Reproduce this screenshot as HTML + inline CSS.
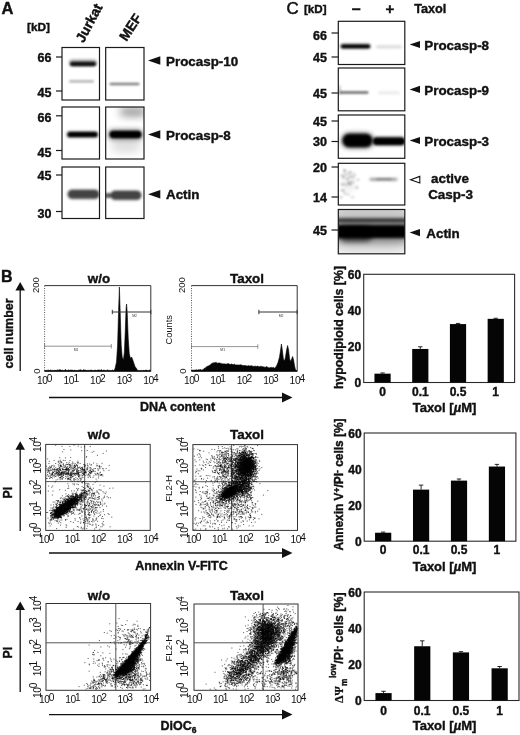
<!DOCTYPE html>
<html lang="en"><head><meta charset="utf-8"><title>Figure</title>
<style>html,body{margin:0;padding:0;background:#fff}svg{display:block}text{font-family:'Liberation Sans', Arial, Helvetica, sans-serif}</style></head><body>
<svg width="520" height="735" viewBox="0 0 520 735" font-family='"Liberation Sans", Arial, Helvetica, sans-serif'>
<rect width="520" height="735" fill="#fff"/>
<defs>
<filter id="b1" x="-50%" y="-200%" width="200%" height="500%"><feGaussianBlur stdDeviation="0.6"/></filter>
<filter id="b2" x="-50%" y="-200%" width="200%" height="500%"><feGaussianBlur stdDeviation="1.0"/></filter>
<filter id="b3" x="-50%" y="-200%" width="200%" height="500%"><feGaussianBlur stdDeviation="1.6"/></filter>
<filter id="b4" x="-50%" y="-200%" width="200%" height="500%"><feGaussianBlur stdDeviation="2.4"/></filter>
<filter id="b5" x="-50%" y="-200%" width="200%" height="500%"><feGaussianBlur stdDeviation="4"/></filter>
<filter id="b6" x="-50%" y="-200%" width="200%" height="500%"><feGaussianBlur stdDeviation="7"/></filter>
<filter id="bd" x="-2%" y="-2%" width="104%" height="104%"><feGaussianBlur stdDeviation="3.2"/></filter>
</defs>
<text x="1.5" y="13.6" font-size="16.5" font-weight="bold" stroke="#111" stroke-width="0.4" text-anchor="start" fill="#111">A</text>
<text x="27" y="31" font-size="11.8" font-weight="bold" stroke="#111" stroke-width="0.4" text-anchor="start" fill="#111">[kD]</text>
<text x="83.5" y="43.5" font-size="13.8" font-weight="bold" stroke="#111" stroke-width="0.4" text-anchor="start" fill="#111" transform="rotate(-62 83.5 43.5)">Jurkat</text>
<text x="126.5" y="42" font-size="13.8" font-weight="bold" stroke="#111" stroke-width="0.4" text-anchor="start" fill="#111" transform="rotate(-57 126.5 42)">MEF</text>
<clipPath id="c1"><rect x="62" y="47.5" width="37.5" height="52.5"/></clipPath>
<g clip-path="url(#c1)">
<rect x="70.0" y="61.75" width="26" height="4.5" rx="2.25" fill="#000" opacity="0.9" filter="url(#b2)"/>
<rect x="69.0" y="59.55" width="28" height="6.5" rx="3.25" fill="#000" opacity="0.35" filter="url(#b3)"/>
<rect x="69.0" y="80.2" width="25" height="2.2" rx="1.1" fill="#000" opacity="0.33" filter="url(#b2)"/>
</g>
<rect x="62" y="47.5" width="37.5" height="52.5" fill="none" stroke="#1a1a1a" stroke-width="1.2"/>
<clipPath id="c2"><rect x="105.7" y="47.5" width="38.3" height="52.5"/></clipPath>
<g clip-path="url(#c2)">
<rect x="109.5" y="82.7" width="30" height="2.6" rx="1.3" fill="#000" opacity="0.5" filter="url(#b2)"/>
</g>
<rect x="105.7" y="47.5" width="38.3" height="52.5" fill="none" stroke="#1a1a1a" stroke-width="1.2"/>
<clipPath id="c3"><rect x="62" y="107" width="37.5" height="52"/></clipPath>
<g clip-path="url(#c3)">
<rect x="67.5" y="132.0" width="30" height="5" rx="2.5" fill="#000" opacity="1" filter="url(#b2)"/>
<rect x="66.5" y="131.0" width="32" height="7" rx="3.5" fill="#000" opacity="0.4" filter="url(#b3)"/>
</g>
<rect x="62" y="107" width="37.5" height="52" fill="none" stroke="#1a1a1a" stroke-width="1.2"/>
<clipPath id="c4"><rect x="105.7" y="107" width="38.3" height="52"/></clipPath>
<g clip-path="url(#c4)">
<rect x="109.5" y="130.75" width="32" height="7.5" rx="3.75" fill="#000" opacity="1" filter="url(#b2)"/>
<rect x="107.5" y="129.0" width="36" height="11" rx="5.5" fill="#000" opacity="0.4" filter="url(#b4)"/>
<rect x="120.0" y="108.0" width="26" height="8" rx="4.0" fill="#000" opacity="0.45" filter="url(#b5)"/>
<rect x="111.0" y="137.0" width="30" height="16" rx="8.0" fill="#000" opacity="0.12" filter="url(#b5)"/>
</g>
<rect x="105.7" y="107" width="38.3" height="52" fill="none" stroke="#1a1a1a" stroke-width="1.2"/>
<clipPath id="c5"><rect x="62" y="167" width="37.5" height="51.5"/></clipPath>
<g clip-path="url(#c5)">
<rect x="68.0" y="190.05" width="31" height="8.5" rx="4.25" fill="#000" opacity="0.62" filter="url(#b2)"/>
<rect x="67.0" y="189.05" width="33" height="10.5" rx="5.25" fill="#000" opacity="0.3" filter="url(#b3)"/>
</g>
<rect x="62" y="167" width="37.5" height="51.5" fill="none" stroke="#1a1a1a" stroke-width="1.2"/>
<clipPath id="c6"><rect x="105.7" y="167" width="38.3" height="51.5"/></clipPath>
<g clip-path="url(#c6)">
<rect x="111.0" y="191.05" width="30" height="8.5" rx="4.25" fill="#000" opacity="0.62" filter="url(#b2)"/>
<rect x="110.0" y="190.05" width="32" height="10.5" rx="5.25" fill="#000" opacity="0.3" filter="url(#b3)"/>
<rect x="104.0" y="193.0" width="8" height="5" rx="2.5" fill="#000" opacity="0.6" filter="url(#b2)"/>
</g>
<rect x="105.7" y="167" width="38.3" height="51.5" fill="none" stroke="#1a1a1a" stroke-width="1.2"/>
<line x1="56" y1="57" x2="62" y2="57" stroke="#1a1a1a" stroke-width="1.2"/>
<text x="51.5" y="62.4" font-size="12.5" font-weight="bold" stroke="#111" stroke-width="0.4" text-anchor="end" fill="#111">66</text>
<line x1="56" y1="91" x2="62" y2="91" stroke="#1a1a1a" stroke-width="1.2"/>
<text x="51.5" y="97.4" font-size="12.5" font-weight="bold" stroke="#111" stroke-width="0.4" text-anchor="end" fill="#111">45</text>
<line x1="56" y1="115.8" x2="62" y2="115.8" stroke="#1a1a1a" stroke-width="1.2"/>
<text x="51.5" y="121.6" font-size="12.5" font-weight="bold" stroke="#111" stroke-width="0.4" text-anchor="end" fill="#111">66</text>
<line x1="56" y1="150.5" x2="62" y2="150.5" stroke="#1a1a1a" stroke-width="1.2"/>
<text x="51.5" y="156.8" font-size="12.5" font-weight="bold" stroke="#111" stroke-width="0.4" text-anchor="end" fill="#111">45</text>
<line x1="56" y1="175" x2="62" y2="175" stroke="#1a1a1a" stroke-width="1.2"/>
<text x="51.5" y="179.6" font-size="12.5" font-weight="bold" stroke="#111" stroke-width="0.4" text-anchor="end" fill="#111">45</text>
<line x1="56" y1="211.5" x2="62" y2="211.5" stroke="#1a1a1a" stroke-width="1.2"/>
<text x="51.5" y="217.7" font-size="12.5" font-weight="bold" stroke="#111" stroke-width="0.4" text-anchor="end" fill="#111">30</text>
<polygon points="148,60.5 160.3,56.3 160.3,64.7" fill="#111"/>
<text x="166" y="66" font-size="13.4" font-weight="bold" stroke="#111" stroke-width="0.4" text-anchor="start" fill="#111">Procasp-10</text>
<polygon points="148,134.5 160.3,130.3 160.3,138.7" fill="#111"/>
<text x="166" y="140" font-size="13.4" font-weight="bold" stroke="#111" stroke-width="0.4" text-anchor="start" fill="#111">Procasp-8</text>
<polygon points="148,194.2 160.3,190.0 160.3,198.39999999999998" fill="#111"/>
<text x="166" y="198.6" font-size="13.4" font-weight="bold" stroke="#111" stroke-width="0.4" text-anchor="start" fill="#111">Actin</text>
<text x="286.6" y="14.2" font-size="16.8" text-anchor="start" fill="#111" stroke="#111" stroke-width="0.55">C</text>
<text x="304" y="12.8" font-size="11.6" font-weight="bold" stroke="#111" stroke-width="0.4" text-anchor="start" fill="#111">[kD]</text>
<text x="356.2" y="14" font-size="16" font-weight="bold" stroke="#111" stroke-width="0.4" text-anchor="middle" fill="#111">–</text>
<text x="390" y="14" font-size="15" font-weight="bold" stroke="#111" stroke-width="0.4" text-anchor="middle" fill="#111">+</text>
<text x="414.2" y="13.2" font-size="12.7" font-weight="bold" stroke="#111" stroke-width="0.4" text-anchor="start" fill="#111">Taxol</text>
<clipPath id="c7"><rect x="338.3" y="21.3" width="66.5" height="43.2"/></clipPath>
<g clip-path="url(#c7)">
<rect x="341.0" y="44.4" width="29" height="3.8" rx="1.9" fill="#000" opacity="1" filter="url(#b2)"/>
<rect x="340.0" y="43.55" width="31" height="5.5" rx="2.75" fill="#000" opacity="0.35" filter="url(#b3)"/>
<rect x="376.0" y="45.7" width="26" height="2.2" rx="1.1" fill="#000" opacity="0.2" filter="url(#b3)"/>
</g>
<rect x="338.3" y="21.3" width="66.5" height="43.2" fill="none" stroke="#1a1a1a" stroke-width="1.2"/>
<clipPath id="c8"><rect x="338.3" y="68" width="66.5" height="42.8"/></clipPath>
<g clip-path="url(#c8)">
<rect x="339.5" y="91.3" width="29" height="2.4" rx="1.2" fill="#000" opacity="0.6" filter="url(#b2)"/>
<rect x="378.0" y="91.8" width="22" height="2" rx="1.0" fill="#000" opacity="0.12" filter="url(#b3)"/>
<rect x="337.0" y="85.0" width="4" height="10" rx="5.0" fill="#000" opacity="0.2" filter="url(#b3)"/>
</g>
<rect x="338.3" y="68" width="66.5" height="42.8" fill="none" stroke="#1a1a1a" stroke-width="1.2"/>
<clipPath id="c9"><rect x="338.3" y="115" width="66.5" height="43.3"/></clipPath>
<g clip-path="url(#c9)">
<rect x="342.5" y="133.75" width="30" height="13.5" rx="6.75" fill="#000" opacity="1" filter="url(#b3)"/>
<rect x="341.0" y="132.5" width="33" height="16" rx="8.0" fill="#000" opacity="0.45" filter="url(#b4)"/>
<rect x="373.0" y="137.45" width="32" height="7.5" rx="3.75" fill="#000" opacity="1" filter="url(#b2)"/>
<rect x="372.0" y="136.2" width="34" height="10" rx="5.0" fill="#000" opacity="0.35" filter="url(#b3)"/>
</g>
<rect x="338.3" y="115" width="66.5" height="43.3" fill="none" stroke="#1a1a1a" stroke-width="1.2"/>
<clipPath id="c10"><rect x="338.3" y="163.3" width="66.5" height="41.7"/></clipPath>
<g clip-path="url(#c10)">
<rect x="369.5" y="178.2" width="28" height="2.2" rx="1.1" fill="#000" opacity="0.5" filter="url(#b3)"/>
<rect x="376.0" y="178.5" width="16" height="1.6" rx="0.8" fill="#000" opacity="0.3" filter="url(#b2)"/>
<rect x="342.0" y="171.0" width="14" height="22" rx="11.0" fill="#000" opacity="0.05" filter="url(#b4)"/>
<rect x="339.8" y="173.65" width="4.0" height="2.9" rx="1.45" fill="#000" opacity="0.11" filter="url(#b2)"/>
<rect x="347.9" y="180.8" width="2.6" height="3.2" rx="1.6" fill="#000" opacity="0.12" filter="url(#b2)"/>
<rect x="346.8" y="182.05" width="3.2" height="2.9" rx="1.45" fill="#000" opacity="0.2" filter="url(#b2)"/>
<rect x="348.25" y="174.95" width="3.7" height="3.1" rx="1.55" fill="#000" opacity="0.14" filter="url(#b2)"/>
<rect x="339.55" y="195.95" width="2.9" height="2.5" rx="1.25" fill="#000" opacity="0.22" filter="url(#b2)"/>
<rect x="350.1" y="181.1" width="4.0" height="2.0" rx="1.0" fill="#000" opacity="0.2" filter="url(#b2)"/>
<rect x="342.75" y="168.95" width="3.7" height="3.5" rx="1.75" fill="#000" opacity="0.13" filter="url(#b2)"/>
<rect x="351.05" y="175.3" width="3.9" height="3.2" rx="1.6" fill="#000" opacity="0.13" filter="url(#b2)"/>
<rect x="354.9" y="186.05" width="3.8" height="3.3" rx="1.65" fill="#000" opacity="0.16" filter="url(#b2)"/>
<rect x="347.0" y="192.7" width="2.4" height="3.4" rx="1.7" fill="#000" opacity="0.16" filter="url(#b2)"/>
<rect x="348.2" y="171.15" width="3.8" height="2.5" rx="1.25" fill="#000" opacity="0.22" filter="url(#b2)"/>
<rect x="344.65" y="183.4" width="3.1" height="3.0" rx="1.5" fill="#000" opacity="0.13" filter="url(#b2)"/>
<rect x="340.75" y="188.95" width="3.9" height="2.9" rx="1.45" fill="#000" opacity="0.23" filter="url(#b2)"/>
<rect x="343.6" y="191.75" width="2.6" height="3.5" rx="1.75" fill="#000" opacity="0.19" filter="url(#b2)"/>
<rect x="350.5" y="195.45" width="4.0" height="3.3" rx="1.65" fill="#000" opacity="0.11" filter="url(#b2)"/>
<rect x="343.2" y="169.35" width="2.6" height="2.3" rx="1.15" fill="#000" opacity="0.22" filter="url(#b2)"/>
<rect x="341.75" y="175.2" width="3.3" height="3.4" rx="1.7" fill="#000" opacity="0.24" filter="url(#b2)"/>
<rect x="352.75" y="172.85" width="3.5" height="3.1" rx="1.55" fill="#000" opacity="0.11" filter="url(#b2)"/>
<rect x="345.7" y="177.45" width="3.6" height="3.1" rx="1.55" fill="#000" opacity="0.19" filter="url(#b2)"/>
<rect x="349.55" y="183.2" width="2.7" height="2.8" rx="1.4" fill="#000" opacity="0.12" filter="url(#b2)"/>
<rect x="348.1" y="182.8" width="4.0" height="2.6" rx="1.3" fill="#000" opacity="0.1" filter="url(#b2)"/>
<rect x="344.05" y="172.9" width="3.9" height="2.6" rx="1.3" fill="#000" opacity="0.15" filter="url(#b2)"/>
<rect x="356.8" y="178.5" width="3.0" height="2.6" rx="1.3" fill="#000" opacity="0.17" filter="url(#b2)"/>
<rect x="340.65" y="182.95" width="4.3" height="2.9" rx="1.45" fill="#000" opacity="0.2" filter="url(#b2)"/>
</g>
<rect x="338.3" y="163.3" width="66.5" height="41.7" fill="none" stroke="#1a1a1a" stroke-width="1.2"/>
<clipPath id="c11"><rect x="338.3" y="209.5" width="66.5" height="44.3"/></clipPath>
<g clip-path="url(#c11)">
<rect x="338.3" y="209.5" width="66.5" height="44.3" fill="#f6f6f6"/>
<rect x="331.5" y="225.0" width="80" height="13" rx="6.5" fill="#000" opacity="1" filter="url(#b3)"/>
<rect x="339.0" y="226.5" width="34" height="15" rx="7.5" fill="#000" opacity="0.6" filter="url(#b4)"/>
<rect x="331.5" y="222.5" width="80" height="19" rx="9.5" fill="#000" opacity="0.4" filter="url(#b5)"/>
<rect x="331.5" y="218.2" width="80" height="4.2" rx="2.1" fill="#000" opacity="0.7" filter="url(#b3)"/>
<rect x="326.5" y="203.0" width="90" height="46" rx="23.0" fill="#000" opacity="0.2" filter="url(#b6)"/>
</g>
<rect x="338.3" y="209.5" width="66.5" height="44.3" fill="none" stroke="#1a1a1a" stroke-width="1.2"/>
<line x1="331.5" y1="33" x2="338.3" y2="33" stroke="#1a1a1a" stroke-width="1.2"/>
<text x="327" y="40.2" font-size="12.5" font-weight="bold" stroke="#111" stroke-width="0.4" text-anchor="end" fill="#111">66</text>
<line x1="331.5" y1="57" x2="338.3" y2="57" stroke="#1a1a1a" stroke-width="1.2"/>
<text x="327" y="61.6" font-size="12.5" font-weight="bold" stroke="#111" stroke-width="0.4" text-anchor="end" fill="#111">45</text>
<line x1="331.5" y1="93" x2="338.3" y2="93" stroke="#1a1a1a" stroke-width="1.2"/>
<text x="327" y="97.6" font-size="12.5" font-weight="bold" stroke="#111" stroke-width="0.4" text-anchor="end" fill="#111">45</text>
<line x1="331.5" y1="121" x2="338.3" y2="121" stroke="#1a1a1a" stroke-width="1.2"/>
<text x="327" y="125.6" font-size="12.5" font-weight="bold" stroke="#111" stroke-width="0.4" text-anchor="end" fill="#111">45</text>
<line x1="331.5" y1="141.5" x2="338.3" y2="141.5" stroke="#1a1a1a" stroke-width="1.2"/>
<text x="327" y="146.1" font-size="12.5" font-weight="bold" stroke="#111" stroke-width="0.4" text-anchor="end" fill="#111">30</text>
<line x1="331.5" y1="167" x2="338.3" y2="167" stroke="#1a1a1a" stroke-width="1.2"/>
<text x="327" y="171.6" font-size="12.5" font-weight="bold" stroke="#111" stroke-width="0.4" text-anchor="end" fill="#111">20</text>
<line x1="331.5" y1="197" x2="338.3" y2="197" stroke="#1a1a1a" stroke-width="1.2"/>
<text x="327" y="201.6" font-size="12.5" font-weight="bold" stroke="#111" stroke-width="0.4" text-anchor="end" fill="#111">14</text>
<line x1="331.5" y1="230" x2="338.3" y2="230" stroke="#1a1a1a" stroke-width="1.2"/>
<text x="327" y="234.6" font-size="12.5" font-weight="bold" stroke="#111" stroke-width="0.4" text-anchor="end" fill="#111">45</text>
<polygon points="409.6,44.5 420,40.9 420,48.1" fill="#111"/>
<text x="424.3" y="50.1" font-size="13.4" font-weight="bold" stroke="#111" stroke-width="0.4" text-anchor="start" fill="#111">Procasp-8</text>
<polygon points="409.6,89.4 420,85.80000000000001 420,93.0" fill="#111"/>
<text x="424.3" y="95.0" font-size="13.4" font-weight="bold" stroke="#111" stroke-width="0.4" text-anchor="start" fill="#111">Procasp-9</text>
<polygon points="409.6,140.5 420,136.9 420,144.1" fill="#111"/>
<text x="424.3" y="146.1" font-size="13.4" font-weight="bold" stroke="#111" stroke-width="0.4" text-anchor="start" fill="#111">Procasp-3</text>
<polygon points="409.6,232.6 420,229.0 420,236.2" fill="#111"/>
<text x="426.3" y="238.2" font-size="13.4" font-weight="bold" stroke="#111" stroke-width="0.4" text-anchor="start" fill="#111">Actin</text>
<polygon points="410.6,179.7 419.8,176.4 419.8,183" fill="#fff" stroke="#111" stroke-width="1.1"/>
<text x="431" y="182.8" font-size="13.4" font-weight="bold" stroke="#111" stroke-width="0.4" text-anchor="start" fill="#111">active</text>
<text x="428.2" y="199" font-size="13.4" font-weight="bold" stroke="#111" stroke-width="0.4" text-anchor="start" fill="#111">Casp-3</text>
<text x="1" y="281.6" font-size="16" font-weight="bold" stroke="#111" stroke-width="0.4" text-anchor="start" fill="#111">B</text>
<line x1="20.2" y1="289" x2="20.2" y2="371" stroke="#111" stroke-width="1.3"/>
<polygon points="20.2,282 15.399999999999999,290.5 25.0,290.5" fill="#111"/>
<text x="13" y="368.5" font-size="12.5" font-weight="bold" stroke="#111" stroke-width="0.4" text-anchor="start" fill="#111" transform="rotate(-90 13 368.5)">cell number</text>
<line x1="49" y1="397.5" x2="285.5" y2="397.5" stroke="#111" stroke-width="1.3"/>
<polygon points="292.5,397.5 282.0,392.5 282.0,402.5" fill="#111"/>
<text x="177.5" y="411" font-size="12.5" font-weight="bold" stroke="#111" stroke-width="0.4" text-anchor="middle" fill="#111">DNA content</text>
<text x="99" y="282.5" font-size="13.4" font-weight="bold" stroke="#111" stroke-width="0.4" text-anchor="middle" fill="#111">w/o</text>
<text x="247" y="282.5" font-size="13.4" font-weight="bold" stroke="#111" stroke-width="0.4" text-anchor="middle" fill="#111">Taxol</text>
<line x1="44.6" y1="285.6" x2="44.6" y2="371.2" stroke="#555" stroke-width="1" stroke-dasharray="1 1.4"/>
<line x1="44.6" y1="285.6" x2="150.8" y2="285.6" stroke="#333" stroke-width="1"/>
<line x1="150.8" y1="285.6" x2="150.8" y2="371.2" stroke="#333" stroke-width="1"/>
<line x1="44.6" y1="371.2" x2="150.8" y2="371.2" stroke="#333" stroke-width="1"/>
<path d="M44.6,371.2 L44.6,370.6 L45.4,370.5 L46.2,370.5 L47.0,370.2 L47.8,370.4 L48.6,370.1 L49.4,370.6 L50.2,369.9 L51.0,370.4 L51.8,370.3 L52.6,370.4 L53.4,370.4 L54.2,370.5 L55.0,370.1 L55.8,370.6 L56.6,370.3 L57.4,369.9 L58.2,370.4 L59.0,369.6 L59.8,370.0 L60.6,369.7 L61.4,370.5 L62.2,370.0 L63.0,370.5 L63.8,370.5 L64.6,370.5 L65.4,369.3 L66.2,370.3 L67.0,370.6 L67.8,370.5 L68.6,369.8 L69.4,370.4 L70.2,370.1 L71.0,370.2 L71.8,370.1 L72.6,370.2 L73.4,370.6 L74.2,370.2 L75.0,370.3 L75.8,370.5 L76.6,370.5 L77.4,370.6 L78.2,370.0 L79.0,370.6 L79.8,369.9 L80.6,369.8 L81.4,370.2 L82.2,370.5 L83.0,370.3 L83.8,369.6 L84.6,370.2 L85.4,370.0 L86.2,370.6 L87.0,370.3 L87.8,370.5 L88.6,370.3 L89.4,370.6 L90.2,370.3 L91.0,369.9 L91.8,370.3 L92.6,370.5 L93.4,370.4 L94.2,370.5 L95.0,370.0 L95.8,370.3 L96.6,370.5 L97.4,370.2 L98.2,370.0 L99.0,369.9 L99.8,370.2 L100.6,370.3 L101.4,369.6 L102.2,370.4 L103.0,370.6 L103.8,370.0 L104.6,370.3 L105.4,370.4 L106.2,370.4 L107.0,370.5 L107.8,369.8 L108.6,370.4 L109.4,370.4 L110.2,370.4 L111.0,370.5 L111.8,370.5 L112.6,370.0 L113.4,370.6 L114.2,370.4 L115.2,368 L116.5,362 L117.6,345 L118.6,310 L119.4,287 L120.2,312 L121.2,345 L122.2,357 L123.4,360 L124.4,352 L125.3,330 L126.1,308 L126.6,304 L127.2,312 L128.2,338 L129.3,354 L130.5,358.5 L131.6,357 L132.6,359.5 L133.8,363 L135,366.5 L136.8,369 L137.5,370.4 L138.3,370.5 L139.1,370.7 L139.9,370.5 L140.7,370.6 L141.5,370.4 L142.3,370.7 L143.1,370.5 L143.9,370.3 L144.7,370.6 L145.5,370.2 L146.3,370.1 L147.1,370.6 L147.9,370.4 L148.7,370.7 L149.5,370.0 L150.3,370.5 L150.8,371.2 Z" fill="#050505" stroke="#050505" stroke-width="0.6" stroke-linejoin="round"/>
<line x1="44.6" y1="346.2" x2="111.3" y2="346.2" stroke="#777" stroke-width="0.8"/>
<line x1="44.6" y1="344.0" x2="44.6" y2="348.4" stroke="#777" stroke-width="0.8"/>
<line x1="111.3" y1="344.0" x2="111.3" y2="348.4" stroke="#777" stroke-width="0.8"/>
<text x="76.0" y="350.8" font-size="3.4" fill="#333" text-anchor="middle">M1</text>
<line x1="112.3" y1="312" x2="150.8" y2="312" stroke="#333" stroke-width="1"/>
<line x1="112.3" y1="309.8" x2="112.3" y2="314.2" stroke="#333" stroke-width="1"/>
<line x1="150.8" y1="309.8" x2="150.8" y2="314.2" stroke="#333" stroke-width="1"/>
<text x="134.6" y="316.6" font-size="3.4" fill="#333" text-anchor="middle">M2</text>
<text x="38.9" y="293.1" font-size="9.5" text-anchor="start" fill="#111" transform="rotate(-90 38.9 293.1)">200</text>
<text x="39.6" y="373.8" font-size="9.5" text-anchor="start" fill="#111" transform="rotate(-90 39.6 373.8)">0</text>
<text x="37.0" y="383.9" font-size="10.2" letter-spacing="-0.35" fill="#111">10<tspan dy="-2.4" dx="-0.8">0</tspan></text>
<text x="63.55" y="383.9" font-size="10.2" letter-spacing="-0.35" fill="#111">10<tspan dy="-2.4" dx="-0.8">1</tspan></text>
<text x="90.1" y="383.9" font-size="10.2" letter-spacing="-0.35" fill="#111">10<tspan dy="-2.4" dx="-0.8">2</tspan></text>
<text x="116.65" y="383.9" font-size="10.2" letter-spacing="-0.35" fill="#111">10<tspan dy="-2.4" dx="-0.8">3</tspan></text>
<text x="143.2" y="383.9" font-size="10.2" letter-spacing="-0.35" fill="#111">10<tspan dy="-2.4" dx="-0.8">4</tspan></text>
<text x="172.3" y="344.5" font-size="9.3" text-anchor="start" fill="#111" transform="rotate(-90 172.3 344.5)">Counts</text>
<line x1="191.5" y1="285.6" x2="191.5" y2="371.2" stroke="#555" stroke-width="1" stroke-dasharray="1 1.4"/>
<line x1="191.5" y1="285.6" x2="297.2" y2="285.6" stroke="#333" stroke-width="1"/>
<line x1="297.2" y1="285.6" x2="297.2" y2="371.2" stroke="#333" stroke-width="1"/>
<line x1="191.5" y1="371.2" x2="297.2" y2="371.2" stroke="#333" stroke-width="1"/>
<path d="M191.5,371.2 L191.5,370.1 L192.2,370.3 L192.9,370.1 L193.6,370.2 L194.3,370.2 L195.0,369.9 L195.7,370.0 L196.4,369.7 L197.1,370.1 L197.8,370.1 L198.5,369.6 L199.2,370.0 L199.9,369.6 L200.6,369.5 L201.3,369.9 L202.0,369.9 L202.7,369.7 L203.4,369.7 L204.1,368.3 L204.8,368.2 L205.5,368.2 L206.2,366.8 L206.9,367.0 L207.6,366.1 L208.3,366.1 L209.0,365.6 L209.7,365.2 L210.4,365.0 L211.1,363.9 L211.8,363.5 L212.5,363.0 L213.2,363.2 L213.9,362.6 L214.6,362.7 L215.3,362.4 L216.0,362.5 L216.7,362.8 L217.4,363.2 L218.1,362.9 L218.8,363.1 L219.5,362.9 L220.2,363.0 L220.9,363.7 L221.6,363.4 L222.3,363.9 L223.0,363.6 L223.7,363.9 L224.4,363.8 L225.1,364.2 L225.8,364.0 L226.5,364.1 L227.2,363.6 L227.9,364.0 L228.6,363.6 L229.3,364.2 L230.0,364.0 L230.7,364.5 L231.4,364.0 L232.1,364.0 L232.8,364.7 L233.5,364.5 L234.2,364.0 L234.9,364.6 L235.6,365.0 L236.3,365.0 L237.0,364.8 L237.7,365.0 L238.4,365.0 L239.1,365.2 L239.8,364.8 L240.5,364.8 L241.2,364.8 L241.9,365.3 L242.6,365.5 L243.3,365.6 L244.0,365.5 L244.7,365.5 L245.4,365.5 L246.1,365.7 L246.8,365.9 L247.5,366.0 L248.2,365.5 L248.9,365.8 L249.6,366.0 L250.3,366.0 L251.0,365.6 L251.7,365.9 L252.4,365.9 L253.1,366.4 L253.8,366.3 L254.5,366.2 L255.2,366.2 L255.9,366.2 L256.6,366.5 L257.3,366.1 L258.0,366.3 L258.7,366.5 L259.4,366.7 L260.1,366.6 L260.8,366.2 L261.5,366.4 L262.2,366.7 L262.9,366.4 L263.6,366.9 L264.3,366.9 L265.0,367.4 L265.7,367.1 L266.4,366.7 L267.1,366.6 L267.8,367.6 L268.5,367.7 L269.2,367.7 L269.9,367.8 L270.6,367.5 L271.3,367.2 L272.0,368.0 L272.7,367.6 L273.4,367.3 L274.1,367.9 L274.8,368.2 L276.5,366 L278,362.5 L279.5,357 L280.6,350 L281.4,344 L282.3,350 L283.4,359 L284.5,361 L285.5,357 L286.6,350 L287.6,345.5 L288.6,350 L289.6,359 L290.8,361.5 L291.8,358.5 L292.6,356.5 L293.6,360 L294.6,366 L295.4,369.5 L297.2,371.2 Z" fill="#050505" stroke="#050505" stroke-width="0.6" stroke-linejoin="round"/>
<line x1="191.5" y1="346.6" x2="257.8" y2="346.6" stroke="#777" stroke-width="0.8"/>
<line x1="191.5" y1="344.40000000000003" x2="191.5" y2="348.8" stroke="#777" stroke-width="0.8"/>
<line x1="257.8" y1="344.40000000000003" x2="257.8" y2="348.8" stroke="#777" stroke-width="0.8"/>
<text x="222.7" y="351.20000000000005" font-size="3.4" fill="#333" text-anchor="middle">M1</text>
<line x1="258.9" y1="312" x2="297.2" y2="312" stroke="#333" stroke-width="1"/>
<line x1="258.9" y1="309.8" x2="258.9" y2="314.2" stroke="#333" stroke-width="1"/>
<line x1="297.2" y1="309.8" x2="297.2" y2="314.2" stroke="#333" stroke-width="1"/>
<text x="281.0" y="316.6" font-size="3.4" fill="#333" text-anchor="middle">M2</text>
<text x="185.5" y="293.1" font-size="9.5" text-anchor="start" fill="#111" transform="rotate(-90 185.5 293.1)">200</text>
<text x="186.2" y="373.8" font-size="9.5" text-anchor="start" fill="#111" transform="rotate(-90 186.2 373.8)">0</text>
<text x="183.9" y="383.9" font-size="10.2" letter-spacing="-0.35" fill="#111">10<tspan dy="-2.4" dx="-0.8">0</tspan></text>
<text x="210.33" y="383.9" font-size="10.2" letter-spacing="-0.35" fill="#111">10<tspan dy="-2.4" dx="-0.8">1</tspan></text>
<text x="236.75" y="383.9" font-size="10.2" letter-spacing="-0.35" fill="#111">10<tspan dy="-2.4" dx="-0.8">2</tspan></text>
<text x="263.17" y="383.9" font-size="10.2" letter-spacing="-0.35" fill="#111">10<tspan dy="-2.4" dx="-0.8">3</tspan></text>
<text x="289.6" y="383.9" font-size="10.2" letter-spacing="-0.35" fill="#111">10<tspan dy="-2.4" dx="-0.8">4</tspan></text>
<line x1="20.2" y1="448.3" x2="20.2" y2="531" stroke="#111" stroke-width="1.3"/>
<polygon points="20.2,441.3 15.399999999999999,449.8 25.0,449.8" fill="#111"/>
<text x="11.6" y="498.4" font-size="12.3" font-weight="bold" stroke="#111" stroke-width="0.4" text-anchor="start" fill="#111" transform="rotate(-90 11.6 498.4)">PI</text>
<line x1="49" y1="553" x2="285.5" y2="553" stroke="#111" stroke-width="1.3"/>
<polygon points="292.5,553 282.0,548 282.0,558" fill="#111"/>
<text x="181.5" y="569.6" font-size="12.5" font-weight="bold" stroke="#111" stroke-width="0.4" text-anchor="middle" fill="#111">Annexin V-FITC</text>
<text x="99" y="439" font-size="13.4" font-weight="bold" stroke="#111" stroke-width="0.4" text-anchor="middle" fill="#111">w/o</text>
<text x="247" y="439" font-size="13.4" font-weight="bold" stroke="#111" stroke-width="0.4" text-anchor="middle" fill="#111">Taxol</text>
<text x="171.8" y="501.8" font-size="9.6" text-anchor="start" fill="#111" transform="rotate(-90 171.8 501.8)">FL2-H</text>
<rect x="45.7" y="444.4" width="104.5" height="86.0" fill="none" stroke="#333" stroke-width="1"/>
<line x1="84.7" y1="444.4" x2="84.7" y2="530.4" stroke="#444" stroke-width="0.9"/>
<line x1="45.7" y1="481.6" x2="150.2" y2="481.6" stroke="#444" stroke-width="0.9"/>
<path transform="scale(.1)" d="M612 5069h1M549 5093h1M585 5115h1M587 5145h1M574 5118h1M626 5105h1M576 5113h1M624 5090h1M624 5091h1M682 5039h1M571 5153h1M653 5087h1M633 5136h1M620 5113h1M580 5169h1M600 5120h1M654 5100h1M611 5106h1M612 5095h1M622 5137h1M668 5087h1M626 5121h1M525 5153h1M568 5096h1M532 5145h1M500 5201h1M577 5095h1M683 5093h1M598 5079h1M580 5148h1M616 5178h1M623 5029h1M601 5074h1M630 5121h1M611 5104h1M619 5108h1M643 5081h1M654 5115h1M632 5110h1M571 5126h1M631 5087h1M575 5104h1M654 5073h1M539 5101h1M619 5121h1M611 5101h1M591 5174h1M694 5078h1M652 5042h1M610 5134h1M637 5075h1M630 5096h1M532 5195h1M629 5104h1M619 5115h1M624 5111h1M566 5122h1M597 5102h1M616 5120h1M670 5087h1M624 5091h1M616 5107h1M658 5045h1M561 5076h1M590 5102h1M549 5156h1M675 5064h1M661 5093h1M660 5095h1M652 5103h1M624 5109h1M628 5106h1M596 5100h1M613 5117h1M619 5107h1M686 5084h1M615 5062h1M606 5098h1M571 5091h1M582 5109h1M655 5036h1M637 5095h1M608 5091h1M568 5069h1M590 5156h1M598 5087h1M626 5052h1M595 5109h1M597 5098h1M591 5090h1M627 5113h1M551 5142h1M618 5126h1M592 5140h1M655 5091h1M589 5129h1M634 5087h1M665 5055h1M622 5138h1M567 5088h1M607 5080h1M606 5093h1M583 5139h1M633 5094h1M682 5040h1M600 5105h1M629 5139h1M567 5121h1M589 5046h1M593 5171h1M561 5119h1M657 5063h1M583 5132h1M637 5051h1M686 5083h1M622 5095h1M616 5064h1M689 5054h1M613 5118h1M592 5119h1M571 5150h1M596 5077h1M681 5080h1M639 5063h1M597 5153h1M575 5117h1M598 5121h1M659 5141h1M608 5111h1M637 5117h1M632 5104h1M584 5087h1M628 5125h1M636 5118h1M593 5082h1M632 5089h1M664 5027h1M633 5083h1M629 5119h1M554 5153h1M613 5073h1M531 5143h1M563 5144h1M646 5080h1M642 5087h1M617 5119h1M527 5119h1M601 5115h1M605 5143h1M645 5096h1M689 5030h1M615 5088h1M588 5129h1M581 5149h1M613 5106h1M630 5139h1M590 5159h1M609 5088h1M579 5145h1M651 5068h1M638 5055h1M646 5064h1M597 5118h1M606 5054h1M601 5097h1M605 5122h1M593 5102h1M562 5134h1M573 5160h1M643 5082h1M610 5113h1M648 5133h1M654 5080h1M555 5158h1M592 5134h1M643 5129h1M634 5100h1M602 5116h1M651 5075h1M637 5119h1M562 5128h1M597 5152h1M647 5087h1M615 5070h1M554 5170h1M671 5076h1M623 5070h1M669 5074h1M605 5121h1M601 5109h1M560 5118h1M737 5073h1M619 5124h1M686 5078h1M605 5142h1M632 5115h1M564 5166h1M597 5110h1M663 5093h1M567 5138h1M649 5068h1M637 5108h1M575 5132h1M575 5091h1M594 5112h1M621 5117h1M596 5121h1M596 5144h1M600 5109h1M566 5119h1M578 5155h1M616 5110h1M633 5061h1M565 5156h1M613 5102h1M604 5141h1M590 5146h1M653 5090h1M568 5083h1M675 5070h1M593 5135h1M636 5104h1M609 5114h1M579 5115h1M634 5086h1M583 5075h1M634 5085h1M595 5082h1M572 5130h1M604 5098h1M635 5128h1M652 5081h1M583 5131h1M617 5110h1M579 5189h1M628 5072h1M580 5141h1M554 5162h1M616 5111h1M659 5078h1M554 5140h1M591 5156h1M599 5141h1M570 5131h1M627 5092h1M590 5134h1M596 5135h1M647 5103h1M588 5127h1M616 5073h1M593 5150h1M551 5113h1M537 5142h1M689 5061h1M593 5101h1M642 5123h1M636 5135h1M637 5122h1M622 5110h1M689 5058h1M583 5142h1M557 5146h1M605 5169h1M560 5134h1M660 5108h1M653 5093h1M585 5139h1M579 5163h1M619 5138h1M679 5083h1M512 5183h1M627 5081h1M568 5125h1M666 5093h1M585 5148h1M616 5128h1M554 5139h1M605 5166h1M650 5046h1M651 5090h1M610 5129h1M579 5123h1M532 5140h1M596 5110h1M601 5088h1M610 5105h1M596 5087h1M558 5115h1M614 5109h1M595 5082h1M660 5067h1M682 5052h1M622 5124h1M590 5131h1M603 5094h1M609 5144h1M580 5115h1M608 5101h1M573 5129h1M665 5125h1M612 5110h1M616 5087h1M618 5123h1M587 5124h1M610 5171h1M598 5100h1M603 5131h1M613 5084h1M638 5136h1M556 5131h1M620 5107h1M555 5129h1M604 5138h1M612 5124h1M510 5125h1M629 5116h1M629 5113h1M613 5114h1M612 5134h1M586 5095h1M557 5103h1M614 5124h1M617 5149h1M604 5083h1M557 5120h1M613 5085h1M606 5082h1M621 5123h1M601 5120h1M653 5113h1M572 5175h1M620 5076h1M632 5110h1M597 5059h1M628 5093h1M599 5134h1M595 5099h1M616 5057h1M625 5085h1M638 5120h1M555 5141h1M617 5067h1M664 5081h1M662 5090h1M611 5081h1M556 5146h1M664 5097h1M614 5115h1M532 5188h1M625 5090h1M559 5144h1M553 5122h1M583 5111h1M682 5096h1M596 5108h1M614 5082h1M673 5049h1M661 5044h1M618 5117h1M618 5128h1M557 5124h1M603 5142h1M658 5129h1M617 5077h1M628 5114h1M655 5083h1M604 5150h1M630 5129h1M656 5104h1M641 5095h1M650 5069h1M659 5133h1M594 5101h1M643 5115h1M592 5151h1M546 5139h1M637 5090h1M632 5132h1M603 5066h1M564 5166h1M598 5111h1M590 5118h1M565 5105h1M538 5175h1M590 5097h1M657 5093h1M615 5076h1M603 5134h1M619 5111h1M619 5052h1M510 5176h1M609 5107h1M607 5052h1M635 5080h1M688 5072h1M647 5061h1M641 5116h1M612 5078h1M629 5063h1M602 5130h1M621 5117h1M646 5077h1M687 5051h1M622 5126h1M606 5097h1M648 5134h1M670 5075h1M619 5113h1M672 5069h1M576 5127h1M624 5131h1M600 5101h1M646 5086h1M662 5087h1M577 5170h1M596 5150h1M623 5090h1M603 5139h1M558 5146h1M640 5058h1M620 5074h1M613 5065h1M601 5123h1M667 5095h1M593 5095h1M651 5069h1M567 5111h1M583 5128h1M607 5079h1M579 5110h1M631 5074h1M618 5089h1M576 5124h1M615 5099h1M599 5111h1M636 5063h1M598 5131h1M577 5088h1M661 5073h1M685 5027h1M690 5051h1M620 5107h1M597 5065h1M675 5068h1M627 5130h1M588 5144h1M623 5107h1M604 5056h1M582 5124h1M543 5135h1M575 5162h1M635 5081h1M579 5115h1M587 5079h1M632 5111h1M630 5078h1M599 5109h1M646 5108h1M583 5130h1M605 5119h1M607 5172h1M649 5064h1M607 5097h1M593 5133h1M619 5137h1M588 5086h1M637 5081h1M544 5132h1M559 5110h1M608 5124h1M698 5021h1M653 5083h1M612 5109h1M642 5087h1M691 5048h1M592 5093h1M600 5113h1M661 5074h1M637 5096h1M635 5081h1M608 5134h1M692 5060h1M678 5059h1M643 5099h1M642 5088h1M548 5171h1M613 5054h1M591 5088h1M625 5085h1M641 5087h1M575 5078h1M549 5146h1M630 5096h1M584 5120h1M599 5109h1M575 5098h1M603 5115h1M504 5134h1M671 5086h1M616 5086h1M668 5091h1M665 5020h1M620 5110h1M550 5156h1M570 5114h1M555 5117h1M611 5138h1M622 5109h1M559 5184h1M626 5093h1M561 5149h1M630 5103h1M620 5120h1M608 5120h1M622 5120h1M588 5111h1M573 5097h1M578 5184h1M615 5108h1M688 5061h1M682 5042h1M676 5084h1M643 5088h1M603 5141h1M659 5053h1M612 5105h1M615 5110h1M600 5107h1M621 5107h1M619 5143h1M604 5097h1M572 5130h1M603 5118h1M686 5025h1M597 5086h1M620 5130h1M644 5103h1M621 5059h1M556 5112h1M617 5123h1M664 5099h1M633 5108h1M626 5110h1M692 5089h1M590 5123h1M634 5124h1M611 5140h1M658 5048h1M552 5170h1M591 5125h1M588 5109h1M629 5073h1M642 5094h1M666 5066h1M568 5162h1M620 5055h1M596 5102h1M604 5142h1M635 5090h1M572 5119h1M533 5154h1M578 5085h1M543 5123h1M598 5132h1M630 5096h1M643 5118h1M670 5057h1M606 5108h1M525 5102h1M586 5124h1M608 5166h1M579 5150h1M630 5091h1M607 5144h1M553 5174h1M645 5092h1M607 5102h1M630 5098h1M630 5117h1M628 5074h1M623 5113h1M667 5079h1M648 5116h1M639 5107h1M622 5083h1M582 5172h1M610 5111h1M596 5100h1M627 5106h1M562 5139h1M689 5078h1M602 5080h1M557 5120h1M549 5148h1M627 5142h1M625 5125h1M576 5109h1M597 5074h1M588 5118h1M620 5069h1M596 5135h1M616 5109h1M651 5078h1M704 5027h1M597 5159h1M586 5102h1M567 5106h1M658 5103h1M590 5160h1M593 5113h1M622 5117h1M609 5172h1M570 5118h1M596 5116h1M544 5171h1M535 5110h1M598 5114h1M630 5114h1M607 5108h1M563 5172h1M608 5131h1M639 5076h1M642 5099h1M618 5115h1M561 5102h1M627 5073h1M584 5108h1M565 5128h1M579 5119h1M650 5040h1M623 5099h1M634 5042h1M609 5134h1M653 5083h1M610 5145h1M614 5115h1M700 5027h1M625 5059h1M605 5130h1M612 5107h1M632 5102h1M669 5084h1M612 5138h1M550 5152h1M627 5142h1M614 5103h1M619 5102h1M672 5080h1M639 5113h1M662 5106h1M551 5104h1M664 5103h1M672 5021h1M636 5074h1M629 5104h1M635 5120h1M667 5038h1M559 5102h1M623 5124h1M636 5097h1M629 5067h1M595 5111h1M601 5063h1M612 5122h1M613 5093h1M626 5130h1M547 5101h1M623 5118h1M675 5118h1M581 5134h1M608 5114h1M615 5054h1M580 5140h1M622 5100h1M569 5124h1M637 5047h1M701 5042h1M676 5032h1M600 5102h1M646 5089h1M618 5100h1M618 5102h1M683 5078h1M551 5121h1M671 5099h1M598 5087h1M655 5050h1M623 5101h1M600 5136h1M628 5101h1M636 5077h1M607 5092h1M629 5087h1M583 5103h1M544 5173h1M645 5076h1M661 5112h1M611 5088h1M616 5101h1M658 5083h1M584 5098h1M580 5113h1M644 5157h1M658 5071h1M582 5168h1M645 5054h1M560 5081h1M581 5144h1M660 5069h1M615 5112h1M563 5135h1M594 5104h1M633 5058h1M671 5089h1M579 5090h1M642 5109h1M638 5081h1M577 5103h1M619 5083h1M626 5122h1M604 5132h1M603 5126h1M618 5104h1M602 5085h1M611 5142h1M593 5109h1M648 5064h1M616 5090h1M642 5073h1M640 5046h1M630 5081h1M688 5028h1M578 5118h1M622 5053h1M627 5146h1M667 5032h1M681 5062h1M547 5164h1M592 5148h1M663 5118h1M649 5090h1M651 5096h1M606 5099h1M650 5117h1M621 5063h1M609 5103h1M656 5081h1M541 5179h1M648 5101h1M591 5153h1M657 5088h1M607 5111h1M585 5133h1M647 5118h1M585 5135h1M593 5145h1M555 5146h1M590 5074h1M625 5081h1M657 5082h1M630 5136h1M671 5100h1M637 5133h1M602 5095h1M646 5102h1M653 5075h1M610 5125h1M605 5110h1M591 5086h1M627 5114h1M586 5136h1M663 5090h1M589 5101h1M645 5109h1M599 5147h1M646 5118h1M647 5118h1M594 5109h1M657 5006h1M641 5111h1M668 5040h1M647 5074h1M605 5142h1M604 5120h1M634 5097h1M626 5115h1M592 5071h1M629 5145h1M544 5149h1M603 5106h1M541 5176h1M627 5092h1M577 5110h1M587 5122h1M602 5104h1M616 5086h1M588 5179h1M532 5129h1M547 5096h1M528 5145h1M567 5115h1M691 5085h1M578 5136h1M649 5101h1M572 5153h1M614 5081h1M613 5127h1M614 5109h1M660 5121h1M682 5059h1M621 5098h1M628 5113h1M588 5144h1M613 5057h1M621 5132h1M659 5100h1M624 5120h1M664 5037h1M516 5125h1M600 5108h1M656 5093h1M608 5122h1M572 5109h1M617 5128h1M546 5119h1M601 5078h1M704 5036h1M649 5062h1M565 5123h1M563 5103h1M613 5134h1M637 5057h1M590 5134h1M599 5137h1M646 5079h1M649 5085h1M614 5132h1M594 5163h1M570 5164h1M571 5100h1M508 5134h1M634 5073h1M577 5103h1M639 5100h1M685 5055h1M655 5068h1M586 5155h1M659 5098h1M656 5071h1M592 5131h1M593 5149h1M606 5102h1M559 5154h1M656 5047h1M527 5172h1M578 5141h1M603 5110h1M609 5114h1M630 5112h1M630 5104h1M598 5098h1M649 5063h1M520 5143h1M636 5133h1M594 5131h1M625 5108h1M621 5096h1M587 5138h1M598 5131h1M634 5070h1M626 5092h1M605 5143h1M673 5026h1M687 5024h1M569 5155h1M616 5083h1M716 5048h1M630 5064h1M626 5103h1M618 5124h1M600 5126h1M617 5124h1M592 5117h1M640 5081h1M600 5115h1M606 5127h1M617 5200h1M612 5105h1M606 5162h1M605 5106h1M639 5057h1M625 5090h1M638 5098h1M630 5098h1M619 5106h1M617 5118h1M611 5123h1M655 5099h1M560 5115h1M664 5068h1M604 5088h1M591 5130h1M596 5117h1M592 5127h1M615 5093h1M578 5111h1M654 5069h1M595 5138h1M541 5181h1M567 5097h1M545 5165h1M617 5111h1M635 5051h1M625 5069h1M559 5133h1M592 5133h1M651 5016h1M622 5090h1M608 5096h1M656 5079h1M723 5061h1M680 5091h1M615 5094h1M623 5089h1M641 5092h1M607 5142h1M594 5158h1M621 5109h1M599 5156h1M601 5092h1M604 5083h1M665 4993h1M573 5114h1M618 5118h1M620 5124h1M675 5151h1M661 5086h1M599 5122h1M573 5112h1M547 5140h1M574 5121h1M632 5087h1M608 5093h1M559 5109h1M615 5133h1M622 5112h1M651 5114h1M573 5094h1M589 5090h1M539 5143h1M588 5157h1M672 5057h1M538 5170h1M602 5113h1M625 5102h1M595 5107h1M590 5134h1M602 5092h1M612 5101h1M616 5112h1M547 5159h1M615 5116h1M573 5115h1M598 5125h1M620 5094h1M643 5094h1M667 5105h1M585 5104h1M662 5097h1M650 5061h1M651 5066h1M687 5094h1M622 5125h1M615 5118h1M656 5096h1M580 5163h1M613 5087h1M599 5124h1M597 5109h1M556 5160h1M578 5125h1M624 5118h1M648 5081h1M644 5068h1M611 5106h1M614 5118h1M598 5146h1M628 5091h1M602 5106h1M641 5093h1M689 5069h1M607 5097h1M529 5105h1M587 5134h1M557 5140h1M566 5132h1M695 5112h1M622 5097h1M568 5159h1M622 5064h1M665 5074h1M612 5128h1M593 5127h1M601 5112h1M633 5107h1M639 5088h1M676 5095h1M662 5075h1M649 5059h1M640 5034h1M630 5075h1M555 5143h1M595 5089h1M614 5079h1M580 5088h1M635 5062h1M603 5117h1M578 5126h1M666 5062h1M636 5081h1M621 5096h1M659 5092h1M681 5111h1M636 5107h1M550 5207h1M589 5123h1M598 5118h1M600 5160h1M614 5088h1M648 5057h1M596 5117h1M552 5108h1M666 5017h1M614 5138h1M557 5122h1M618 5091h1M625 5086h1M577 5109h1M653 5095h1M605 5128h1M592 5144h1M631 5113h1M645 5085h1M610 5147h1M640 5113h1M604 5098h1M720 5028h1M584 5118h1M690 5098h1M623 5120h1M617 5118h1M641 5084h1M655 5090h1M650 5054h1M628 5097h1M593 5121h1M595 5120h1M625 5079h1M642 5097h1M652 5047h1M625 5086h1M652 5073h1M670 5062h1M614 5092h1M548 5129h1M560 5122h1M557 5138h1M662 5046h1M582 5126h1M644 5050h1M637 5089h1M704 5092h1M635 5055h1M610 5106h1M622 5130h1M621 5106h1M633 5115h1M569 5084h1M608 5098h1M694 5087h1M546 5143h1M630 5105h1M557 5098h1M635 5117h1M674 5119h1M612 5105h1M648 5089h1M562 5156h1M683 5110h1M587 5115h1M617 5060h1M646 5132h1M505 5157h1M594 5135h1M593 5059h1M667 5055h1M628 5100h1M610 5079h1M556 5135h1M675 5075h1M672 5043h1M623 5113h1M630 5141h1M530 5116h1M652 5086h1M722 5040h1M637 5079h1M681 5096h1M652 5113h1M585 5141h1M671 5077h1M569 5138h1M593 5092h1M631 5105h1M641 5072h1M623 5083h1M643 5112h1M584 5122h1M580 5157h1M604 5085h1M583 5117h1M567 5141h1M585 5163h1M596 5117h1M557 5169h1M557 5130h1M556 5152h1M632 5114h1M618 5078h1M680 5037h1M567 5156h1M575 5104h1M652 5085h1M611 5116h1M601 5112h1M687 5070h1M608 5122h1M575 5140h1M547 5116h1M608 5071h1M629 5101h1M544 5116h1M579 5133h1M630 5084h1M625 5074h1M588 5118h1M607 5047h1M633 5085h1M565 5174h1M587 5092h1M635 5100h1M598 5126h1M574 5214h1M592 5096h1M632 5070h1M663 5048h1M522 5149h1M690 5004h1M574 5137h1M638 5063h1M670 5083h1M656 5084h1M607 5083h1M567 5131h1M655 5110h1M584 5119h1M525 5178h1M729 5040h1M636 5078h1M687 5061h1M601 5157h1M683 5083h1M651 5031h1M691 5087h1M611 5102h1M563 5128h1M600 5099h1M550 5187h1M557 5158h1M617 5100h1M568 5119h1M617 5120h1M626 5128h1M673 5035h1M649 5051h1M609 5100h1M667 5082h1M581 5120h1M601 5112h1M638 5066h1M585 5160h1M603 5111h1M568 5144h1M633 5120h1M672 5056h1M587 5125h1M628 5106h1M577 5123h1M591 5161h1M570 5140h1M755 5061h1M711 5020h1M751 4980h1M648 5108h1M624 5113h1M708 5020h1M704 4990h1M831 4965h1M755 5040h1M638 5058h1M725 4977h1M657 5080h1M646 5139h1M827 4903h1M721 5028h1M725 4988h1M732 5015h1M806 4968h1M722 5034h1M749 4961h1M624 5056h1M650 5134h1M792 4994h1M759 4945h1M733 5023h1M731 5052h1M709 5031h1M663 5069h1M787 4975h1M743 5019h1M732 5022h1M727 5030h1M754 4988h1M739 5031h1M746 5012h1M637 5090h1M711 4994h1M817 4939h1M672 5062h1M686 5034h1M744 4993h1M739 4979h1M728 5003h1M586 5075h1M710 4993h1M634 5089h1M659 5080h1M719 4999h1M677 5041h1M747 5006h1M896 4931h1M768 5037h1M736 5001h1M640 5062h1M653 5051h1M658 5105h1M656 5042h1M646 5093h1M658 5059h1M683 5039h1M655 5094h1M628 5108h1M651 5132h1M738 5035h1M727 5067h1M752 4987h1M758 4993h1M669 5036h1M733 5004h1M628 5110h1M823 4936h1M772 4995h1M680 5036h1M631 5081h1M734 5039h1M595 5117h1M656 5070h1M746 5012h1M692 5019h1M650 5029h1M758 5004h1M647 5088h1M746 5066h1M674 5061h1M658 5081h1M755 5056h1M641 5075h1M799 4947h1M677 5076h1M816 4961h1M652 5101h1M724 4999h1M653 5115h1M629 5100h1M683 4997h1M737 5009h1M623 5083h1M768 4991h1M671 5092h1M708 5033h1M716 5015h1M747 5031h1M595 5108h1M774 4948h1M717 4996h1M697 5084h1M656 5098h1M627 5138h1M610 5077h1M722 5004h1M672 5040h1M648 5101h1M686 5081h1M786 4971h1M680 5050h1M679 5078h1M774 4979h1M717 5007h1M699 5032h1M680 5082h1M641 5141h1M638 5092h1M671 5055h1M691 5052h1M726 5031h1M740 5027h1M703 5016h1M713 5030h1M642 5078h1M592 5146h1M679 5071h1M644 5075h1M677 5083h1M701 5072h1M635 5096h1M622 5064h1M692 5039h1M687 5007h1M665 5068h1M732 5022h1M706 5072h1M651 5091h1M683 5011h1M801 4953h1M653 5054h1M756 4976h1M777 4980h1M786 4978h1M652 5071h1M804 4941h1M700 5025h1M679 5040h1M685 5045h1M744 5026h1M706 5040h1M703 5062h1M758 4966h1M687 5105h1M645 5086h1M713 4963h1M744 5014h1M776 5012h1M640 5083h1M743 4970h1M729 5021h1M790 4953h1M629 5089h1M717 5035h1M643 4994h1M610 5104h1M667 5078h1M769 4999h1M669 5051h1M654 5061h1M738 4988h1M753 4994h1M774 5022h1M649 5062h1M701 5046h1M761 5000h1M683 5092h1M666 5080h1M756 5016h1M788 4973h1M655 5112h1M554 5147h1M617 5097h1M658 5100h1M701 5055h1M746 5027h1M680 5028h1M694 5112h1M713 5038h1M668 5108h1M703 5048h1M653 5050h1M858 4936h1M744 5001h1M665 5088h1M619 5046h1M663 5040h1M593 5087h1M677 5092h1M673 5088h1M735 4982h1M679 5059h1M659 5076h1M621 5089h1M651 5110h1M686 5027h1M688 5047h1M757 4982h1M674 5076h1M752 4984h1M724 5040h1M687 5021h1M573 5103h1M616 5076h1M735 4998h1M770 4968h1M747 5077h1M732 4991h1M681 5060h1M678 5052h1M667 5071h1M773 5021h1M726 5033h1M678 5036h1M663 5027h1M739 5026h1M730 5040h1M634 5048h1M808 4981h1M687 4991h1M700 5037h1M794 4991h1M744 4978h1M673 5012h1M749 5041h1M620 5056h1M668 5070h1M554 5107h1M773 4993h1M615 5146h1M731 5000h1M641 5057h1M618 5042h1M666 5016h1M706 5015h1M737 5016h1M806 4973h1M724 5028h1M760 5015h1M670 5068h1M774 5053h1M706 5028h1M674 5058h1M661 4997h1M686 5027h1M717 5038h1M715 5011h1M688 5081h1M667 5080h1M767 5039h1M586 5084h1M658 5054h1M802 4993h1M549 5153h1M649 5051h1M732 5000h1M603 5101h1M857 4944h1M564 5158h1M779 4976h1M775 4956h1M762 5014h1M702 5067h1M705 5003h1M662 5092h1M731 4985h1M634 5081h1M673 5034h1M733 4965h1M629 5073h1M669 5040h1M721 5047h1M634 5107h1M757 4978h1M699 4997h1M597 5077h1M667 4999h1M653 5065h1M661 5062h1M691 5017h1M660 5068h1M755 4998h1M674 5086h1M742 4979h1M712 5059h1M741 4993h1M689 5086h1M657 5040h1M649 5105h1M721 4999h1M773 5026h1M824 4956h1M757 4963h1M725 5042h1M687 5046h1M728 5030h1M729 5080h1M778 4971h1M747 4991h1M668 5093h1M654 5057h1M787 4994h1M731 5043h1M687 5048h1M775 5000h1M648 5014h1M705 5077h1M664 5044h1M577 5103h1M775 5036h1M655 5119h1M661 5052h1M665 5078h1M736 5001h1M681 5021h1M706 5044h1M620 5127h1M731 5090h1M615 5097h1M729 5041h1M716 5017h1M696 5035h1M833 4976h1M707 4985h1M719 4994h1M697 5017h1M705 5067h1M759 5004h1M769 5001h1M633 5100h1M774 5013h1M723 5009h1M751 4994h1M721 5012h1M637 5099h1M617 5065h1M800 4958h1M750 5075h1M629 5109h1M720 5024h1M667 5036h1M601 5121h1M575 5139h1M619 5117h1M706 5015h1M703 5048h1M694 5059h1M726 5039h1M726 5003h1M590 5136h1M705 5080h1M645 5062h1M640 5102h1M665 5055h1M688 5037h1M669 5028h1M605 5081h1M681 5068h1M815 4956h1M658 5105h1M583 5080h1M710 5019h1M715 4988h1M730 5024h1M665 5121h1M736 4969h1M655 5069h1M635 5083h1M665 5063h1M685 5031h1M733 4999h1M756 5040h1M684 5020h1M759 5008h1M711 5043h1M727 4970h1M609 5081h1M616 5110h1M768 5038h1M620 5094h1M676 5041h1M696 5044h1M689 5080h1M685 5071h1M794 5001h1M556 5141h1M739 4986h1M815 4923h1M711 5050h1M696 5035h1M733 4998h1M809 4970h1M636 5091h1M677 4997h1M687 5042h1M720 4999h1M715 5039h1M736 5009h1M699 5086h1M703 5036h1M647 5045h1M635 5029h1M676 5023h1M683 5032h1M634 5086h1M796 4982h1M695 5047h1M615 5086h1M772 5005h1M646 5053h1M741 5034h1M723 5070h1M727 5045h1M732 5060h1M686 5086h1M687 5016h1M816 4956h1M572 5128h1M688 5015h1M708 4998h1M648 5091h1M606 5072h1M816 4940h1M679 5054h1M810 4943h1M749 5040h1M715 5049h1M728 5020h1M727 5001h1M771 4995h1M726 5022h1M695 5015h1M691 5006h1M765 4968h1M729 4981h1M649 5087h1M669 5070h1M714 5018h1M669 5070h1M686 5063h1M625 5049h1M688 5053h1M736 5037h1M749 4988h1M676 5005h1M815 4949h1M679 5020h1M884 4911h1M763 5004h1M737 5029h1M674 5062h1M518 5125h1M707 5065h1M688 5002h1M821 4975h1M626 5100h1M795 4943h1M678 5038h1M737 5003h1M580 5174h1M703 5026h1M694 5070h1M704 4964h1M708 5038h1M634 5083h1M768 5018h1M745 5017h1M750 5036h1M743 4978h1M765 4996h1M691 5029h1M633 5107h1M629 5105h1M758 4959h1M753 5025h1M730 5065h1M670 5049h1M717 5057h1M707 5045h1M669 5036h1M672 5082h1M809 4931h1M722 5040h1M646 5037h1M610 5070h1M666 5077h1M743 5011h1M753 5021h1M685 5044h1M688 5016h1M702 5076h1M626 5069h1M790 5006h1M732 5037h1M862 4965h1M630 5033h1M692 5043h1M746 4997h1M695 5060h1M608 5078h1M675 5115h1M705 5033h1M690 4985h1M700 5049h1M756 4995h1M747 4984h1M729 5039h1M701 5036h1M673 5032h1M728 5011h1M746 4993h1M708 5042h1M721 5013h1M681 5051h1M602 5072h1M634 5067h1M746 5010h1M757 5062h1M779 4958h1M693 5022h1M760 5018h1M800 5017h1M771 5016h1M654 5047h1M704 5064h1M713 5041h1M642 5076h1M710 4997h1M757 4995h1M674 5060h1M818 4965h1M662 5022h1M675 5028h1M688 5050h1M679 5092h1M734 5034h1M693 5027h1M802 4981h1M722 4997h1M725 5009h1M684 5042h1M612 5086h1M688 5033h1M664 5089h1M758 5004h1M667 4998h1M809 4989h1M747 5015h1M733 4984h1M715 5031h1M722 5043h1M754 5034h1M744 4990h1M647 5050h1M709 4993h1M846 4927h1M681 5023h1M699 5067h1M659 5064h1M628 5111h1M764 4985h1M693 5022h1M703 5007h1M816 4978h1M823 4910h1M657 5084h1M773 5012h1M737 5015h1M742 5047h1M727 5018h1M695 5034h1M792 4974h1M727 5003h1M724 5029h1M770 4985h1M769 5025h1M725 5018h1M730 5039h1M804 4972h1M730 5018h1M693 5038h1M674 5103h1M702 5080h1M645 5087h1M700 5025h1M710 5021h1M574 5109h1M684 5014h1M730 5002h1M710 5031h1M660 5096h1M784 5001h1M667 5075h1M628 5085h1M637 5080h1M699 5038h1M757 4999h1M757 4978h1M709 5025h1M629 5083h1M659 5060h1M657 5085h1M704 5064h1M594 5104h1M701 5026h1M739 5015h1M697 5052h1M696 4979h1M658 5091h1M622 5103h1M661 5060h1M780 5009h1M756 4993h1M651 5026h1M755 4971h1M674 5041h1M777 4964h1M726 5016h1M662 5040h1M747 5007h1M662 5078h1M646 5076h1M607 5083h1M710 5021h1M688 5028h1M722 5077h1M661 5034h1M749 4936h1M659 5032h1M664 5074h1M781 5000h1M776 4973h1M732 5041h1M593 5099h1M673 5072h1M722 4995h1M683 5013h1M814 5008h1M620 5090h1M747 5022h1M684 5089h1M782 4993h1M699 5045h1M744 4976h1M684 5092h1M607 5079h1M611 5049h1M658 5053h1M635 5072h1M767 4988h1M790 5002h1M708 5017h1M637 5075h1M684 5030h1M628 5022h1M772 4964h1M712 5017h1M707 4990h1M695 5078h1M603 5143h1M662 5077h1M646 5097h1M712 5010h1M710 5040h1M632 5041h1M658 5028h1M777 4958h1M651 5085h1M641 5066h1M676 5033h1M675 5086h1M671 5050h1M720 5003h1M794 4961h1M580 5085h1M683 5017h1M713 5051h1M694 5039h1M701 5061h1M673 5042h1M768 5011h1M662 5041h1M688 5037h1M687 5021h1M708 5036h1M710 5071h1M732 4965h1M702 5041h1M692 5006h1M691 5033h1M635 5068h1M629 5041h1M637 5076h1M692 5005h1M680 5094h1M629 5067h1M717 5032h1M731 5018h1M601 5112h1M790 4961h1M680 5008h1M719 5075h1M759 4992h1M713 5048h1M651 5043h1M828 4953h1M634 5075h1M700 5049h1M739 4991h1M627 5065h1M700 5049h1M721 5021h1M853 4962h1M646 5070h1M686 5025h1M744 5020h1M690 5015h1M660 5125h1M747 5053h1M724 5058h1M731 5028h1M763 4990h1M758 4997h1M724 5022h1M708 5012h1M645 5093h1M709 5066h1M729 5051h1M650 5018h1M737 5075h1M656 5076h1M766 4948h1M814 4939h1M689 5069h1M722 5021h1M675 5033h1M755 4964h1M736 5035h1M694 5021h1M684 5043h1M692 5013h1M626 5056h1M742 5016h1M679 5094h1M725 5009h1M684 5001h1M752 4980h1M696 5035h1M725 4953h1M662 5095h1M722 4996h1M695 5057h1M710 5029h1M703 5033h1M732 4972h1M599 5140h1M725 5034h1M638 5129h1M761 4979h1M596 5129h1M638 5073h1M621 5127h1M796 4975h1M614 5074h1M709 5036h1M662 5050h1M592 5105h1M686 5058h1M758 5037h1M677 5028h1M750 4995h1M667 5036h1M727 5073h1M700 5083h1M748 5061h1M818 4973h1M706 5004h1M703 5020h1M666 5065h1M656 5068h1M772 4963h1M642 5090h1M644 5070h1M693 5040h1M705 5094h1M814 4962h1M767 4939h1M637 5059h1M701 5102h1M662 5127h1M658 5101h1M756 4964h1M692 5110h1M604 5119h1M670 5131h1M513 5155h1M511 5129h1M776 5045h1M759 5037h1M506 5138h1M760 5014h1M733 5043h1M605 5080h1M735 5000h1M521 5109h1M563 5095h1M582 5159h1M596 5123h1M753 5001h1M612 5181h1M616 5156h1M579 5074h1M740 5097h1M627 5036h1M742 4989h1M628 5099h1M564 5110h1M628 5065h1M651 5006h1M617 5122h1M709 5043h1M832 4951h1M583 5019h1M658 5015h1M814 5004h1M638 5103h1M632 5129h1M592 5118h1M706 5021h1M659 4939h1M718 5127h1M655 5013h1M770 4960h1M768 5026h1M572 5142h1M692 5071h1M686 5045h1M709 4973h1M703 5121h1M592 5044h1M653 5094h1M496 5106h1M666 5040h1M598 5044h1M701 5005h1M567 5076h1M642 5077h1M623 5142h1M575 5093h1M715 4986h1M584 5006h1M768 5099h1M594 5128h1M657 5009h1M577 5200h1M646 5090h1M580 5007h1M686 4967h1M716 5074h1M625 5013h1M712 4961h1M672 5014h1M710 5008h1M732 4999h1M696 5089h1M668 5090h1M684 5008h1M640 5074h1M658 4964h1M775 4999h1M811 5089h1M656 5089h1M567 5121h1M662 5043h1M665 5059h1M788 5017h1M606 5023h1M678 5090h1M716 4984h1M647 5093h1M697 5106h1M775 4900h1M864 5055h1M750 5047h1M687 5022h1M609 5125h1M701 4993h1M684 5054h1M707 5057h1M577 5007h1M682 5062h1M666 5070h1M731 5074h1M811 4995h1M688 5009h1M529 5133h1M599 5112h1M570 5174h1M595 5077h1M767 5081h1M718 5042h1M636 5099h1M721 5068h1M612 5094h1M582 5163h1M586 5167h1M559 5040h1M770 4942h1M537 5091h1M774 4977h1M756 4939h1M641 5036h1M640 5013h1M563 5005h1M681 5063h1M722 5005h1M678 5055h1M851 5120h1M809 5032h1M703 5032h1M685 5011h1M687 5078h1M673 4992h1M553 5074h1M720 5044h1M654 4990h1M560 5042h1M835 4907h1M625 5147h1M567 5053h1M703 5042h1M532 5183h1M610 5097h1M569 5164h1M570 5073h1M644 5033h1M668 4990h1M748 4966h1M762 5033h1M774 4988h1M699 4986h1M649 5096h1M686 4881h1M643 5091h1M643 5111h1M766 4920h1M718 4979h1M694 5041h1M742 5016h1M734 4985h1M544 5105h1M647 5032h1M590 5135h1M674 5030h1M599 5063h1M763 4944h1M801 5133h1M635 5134h1M695 5082h1M585 5134h1M674 5044h1M694 4987h1M680 5015h1M525 5174h1M648 5073h1M668 4960h1M717 5057h1M760 4973h1M531 5074h1M708 5009h1M679 5166h1M681 5028h1M718 5043h1M733 5016h1M601 5050h1M677 5025h1M589 5133h1M539 5106h1M708 5004h1M668 5053h1M538 5140h1M601 5095h1M686 5065h1M812 4976h1M758 4990h1M765 5040h1M567 5206h1M632 5013h1M720 5033h1M707 5031h1M712 5033h1M656 5067h1M815 4947h1M791 4962h1M690 5088h1M572 5079h1M858 4955h1M603 5050h1M823 5050h1M857 4977h1M573 5075h1M703 5041h1M666 5099h1M706 5009h1M729 5072h1M829 4934h1M782 5098h1M687 5070h1M783 5009h1M639 5050h1M622 5044h1M877 4950h1M566 5045h1M652 5104h1M735 5125h1M655 5203h1M465 5125h1M762 4993h1M630 5124h1M652 5113h1M675 5115h1M560 5064h1M592 5121h1M640 4980h1M872 4916h1M798 5094h1M712 4978h1M565 5157h1M680 5064h1M538 5068h1M744 5017h1M626 5026h1M678 5051h1M689 5086h1M615 5070h1M570 5167h1M688 4975h1M539 5102h1M579 5122h1M635 5050h1M604 5076h1M704 5048h1M732 4961h1M701 5047h1M674 5020h1M703 5086h1M741 4998h1M517 5150h1M726 5060h1M612 5125h1M591 5147h1M656 5027h1M664 5103h1M710 5003h1M722 4932h1M480 5181h1M713 5116h1M828 4931h1M716 4964h1M798 4977h1M653 5007h1M544 5117h1M574 5106h1M739 5020h1M766 5014h1M624 5106h1M652 5067h1M682 5019h1M524 5143h1M655 5085h1M802 4953h1M839 4908h1M710 5118h1M842 4971h1M655 5113h1M616 5109h1M504 5198h1M758 5005h1M669 5107h1M844 4888h1M694 5023h1M734 5101h1M530 5161h1M825 5003h1M600 5014h1M674 5079h1M509 5200h1M747 4994h1M759 5001h1M628 5091h1M640 4992h1M700 5021h1M729 4965h1M653 5006h1M839 4984h1M610 5007h1M608 5065h1M612 5046h1M496 5237h1M588 5072h1M744 4977h1M711 5056h1M548 5020h1M688 5011h1M520 5183h1M647 5063h1M692 4988h1M700 4970h1M598 5078h1M715 4954h1M785 4887h1M674 5123h1M747 5025h1M576 5180h1M516 5167h1M685 4964h1M661 5026h1M719 5078h1M637 5098h1M624 5033h1M754 5023h1M815 4953h1M650 5055h1M593 5217h1M756 4948h1M714 5004h1M714 4991h1M716 5077h1M882 4940h1M698 5069h1M710 5012h1M525 5161h1M626 5083h1M572 5029h1M638 5007h1M723 5057h1M633 5121h1M767 4886h1M599 5128h1M602 5030h1M651 4981h1M590 5147h1M728 5028h1M724 5011h1M675 5101h1M854 4973h1M693 5062h1M675 5005h1M611 5126h1M547 5161h1M638 5107h1M687 5121h1M599 5026h1M800 5090h1M502 5220h1M570 5101h1M567 5213h1M766 4950h1M596 5041h1M658 5114h1M582 5111h1M777 5038h1M629 5059h1M691 5036h1M507 5167h1M732 4933h1M694 5012h1M683 4971h1M757 4955h1M693 5107h1M655 5053h1M720 4991h1M749 5079h1M620 5019h1M677 5047h1M625 5069h1M757 5041h1M748 4993h1M668 5041h1M835 4951h1M550 5142h1M714 5142h1M776 4900h1M672 5118h1M607 5227h1M813 5003h1M742 5049h1M565 5105h1M762 5038h1M586 5104h1M594 5168h1M604 4982h1M622 5062h1M535 5048h1M674 5111h1M577 5089h1M706 5083h1M658 5033h1M717 4983h1M683 5137h1M600 5173h1M602 5174h1M697 5121h1M819 4986h1M770 5036h1M664 5143h1M749 4992h1M568 5103h1M793 5038h1M660 5095h1M737 5006h1M732 5023h1M673 5094h1M680 5003h1M568 5086h1M652 5032h1M768 4994h1M950 4734h1M685 4947h1M694 5062h1M598 5118h1M729 4946h1M565 5181h1M601 5087h1M703 5029h1M599 5150h1M806 4968h1M806 5043h1M645 5106h1M686 5158h1M509 5050h1M523 5083h1M678 4982h1M718 5004h1M677 4995h1M663 4991h1M604 5050h1M680 4998h1M583 5174h1M665 5037h1M809 4983h1M814 5015h1M670 5122h1M638 5057h1M758 4932h1M856 4994h1M509 5080h1M602 5026h1M705 5052h1M786 4996h1M611 5106h1M701 4979h1M663 5085h1M897 4949h1M701 5014h1M721 5135h1M646 5068h1M730 4947h1M723 5001h1M568 5090h1M680 5022h1M549 5107h1M612 5093h1M595 5161h1M576 5141h1M623 5097h1M564 5067h1M675 4962h1M729 4989h1M678 5094h1M606 5147h1M746 5011h1M476 5125h1M512 5157h1M736 5011h1M750 5041h1M731 4962h1M651 5055h1M577 5131h1M633 5080h1M676 4958h1M619 5105h1M574 5034h1M531 5092h1M582 5121h1M848 4660h1M656 4664h1M523 4727h1M629 4709h1M508 4694h1M777 4633h1M683 4687h1M788 4706h1M837 4732h1M739 4737h1M712 4720h1M513 4704h1M700 4672h1M939 4687h1M716 4676h1M665 4699h1M803 4685h1M687 4791h1M583 4648h1M543 4770h1M605 4707h1M503 4706h1M610 4753h1M607 4656h1M665 4699h1M481 4702h1M783 4704h1M588 4660h1M525 4697h1M607 4782h1M841 4727h1M772 4702h1M616 4621h1M684 4689h1M721 4712h1M563 4713h1M769 4709h1M818 4700h1M499 4779h1M716 4661h1M711 4687h1M591 4721h1M788 4762h1M875 4697h1M895 4640h1M644 4738h1M716 4758h1M470 4784h1M722 4814h1M849 4729h1M709 4740h1M805 4721h1M713 4734h1M823 4691h1M924 4718h1M638 4736h1M718 4729h1M670 4677h1M603 4661h1M676 4664h1M821 4866h1M1003 4755h1M1004 4722h1M922 4697h1M497 4785h1M969 4639h1M544 4693h1M670 4737h1M476 4724h1M840 4744h1M733 4683h1M651 4729h1M514 4775h1M760 4738h1M592 4713h1M879 4759h1M913 4647h1M584 4623h1M619 4664h1M468 4701h1M697 4650h1M640 4716h1M578 4702h1M779 4611h1M505 4680h1M982 4706h1M930 4713h1M752 4657h1M632 4755h1M594 4632h1M786 4769h1M873 4690h1M651 4656h1M774 4660h1M814 4690h1M633 4603h1M617 4740h1M763 4649h1M910 4684h1M709 4698h1M781 4734h1M671 4685h1M608 4777h1M506 4772h1M729 4672h1M623 4781h1M634 4638h1M857 4720h1M773 4694h1M845 4703h1M786 4720h1M568 4724h1M526 4712h1M518 4656h1M910 4652h1M837 4645h1M544 4689h1M683 4787h1M593 4676h1M995 4666h1M631 4644h1M682 4702h1M705 4656h1M823 4692h1M615 4729h1M577 4726h1M726 4748h1M842 4727h1M631 4753h1M904 4708h1M686 4703h1M968 4660h1M743 4668h1M479 4698h1M559 4695h1M731 4632h1M845 4826h1M670 4691h1M635 4652h1M469 4759h1M868 4690h1M754 4665h1M567 4728h1M811 4798h1M787 4724h1M821 4675h1M706 4747h1M606 4621h1M601 4700h1M1012 4745h1M972 4731h1M1027 4759h1M556 4635h1M852 4717h1M543 4752h1M882 4774h1M767 4647h1M722 4650h1M601 4797h1M604 4775h1M797 4753h1M545 4660h1M913 4727h1M586 4714h1M514 4672h1M927 4701h1M653 4695h1M785 4722h1M601 4652h1M784 4626h1M886 4745h1M738 4801h1M761 4696h1M700 4771h1M849 4669h1M592 4689h1M530 4725h1M608 4614h1M842 4711h1M560 4763h1M787 4760h1M812 4750h1M607 4660h1M567 4699h1M738 4701h1M817 4713h1M821 4693h1M648 4669h1M681 4733h1M578 4792h1M788 4746h1M664 4693h1M818 4826h1M598 4730h1M954 4685h1M487 4761h1M773 4623h1M820 4719h1M698 4645h1M506 4761h1M596 4578h1M713 4752h1M660 4720h1M608 4760h1M1089 4703h1M682 4770h1M496 4708h1M856 4655h1M836 4697h1M912 4720h1M1020 4633h1M502 4750h1M881 4661h1M897 4722h1M680 4697h1M727 4706h1M571 4710h1M1020 4745h1M578 4686h1M735 4713h1M789 4763h1M990 4742h1M688 4710h1M843 4699h1M672 4739h1M1038 4707h1M930 4774h1M783 4846h1M655 4787h1M753 4754h1M621 4766h1M668 4678h1M639 4695h1M496 4732h1M726 4768h1M620 4784h1M621 4686h1M663 4690h1M827 4672h1M725 4621h1M655 4695h1M770 4715h1M591 4704h1M898 4726h1M828 4752h1M492 4613h1M741 4798h1M976 4688h1M669 4702h1M851 4755h1M552 4719h1M785 4761h1M727 4712h1M778 4729h1M675 4736h1M742 4677h1M583 4761h1M770 4689h1M838 4739h1M669 4689h1M835 4707h1M531 4757h1M954 4747h1M1015 4751h1M728 4702h1M660 4674h1M749 4734h1M828 4706h1M786 4817h1M773 4752h1M764 4742h1M466 4785h1M783 4796h1M963 4749h1M706 4791h1M936 4702h1M899 4726h1M556 4678h1M489 4635h1M740 4785h1M905 4773h1M870 4748h1M668 4644h1M677 4788h1M475 4746h1M743 4700h1M469 4684h1M496 4663h1M595 4695h1M979 4734h1M537 4670h1M620 4727h1M681 4726h1M831 4734h1M835 4742h1M622 4766h1M607 4738h1M687 4786h1M836 4694h1M813 4788h1M582 4613h1M861 4722h1M730 4740h1M745 4653h1M581 4703h1M490 4685h1M617 4747h1M638 4661h1M561 4750h1M621 4795h1M790 4744h1M586 4688h1M684 4734h1M641 4675h1M657 4716h1M758 4685h1M526 4688h1M773 4786h1M600 4774h1M798 4670h1M616 4763h1M664 4684h1M618 4728h1M805 4690h1M594 4754h1M605 4698h1M843 4661h1M902 4697h1M824 4817h1M877 4681h1M766 4710h1M826 4756h1M847 4646h1M757 4796h1M692 4623h1M707 4743h1M683 4715h1M635 4776h1M611 4708h1M674 4697h1M726 4687h1M465 4662h1M736 4689h1M729 4726h1M707 4757h1M899 4758h1M997 4677h1M750 4674h1M575 4752h1M530 4653h1M688 4787h1M694 4751h1M678 4797h1M802 4707h1M616 4722h1M699 4644h1M540 4604h1M592 4722h1M703 4663h1M974 4738h1M711 4754h1M750 4636h1M493 4730h1M952 4714h1M534 4727h1M832 4719h1M700 4742h1M498 4677h1M875 4653h1M683 4731h1M714 4779h1M766 4710h1M676 4784h1M608 4743h1M769 4654h1M603 4602h1M692 4695h1M553 4764h1M552 4820h1M586 4746h1M683 4640h1M905 4677h1M704 4792h1M481 4715h1M584 4741h1M709 4804h1M695 4674h1M658 4744h1M527 4761h1M649 4701h1M516 4751h1M999 4683h1M797 4725h1M610 4661h1M907 4731h1M710 4744h1M802 4807h1M725 4765h1M485 4678h1M865 4567h1M710 4772h1M488 4762h1M535 4697h1M862 4690h1M610 4745h1M689 4709h1M804 4789h1M704 4727h1M801 4635h1M858 4721h1M845 4725h1M987 4691h1M749 4660h1M828 4689h1M982 4748h1M625 4696h1M1010 4666h1M1010 4747h1M829 4776h1M1030 4688h1M842 4695h1M513 4666h1M896 4708h1M742 4743h1M759 4733h1M709 4762h1M938 4758h1M785 4739h1M548 4736h1M772 4659h1M819 4771h1M542 4715h1M597 4741h1M607 4641h1M565 4700h1M746 4730h1M873 4674h1M907 4735h1M874 4639h1M897 4678h1M934 4630h1M608 4657h1M812 4675h1M741 4706h1M655 4764h1M594 4678h1M584 4709h1M629 4680h1M779 4745h1M676 4760h1M700 4679h1M744 4651h1M818 4726h1M568 4690h1M660 4646h1M972 4656h1M770 4734h1M961 4791h1M593 4721h1M990 4664h1M860 4732h1M798 4771h1M542 4709h1M780 4683h1M596 4749h1M578 4723h1M677 4702h1M555 4701h1M708 4756h1M636 4744h1M604 4690h1M541 4752h1M738 4660h1M883 4713h1M1029 4688h1M775 4672h1M666 4627h1M683 4683h1M626 4722h1M993 4657h1M746 4673h1M898 4760h1M611 4725h1M593 4779h1M609 4670h1M913 4715h1M543 4696h1M616 4626h1M657 4710h1M618 4729h1M702 4735h1M753 4736h1M758 4777h1M663 4699h1M858 4704h1M491 4718h1M633 4749h1M600 4749h1M574 4691h1M484 4706h1M1015 4748h1M734 4735h1M736 4760h1M666 4770h1M791 4675h1M690 4643h1M911 4718h1M781 4677h1M746 4812h1M637 4730h1M739 4790h1M907 4703h1M661 4748h1M607 4666h1M629 4694h1M825 4736h1M525 4781h1M643 4720h1M590 4611h1M601 4691h1M507 4673h1M626 4690h1M685 4722h1M697 4796h1M660 4736h1M1092 4654h1M769 4723h1M570 4734h1M561 4800h1M653 4691h1M572 4696h1M524 4739h1M1000 4729h1M695 4697h1M622 4739h1M638 4695h1M645 4721h1M951 4823h1M777 4718h1M900 4739h1M748 4692h1M888 4734h1M1061 4686h1M692 4659h1M799 4785h1M573 4746h1M569 4723h1M887 4749h1M915 4715h1M824 4687h1M488 4699h1M672 4724h1M937 4712h1M772 4810h1M856 4722h1M704 4775h1M674 4645h1M720 4637h1M677 4746h1M599 4745h1M667 4728h1M708 4721h1M840 4746h1M623 4732h1M785 4734h1M552 4743h1M568 4736h1M682 4739h1M651 4731h1M770 4723h1M684 4740h1M615 4728h1M623 4718h1M692 4752h1M513 4749h1M663 4738h1M566 4732h1M633 4721h1M532 4725h1M601 4731h1M689 4734h1M584 4733h1M635 4731h1M687 4747h1M525 4742h1M713 4732h1M771 4731h1M653 4742h1M783 4738h1M511 4736h1M725 4736h1M636 4730h1M587 4734h1M525 4746h1M522 4743h1M610 4733h1M746 4748h1M554 4733h1M616 4740h1M613 4730h1M758 4740h1M711 4742h1M664 4740h1M525 4735h1M585 4752h1M917 4900h1M899 4901h1M994 5058h1M889 5149h1M722 5113h1M1024 5058h1M832 5002h1M914 5115h1M810 5048h1M831 4942h1M879 5012h1M986 4761h1M985 4779h1M871 5200h1M958 5126h1M889 5221h1M927 5202h1M930 4984h1M967 5180h1M869 5187h1M908 5088h1M935 4952h1M925 5099h1M855 5099h1M1055 4937h1M881 4994h1M978 4996h1M934 4933h1M1015 5183h1M744 5026h1M1081 5135h1M901 4923h1M820 4950h1M928 5187h1M1097 4883h1M958 5203h1M820 4904h1M881 5028h1M1024 5165h1M806 5197h1M903 5093h1M894 5057h1M1090 5145h1M894 4982h1M1022 5233h1M864 5055h1M854 5054h1M997 5293h1M967 5014h1M780 5215h1M969 5132h1M869 5083h1M935 4938h1M939 5116h1M879 4865h1M871 4870h1M864 4914h1M896 4884h1M812 5009h1M914 5125h1M799 4971h1M923 4930h1M911 5023h1M835 5085h1M985 5255h1M1071 4967h1M1023 5009h1M809 5221h1M1019 5041h1M935 4961h1M913 5068h1M870 4953h1M917 4957h1M1028 5243h1M961 5093h1M884 4992h1M864 4936h1M884 4873h1M1065 5062h1M833 4962h1M917 4897h1M887 4837h1M858 5174h1M949 5102h1M961 5189h1M805 4949h1M835 5224h1M1012 4902h1M942 4934h1M959 4991h1M887 5141h1M954 4958h1M878 5236h1M829 5085h1M917 5067h1M989 4940h1M836 5018h1M1001 5019h1M973 5111h1M849 5053h1M918 5071h1M914 4961h1M967 5077h1M970 4921h1M814 5272h1M810 4900h1M999 5076h1M926 4909h1M950 5043h1M944 4944h1M1039 4862h1M822 5125h1M1004 5044h1M852 5076h1M975 5027h1M1023 5262h1M808 5076h1M949 5086h1M895 5155h1M894 5079h1M921 5252h1M834 4875h1M841 4997h1M969 4812h1M984 5166h1M872 5204h1M802 5018h1M1101 5268h1M1004 5025h1M946 5145h1M836 5097h1M871 5022h1M936 5048h1M841 4815h1M1044 4973h1M928 5220h1M948 4929h1M836 5226h1M846 5043h1M855 5215h1M939 5161h1M896 4886h1M894 5126h1M942 5137h1M935 5127h1M1034 5095h1M902 4870h1M837 5206h1M916 5214h1M1033 4980h1M874 5260h1M921 5102h1M889 4910h1M949 5055h1M938 5117h1M853 5146h1M899 5173h1M991 5131h1M1004 5038h1M990 4896h1M985 4931h1M891 5128h1M889 5149h1M990 4966h1M825 5289h1M913 5112h1M771 5098h1M887 5199h1M862 5184h1M823 5011h1M963 5269h1M860 5174h1M888 5140h1M897 5046h1M859 5233h1M1029 4917h1M879 5097h1M933 5090h1M815 5104h1M880 5144h1M892 5183h1M893 4910h1M871 5032h1M929 5072h1M1040 4930h1M907 5149h1M906 4977h1M887 5055h1M1117 5172h1M1044 4961h1M961 5250h1M973 4975h1M862 5172h1M905 5006h1M934 4882h1M927 4986h1M850 5136h1M856 5063h1M958 5106h1M942 5210h1M752 5201h1M925 5054h1M1017 4991h1M867 5286h1M936 5069h1M803 4995h1M983 5046h1M830 5189h1M819 4928h1M893 5216h1M1104 4978h1M870 4856h1M954 5028h1M936 5021h1M1048 5032h1M818 5159h1M792 5101h1M893 5240h1M947 5044h1M946 4993h1M1003 5147h1M800 5180h1M853 5122h1M907 5063h1M983 5054h1M955 5075h1M885 5053h1M837 5229h1M992 4983h1M1130 4881h1M904 5243h1M1045 5147h1M823 5024h1M875 4941h1M865 4980h1M881 4899h1M849 5069h1M875 5010h1M913 5010h1M882 5118h1M969 4909h1M911 4983h1M918 4938h1M1033 5112h1M942 4931h1M930 5197h1M916 5012h1M963 5191h1M855 4969h1M1007 5120h1M1041 5041h1M1008 5269h1M879 4866h1M793 4987h1M883 5066h1M930 5010h1M983 5021h1M903 4883h1M894 5036h1M1037 5250h1M865 5095h1M1001 4900h1M989 4991h1M813 5116h1M939 4985h1M874 5048h1M843 4985h1M773 5265h1M795 5177h1M950 4978h1M887 5091h1M939 5018h1M834 4814h1M893 5103h1M896 5032h1M797 5134h1M787 5142h1M952 5072h1M929 5248h1M910 4889h1M970 5076h1M1061 4920h1M848 5047h1M966 5044h1M1084 4978h1M923 4972h1M1033 5216h1M715 4909h1M1031 5186h1M917 5037h1M771 4738h1M979 5053h1M1000 4851h1M945 5290h1M856 5198h1M661 5274h1M640 5082h1M833 4896h1M640 4998h1M871 5193h1M851 4883h1M516 5139h1M892 4975h1M501 5260h1M625 4988h1M986 4975h1M808 4951h1M921 5079h1M960 5277h1M596 5079h1M888 5176h1M655 5070h1M486 4860h1M509 5102h1M519 5105h1M797 5106h1M803 4963h1M916 4948h1M612 4978h1M869 4835h1M597 4897h1M623 4958h1M811 5066h1M666 5258h1M999 5156h1M624 5068h1M581 5164h1M934 5033h1M930 4843h1M540 5150h1M636 5159h1M731 5135h1M486 5229h1M654 5195h1M874 5218h1M873 4842h1M617 5102h1M598 5105h1M827 5114h1M523 4950h1M992 4965h1M514 5241h1M741 5108h1M837 5281h1M972 4920h1M788 5101h1M921 5108h1M742 4838h1M572 5121h1M682 5004h1M784 5026h1M742 4909h1M880 5105h1M747 5143h1M661 5248h1M733 5224h1M736 5290h1M631 5156h1M765 4955h1M842 5079h1M685 4860h1M860 5092h1M727 4967h1M653 5078h1M583 5180h1M889 4849h1M957 5241h1M851 4838h1M571 5055h1M838 4925h1M728 4839h1M959 5050h1M875 4858h1M707 5216h1M921 4938h1M783 5270h1M830 4990h1M743 4849h1M582 5231h1M517 4872h1M669 5193h1M758 5074h1M713 5039h1M531 5022h1M824 4828h1M750 5186h1M859 5159h1M678 4885h1M591 5065h1M889 4905h1M570 5162h1M483 4911h1M653 4903h1M698 4956h1M565 5286h1M976 5213h1M577 5014h1M517 5201h1M814 4993h1M529 4910h1M604 5251h1M678 4838h1M601 5201h1M810 5281h1M527 4860h1M804 5232h1M514 5194h1M769 4840h1M739 4452h1M619 4463h1M700 4604h1M698 4465h1M706 4575h1M626 4518h1M639 4495h1M872 4505h1M902 4465h1M938 4514h1M864 4571h1M1031 4534h1M812 4471h1M654 4579h1M476 4589h1M922 4523h1M816 4507h1M556 4453h1M782 4461h1M1064 4510h1M844 4468h1M651 4605h1M974 4553h1M707 4500h1M861 4911h1M847 4924h1M859 4928h1M854 4927h1M843 4929h1M860 4913h1M841 4925h1M867 4943h1M855 4906h1M844 4918h1M837 4936h1M869 4929h1M868 4934h1M842 4926h1" stroke="#000" stroke-width="8.5" stroke-linecap="square" stroke-opacity="0.72" fill="none" filter="url(#bd)"/>
<text x="38.7" y="543.1" font-size="10.2" letter-spacing="-0.35" fill="#111">10<tspan dy="-2.4" dx="-0.8">0</tspan></text>
<text x="64.83" y="543.1" font-size="10.2" letter-spacing="-0.35" fill="#111">10<tspan dy="-2.4" dx="-0.8">1</tspan></text>
<text x="90.95" y="543.1" font-size="10.2" letter-spacing="-0.35" fill="#111">10<tspan dy="-2.4" dx="-0.8">2</tspan></text>
<text x="117.07" y="543.1" font-size="10.2" letter-spacing="-0.35" fill="#111">10<tspan dy="-2.4" dx="-0.8">3</tspan></text>
<text x="143.2" y="543.1" font-size="10.2" letter-spacing="-0.35" fill="#111">10<tspan dy="-2.4" dx="-0.8">4</tspan></text>
<text transform="translate(41.4 538.1) rotate(-90)" font-size="10.2" letter-spacing="-0.35" fill="#111">10<tspan dy="-4.1" dx="-0.8">0</tspan></text>
<text transform="translate(41.4 516.6) rotate(-90)" font-size="10.2" letter-spacing="-0.35" fill="#111">10<tspan dy="-4.1" dx="-0.8">1</tspan></text>
<text transform="translate(41.4 495.1) rotate(-90)" font-size="10.2" letter-spacing="-0.35" fill="#111">10<tspan dy="-4.1" dx="-0.8">2</tspan></text>
<text transform="translate(41.4 473.6) rotate(-90)" font-size="10.2" letter-spacing="-0.35" fill="#111">10<tspan dy="-4.1" dx="-0.8">3</tspan></text>
<text transform="translate(41.4 452.1) rotate(-90)" font-size="10.2" letter-spacing="-0.35" fill="#111">10<tspan dy="-4.1" dx="-0.8">4</tspan></text>
<rect x="192.9" y="444.6" width="104.6" height="85.8" fill="none" stroke="#333" stroke-width="1"/>
<line x1="231.6" y1="444.6" x2="231.6" y2="530.4" stroke="#444" stroke-width="0.9"/>
<line x1="192.9" y1="481.7" x2="297.5" y2="481.7" stroke="#444" stroke-width="0.9"/>
<path transform="scale(.1)" d="M2303 4915h1M2285 4897h1M2268 4937h1M2276 4968h1M2343 4945h1M2287 4929h1M2385 4900h1M2258 4937h1M2333 4933h1M2296 4931h1M2279 4969h1M2344 4904h1M2300 4931h1M2251 4933h1M2264 4907h1M2329 4908h1M2255 4968h1M2319 4859h1M2311 4904h1M2273 4920h1M2333 4885h1M2338 4861h1M2301 4894h1M2289 4909h1M2349 4872h1M2354 4910h1M2263 4957h1M2284 4932h1M2281 4928h1M2275 4934h1M2232 4951h1M2323 4906h1M2298 4932h1M2312 4954h1M2333 4880h1M2263 4926h1M2298 4943h1M2295 4910h1M2270 4927h1M2285 4926h1M2338 4944h1M2303 4949h1M2346 4909h1M2245 4911h1M2307 4938h1M2242 4962h1M2298 4949h1M2270 4950h1M2336 4890h1M2340 4949h1M2340 4969h1M2351 4874h1M2343 4894h1M2323 4922h1M2254 4922h1M2227 4938h1M2312 4966h1M2279 4936h1M2254 4918h1M2287 4944h1M2233 4966h1M2334 4876h1M2251 4955h1M2279 4963h1M2319 4926h1M2245 4985h1M2318 4895h1M2344 4938h1M2268 4913h1M2269 4980h1M2272 4935h1M2238 4993h1M2345 4902h1M2281 4905h1M2251 4920h1M2243 4920h1M2312 4915h1M2344 4892h1M2241 4948h1M2262 4926h1M2230 4970h1M2303 4890h1M2292 4916h1M2361 4856h1M2281 4919h1M2267 4922h1M2272 4954h1M2326 4915h1M2244 4985h1M2321 4915h1M2301 4924h1M2262 4920h1M2271 4969h1M2294 4841h1M2360 4888h1M2260 4911h1M2298 4894h1M2382 4936h1M2270 4944h1M2265 4903h1M2272 4998h1M2276 4914h1M2297 4945h1M2280 4943h1M2261 4937h1M2252 4995h1M2238 4951h1M2261 4959h1M2322 4926h1M2264 4923h1M2220 4877h1M2311 4905h1M2305 4903h1M2263 4943h1M2275 4953h1M2312 4906h1M2287 4889h1M2257 4940h1M2289 4903h1M2292 4930h1M2304 4854h1M2276 4976h1M2317 4895h1M2300 4906h1M2250 4942h1M2342 4924h1M2337 4928h1M2244 4958h1M2363 4881h1M2261 4973h1M2268 4966h1M2272 4922h1M2308 4889h1M2318 4924h1M2295 4941h1M2349 4910h1M2278 4870h1M2337 4886h1M2396 4866h1M2287 4902h1M2169 4937h1M2261 4913h1M2266 4976h1M2295 4925h1M2298 4931h1M2248 4959h1M2261 4974h1M2285 4939h1M2295 4951h1M2189 4976h1M2326 4904h1M2307 4952h1M2309 4959h1M2307 4928h1M2245 4935h1M2283 4917h1M2330 4904h1M2367 4965h1M2313 4925h1M2288 4946h1M2263 4950h1M2354 4920h1M2315 4923h1M2282 4948h1M2179 4921h1M2250 4931h1M2220 4972h1M2338 4899h1M2299 4924h1M2260 4938h1M2284 4940h1M2389 4869h1M2325 4880h1M2230 4939h1M2282 4923h1M2229 4927h1M2222 4959h1M2308 4941h1M2402 4906h1M2358 4905h1M2293 4926h1M2272 4926h1M2286 4901h1M2336 4914h1M2244 4973h1M2211 4952h1M2349 4862h1M2306 4929h1M2348 4884h1M2284 4894h1M2343 4887h1M2268 4940h1M2332 4954h1M2335 4866h1M2322 4891h1M2271 4934h1M2330 4915h1M2279 4964h1M2237 4959h1M2312 4916h1M2332 4874h1M2336 4930h1M2226 4926h1M2324 4906h1M2304 4888h1M2283 4955h1M2191 4974h1M2316 4880h1M2323 4904h1M2326 4943h1M2227 4971h1M2227 4949h1M2345 4930h1M2337 4935h1M2307 4910h1M2291 4949h1M2298 4904h1M2282 4960h1M2299 4968h1M2265 4960h1M2284 4891h1M2284 4952h1M2327 4905h1M2316 4905h1M2269 4962h1M2350 4864h1M2245 4947h1M2303 4907h1M2351 4934h1M2359 4930h1M2235 5028h1M2331 4907h1M2340 4903h1M2338 4880h1M2188 4947h1M2267 4946h1M2290 4933h1M2268 4927h1M2326 4866h1M2273 4957h1M2331 4886h1M2315 4918h1M2238 4965h1M2243 4932h1M2281 4951h1M2306 4944h1M2322 4891h1M2284 4930h1M2329 4910h1M2231 4964h1M2166 4985h1M2281 4940h1M2300 4901h1M2272 4926h1M2235 4920h1M2293 4892h1M2356 4866h1M2289 4932h1M2261 4940h1M2264 4956h1M2336 4827h1M2291 4931h1M2308 4901h1M2323 4872h1M2347 4927h1M2264 4962h1M2332 4912h1M2334 4926h1M2323 4939h1M2335 4913h1M2254 4914h1M2280 4914h1M2270 4937h1M2320 4908h1M2283 4972h1M2298 4903h1M2243 4942h1M2298 4949h1M2274 4930h1M2288 4932h1M2301 4932h1M2294 4949h1M2289 4943h1M2220 4990h1M2328 4892h1M2262 4933h1M2277 4925h1M2260 4948h1M2334 4911h1M2233 4907h1M2330 4950h1M2323 4876h1M2351 4882h1M2336 4898h1M2320 4921h1M2246 4957h1M2354 4919h1M2352 4925h1M2324 4909h1M2340 4939h1M2284 4908h1M2258 4916h1M2370 4967h1M2357 4926h1M2247 4944h1M2324 4901h1M2299 4918h1M2320 4897h1M2293 4905h1M2324 4884h1M2311 4868h1M2325 4905h1M2228 4940h1M2341 4938h1M2294 4927h1M2260 4974h1M2303 4883h1M2212 4911h1M2320 4895h1M2371 4912h1M2273 4939h1M2326 4904h1M2306 4911h1M2304 4890h1M2228 4937h1M2344 4962h1M2281 4896h1M2325 4918h1M2298 4935h1M2318 4874h1M2305 4924h1M2333 4936h1M2359 4920h1M2298 4920h1M2320 4885h1M2284 4891h1M2313 4916h1M2276 4946h1M2303 4877h1M2344 4906h1M2272 4899h1M2319 4903h1M2305 4911h1M2251 4954h1M2302 4911h1M2347 4904h1M2280 4948h1M2224 4967h1M2306 4933h1M2263 4933h1M2364 4881h1M2293 4931h1M2294 4929h1M2270 4943h1M2282 4886h1M2270 4937h1M2263 4956h1M2292 4932h1M2253 4930h1M2344 4899h1M2249 4953h1M2292 4931h1M2263 4937h1M2234 4948h1M2350 4879h1M2229 5002h1M2359 4913h1M2266 5006h1M2286 4907h1M2366 4854h1M2196 4947h1M2238 4952h1M2329 4874h1M2299 4922h1M2272 4939h1M2307 4955h1M2263 4961h1M2303 4933h1M2339 4874h1M2259 4902h1M2302 4931h1M2334 4891h1M2365 4876h1M2278 4952h1M2322 4951h1M2278 4951h1M2283 4966h1M2280 4940h1M2269 4941h1M2228 4966h1M2217 4972h1M2258 4932h1M2307 4940h1M2328 4881h1M2290 4968h1M2285 4927h1M2313 4903h1M2329 4923h1M2305 4958h1M2283 4914h1M2371 4896h1M2270 4917h1M2265 4921h1M2230 4961h1M2308 4915h1M2271 4912h1M2360 4875h1M2289 4950h1M2321 4904h1M2321 4894h1M2352 4885h1M2240 4950h1M2353 4893h1M2293 4927h1M2298 4945h1M2296 4959h1M2264 4912h1M2286 4944h1M2200 4972h1M2328 4942h1M2292 4920h1M2264 4961h1M2257 4870h1M2390 4893h1M2317 4935h1M2267 4915h1M2344 4866h1M2284 4982h1M2283 4923h1M2261 4920h1M2296 4953h1M2312 4896h1M2320 4922h1M2275 4960h1M2291 4934h1M2300 4932h1M2291 4960h1M2266 4883h1M2269 4949h1M2272 4955h1M2284 4908h1M2253 4949h1M2293 4890h1M2287 4934h1M2253 4938h1M2267 4936h1M2272 4932h1M2288 4932h1M2297 4924h1M2265 4898h1M2266 4957h1M2352 4904h1M2330 4912h1M2289 4912h1M2323 4896h1M2294 4900h1M2296 4956h1M2292 4918h1M2394 4870h1M2332 4909h1M2329 4899h1M2298 4971h1M2311 4907h1M2375 4873h1M2323 4943h1M2333 4903h1M2322 4868h1M2320 4918h1M2345 4879h1M2303 4924h1M2319 4929h1M2278 4956h1M2396 4875h1M2289 4894h1M2287 4907h1M2352 4908h1M2262 4917h1M2293 4927h1M2269 4955h1M2288 4916h1M2287 4951h1M2329 4943h1M2273 4903h1M2289 4972h1M2274 4921h1M2304 4956h1M2272 4937h1M2329 4908h1M2322 4919h1M2321 4963h1M2248 4953h1M2311 4914h1M2253 4970h1M2299 4922h1M2282 4905h1M2277 4951h1M2257 4938h1M2278 4962h1M2365 4873h1M2274 4919h1M2257 4883h1M2318 4887h1M2302 4908h1M2316 4875h1M2256 4970h1M2239 4928h1M2423 4863h1M2296 4937h1M2269 4911h1M2295 4917h1M2314 4878h1M2262 4978h1M2299 4914h1M2296 4935h1M2320 4915h1M2318 4957h1M2261 4919h1M2256 4940h1M2210 4996h1M2343 4929h1M2245 4973h1M2261 4907h1M2355 4891h1M2279 4940h1M2309 4902h1M2283 4929h1M2315 4905h1M2284 4910h1M2269 4930h1M2332 4879h1M2294 4953h1M2240 4953h1M2283 4938h1M2310 4911h1M2250 4950h1M2328 4920h1M2324 4915h1M2360 4861h1M2273 4949h1M2329 4934h1M2222 4950h1M2265 4915h1M2298 4927h1M2305 4913h1M2298 4941h1M2290 4930h1M2256 4917h1M2266 4919h1M2301 4915h1M2315 4918h1M2333 4941h1M2325 4897h1M2331 4890h1M2212 4944h1M2250 4898h1M2281 4921h1M2257 4921h1M2342 4923h1M2306 4886h1M2278 4911h1M2281 4896h1M2331 4885h1M2273 4923h1M2263 4904h1M2332 4917h1M2302 4902h1M2332 4874h1M2313 4931h1M2331 4930h1M2266 4928h1M2255 4942h1M2284 4913h1M2185 4970h1M2314 4930h1M2324 4897h1M2282 4902h1M2286 4936h1M2335 4906h1M2301 4946h1M2319 4888h1M2352 4841h1M2333 4934h1M2318 4890h1M2300 4897h1M2306 4929h1M2305 4925h1M2305 4942h1M2340 4915h1M2229 4956h1M2274 4918h1M2314 4908h1M2250 4926h1M2285 4923h1M2278 4961h1M2292 4888h1M2310 4884h1M2353 4906h1M2291 4880h1M2259 4931h1M2299 4916h1M2291 4876h1M2370 4940h1M2228 5000h1M2297 4903h1M2225 4968h1M2328 4926h1M2291 4886h1M2304 4904h1M2337 4929h1M2312 4928h1M2258 4922h1M2285 4883h1M2357 4935h1M2284 4922h1M2296 4930h1M2264 4982h1M2336 4902h1M2289 4965h1M2269 4950h1M2257 4903h1M2253 4933h1M2273 4915h1M2332 4885h1M2316 4900h1M2333 4875h1M2359 4914h1M2261 4950h1M2299 4898h1M2354 4905h1M2381 4883h1M2225 4932h1M2221 4926h1M2315 4925h1M2287 4946h1M2247 4934h1M2302 4911h1M2269 4953h1M2200 4961h1M2284 4914h1M2294 4920h1M2283 4855h1M2311 4878h1M2289 4905h1M2271 4910h1M2234 4883h1M2217 4939h1M2282 4947h1M2324 4896h1M2314 4908h1M2373 4890h1M2282 4922h1M2221 4957h1M2322 4907h1M2334 4910h1M2238 4933h1M2248 4988h1M2287 4905h1M2317 4908h1M2246 4943h1M2303 4975h1M2243 4909h1M2265 4981h1M2251 4968h1M2289 4909h1M2283 4943h1M2270 4946h1M2217 5021h1M2360 4894h1M2253 4940h1M2278 4914h1M2251 4954h1M2302 4912h1M2229 4948h1M2301 4934h1M2291 4942h1M2303 4868h1M2259 4963h1M2253 4915h1M2281 4928h1M2352 4851h1M2242 4967h1M2295 4908h1M2262 4932h1M2304 4921h1M2311 4904h1M2304 4935h1M2301 4920h1M2305 4925h1M2260 4922h1M2283 4930h1M2243 4985h1M2281 4938h1M2262 4942h1M2290 4946h1M2303 4883h1M2300 4908h1M2298 4898h1M2339 4914h1M2205 4983h1M2295 4896h1M2304 4951h1M2282 4919h1M2240 4950h1M2316 4922h1M2332 4898h1M2340 4922h1M2284 4922h1M2327 4933h1M2338 4928h1M2342 4859h1M2343 4911h1M2318 4960h1M2283 4904h1M2304 4935h1M2336 4985h1M2272 4936h1M2308 4890h1M2260 4932h1M2241 4909h1M2304 4919h1M2262 4925h1M2291 4948h1M2211 4966h1M2303 4878h1M2284 4915h1M2283 4924h1M2328 4951h1M2302 4927h1M2278 4963h1M2356 4866h1M2281 4948h1M2322 4896h1M2369 4904h1M2246 4902h1M2306 4944h1M2258 4939h1M2300 4852h1M2275 4927h1M2258 4964h1M2332 4884h1M2313 4886h1M2247 4927h1M2355 4936h1M2295 4916h1M2414 4906h1M2333 4852h1M2268 4935h1M2285 4938h1M2250 4930h1M2289 4912h1M2304 4945h1M2299 4878h1M2295 4927h1M2254 4989h1M2244 4915h1M2325 4865h1M2319 4876h1M2278 4917h1M2294 4944h1M2273 4910h1M2270 4889h1M2218 4945h1M2305 4875h1M2273 4953h1M2284 4902h1M2185 4961h1M2314 4947h1M2357 4926h1M2214 4986h1M2345 4890h1M2302 4905h1M2265 4944h1M2231 4959h1M2334 4901h1M2298 4917h1M2305 4900h1M2274 4920h1M2260 4942h1M2319 4900h1M2259 4953h1M2314 4890h1M2233 4969h1M2237 4913h1M2236 4956h1M2335 4891h1M2233 4976h1M2251 4955h1M2312 4907h1M2298 4919h1M2378 4889h1M2371 4906h1M2312 4910h1M2313 4906h1M2215 4953h1M2243 4919h1M2281 4937h1M2305 4966h1M2240 4956h1M2275 4979h1M2272 4967h1M2318 4882h1M2299 4904h1M2284 4943h1M2286 4942h1M2301 4919h1M2283 4972h1M2274 4921h1M2229 4968h1M2294 4875h1M2337 4923h1M2292 4897h1M2315 4927h1M2292 4897h1M2376 4899h1M2289 4906h1M2245 4961h1M2259 4962h1M2318 4911h1M2324 4892h1M2314 4900h1M2303 4876h1M2287 4904h1M2263 5006h1M2267 4947h1M2244 5001h1M2279 4940h1M2232 4942h1M2308 4947h1M2296 4950h1M2215 4963h1M2320 4914h1M2300 4878h1M2234 4948h1M2289 4911h1M2297 4875h1M2284 4940h1M2321 4906h1M2307 4939h1M2326 4896h1M2285 4900h1M2268 4902h1M2309 4914h1M2326 4921h1M2307 4933h1M2288 4960h1M2258 4939h1M2260 4906h1M2294 4982h1M2321 4961h1M2280 4894h1M2303 4957h1M2285 4918h1M2309 4944h1M2339 4875h1M2325 4883h1M2265 4933h1M2296 4899h1M2276 4930h1M2279 4916h1M2260 4895h1M2253 4917h1M2245 4966h1M2205 4993h1M2299 4924h1M2336 4903h1M2254 4942h1M2314 4925h1M2267 4920h1M2299 4917h1M2254 4935h1M2280 4929h1M2278 4915h1M2212 4998h1M2279 4889h1M2280 4920h1M2190 4969h1M2306 4898h1M2275 4904h1M2288 4906h1M2299 4912h1M2275 4937h1M2266 4979h1M2269 4930h1M2276 4939h1M2375 4882h1M2331 4838h1M2290 4970h1M2272 4932h1M2287 4894h1M2299 4894h1M2249 4916h1M2264 4970h1M2372 4900h1M2321 4889h1M2233 4964h1M2203 4930h1M2254 4938h1M2294 4916h1M2304 4904h1M2278 4937h1M2226 4957h1M2304 4932h1M2311 4912h1M2293 4933h1M2266 4930h1M2325 4939h1M2302 4954h1M2241 4940h1M2289 4918h1M2250 4971h1M2327 4907h1M2317 4934h1M2228 4907h1M2313 4949h1M2316 4864h1M2216 4987h1M2278 4919h1M2353 4893h1M2233 4965h1M2271 4910h1M2225 4940h1M2288 4931h1M2207 4994h1M2203 4920h1M2252 4909h1M2292 4918h1M2306 4921h1M2301 4909h1M2331 4897h1M2301 4886h1M2327 4926h1M2250 4945h1M2291 4942h1M2395 4829h1M2354 4840h1M2320 4907h1M2310 4897h1M2310 4875h1M2276 4939h1M2373 4899h1M2262 4912h1M2279 4916h1M2373 4880h1M2192 4942h1M2299 4911h1M2242 4996h1M2259 4932h1M2285 4927h1M2254 4896h1M2295 4920h1M2261 4945h1M2279 4918h1M2240 4946h1M2288 4959h1M2233 4952h1M2317 4916h1M2223 4926h1M2288 4863h1M2284 4954h1M2287 4949h1M2342 4914h1M2299 4934h1M2223 4979h1M2306 4912h1M2164 4968h1M2312 4943h1M2289 4962h1M2254 4990h1M2279 4901h1M2261 4905h1M2382 4909h1M2289 4965h1M2361 4878h1M2329 4872h1M2253 4918h1M2254 4938h1M2331 4882h1M2279 4921h1M2300 4931h1M2257 4893h1M2241 4951h1M2286 4953h1M2256 4954h1M2246 4987h1M2276 4930h1M2345 4863h1M2364 4912h1M2273 4904h1M2270 4881h1M2303 4905h1M2353 4916h1M2310 4933h1M2273 4941h1M2287 4957h1M2345 4922h1M2391 4871h1M2266 4941h1M2202 4958h1M2332 4929h1M2264 4890h1M2433 4886h1M2415 4884h1M2292 4924h1M2463 4834h1M2306 4901h1M2495 4870h1M2345 4759h1M2244 4889h1M2288 4889h1M2493 4858h1M2459 4931h1M2349 4935h1M2356 4895h1M2290 4802h1M2251 4882h1M2337 4925h1M2261 4880h1M2276 4869h1M2366 4874h1M2241 4894h1M2375 4850h1M2361 4915h1M2417 4905h1M2398 4859h1M2392 4801h1M2413 4918h1M2425 4924h1M2310 4883h1M2445 4972h1M2229 4868h1M2332 4924h1M2366 4834h1M2284 4828h1M2404 4930h1M2295 4984h1M2367 4748h1M2306 4933h1M2366 4882h1M2329 4888h1M2370 4813h1M2276 4863h1M2268 4937h1M2220 4996h1M2317 4911h1M2250 4939h1M2337 4822h1M2427 4824h1M2142 4929h1M2274 4987h1M2342 4861h1M2371 4773h1M2322 4833h1M2349 4868h1M2393 4906h1M2393 4896h1M2448 4826h1M2368 4856h1M2261 4962h1M2344 4972h1M2369 4914h1M2269 4914h1M2297 4876h1M2339 4973h1M2300 4942h1M2426 4927h1M2325 4935h1M2171 4812h1M2287 4926h1M2348 4907h1M2491 4821h1M2385 4929h1M2483 4897h1M2370 4874h1M2202 5005h1M2322 4823h1M2323 4997h1M2235 4942h1M2230 4895h1M2506 4887h1M2215 4944h1M2338 4985h1M2399 4823h1M2341 4809h1M2223 4975h1M2321 4890h1M2320 4946h1M2316 4894h1M2356 4818h1M2303 4929h1M2319 4916h1M2422 4814h1M2193 4950h1M2355 4975h1M2365 4872h1M2272 4979h1M2281 4906h1M2222 4917h1M2338 4877h1M2261 4876h1M2414 4897h1M2414 4864h1M2365 4931h1M2309 4911h1M2351 4880h1M2345 4901h1M2288 4998h1M2409 4849h1M2362 4902h1M2372 4837h1M2253 4969h1M2363 4811h1M2469 4790h1M2426 4937h1M2245 4969h1M2376 4948h1M2306 4862h1M2312 4832h1M2321 4908h1M2357 4856h1M2343 4972h1M2410 4970h1M2305 4949h1M2349 4901h1M2442 4907h1M2301 4915h1M2372 4853h1M2260 4913h1M2270 4855h1M2299 4876h1M2428 4852h1M2282 4927h1M2400 4817h1M2266 5003h1M2290 4853h1M2372 4820h1M2388 4872h1M2286 4967h1M2154 4809h1M2371 4824h1M2227 4919h1M2326 4801h1M2275 4883h1M2329 4889h1M2470 4762h1M2462 4859h1M2372 4830h1M2285 5018h1M2345 4865h1M2324 4872h1M2370 4959h1M2373 4762h1M2252 5019h1M2329 4842h1M2358 4910h1M2277 4919h1M2467 4841h1M2185 4861h1M2310 4856h1M2293 4824h1M2169 4968h1M2222 4936h1M2267 4935h1M2394 4868h1M2382 4829h1M2370 4862h1M2355 4890h1M2226 5050h1M2357 4897h1M2285 4897h1M2425 4859h1M2415 4820h1M2487 4797h1M2409 4902h1M2413 4892h1M2286 4971h1M2348 4903h1M2260 4963h1M2365 4812h1M2284 4992h1M2374 4983h1M2262 4908h1M2315 4935h1M2368 4879h1M2230 4825h1M2310 4830h1M2252 4920h1M2402 4795h1M2288 4921h1M2376 4812h1M2492 4819h1M2191 5036h1M2281 4959h1M2279 4845h1M2371 4782h1M2318 4941h1M2329 4834h1M2290 4935h1M2343 4829h1M2262 4964h1M2364 4820h1M2138 5039h1M2216 4994h1M2456 4811h1M2341 4881h1M2290 4959h1M2517 4844h1M2359 4782h1M2420 4858h1M2354 4984h1M2435 4952h1M2442 4978h1M2240 4996h1M2337 4816h1M2365 4966h1M2428 4847h1M2470 4904h1M2262 4884h1M2284 4910h1M2338 4874h1M2342 4814h1M2263 4852h1M2299 4862h1M2390 4889h1M2397 4926h1M2439 4880h1M2396 4951h1M2226 4868h1M2221 4985h1M2384 4852h1M2306 4904h1M2257 4835h1M2329 4930h1M2197 4924h1M2299 4902h1M2163 5023h1M2357 4987h1M2249 4903h1M2476 4837h1M2376 4892h1M2313 4897h1M2342 4884h1M2352 4819h1M2300 4956h1M2314 4900h1M2302 4901h1M2499 4778h1M2320 4866h1M2208 4997h1M2355 4812h1M2526 4801h1M2307 4995h1M2568 4733h1M2298 4854h1M2414 4868h1M2312 4946h1M2324 4921h1M2246 4947h1M2267 4952h1M2181 4985h1M2456 4907h1M2216 4893h1M2343 4856h1M2378 4913h1M2253 4874h1M2324 4876h1M2288 4844h1M2331 4964h1M2292 4830h1M2335 4891h1M2319 5022h1M2226 4928h1M2284 4947h1M2368 4928h1M2432 4838h1M2484 4900h1M2339 4859h1M2403 4859h1M2348 4900h1M2370 4790h1M2341 4888h1M2377 4902h1M2339 4945h1M2334 4898h1M2433 4765h1M2267 4975h1M2361 4935h1M2268 4889h1M2396 4848h1M2456 4811h1M2256 4831h1M2177 5073h1M2369 4859h1M2422 4934h1M2227 4987h1M2301 4885h1M2298 4856h1M2210 5054h1M2356 4832h1M2342 4845h1M2352 4889h1M2195 4853h1M2284 4930h1M2313 4959h1M2354 4857h1M2315 5013h1M2390 4767h1M2332 4840h1M2195 5015h1M2430 4793h1M2329 4868h1M2244 4849h1M2356 4915h1M2243 5032h1M2399 4964h1M2173 5024h1M2304 5004h1M2429 4838h1M2407 4820h1M2321 4929h1M2292 4978h1M2364 4807h1M2334 4906h1M2340 4877h1M2349 4830h1M2294 4997h1M2411 4893h1M2122 4902h1M2436 4833h1M2253 5011h1M2296 4936h1M2302 4950h1M2414 4908h1M2394 4876h1M2357 4880h1M2369 4871h1M2349 4854h1M2373 4966h1M2241 5045h1M2153 4977h1M2186 5023h1M2296 4853h1M2308 4896h1M2360 4957h1M2333 4866h1M2342 4946h1M2256 4935h1M2196 4922h1M2146 4907h1M2416 4841h1M2375 4827h1M2231 4950h1M2292 4880h1M2429 4972h1M2451 4835h1M2282 4915h1M2331 4871h1M2430 4870h1M2191 4949h1M2252 4890h1M2327 4896h1M2288 4940h1M2485 4809h1M2387 4850h1M2313 4843h1M2226 4886h1M2403 4873h1M2399 4902h1M2317 4952h1M2275 4880h1M2225 4959h1M2318 4889h1M2377 4837h1M2390 4835h1M2374 4874h1M2415 4897h1M2307 4949h1M2296 4915h1M2403 4825h1M2372 4889h1M2287 4951h1M2329 4821h1M2400 4875h1M2373 4855h1M2347 4904h1M2318 4954h1M2398 4935h1M2461 4836h1M2363 4921h1M2263 4897h1M2384 4924h1M2257 4972h1M2329 4862h1M2313 4916h1M2383 4833h1M2316 4861h1M2446 4910h1M2499 4803h1M2341 4944h1M2238 4886h1M2365 4880h1M2311 4883h1M2295 4826h1M2299 4940h1M2367 4868h1M2325 4879h1M2190 5011h1M2281 4861h1M2332 4851h1M2384 4803h1M2290 4923h1M2285 4949h1M2418 4856h1M2298 4940h1M2381 4954h1M2353 4861h1M2359 4832h1M2331 4897h1M2268 4969h1M2398 4848h1M2295 4910h1M2286 4910h1M2420 4734h1M2413 4888h1M2249 4934h1M2279 4895h1M2312 4906h1M2286 4942h1M2227 5027h1M2401 4882h1M2365 4834h1M2309 4832h1M2320 4941h1M2332 4870h1M2360 4848h1M2233 4910h1M2301 4904h1M2281 4908h1M2354 4831h1M2379 4929h1M2241 4958h1M2335 4993h1M2502 4887h1M2286 4975h1M2381 4948h1M2274 4909h1M2389 4801h1M2334 4912h1M2304 4924h1M2256 4962h1M2320 4919h1M2383 4853h1M2367 4853h1M2252 4978h1M2457 4853h1M2327 4929h1M2238 4918h1M2350 4908h1M2250 4873h1M2297 4934h1M2252 4877h1M2355 4947h1M2314 4948h1M2201 4962h1M2353 4855h1M2299 4929h1M2358 4765h1M2364 4870h1M2364 4858h1M2357 4911h1M2375 4775h1M2285 4882h1M2252 4930h1M2396 4943h1M2136 5014h1M2317 4933h1M2334 4873h1M2278 4884h1M2434 4866h1M2372 4857h1M2315 4860h1M2298 4911h1M2413 4859h1M2311 4970h1M2319 4943h1M2413 4910h1M2344 4833h1M2465 4798h1M2347 4954h1M2203 4988h1M2408 4915h1M2500 4960h1M2287 4861h1M2405 4781h1M2488 4869h1M2303 4957h1M2292 4914h1M2255 4972h1M2389 4904h1M2392 4883h1M2377 4879h1M2260 4977h1M2273 4927h1M2239 4975h1M2240 5003h1M2238 4962h1M2266 5035h1M2280 4854h1M2403 4943h1M2374 4872h1M2319 4887h1M2273 4915h1M2322 4890h1M2335 4825h1M2339 4954h1M2335 4899h1M2305 4908h1M2307 4942h1M2347 4919h1M2221 4904h1M2419 4875h1M2236 4990h1M2368 4887h1M2243 4971h1M2427 4822h1M2393 4865h1M2265 4924h1M2296 4915h1M2241 4935h1M2290 4851h1M2379 4911h1M2459 4717h1M2249 4980h1M2396 4816h1M2286 4921h1M2356 4897h1M2439 4930h1M2324 4814h1M2377 4907h1M2336 4937h1M2301 4860h1M2338 4889h1M2361 4773h1M2187 4907h1M2278 4896h1M2239 4949h1M2245 4917h1M2309 4985h1M2399 4841h1M2470 4792h1M2433 4853h1M2243 4946h1M2372 4949h1M2230 4920h1M2326 4831h1M2448 4887h1M2365 4866h1M2348 4801h1M2309 4891h1M2223 5030h1M2221 5029h1M2301 4873h1M2321 4805h1M2443 4879h1M2305 4914h1M2354 4924h1M2354 4898h1M2393 4838h1M2326 4904h1M2273 4976h1M2348 4771h1M2361 4886h1M2360 4888h1M2215 4919h1M2329 4899h1M2219 4988h1M2170 4959h1M2340 4948h1M2281 4892h1M2341 4835h1M2410 4807h1M2332 4907h1M2450 4815h1M2334 4990h1M2384 4868h1M2237 4948h1M2316 4862h1M2305 4909h1M2325 4923h1M2391 4902h1M2204 4990h1M2334 4889h1M2244 4893h1M2337 4893h1M2369 4899h1M2307 4921h1M2317 4934h1M2258 4962h1M2423 4954h1M2325 4989h1M2390 4922h1M2222 4949h1M2423 4838h1M2257 4942h1M2378 4802h1M2326 4958h1M2337 4832h1M2310 4892h1M2393 4893h1M2292 4845h1M2451 4892h1M2403 4909h1M2381 4875h1M2431 4806h1M2288 4939h1M2472 4916h1M2342 4907h1M2232 4972h1M2297 4784h1M2281 4859h1M2440 4815h1M2324 4962h1M2324 4885h1M2375 4931h1M2196 4982h1M2354 4862h1M2273 4961h1M2418 4824h1M2450 4833h1M2344 4921h1M2184 4918h1M2327 4870h1M2349 4902h1M2398 4893h1M2305 4907h1M2235 4935h1M2298 4875h1M2230 4889h1M2437 4799h1M2311 4973h1M2234 4856h1M2297 4859h1M2225 4928h1M2266 4872h1M2358 4960h1M2306 4936h1M2326 4930h1M2383 4798h1M2389 4922h1M2248 4974h1M2262 4864h1M2363 4841h1M2296 4944h1M2287 4827h1M2362 4949h1M2354 4858h1M2323 4916h1M2307 4888h1M2279 4950h1M2375 4913h1M2262 4935h1M2480 4866h1M2315 4881h1M2323 4922h1M2359 4829h1M2335 4920h1M2353 4920h1M2316 4887h1M2250 4889h1M2320 5018h1M2280 4928h1M2390 4824h1M2324 4981h1M2325 4951h1M2283 4897h1M2398 4897h1M2479 4830h1M2224 4881h1M2391 4908h1M2360 4925h1M2368 4998h1M2391 4916h1M2276 5004h1M2342 4798h1M2314 4845h1M2295 4992h1M2387 4753h1M2367 4832h1M2412 4852h1M2212 4939h1M2302 4899h1M2314 4952h1M2417 4934h1M2444 4869h1M2202 4989h1M2340 4912h1M2340 4932h1M2372 4817h1M2354 4940h1M2222 4927h1M2329 4926h1M2471 4579h1M2412 4710h1M2465 4677h1M2428 4579h1M2383 4650h1M2464 4617h1M2463 4602h1M2505 4615h1M2479 4695h1M2417 4724h1M2436 4609h1M2348 4604h1M2412 4632h1M2527 4670h1M2537 4597h1M2501 4659h1M2480 4752h1M2493 4637h1M2488 4621h1M2383 4603h1M2424 4719h1M2521 4709h1M2521 4633h1M2477 4688h1M2451 4661h1M2447 4591h1M2440 4629h1M2421 4529h1M2374 4636h1M2472 4537h1M2444 4582h1M2455 4478h1M2547 4655h1M2493 4662h1M2432 4564h1M2493 4691h1M2394 4688h1M2515 4638h1M2478 4629h1M2456 4753h1M2492 4637h1M2534 4676h1M2443 4657h1M2418 4642h1M2466 4580h1M2536 4620h1M2433 4667h1M2483 4649h1M2435 4582h1M2495 4599h1M2452 4566h1M2433 4663h1M2539 4644h1M2481 4514h1M2369 4656h1M2454 4536h1M2422 4595h1M2407 4683h1M2437 4751h1M2442 4609h1M2467 4702h1M2427 4702h1M2377 4773h1M2440 4570h1M2507 4646h1M2400 4651h1M2495 4625h1M2487 4636h1M2444 4646h1M2480 4617h1M2429 4672h1M2446 4832h1M2417 4601h1M2487 4623h1M2530 4651h1M2433 4542h1M2522 4750h1M2363 4854h1M2423 4549h1M2417 4624h1M2547 4767h1M2437 4681h1M2502 4610h1M2367 4737h1M2471 4614h1M2492 4505h1M2463 4556h1M2335 4655h1M2473 4630h1M2504 4719h1M2528 4643h1M2484 4676h1M2384 4722h1M2455 4746h1M2508 4519h1M2426 4647h1M2492 4724h1M2442 4682h1M2469 4549h1M2501 4540h1M2431 4695h1M2472 4591h1M2481 4677h1M2430 4734h1M2468 4720h1M2452 4652h1M2395 4706h1M2392 4743h1M2479 4669h1M2461 4588h1M2339 4605h1M2362 4669h1M2450 4520h1M2462 4707h1M2494 4658h1M2406 4748h1M2493 4599h1M2450 4662h1M2441 4770h1M2458 4710h1M2512 4528h1M2492 4603h1M2508 4645h1M2432 4593h1M2451 4764h1M2409 4710h1M2438 4745h1M2446 4711h1M2443 4680h1M2499 4616h1M2485 4583h1M2501 4585h1M2471 4467h1M2516 4687h1M2470 4655h1M2511 4618h1M2489 4711h1M2500 4673h1M2462 4625h1M2406 4715h1M2396 4621h1M2559 4568h1M2484 4731h1M2486 4812h1M2457 4648h1M2443 4726h1M2411 4685h1M2462 4632h1M2463 4575h1M2411 4597h1M2404 4679h1M2431 4735h1M2448 4826h1M2442 4805h1M2504 4709h1M2408 4647h1M2484 4701h1M2535 4696h1M2508 4766h1M2410 4769h1M2323 4775h1M2506 4612h1M2489 4793h1M2437 4609h1M2526 4719h1M2446 4619h1M2470 4640h1M2415 4604h1M2480 4574h1M2444 4711h1M2441 4725h1M2517 4688h1M2475 4711h1M2393 4612h1M2498 4666h1M2505 4658h1M2425 4630h1M2446 4692h1M2468 4582h1M2453 4787h1M2471 4643h1M2496 4624h1M2441 4713h1M2565 4707h1M2431 4596h1M2439 4682h1M2560 4793h1M2467 4589h1M2456 4721h1M2414 4568h1M2520 4564h1M2473 4674h1M2424 4622h1M2484 4717h1M2531 4688h1M2498 4709h1M2521 4749h1M2486 4669h1M2463 4657h1M2491 4624h1M2523 4808h1M2506 4785h1M2516 4722h1M2476 4676h1M2502 4651h1M2523 4647h1M2457 4520h1M2403 4615h1M2548 4620h1M2493 4695h1M2444 4606h1M2476 4613h1M2453 4614h1M2383 4669h1M2456 4617h1M2397 4555h1M2475 4716h1M2460 4811h1M2519 4604h1M2459 4610h1M2483 4677h1M2451 4692h1M2447 4469h1M2398 4693h1M2513 4746h1M2473 4694h1M2437 4626h1M2475 4703h1M2445 4688h1M2430 4640h1M2477 4691h1M2523 4652h1M2452 4664h1M2397 4735h1M2435 4656h1M2551 4742h1M2426 4596h1M2522 4726h1M2454 4678h1M2501 4788h1M2460 4692h1M2389 4748h1M2445 4557h1M2459 4625h1M2492 4783h1M2449 4747h1M2459 4673h1M2480 4756h1M2488 4582h1M2464 4651h1M2456 4640h1M2433 4672h1M2402 4608h1M2388 4708h1M2497 4636h1M2376 4579h1M2533 4647h1M2506 4653h1M2451 4685h1M2410 4658h1M2466 4615h1M2466 4679h1M2519 4778h1M2430 4650h1M2447 4672h1M2463 4629h1M2452 4659h1M2435 4553h1M2383 4745h1M2386 4729h1M2433 4617h1M2454 4733h1M2513 4639h1M2547 4797h1M2484 4616h1M2555 4567h1M2460 4648h1M2440 4758h1M2414 4734h1M2445 4670h1M2453 4633h1M2535 4716h1M2437 4779h1M2503 4672h1M2446 4665h1M2406 4721h1M2477 4716h1M2473 4611h1M2410 4668h1M2424 4694h1M2427 4703h1M2511 4651h1M2487 4656h1M2477 4674h1M2489 4758h1M2442 4688h1M2488 4705h1M2436 4658h1M2401 4583h1M2432 4597h1M2475 4618h1M2470 4655h1M2516 4684h1M2384 4639h1M2455 4695h1M2484 4686h1M2419 4720h1M2477 4666h1M2446 4668h1M2411 4537h1M2519 4625h1M2399 4688h1M2513 4610h1M2445 4695h1M2420 4594h1M2423 4609h1M2430 4465h1M2425 4736h1M2478 4667h1M2376 4670h1M2525 4642h1M2505 4614h1M2532 4729h1M2418 4712h1M2354 4642h1M2435 4597h1M2457 4739h1M2480 4768h1M2441 4585h1M2461 4605h1M2473 4589h1M2391 4728h1M2552 4676h1M2412 4647h1M2478 4633h1M2517 4670h1M2428 4666h1M2466 4594h1M2544 4692h1M2452 4699h1M2516 4692h1M2479 4697h1M2476 4654h1M2500 4677h1M2454 4692h1M2455 4566h1M2512 4642h1M2478 4685h1M2489 4577h1M2408 4700h1M2466 4662h1M2524 4669h1M2509 4701h1M2482 4688h1M2441 4657h1M2436 4759h1M2487 4689h1M2534 4646h1M2468 4644h1M2528 4642h1M2451 4505h1M2523 4618h1M2418 4672h1M2475 4671h1M2415 4663h1M2497 4633h1M2493 4682h1M2420 4561h1M2430 4736h1M2444 4620h1M2394 4629h1M2421 4739h1M2424 4620h1M2503 4625h1M2532 4705h1M2444 4508h1M2452 4615h1M2476 4684h1M2441 4694h1M2452 4712h1M2506 4645h1M2477 4658h1M2462 4757h1M2438 4732h1M2536 4710h1M2436 4689h1M2472 4687h1M2416 4707h1M2437 4620h1M2470 4599h1M2447 4658h1M2491 4809h1M2469 4673h1M2399 4625h1M2355 4668h1M2513 4644h1M2438 4656h1M2537 4762h1M2466 4831h1M2429 4621h1M2492 4697h1M2453 4635h1M2466 4683h1M2421 4674h1M2496 4572h1M2518 4742h1M2440 4663h1M2551 4735h1M2438 4658h1M2478 4631h1M2387 4619h1M2373 4653h1M2534 4646h1M2521 4603h1M2384 4597h1M2476 4520h1M2486 4625h1M2469 4730h1M2480 4697h1M2422 4657h1M2458 4593h1M2411 4739h1M2449 4602h1M2483 4619h1M2428 4720h1M2452 4622h1M2445 4713h1M2466 4663h1M2510 4683h1M2477 4647h1M2485 4741h1M2397 4628h1M2448 4807h1M2505 4690h1M2424 4700h1M2445 4558h1M2419 4627h1M2529 4695h1M2444 4722h1M2431 4660h1M2495 4705h1M2518 4514h1M2489 4847h1M2513 4658h1M2476 4826h1M2459 4594h1M2444 4716h1M2441 4556h1M2437 4699h1M2483 4591h1M2460 4649h1M2470 4584h1M2494 4661h1M2463 4860h1M2400 4711h1M2427 4766h1M2412 4600h1M2374 4627h1M2470 4662h1M2408 4632h1M2404 4650h1M2414 4701h1M2507 4533h1M2450 4647h1M2513 4675h1M2461 4760h1M2444 4704h1M2492 4662h1M2494 4674h1M2471 4694h1M2416 4666h1M2443 4737h1M2409 4662h1M2453 4765h1M2470 4720h1M2536 4712h1M2533 4605h1M2498 4630h1M2511 4658h1M2476 4739h1M2598 4689h1M2538 4609h1M2483 4761h1M2485 4691h1M2516 4655h1M2474 4639h1M2480 4662h1M2418 4618h1M2510 4759h1M2472 4559h1M2504 4739h1M2455 4659h1M2380 4628h1M2489 4585h1M2521 4602h1M2404 4604h1M2419 4577h1M2451 4672h1M2453 4612h1M2383 4560h1M2549 4713h1M2514 4755h1M2435 4729h1M2378 4568h1M2482 4579h1M2560 4686h1M2505 4646h1M2520 4630h1M2420 4592h1M2476 4787h1M2393 4699h1M2560 4679h1M2492 4641h1M2364 4657h1M2376 4683h1M2488 4642h1M2472 4833h1M2450 4456h1M2495 4607h1M2561 4602h1M2483 4705h1M2378 4634h1M2457 4524h1M2402 4540h1M2426 4656h1M2481 4744h1M2457 4651h1M2414 4681h1M2464 4604h1M2426 4747h1M2490 4674h1M2453 4643h1M2483 4693h1M2452 4591h1M2501 4737h1M2458 4744h1M2464 4685h1M2438 4606h1M2471 4682h1M2379 4701h1M2593 4607h1M2432 4646h1M2469 4696h1M2442 4653h1M2441 4677h1M2484 4620h1M2440 4652h1M2444 4715h1M2398 4693h1M2420 4689h1M2408 4636h1M2551 4636h1M2400 4717h1M2413 4674h1M2474 4641h1M2533 4588h1M2383 4644h1M2390 4531h1M2470 4660h1M2481 4612h1M2396 4683h1M2378 4728h1M2418 4654h1M2500 4629h1M2462 4640h1M2500 4652h1M2459 4684h1M2463 4716h1M2494 4681h1M2458 4630h1M2475 4597h1M2420 4882h1M2435 4620h1M2487 4589h1M2453 4577h1M2428 4636h1M2496 4616h1M2490 4691h1M2464 4667h1M2428 4626h1M2507 4735h1M2425 4648h1M2390 4751h1M2427 4658h1M2419 4761h1M2403 4648h1M2407 4659h1M2505 4699h1M2505 4724h1M2535 4695h1M2500 4812h1M2441 4688h1M2516 4653h1M2435 4580h1M2447 4695h1M2408 4673h1M2523 4568h1M2512 4545h1M2442 4694h1M2449 4591h1M2465 4582h1M2473 4627h1M2504 4728h1M2467 4725h1M2483 4623h1M2392 4505h1M2449 4673h1M2378 4556h1M2549 4534h1M2531 4745h1M2498 4702h1M2517 4560h1M2560 4596h1M2509 4624h1M2387 4662h1M2454 4619h1M2351 4704h1M2425 4493h1M2404 4739h1M2463 4782h1M2482 4651h1M2419 4564h1M2450 4694h1M2477 4665h1M2456 4730h1M2455 4666h1M2348 4730h1M2442 4729h1M2501 4760h1M2476 4698h1M2392 4536h1M2450 4665h1M2476 4648h1M2417 4511h1M2496 4704h1M2425 4728h1M2447 4626h1M2458 4744h1M2448 4584h1M2436 4734h1M2498 4696h1M2441 4547h1M2473 4733h1M2355 4707h1M2478 4645h1M2462 4683h1M2401 4719h1M2528 4554h1M2452 4700h1M2454 4639h1M2400 4689h1M2385 4677h1M2436 4754h1M2390 4599h1M2487 4690h1M2505 4576h1M2433 4740h1M2386 4694h1M2444 4629h1M2412 4654h1M2471 4706h1M2472 4671h1M2443 4749h1M2467 4658h1M2513 4840h1M2545 4650h1M2438 4570h1M2498 4601h1M2452 4604h1M2412 4690h1M2525 4628h1M2482 4688h1M2470 4667h1M2480 4668h1M2455 4888h1M2413 4599h1M2548 4631h1M2506 4605h1M2476 4725h1M2509 4615h1M2525 4629h1M2453 4812h1M2491 4780h1M2447 4658h1M2494 4706h1M2451 4663h1M2446 4561h1M2488 4789h1M2485 4753h1M2447 4727h1M2508 4753h1M2459 4700h1M2443 4663h1M2463 4752h1M2427 4637h1M2520 4573h1M2493 4588h1M2510 4526h1M2398 4585h1M2476 4663h1M2426 4541h1M2467 4614h1M2524 4535h1M2475 4674h1M2455 4803h1M2517 4740h1M2512 4649h1M2552 4624h1M2374 4675h1M2479 4593h1M2443 4738h1M2421 4708h1M2469 4594h1M2407 4657h1M2356 4654h1M2420 4566h1M2450 4587h1M2553 4714h1M2428 4647h1M2407 4775h1M2368 4661h1M2446 4634h1M2451 4777h1M2470 4555h1M2394 4526h1M2426 4627h1M2354 4598h1M2471 4559h1M2388 4672h1M2331 4590h1M2519 4634h1M2487 4763h1M2480 4721h1M2480 4698h1M2413 4588h1M2515 4653h1M2413 4594h1M2555 4692h1M2474 4746h1M2375 4521h1M2505 4476h1M2558 4634h1M2451 4673h1M2514 4580h1M2453 4735h1M2433 4674h1M2339 4757h1M2522 4627h1M2442 4643h1M2481 4687h1M2409 4704h1M2419 4762h1M2517 4716h1M2445 4577h1M2444 4684h1M2403 4575h1M2473 4718h1M2501 4665h1M2441 4691h1M2454 4677h1M2405 4608h1M2531 4798h1M2433 4610h1M2456 4613h1M2544 4660h1M2452 4655h1M2389 4675h1M2419 4613h1M2446 4656h1M2549 4717h1M2474 4650h1M2452 4596h1M2503 4635h1M2526 4658h1M2427 4646h1M2532 4693h1M2505 4691h1M2485 4787h1M2349 4672h1M2473 4594h1M2531 4686h1M2450 4721h1M2467 4649h1M2414 4650h1M2492 4628h1M2478 4613h1M2504 4663h1M2453 4716h1M2527 4543h1M2437 4656h1M2470 4712h1M2403 4647h1M2425 4580h1M2474 4755h1M2432 4572h1M2442 4669h1M2454 4526h1M2476 4615h1M2501 4667h1M2501 4576h1M2513 4574h1M2474 4683h1M2437 4644h1M2387 4694h1M2447 4598h1M2425 4754h1M2376 4672h1M2544 4802h1M2375 4620h1M2481 4809h1M2491 4730h1M2453 4642h1M2465 4689h1M2427 4724h1M2549 4691h1M2425 4777h1M2394 4638h1M2415 4606h1M2433 4609h1M2466 4662h1M2480 4578h1M2390 4629h1M2481 4596h1M2429 4657h1M2458 4710h1M2498 4835h1M2523 4617h1M2431 4667h1M2417 4527h1M2415 4792h1M2517 4604h1M2508 4723h1M2359 4660h1M2360 4719h1M2404 4636h1M2391 4662h1M2484 4601h1M2475 4650h1M2559 4628h1M2503 4575h1M2470 4625h1M2521 4669h1M2420 4577h1M2396 4667h1M2466 4632h1M2510 4681h1M2385 4704h1M2508 4860h1M2506 4613h1M2440 4736h1M2472 4611h1M2451 4539h1M2468 4747h1M2503 4601h1M2425 4666h1M2515 4629h1M2506 4739h1M2508 4658h1M2368 4649h1M2373 4564h1M2498 4517h1M2435 4638h1M2430 4684h1M2427 4512h1M2398 4666h1M2450 4663h1M2429 4653h1M2432 4628h1M2487 4612h1M2406 4698h1M2519 4667h1M2356 4534h1M2398 4630h1M2492 4641h1M2508 4674h1M2464 4591h1M2500 4693h1M2459 4651h1M2378 4689h1M2481 4701h1M2520 4656h1M2437 4659h1M2381 4698h1M2434 4663h1M2480 4654h1M2479 4690h1M2518 4703h1M2491 4668h1M2489 4612h1M2366 4585h1M2466 4677h1M2506 4661h1M2447 4532h1M2457 4598h1M2467 4722h1M2541 4662h1M2538 4694h1M2494 4683h1M2561 4771h1M2445 4657h1M2489 4749h1M2442 4698h1M2527 4558h1M2466 4592h1M2512 4717h1M2548 4728h1M2363 4719h1M2480 4724h1M2449 4677h1M2370 4729h1M2449 4608h1M2352 4662h1M2469 4694h1M2456 4542h1M2554 4612h1M2448 4654h1M2517 4536h1M2522 4571h1M2452 4637h1M2502 4688h1M2390 4754h1M2410 4532h1M2451 4559h1M2463 4743h1M2405 4626h1M2444 4768h1M2499 4587h1M2442 4662h1M2457 4678h1M2421 4575h1M2532 4658h1M2552 4676h1M2475 4598h1M2459 4679h1M2546 4600h1M2488 4659h1M2432 4603h1M2398 4617h1M2436 4606h1M2435 4533h1M2465 4541h1M2454 4699h1M2530 4677h1M2453 4676h1M2483 4581h1M2414 4687h1M2403 4631h1M2428 4764h1M2476 4691h1M2432 4644h1M2368 4666h1M2488 4784h1M2457 4625h1M2451 4724h1M2435 4528h1M2354 4671h1M2543 4507h1M2441 4614h1M2491 4628h1M2533 4691h1M2520 4667h1M2475 4628h1M2465 4790h1M2480 4592h1M2510 4737h1M2493 4676h1M2443 4843h1M2487 4628h1M2484 4608h1M2499 4640h1M2475 4637h1M2532 4684h1M2475 4648h1M2509 4577h1M2467 4687h1M2437 4625h1M2418 4610h1M2457 4675h1M2491 4643h1M2527 4644h1M2461 4692h1M2439 4494h1M2440 4688h1M2529 4543h1M2470 4586h1M2440 4796h1M2501 4642h1M2400 4589h1M2471 4604h1M2463 4720h1M2458 4641h1M2408 4740h1M2513 4729h1M2548 4675h1M2400 4646h1M2471 4550h1M2497 4635h1M2444 4740h1M2418 4737h1M2465 4692h1M2564 4540h1M2468 4750h1M2478 4766h1M2552 4664h1M2360 4578h1M2358 4769h1M2510 4676h1M2503 4751h1M2397 4561h1M2490 4612h1M2467 4640h1M2476 4662h1M2425 4675h1M2443 4650h1M2422 4703h1M2468 4719h1M2454 4735h1M2548 4658h1M2496 4713h1M2388 4600h1M2485 4802h1M2535 4620h1M2479 4623h1M2518 4576h1M2463 4676h1M2500 4761h1M2419 4722h1M2504 4582h1M2397 4680h1M2529 4687h1M2391 4699h1M2361 4664h1M2491 4675h1M2457 4765h1M2471 4700h1M2486 4591h1M2464 4561h1M2421 4668h1M2475 4694h1M2482 4567h1M2489 4671h1M2563 4739h1M2429 4668h1M2468 4612h1M2493 4553h1M2443 4692h1M2406 4623h1M2437 4682h1M2517 4582h1M2452 4642h1M2495 4641h1M2429 4726h1M2487 4681h1M2432 4681h1M2424 4905h1M2471 4601h1M2468 4660h1M2538 4674h1M2385 4684h1M2490 4658h1M2544 4643h1M2532 4748h1M2446 4651h1M2431 4652h1M2441 4657h1M2480 4761h1M2474 4669h1M2482 4747h1M2494 4636h1M2412 4570h1M2409 4600h1M2405 4683h1M2399 4696h1M2460 4698h1M2480 4636h1M2590 4705h1M2491 4696h1M2466 4830h1M2535 4717h1M2429 4713h1M2482 4696h1M2513 4577h1M2504 4752h1M2485 4750h1M2448 4619h1M2404 4726h1M2457 4671h1M2436 4648h1M2499 4658h1M2458 4712h1M2493 4597h1M2386 4558h1M2513 4728h1M2423 4678h1M2388 4596h1M2397 4674h1M2434 4728h1M2520 4689h1M2500 4603h1M2407 4727h1M2469 4642h1M2460 4634h1M2388 4704h1M2416 4621h1M2365 4614h1M2422 4592h1M2335 4596h1M2426 4761h1M2419 4599h1M2426 4620h1M2424 4593h1M2522 4717h1M2448 4598h1M2477 4634h1M2502 4738h1M2509 4573h1M2498 4713h1M2438 4729h1M2411 4633h1M2427 4701h1M2442 4635h1M2465 4676h1M2461 4640h1M2519 4604h1M2460 4662h1M2553 4600h1M2516 4602h1M2441 4716h1M2507 4601h1M2324 4617h1M2533 4650h1M2485 4583h1M2485 4547h1M2382 4608h1M2452 4629h1M2458 4668h1M2520 4678h1M2455 4636h1M2423 4681h1M2497 4548h1M2415 4640h1M2501 4658h1M2472 4606h1M2520 4605h1M2406 4579h1M2526 4616h1M2479 4661h1M2562 4650h1M2433 4806h1M2556 4759h1M2500 4588h1M2504 4681h1M2429 4536h1M2492 4537h1M2498 4744h1M2424 4638h1M2408 4463h1M2427 4712h1M2537 4632h1M2473 4675h1M2511 4675h1M2479 4678h1M2471 4660h1M2476 4607h1M2445 4713h1M2525 4625h1M2473 4707h1M2476 4623h1M2397 4637h1M2480 4712h1M2432 4649h1M2440 4709h1M2516 4716h1M2411 4580h1M2455 4782h1M2496 4621h1M2522 4611h1M2440 4699h1M2481 4585h1M2479 4597h1M2410 4747h1M2360 4623h1M2370 4627h1M2494 4709h1M2470 4620h1M2399 4608h1M2434 4708h1M2445 4794h1M2447 4632h1M2463 4709h1M2427 4685h1M2472 4821h1M2427 4682h1M2434 4557h1M2422 4852h1M2454 4628h1M2438 4722h1M2482 4687h1M2475 4721h1M2421 4616h1M2559 4660h1M2408 4712h1M2482 4748h1M2571 4688h1M2430 4580h1M2530 4741h1M2535 4630h1M2482 4636h1M2374 4795h1M2535 4584h1M2469 4662h1M2438 4507h1M2528 4540h1M2429 4676h1M2517 4669h1M2438 4727h1M2491 4752h1M2412 4605h1M2446 4676h1M2420 4686h1M2430 4670h1M2474 4612h1M2457 4594h1M2474 4659h1M2528 4672h1M2459 4652h1M2374 4517h1M2451 4801h1M2469 4738h1M2515 4626h1M2516 4649h1M2512 4575h1M2454 4569h1M2497 4523h1M2394 4713h1M2528 4617h1M2486 4675h1M2490 4592h1M2446 4646h1M2468 4598h1M2432 4709h1M2493 4647h1M2400 4694h1M2513 4676h1M2492 4690h1M2564 4729h1M2463 4582h1M2460 4638h1M2474 4584h1M2467 4727h1M2460 4792h1M2411 4703h1M2411 4669h1M2437 4604h1M2451 4586h1M2407 4575h1M2408 4553h1M2451 4608h1M2501 4651h1M2456 4711h1M2498 4611h1M2513 4693h1M2503 4713h1M2444 4618h1M2445 4643h1M2374 4600h1M2431 4707h1M2488 4578h1M2412 4634h1M2531 4670h1M2535 4710h1M2447 4732h1M2510 4752h1M2396 4562h1M2414 4756h1M2447 4615h1M2465 4675h1M2456 4698h1M2423 4691h1M2561 4665h1M2479 4596h1M2479 4620h1M2498 4658h1M2474 4752h1M2454 4781h1M2438 4530h1M2385 4727h1M2538 4766h1M2420 4581h1M2383 4761h1M2425 4607h1M2386 4594h1M2563 4641h1M2483 4592h1M2534 4754h1M2536 4742h1M2493 4672h1M2493 4659h1M2430 4664h1M2461 4626h1M2435 4709h1M2467 4805h1M2431 4630h1M2527 4674h1M2502 4602h1M2460 4515h1M2383 4653h1M2499 4618h1M2508 4720h1M2462 4596h1M2403 4635h1M2486 4641h1M2516 4596h1M2371 4736h1M2493 4620h1M2376 4627h1M2469 4549h1M2551 4783h1M2469 4665h1M2489 4508h1M2449 4687h1M2465 4689h1M2530 4486h1M2450 4651h1M2446 4708h1M2466 4699h1M2475 4717h1M2519 4714h1M2447 4647h1M2403 4656h1M2530 4626h1M2461 4657h1M2427 4742h1M2431 4608h1M2432 4642h1M2435 4699h1M2390 4677h1M2524 4637h1M2484 4653h1M2513 4667h1M2448 4606h1M2482 4585h1M2473 4680h1M2522 4660h1M2505 4735h1M2483 4670h1M2433 4626h1M2406 4599h1M2426 4647h1M2434 4665h1M2439 4708h1M2405 4644h1M2546 4734h1M2478 4650h1M2367 4657h1M2412 4721h1M2400 4636h1M2477 4673h1M2517 4617h1M2417 4692h1M2495 4626h1M2452 4551h1M2521 4646h1M2532 4605h1M2480 4703h1M2500 4683h1M2465 4788h1M2447 4669h1M2408 4736h1M2481 4651h1M2462 4800h1M2446 4718h1M2461 4653h1M2456 4632h1M2414 4772h1M2439 4687h1M2521 4483h1M2454 4605h1M2533 4648h1M2409 4848h1M2399 4722h1M2471 4623h1M2503 4643h1M2433 4628h1M2495 4593h1M2510 4652h1M2517 4601h1M2460 4782h1M2462 4487h1M2385 4679h1M2466 4703h1M2479 4556h1M2534 4618h1M2403 4592h1M2424 4701h1M2416 4640h1M2509 4610h1M2342 4737h1M2412 4674h1M2497 4679h1M2400 4707h1M2462 4745h1M2506 4630h1M2492 4642h1M2454 4580h1M2427 4664h1M2505 4705h1M2465 4759h1M2504 4653h1M2484 4681h1M2442 4521h1M2535 4502h1M2441 4551h1M2486 4721h1M2434 4755h1M2454 4675h1M2453 4721h1M2433 4562h1M2477 4651h1M2529 4687h1M2555 4660h1M2535 4573h1M2457 4724h1M2536 4626h1M2485 4750h1M2552 4674h1M2404 4705h1M2537 4638h1M2436 4649h1M2521 4577h1M2442 4612h1M2509 4701h1M2451 4750h1M2374 4715h1M2418 4689h1M2453 4675h1M2466 4711h1M2357 4585h1M2407 4596h1M2430 4678h1M2455 4693h1M2476 4676h1M2425 4663h1M2392 4661h1M2480 4770h1M2449 4689h1M2508 4788h1M2440 4657h1M2496 4613h1M2422 4732h1M2478 4648h1M2469 4702h1M2487 4707h1M2420 4525h1M2459 4599h1M2424 4626h1M2457 4689h1M2495 4631h1M2467 4628h1M2500 4721h1M2470 4665h1M2520 4687h1M2487 4756h1M2516 4544h1M2482 4604h1M2532 4760h1M2383 4709h1M2480 4717h1M2469 4701h1M2359 4763h1M2424 4717h1M2443 4655h1M2430 4631h1M2471 4795h1M2379 4660h1M2501 4727h1M2503 4731h1M2482 4682h1M2449 4707h1M2465 4612h1M2443 4612h1M2520 4681h1M2490 4704h1M2561 4537h1M2447 4532h1M2535 4633h1M2437 4670h1M2457 4591h1M2415 4560h1M2490 4696h1M2462 4536h1M2495 4671h1M2537 4585h1M2463 4695h1M2484 4655h1M2509 4691h1M2462 4658h1M2439 4590h1M2483 4722h1M2490 4680h1M2503 4622h1M2505 4692h1M2433 4520h1M2487 4761h1M2525 4485h1M2443 4705h1M2483 4593h1M2436 4548h1M2473 4623h1M2549 4757h1M2474 4683h1M2419 4655h1M2482 4621h1M2476 4592h1M2519 4582h1M2399 4558h1M2421 4726h1M2462 4591h1M2391 4780h1M2520 4650h1M2368 4734h1M2425 4783h1M2394 4596h1M2434 4662h1M2504 4591h1M2494 4770h1M2510 4744h1M2494 4667h1M2368 4706h1M2480 4655h1M2377 4703h1M2441 4683h1M2446 4739h1M2439 4571h1M2489 4682h1M2426 4742h1M2549 4613h1M2494 4626h1M2522 4645h1M2502 4644h1M2508 4687h1M2463 4669h1M2560 4814h1M2415 4768h1M2488 4745h1M2466 4640h1M2455 4575h1M2481 4671h1M2429 4678h1M2507 4582h1M2503 4685h1M2470 4614h1M2501 4630h1M2415 4752h1M2378 4638h1M2437 4646h1M2454 4740h1M2454 4748h1M2515 4565h1M2506 4513h1M2567 4611h1M2471 4551h1M2497 4754h1M2456 4562h1M2424 4523h1M2417 4547h1M2428 4725h1M2534 4584h1M2479 4668h1M2458 4585h1M2466 4705h1M2438 4659h1M2464 4700h1M2463 4627h1M2497 4667h1M2509 4582h1M2387 4602h1M2477 4631h1M2532 4662h1M2416 4681h1M2453 4659h1M2474 4608h1M2518 4651h1M2494 4640h1M2455 4662h1M2490 4665h1M2515 4706h1M2484 4791h1M2555 4620h1M2486 4621h1M2415 4727h1M2428 4526h1M2459 4741h1M2456 4590h1M2495 4642h1M2483 4638h1M2548 4580h1M2505 4595h1M2537 4658h1M2429 4734h1M2445 4745h1M2498 4646h1M2470 4550h1M2496 4598h1M2478 4662h1M2436 4637h1M2547 4612h1M2521 4540h1M2391 4713h1M2436 4609h1M2467 4640h1M2498 4713h1M2462 4731h1M2400 4571h1M2506 4637h1M2456 4674h1M2524 4653h1M2480 4591h1M2514 4653h1M2506 4548h1M2508 4678h1M2441 4714h1M2515 4668h1M2476 4725h1M2406 4684h1M2447 4574h1M2450 4540h1M2488 4616h1M2499 4646h1M2412 4723h1M2501 4730h1M2463 4634h1M2415 4648h1M2506 4700h1M2430 4691h1M2409 4551h1M2502 4590h1M2509 4656h1M2434 4644h1M2517 4570h1M2514 4634h1M2441 4643h1M2562 4770h1M2463 4778h1M2477 4793h1M2352 4817h1M2497 4661h1M2437 4637h1M2487 4721h1M2384 4629h1M2522 4629h1M2536 4665h1M2557 4763h1M2325 4559h1M2494 4563h1M2483 4700h1M2322 4524h1M2431 4656h1M2462 4715h1M2535 4688h1M2427 4789h1M2476 4684h1M2464 4772h1M2484 4580h1M2448 4637h1M2509 4757h1M2513 4619h1M2401 4780h1M2394 4743h1M2501 4618h1M2190 4660h1M2411 4776h1M2531 4673h1M2546 4677h1M2380 4696h1M2354 4607h1M2451 4721h1M2391 4579h1M2286 4760h1M2427 4900h1M2420 4568h1M2550 4657h1M2449 4672h1M2367 4766h1M2413 4807h1M2317 4845h1M2403 4537h1M2454 4728h1M2495 4512h1M2260 4844h1M2446 4617h1M2479 4616h1M2324 4756h1M2572 4720h1M2362 4772h1M2617 4676h1M2483 4562h1M2498 4591h1M2442 4642h1M2501 4580h1M2337 4838h1M2355 4499h1M2263 4684h1M2463 4797h1M2363 4714h1M2480 4737h1M2468 4671h1M2313 4652h1M2476 4888h1M2441 4567h1M2436 4525h1M2457 4772h1M2418 4548h1M2421 4567h1M2505 4589h1M2340 4534h1M2324 4804h1M2359 4615h1M2503 4770h1M2394 4468h1M2574 4766h1M2173 4789h1M2363 4579h1M2384 4624h1M2442 4677h1M2527 4667h1M2405 4625h1M2338 4525h1M2487 4744h1M2544 4730h1M2215 4731h1M2466 4686h1M2444 4679h1M2353 4795h1M2382 4653h1M2443 4793h1M2422 4708h1M2400 4702h1M2326 4702h1M2443 4547h1M2367 4533h1M2427 4583h1M2373 4538h1M2436 4705h1M2480 4553h1M2439 4685h1M2473 4659h1M2309 4655h1M2457 4800h1M2443 4735h1M2370 4694h1M2407 4647h1M2196 4691h1M2426 4756h1M2387 4784h1M2238 4679h1M2460 4786h1M2369 4786h1M2442 4689h1M2401 4664h1M2458 4755h1M2427 4840h1M2397 4654h1M2459 4606h1M2486 4717h1M2238 4714h1M2422 4889h1M2372 4599h1M2331 4778h1M2524 4615h1M2497 4733h1M2337 4693h1M2330 4697h1M2485 4842h1M2393 4821h1M2262 4670h1M2409 4753h1M2511 4701h1M2383 4556h1M2410 4848h1M2559 4693h1M2490 4636h1M2534 4669h1M2470 4644h1M2516 4747h1M2286 4828h1M2354 4798h1M2287 4717h1M2597 4613h1M2434 4673h1M2409 4536h1M2359 4671h1M2338 4663h1M2195 4662h1M2599 4836h1M2413 4628h1M2424 4780h1M2307 4714h1M2415 4469h1M2450 4791h1M2413 4669h1M2469 4654h1M2352 4668h1M2445 4680h1M2491 4730h1M2464 4501h1M2450 4861h1M2411 4772h1M2340 4546h1M2464 4631h1M2388 4749h1M2344 4761h1M2481 4702h1M2375 4636h1M2481 4773h1M2495 4659h1M2389 4736h1M2424 4545h1M2463 4654h1M2414 4567h1M2358 4665h1M2454 4497h1M2432 4643h1M2428 4655h1M2509 4772h1M2444 4718h1M2383 4645h1M2432 4725h1M2575 4456h1M2362 4681h1M2398 4749h1M2355 4591h1M2448 4728h1M2318 4643h1M2455 4688h1M2480 4745h1M2357 4555h1M2351 4672h1M2300 4582h1M2423 4711h1M2330 4808h1M2369 4792h1M2386 4727h1M2364 4697h1M2486 4675h1M2547 4634h1M2249 4792h1M2354 4659h1M2439 4790h1M2335 4742h1M2436 4565h1M2531 4713h1M2513 4519h1M2396 4552h1M2430 4600h1M2390 4548h1M2405 4702h1M2325 4691h1M2278 4757h1M2390 4627h1M2498 4793h1M2481 4725h1M2270 4639h1M2404 4725h1M2369 4649h1M2443 4516h1M2332 4769h1M2493 4554h1M2403 4741h1M2466 4764h1M2490 4660h1M2264 4587h1M2402 4744h1M2541 4746h1M2421 4720h1M2503 4745h1M2453 4663h1M2380 4744h1M2442 4703h1M2504 4648h1M2523 4718h1M2535 4576h1M2331 4741h1M2486 4749h1M2310 4497h1M2409 4544h1M2403 4674h1M2470 4605h1M2445 4649h1M2519 4726h1M2371 4619h1M2487 4653h1M2451 4565h1M2420 4846h1M2324 4607h1M2465 4665h1M2445 4742h1M2483 4719h1M2417 4716h1M2399 4799h1M2451 4732h1M2457 4610h1M2475 4817h1M2571 4714h1M2370 4893h1M2580 4732h1M2183 4645h1M2496 4685h1M2354 4676h1M2580 4781h1M2349 4629h1M2504 4761h1M2341 4598h1M2329 4661h1M2484 4715h1M2489 4546h1M2364 4716h1M2394 4671h1M2545 4680h1M2339 4590h1M2343 4641h1M2427 4681h1M2339 4691h1M2456 4661h1M2248 4672h1M2434 4709h1M2375 4773h1M2343 4913h1M2437 4690h1M2402 4702h1M2384 4571h1M2484 4640h1M2443 4577h1M2450 4524h1M2526 4690h1M2414 4756h1M2487 4606h1M2386 4734h1M2468 4703h1M2462 4550h1M2376 4630h1M2299 4581h1M2318 4801h1M2345 4677h1M2464 4579h1M2409 4795h1M2396 4662h1M2458 4643h1M2478 4887h1M2531 4536h1M2372 4744h1M2464 4692h1M2476 4529h1M2344 4841h1M2430 4638h1M2347 4720h1M2402 4676h1M2453 4753h1M2284 4557h1M2350 4781h1M2356 4647h1M2427 4631h1M2361 4688h1M2450 4704h1M2352 4704h1M2379 4588h1M2468 4639h1M2445 4687h1M2432 4778h1M2417 4665h1M2500 4632h1M2529 4683h1M2390 4550h1M2362 4852h1M2337 4455h1M2558 4696h1M2349 4782h1M2315 4837h1M2441 4602h1M2503 4628h1M2322 4699h1M2410 4684h1M2306 4664h1M2364 4718h1M2549 4576h1M2433 4623h1M2399 4690h1M2425 4827h1M2442 4556h1M2412 4723h1M2325 4773h1M2326 4563h1M2580 4635h1M2359 4861h1M2515 4829h1M2363 4715h1M2523 4793h1M2475 4693h1M2346 4683h1M2401 4607h1M2352 4599h1M2358 4690h1M2391 4812h1M2344 4583h1M2394 4695h1M2545 4638h1M2282 4616h1M2320 4752h1M2344 4527h1M2383 4672h1M2500 4659h1M2477 4718h1M2458 4615h1M2436 4588h1M2330 4627h1M2328 4718h1M2418 4790h1M2436 4709h1M2401 4624h1M2353 4629h1M2316 4582h1M2398 4740h1M2364 4706h1M2382 4673h1M2334 4623h1M2526 4690h1M2456 4765h1M2567 4819h1M2379 4573h1M2425 4583h1M2400 4739h1M2422 4546h1M2400 4685h1M2407 4638h1M2263 4565h1M2398 4722h1M2475 4749h1M2265 4836h1M2392 4651h1M2465 4638h1M2521 4601h1M2413 4624h1M2456 4669h1M2559 4575h1M2523 4771h1M2384 4643h1M2372 4632h1M2501 4690h1M2438 4523h1M2377 4639h1M2402 4557h1M2445 4598h1M2404 4695h1M2400 4504h1M2401 4578h1M2301 4677h1M2558 4689h1M2517 4772h1M2540 4692h1M2409 4700h1M2430 4660h1M2466 4717h1M2485 4627h1M2275 4686h1M2448 4821h1M2341 4724h1M2414 4760h1M2367 4794h1M2555 4701h1M2463 4596h1M2418 4780h1M2531 4860h1M2414 4693h1M2405 4732h1M2391 4654h1M2424 4716h1M2487 4601h1M2411 4548h1M2415 4693h1M2500 4571h1M2443 4776h1M2495 4659h1M2431 4793h1M2317 4661h1M2331 4734h1M2288 4657h1M2510 4779h1M2453 4657h1M2382 4668h1M2341 4730h1M2449 4751h1M2409 4785h1M2445 4714h1M2353 4642h1M2332 4690h1M2545 4664h1M2344 4563h1M2418 4707h1M2526 4651h1M2275 4603h1M2476 4631h1M2425 4643h1M2409 4671h1M2441 4504h1M2326 4685h1M2244 4713h1M2570 4624h1M2397 4530h1M2491 4550h1M2508 4675h1M2443 4603h1M2456 4633h1M2476 4671h1M2545 4619h1M2459 4622h1M2520 4665h1M2397 4522h1M2387 4712h1M2427 4552h1M2452 4488h1M2463 4487h1M2574 4653h1M2487 4694h1M2425 4822h1M2578 4683h1M2446 4457h1M2448 4819h1M2459 4817h1M2394 4602h1M2334 4622h1M2431 4842h1M2396 4683h1M2352 4647h1M2430 4815h1M2404 4591h1M2373 4797h1M2280 4575h1M2407 4659h1M2559 4741h1M2490 4823h1M2506 4709h1M2418 4686h1M2504 4689h1M2367 4731h1M2384 4697h1M2461 4599h1M2307 4760h1M2425 4697h1M2444 4636h1M2554 4680h1M2365 4600h1M2454 4537h1M2369 4710h1M2377 4658h1M2207 4943h1M2346 4709h1M2511 4617h1M2461 4779h1M2433 4558h1M2463 4556h1M2322 4725h1M2404 4770h1M2416 4722h1M2547 4702h1M2349 4770h1M2454 4803h1M2498 4725h1M2356 4593h1M2427 4642h1M2261 4557h1M2428 4733h1M2246 4710h1M2390 4708h1M2556 4665h1M2453 4637h1M2424 4520h1M2432 4615h1M2591 4664h1M2464 4556h1M2503 4749h1M2386 4797h1M2386 4618h1M2338 4663h1M2407 4668h1M2365 4594h1M2498 4709h1M2471 4689h1M2411 4644h1M2377 4620h1M2192 4590h1M2374 4668h1M2445 4655h1M2473 4897h1M2176 4568h1M2231 4820h1M2433 4683h1M2403 4708h1M2383 4822h1M2467 4533h1M2273 4729h1M2375 4694h1M2495 4694h1M2437 4613h1M2355 4609h1M2456 4690h1M2443 4579h1M2350 4760h1M2475 4618h1M2474 4735h1M2410 4616h1M2495 4739h1M2328 4719h1M2481 4546h1M2405 4780h1M2346 4785h1M2373 4627h1M2513 4703h1M2377 4718h1M2393 4692h1M2369 4488h1M2358 4773h1M2496 4704h1M2526 4764h1M2461 4683h1M2480 4636h1M2393 4761h1M2381 4579h1M2328 4782h1M2534 4692h1M2394 4649h1M2370 4837h1M2436 4654h1M2422 4733h1M2434 4581h1M2526 4660h1M2322 4808h1M2444 4644h1M2366 4760h1M2387 4672h1M2549 4815h1M2470 4614h1M2390 4897h1M2459 4695h1M2419 4564h1M2508 4633h1M2382 4711h1M2459 4701h1M2404 4718h1M2409 4685h1M2372 4681h1M2429 4746h1M2498 4723h1M2373 4625h1M2390 4735h1M2450 4752h1M2361 4729h1M2489 4712h1M2477 4664h1M2239 4724h1M2369 4697h1M2335 4747h1M2486 4569h1M2495 4672h1M2326 4708h1M2367 4654h1M2414 4684h1M2392 4821h1M2478 4696h1M2498 4531h1M2467 4635h1M2507 4574h1M2495 4740h1M2415 4814h1M2387 4743h1M2363 4558h1M2485 4770h1M2491 4751h1M2501 4581h1M2395 4703h1M2390 4698h1M2442 4646h1M2520 4672h1M2449 4707h1M2439 4657h1M2356 4744h1M2456 4684h1M2463 4621h1M2346 4775h1M2559 4699h1M2349 4783h1M2494 4613h1M2405 4625h1M2434 4595h1M2359 4587h1M2377 4588h1M2476 4615h1M2406 4750h1M2394 4596h1M2491 4762h1M2477 4470h1M2434 4654h1M2439 4627h1M2557 4791h1M2408 4583h1M2452 4574h1M2455 4821h1M2311 4730h1M2269 4722h1M2431 4738h1M2489 4556h1M2437 4485h1M2379 4776h1M2370 4586h1M2485 4704h1M2398 4557h1M2294 4901h1M2475 4719h1M2440 4571h1M2451 4749h1M2503 4573h1M2525 4726h1M2465 4578h1M2407 4628h1M2254 4718h1M2444 4749h1M2409 4695h1M2525 4576h1M2522 4681h1M2459 4740h1M2415 4822h1M2418 4701h1M2354 4632h1M2397 4774h1M2438 4681h1M2504 4718h1M2363 4814h1M2484 4639h1M2315 4748h1M2401 4569h1M2423 4781h1M2500 4626h1M2578 4574h1M2518 4591h1M2418 4638h1M2354 4702h1M2417 4807h1M2418 4667h1M2440 4640h1M2351 4726h1M2541 4769h1M2260 4639h1M2289 4658h1M2217 4555h1M2385 4855h1M2127 4585h1M2318 4709h1M2136 4668h1M2159 4689h1M2179 4669h1M2309 4593h1M2218 4641h1M2221 4791h1M2205 4667h1M2164 4670h1M2205 4628h1M2199 4657h1M2245 4668h1M2241 4569h1M2099 4759h1M2222 4465h1M2352 4712h1M2234 4754h1M2261 4590h1M2216 4564h1M2218 4548h1M2261 4529h1M2171 4618h1M2254 4655h1M2148 4627h1M2288 4661h1M2155 4709h1M2310 4516h1M2336 4497h1M2151 4660h1M2312 4681h1M2236 4704h1M2346 4812h1M2227 4721h1M2244 4707h1M2243 4662h1M2352 4750h1M2128 4831h1M2317 4601h1M2270 4505h1M2229 4852h1M2247 4672h1M2329 4583h1M2321 4765h1M2382 4789h1M2218 4657h1M2131 4681h1M2224 4717h1M2249 4512h1M2232 4525h1M2348 4601h1M2422 4666h1M2289 4689h1M2138 4580h1M2336 4680h1M2218 4525h1M2266 4547h1M2322 4713h1M2288 4590h1M2258 4517h1M2283 4599h1M2316 4743h1M2307 4682h1M2408 4689h1M2053 4647h1M2208 4655h1M2222 4689h1M2320 4580h1M2278 4535h1M2322 4708h1M2163 4790h1M2247 4623h1M2308 4656h1M2259 4618h1M2235 4718h1M2282 4630h1M2378 4738h1M2115 4558h1M2374 4504h1M2282 4739h1M2203 4889h1M2309 4699h1M2265 4702h1M2347 4637h1M2206 4653h1M2330 4610h1M2285 4705h1M2311 4688h1M2257 4615h1M2307 4821h1M2221 4583h1M2337 4710h1M2227 4783h1M2213 4730h1M2254 4608h1M2259 4578h1M2204 4541h1M2318 4614h1M2254 4718h1M2305 4603h1M2158 4660h1M2244 4838h1M2193 4508h1M2253 4583h1M2302 4616h1M2341 4661h1M2365 4703h1M2318 4739h1M2213 4792h1M2301 4469h1M2226 4568h1M2300 4591h1M2189 4619h1M2357 4824h1M2292 4677h1M2243 4641h1M2167 4547h1M2282 4742h1M2226 4627h1M2280 4673h1M2213 4648h1M2225 4721h1M2306 4618h1M2366 4644h1M2174 4819h1M2249 4542h1M2252 4730h1M2232 4547h1M2414 4739h1M2204 4698h1M2288 4492h1M2229 4632h1M2256 4514h1M2103 4624h1M2325 4559h1M2248 4665h1M2195 4521h1M2379 4489h1M2243 4588h1M2220 4700h1M2204 4682h1M2338 4734h1M2265 4595h1M2241 4602h1M2170 4712h1M2200 4566h1M2287 4701h1M2261 4485h1M2122 4574h1M2202 4505h1M2279 4713h1M2451 4738h1M2210 4813h1M2107 4590h1M2317 4749h1M2229 4527h1M2170 4635h1M2302 4579h1M2247 4763h1M2195 4701h1M2171 4631h1M2254 4581h1M2269 4763h1M2138 4617h1M2332 4722h1M2174 4575h1M2361 4668h1M2286 4674h1M2250 4608h1M2286 4543h1M2221 4669h1M2258 4537h1M2378 4737h1M2223 4622h1M2320 4748h1M2200 4628h1M2262 4729h1M2330 4644h1M2179 4592h1M2286 4734h1M2112 4805h1M2183 4663h1M2234 4601h1M2325 4627h1M2313 4729h1M2199 4573h1M2254 4674h1M2276 4579h1M2153 4727h1M2293 4608h1M2358 4542h1M2350 4707h1M2222 4674h1M2234 4592h1M2197 4601h1M2228 4616h1M2245 4659h1M2311 4788h1M2269 4649h1M2198 4764h1M2320 4641h1M2325 4858h1M2220 4520h1M2246 4478h1M2256 4609h1M2148 4724h1M2272 4676h1M2310 4569h1M2399 4590h1M2276 4711h1M2243 4541h1M2253 4584h1M2306 4601h1M2319 4680h1M2203 4649h1M2277 4712h1M2309 4632h1M2123 4708h1M2359 4544h1M2248 4646h1M2324 4630h1M2260 4620h1M2246 4620h1M2258 4776h1M2283 4535h1M2324 4640h1M2245 4698h1M2185 4736h1M2214 4710h1M2195 4704h1M2317 4648h1M2196 4726h1M2370 4640h1M2273 4636h1M2257 4711h1M2238 4660h1M2243 4620h1M2318 4640h1M2315 4664h1M2194 4590h1M2436 4527h1M2304 4656h1M2176 4727h1M2252 4601h1M2329 4842h1M2279 4636h1M2324 4667h1M2430 4622h1M2329 4785h1M2405 4690h1M2312 4742h1M2218 4699h1M2370 4599h1M2215 4669h1M2331 4705h1M2310 4546h1M2205 4651h1M2215 4832h1M2252 4745h1M2293 4616h1M2358 4614h1M2270 4633h1M2398 4630h1M2327 4733h1M2221 4662h1M2223 4759h1M2272 4728h1M2230 4735h1M2260 4729h1M2321 4685h1M2285 4675h1M2335 4726h1M2218 4559h1M2206 4696h1M2169 4519h1M2142 4567h1M2236 4764h1M2272 4577h1M2253 4780h1M2268 4528h1M2410 4628h1M2191 4745h1M2249 4852h1M2233 4693h1M2204 4778h1M2362 4561h1M2265 4769h1M2355 4679h1M2189 4615h1M2399 4658h1M2426 4636h1M2207 4681h1M2267 4595h1M2259 4742h1M2307 4609h1M2177 4766h1M2301 4644h1M2319 4761h1M2226 4678h1M2110 4608h1M2221 4550h1M2241 4820h1M2322 4728h1M2225 4747h1M2188 4553h1M2312 4737h1M2294 4598h1M2320 4706h1M2272 4788h1M2342 4651h1M2304 4762h1M2144 4596h1M2282 4587h1M2323 4542h1M2271 4751h1M2371 4521h1M2237 4575h1M2317 4820h1M2183 4464h1M2269 4511h1M2230 4753h1M2199 4632h1M2177 4780h1M2284 4673h1M2299 4644h1M2224 4606h1M2182 4734h1M2207 4663h1M2322 4744h1M2185 4627h1M2348 4602h1M2152 4655h1M2288 4559h1M2315 4594h1M2354 4628h1M2239 4558h1M2215 4771h1M2169 4664h1M2333 4819h1M2260 4663h1M2237 4703h1M2240 4588h1M2408 4785h1M2398 4896h1M2425 4933h1M2423 4838h1M2455 4802h1M2386 4765h1M2355 4918h1M2351 4875h1M2486 4885h1M2367 4773h1M2406 4820h1M2375 4859h1M2473 4819h1M2402 4881h1M2490 4872h1M2395 4862h1M2444 4889h1M2467 4875h1M2477 4840h1M2370 4846h1M2411 4775h1M2426 4811h1M2339 4865h1M2465 4987h1M2449 4946h1M2455 4889h1M2361 4883h1M2439 4936h1M2451 4882h1M2481 4854h1M2404 4897h1M2463 4869h1M2527 4866h1M2408 4901h1M2409 4911h1M2414 4869h1M2356 4846h1M2412 4921h1M2510 4978h1M2384 4916h1M2420 4832h1M2489 4954h1M2458 4808h1M2441 4895h1M2413 4854h1M2424 4906h1M2430 4828h1M2464 4859h1M2434 4841h1M2476 4973h1M2338 4820h1M2470 4958h1M2404 4881h1M2430 4832h1M2409 4873h1M2462 4833h1M2424 4852h1M2461 4857h1M2390 4908h1M2439 4805h1M2491 4798h1M2485 4893h1M2412 4913h1M2437 4850h1M2412 4905h1M2424 4854h1M2431 4815h1M2490 4824h1M2459 4778h1M2502 4836h1M2506 4921h1M2368 4911h1M2445 4832h1M2408 4753h1M2350 4882h1M2377 4914h1M2405 4783h1M2513 4869h1M2434 4823h1M2421 4801h1M2429 4918h1M2393 4882h1M2439 4894h1M2426 4832h1M2350 4825h1M2404 4890h1M2461 4963h1M2425 4842h1M2463 4843h1M2382 4862h1M2435 4944h1M2473 4868h1M2351 4923h1M2394 4780h1M2411 4879h1M2416 4874h1M2405 4869h1M2444 4832h1M2480 4858h1M2447 4832h1M2481 4915h1M2482 4800h1M2401 4890h1M2444 4819h1M2412 4849h1M2463 4802h1M2413 4866h1M2421 4945h1M2514 4927h1M2422 4875h1M2354 4784h1M2436 4886h1M2445 4859h1M2406 4792h1M2434 4894h1M2480 4845h1M2405 4846h1M2421 4896h1M2396 4849h1M2447 4803h1M2424 4803h1M2385 4881h1M2423 4698h1M2520 4843h1M2347 4878h1M2363 4903h1M2447 4918h1M2363 4816h1M2526 5025h1M2358 4871h1M2367 4940h1M2405 4872h1M2483 4864h1M2470 4936h1M2458 4918h1M2445 4791h1M2494 4893h1M2342 4863h1M2444 4880h1M2501 4816h1M2379 4794h1M2446 4811h1M2490 4831h1M2492 4831h1M2424 4929h1M2522 4789h1M2455 4894h1M2483 4912h1M2378 4883h1M2394 4907h1M2394 4839h1M2517 4822h1M2317 4790h1M2341 4868h1M2470 4896h1M2438 4878h1M2286 4928h1M2411 4904h1M2416 4750h1M2490 4906h1M2337 4888h1M2405 4827h1M2483 4848h1M2468 4819h1M2386 4911h1M2417 4922h1M2359 4788h1M2497 4900h1M2410 4868h1M2493 4850h1M2470 4966h1M2388 4873h1M2424 4899h1M2462 4833h1M2452 4880h1M2505 4989h1M2485 4818h1M2447 5006h1M2465 4885h1M2397 4901h1M2402 4897h1M2460 4863h1M2447 4809h1M2377 4911h1M2427 4897h1M2392 4821h1M2404 4834h1M2494 4822h1M2385 4844h1M2399 4876h1M2459 4890h1M2435 4889h1M2439 4811h1M2361 4778h1M2430 4751h1M2413 4921h1M2392 4876h1M2404 4862h1M2417 4872h1M2472 4926h1M2523 4739h1M2437 4777h1M2503 4872h1M2437 4888h1M2360 4863h1M2434 4930h1M2494 4881h1M2499 4819h1M2389 4769h1M2540 4812h1M2396 4789h1M2396 4922h1M2406 5045h1M2502 4784h1M2451 4852h1M2476 4867h1M2324 4768h1M2429 4917h1M2426 4916h1M2466 4904h1M2409 4771h1M2490 4809h1M2399 4963h1M2364 4768h1M2353 4861h1M2493 4838h1M2469 4906h1M2394 4756h1M2485 4837h1M2424 4787h1M2426 4919h1M2361 4822h1M2406 4857h1M2437 4875h1M2442 4908h1M2405 4902h1M2480 4929h1M2502 4900h1M2393 4864h1M2452 4829h1M2359 4951h1M2452 4921h1M2386 4897h1M2425 4955h1M2441 4879h1M2421 4877h1M2483 4873h1M2395 4839h1M2410 4809h1M2448 4817h1M2431 4846h1M2445 4829h1M2422 4908h1M2393 4916h1M2465 4825h1M2436 4830h1M2476 4737h1M2497 4875h1M2415 4919h1M2397 4846h1M2411 4888h1M2401 4913h1M2337 4784h1M2512 4752h1M2452 4841h1M2545 4900h1M2406 4848h1M2461 4865h1M2446 4942h1M2429 4815h1M2480 4842h1M2433 4790h1M2429 4894h1M2441 4863h1M2325 4869h1M2398 4961h1M2397 4719h1M2512 4982h1M2461 4927h1M2471 4882h1M2463 4951h1M2424 4838h1M2512 4888h1M2423 4858h1M2365 4848h1M2463 4858h1M2490 4856h1M2438 4870h1M2450 4837h1M2479 4815h1M2507 4876h1M2461 4887h1M2514 4884h1M2447 4844h1M2534 4883h1M2367 4883h1M2479 4948h1M2447 4751h1M2439 4932h1M2371 4765h1M2485 4815h1M2424 4802h1M2385 4846h1M2403 4833h1M2422 4844h1M2438 4827h1M2389 4813h1M2389 4773h1M2453 4918h1M2430 4833h1M2528 4768h1M2413 4780h1M2469 4919h1M2517 4842h1M2423 4844h1M2481 4846h1M2448 4990h1M2436 4810h1M2510 4953h1M2385 4734h1M2404 4822h1M2348 4866h1M2427 4823h1M2480 4852h1M2421 4891h1M2473 4865h1M2397 4840h1M2488 4906h1M2428 4818h1M2410 4795h1M2512 4797h1M2433 4791h1M2461 4784h1M2439 4819h1M2467 4784h1M2439 4856h1M2375 4836h1M2447 4777h1M2456 4747h1M2452 4879h1M2422 4943h1M2520 4735h1M2398 4792h1M2439 4753h1M2443 4807h1M2381 4845h1M2376 4896h1M2465 4915h1M2465 4775h1M2440 4802h1M2356 4840h1M2419 4924h1M2445 4889h1M2463 4895h1M2490 4876h1M2455 5027h1M2479 4846h1M2513 4768h1M2321 4891h1M2481 4857h1M2412 4843h1M2456 4917h1M2443 4834h1M2384 4906h1M2390 4884h1M2454 4844h1M2424 4862h1M2468 4853h1M2414 4912h1M2536 4816h1M2421 4922h1M2532 4809h1M2396 4887h1M2460 4928h1M2487 4864h1M2370 4920h1M2386 4890h1M2452 4868h1M2488 4813h1M2498 4812h1M2459 4831h1M2483 4875h1M2377 4948h1M2412 4872h1M2502 4878h1M2406 4866h1M2421 4890h1M2349 4889h1M2424 4812h1M2356 4937h1M2450 4858h1M2503 4785h1M2448 4904h1M2441 4916h1M2413 4872h1M2459 4879h1M2379 4843h1M2410 4779h1M2536 4866h1M2370 4826h1M2405 4893h1M2366 4887h1M2491 4842h1M2421 4898h1M2371 4788h1M2372 4883h1M2485 4868h1M2465 4920h1M2470 4884h1M2429 4918h1M2475 4887h1M2495 4963h1M2464 4859h1M2355 4756h1M2338 4969h1M2362 4757h1M2445 4866h1M2360 4807h1M2380 4918h1M2433 4740h1M2390 4922h1M2370 4863h1M2478 4767h1M2455 4934h1M2469 4996h1M2476 4863h1M2500 4904h1M2429 4916h1M2422 4913h1M2347 4945h1M2419 4776h1M2402 4787h1M2481 4940h1M2463 4865h1M2501 4886h1M2483 4794h1M2488 4909h1M2456 4763h1M2437 4859h1M2412 4906h1M2430 4864h1M2385 4894h1M2449 4726h1M2426 4850h1M2333 4888h1M2301 4854h1M2395 4772h1M2408 4916h1M2416 4959h1M2456 5099h1M2361 5087h1M2394 5196h1M2500 5066h1M2158 5105h1M2514 4953h1M2385 4977h1M2461 5131h1M2396 5002h1M2677 4906h1M2346 5074h1M2499 5180h1M2168 4780h1M2404 4990h1M2471 4973h1M2263 4775h1M2219 5139h1M2409 5017h1M2491 5259h1M2507 4996h1M2339 5007h1M2432 5137h1M2274 5145h1M2557 5070h1M2349 5076h1M2515 4876h1M2376 5078h1M2371 5068h1M2546 5070h1M2322 5227h1M2516 5104h1M2368 5200h1M2322 5037h1M2325 5292h1M2502 5175h1M2393 5023h1M2369 5282h1M2265 5223h1M2506 4941h1M2494 5198h1M2429 5052h1M2470 5017h1M2108 5168h1M2352 5237h1M2415 4883h1M2410 5112h1M2349 4994h1M2421 5135h1M2334 5011h1M2341 5196h1M2288 5202h1M2412 5166h1M2335 5120h1M2355 5120h1M2525 5087h1M2396 5003h1M2397 5110h1M2262 4948h1M2353 5124h1M2488 4978h1M2450 4907h1M2405 4859h1M2384 5270h1M2406 4861h1M2436 5245h1M2371 4895h1M2176 5052h1M2577 5012h1M2502 5155h1M2386 4948h1M2527 4975h1M2282 5112h1M2516 5119h1M2417 4956h1M2480 4937h1M2369 4966h1M2414 5093h1M2453 5050h1M2494 4947h1M2446 4959h1M2440 4926h1M2347 5035h1M2554 5128h1M2419 5019h1M2380 5001h1M2371 5109h1M2292 5001h1M2333 5143h1M2263 5022h1M2418 5117h1M2393 4818h1M2420 4920h1M2287 5022h1M2362 5195h1M2342 5186h1M2489 4974h1M2266 5067h1M2263 5017h1M2515 5224h1M2432 5216h1M2259 5038h1M2521 5074h1M2534 5197h1M2503 5139h1M2214 4964h1M2411 5099h1M2322 4987h1M2376 4869h1M2258 5014h1M2556 5037h1M2338 5116h1M2425 4917h1M2472 5210h1M2455 5172h1M2437 5053h1M2365 5213h1M2420 4943h1M2380 5119h1M2195 4992h1M2490 5085h1M2343 5078h1M2353 5049h1M2363 5267h1M2275 5171h1M2291 5103h1M2237 4806h1M2442 4961h1M2506 4971h1M2406 5165h1M2297 4953h1M2517 4914h1M2371 4968h1M2256 4762h1M2230 5199h1M2416 5169h1M2530 5080h1M2365 5158h1M2342 5045h1M2375 4994h1M2323 5052h1M2350 5040h1M2422 5006h1M2334 4966h1M2483 5124h1M2312 5125h1M2463 4920h1M2431 5088h1M2365 5143h1M2373 5020h1M2370 5090h1M2551 5038h1M2327 5058h1M2506 4982h1M2490 4950h1M2369 5142h1M2545 5185h1M2185 4876h1M2422 5127h1M2411 5222h1M2401 5260h1M2475 5055h1M2363 5122h1M2383 5253h1M2503 5156h1M2389 5168h1M2306 4942h1M2451 5026h1M2392 5053h1M2349 5191h1M2449 5071h1M2330 4979h1M2311 5034h1M2376 4935h1M2382 5043h1M2404 4975h1M2291 5001h1M2554 5114h1M2460 4905h1M2412 5012h1M2420 4961h1M2174 5169h1M2483 5171h1M2307 5071h1M2445 5140h1M2292 4984h1M2488 5007h1M2351 4917h1M2380 4987h1M2537 5176h1M2488 4947h1M2276 5123h1M2337 5132h1M2417 5045h1M2378 5053h1M2472 4938h1M2338 4741h1M2230 5005h1M2317 4892h1M2383 5075h1M2449 5015h1M2466 5109h1M2512 5098h1M2421 4904h1M2381 5002h1M2465 5003h1M2390 5140h1M2357 4864h1M2357 5071h1M2483 5123h1M2533 5054h1M2518 4978h1M2255 4969h1M2498 4890h1M2299 5168h1M2369 5099h1M2452 4880h1M2279 4802h1M2289 5121h1M2332 5062h1M2551 5221h1M2496 5142h1M2319 5149h1M2412 5063h1M2412 5182h1M2428 4949h1M2335 5058h1M2529 5079h1M2365 4950h1M2473 5081h1M2248 5188h1M2435 5048h1M2412 4813h1M2522 5040h1M2166 4994h1M2449 5073h1M2473 5075h1M2376 4996h1M2589 5188h1M2479 5117h1M2472 5081h1M2521 4892h1M2439 4782h1M2510 4982h1M2454 5008h1M2338 4977h1M2305 4886h1M2505 5159h1M2453 5105h1M2339 5034h1M2402 5019h1M2531 5260h1M2245 5004h1M2318 5226h1M2462 4967h1M2474 4959h1M2310 4996h1M2415 5030h1M2526 5119h1M2401 4947h1M2191 4832h1M2492 4997h1M2398 5171h1M2358 5210h1M2295 5180h1M2507 5163h1M2424 4928h1M2436 5020h1M2431 5055h1M2439 4956h1M2475 5050h1M2554 5048h1M2304 5144h1M2393 5120h1M2359 5048h1M2551 5180h1M2374 4870h1M2255 5038h1M2397 5112h1M2334 4945h1M2333 5168h1M2359 4936h1M2282 5042h1M2225 4845h1M2575 5112h1M2388 5095h1M2315 5144h1M2456 5189h1M2520 5024h1M2242 5168h1M2359 5017h1M2425 5122h1M2324 4936h1M2288 5006h1M2340 5047h1M2389 5052h1M2438 5121h1M2403 4860h1M2338 5097h1M2366 5005h1M2209 5081h1M2592 5091h1M2363 5042h1M2373 4978h1M2423 5174h1M2451 5104h1M2430 5206h1M2338 5008h1M2250 5146h1M2384 5134h1M2327 4981h1M2350 5053h1M2399 5008h1M2421 5068h1M2516 5007h1M2386 5043h1M2244 5175h1M2452 5029h1M2483 5090h1M2251 5079h1M2454 5022h1M2416 5113h1M2350 5168h1M2415 4923h1M2434 4850h1M2453 5090h1M2503 4926h1M2398 5010h1M2399 5123h1M2617 5144h1M2303 5083h1M2374 5099h1M2367 5089h1M2468 5066h1M2499 5176h1M2280 4957h1M2510 5176h1M2292 5170h1M2634 4951h1M2339 4969h1M2499 4893h1M2375 5037h1M2463 5123h1M2332 4927h1M2411 5063h1M2401 5066h1M2408 5145h1M2471 5008h1M1965 5232h1M2235 4628h1M2064 4620h1M1957 4971h1M2009 4760h1M1949 4599h1M2271 4695h1M1997 4503h1M2296 5161h1M2309 4571h1M1978 4493h1M2238 4930h1M2014 4689h1M2208 4595h1M2307 4901h1M2111 4815h1M2014 4791h1M2187 5018h1M2167 4607h1M2025 4876h1M2140 5233h1M2128 4770h1M2090 5080h1M2075 4781h1M2290 4670h1M2188 4795h1M2090 4529h1M2150 4708h1M2174 4727h1M2269 5158h1M2106 5177h1M2248 5105h1M1992 4882h1M2215 4530h1M2204 5042h1M2181 5140h1M1959 4870h1M2285 4508h1M2146 4901h1M1989 4573h1M2216 5209h1M2036 4512h1M1957 4831h1M2149 4584h1M2242 4935h1M2209 4512h1M2243 5282h1M2207 5011h1M2080 5164h1M2015 4785h1M2062 4756h1M2255 4810h1M1939 4490h1M1960 5046h1M2288 4918h1M2146 4726h1M2279 4515h1M2133 5022h1M2220 5163h1M1942 4803h1M2218 4808h1M2171 4686h1M2177 4658h1M2037 5088h1M2168 4918h1M2227 5288h1M2259 4977h1M1960 4617h1M2275 4687h1M2208 5030h1M2143 4766h1M2217 5055h1M2222 5015h1M2145 5120h1M2265 4969h1M2271 4883h1M2245 4889h1M2016 4689h1M2081 4634h1M2289 5163h1M2151 5034h1M1996 4947h1M2244 5126h1M1998 4546h1M2306 4967h1M2187 5168h1M2300 4945h1M2052 5197h1M2274 4574h1M2049 5259h1M1960 4712h1M2224 5052h1M2293 5269h1M2290 4933h1M1982 4707h1M2147 5284h1M2190 4685h1M2052 5065h1M2215 4960h1M2077 4898h1M2268 5116h1M2149 5238h1M2097 5261h1M2125 5118h1M2092 5153h1M2119 4494h1M2202 4779h1M2058 4937h1M1939 4864h1M2195 5246h1M2105 5231h1M2267 4869h1M1939 5234h1M2229 4764h1M2047 5129h1M2248 4581h1M2056 5291h1M1978 4846h1M2182 5278h1M2013 4683h1M2241 4701h1M2146 4703h1M2262 4713h1M2193 4543h1M2107 5124h1M2165 4894h1M1952 4897h1M1969 4690h1M2028 4870h1M2131 4852h1M2280 4483h1M2032 4612h1M1965 4717h1M2250 4826h1M2275 5288h1M2146 4781h1M2016 5210h1M2252 5084h1M2059 5289h1M2171 5148h1M2240 5252h1M2062 4592h1M2013 5121h1M1957 4761h1M2288 4796h1M1944 4562h1M2250 4589h1M2295 5033h1M2093 4652h1M1983 5006h1M2198 4765h1M2007 4997h1M2101 4990h1M2059 4649h1M2214 5224h1M2222 5062h1M2171 4939h1M2128 4984h1M2219 5008h1M2000 4764h1M2009 4976h1M1997 4599h1M2005 5290h1M2107 5051h1M1986 5107h1M2291 5089h1M1958 5176h1M2294 4854h1M2239 4681h1M2146 4496h1M2135 4898h1M2241 4598h1M2058 4855h1M2247 4521h1M2099 5114h1M2243 4767h1M2131 4724h1M2311 5135h1M2170 4800h1M2181 4860h1M2021 5020h1M2319 4498h1M1955 4728h1M1940 5296h1M2069 5039h1M2313 4578h1M2032 5258h1M1957 5242h1M2055 5014h1M2228 4484h1M2238 4816h1M1960 4790h1M2092 4618h1M2097 4971h1M1998 4709h1M1988 5027h1M2055 4675h1M2080 5226h1M2166 4698h1M2185 4482h1M2169 5174h1M2095 4655h1M1998 4506h1M1974 5257h1M1984 4738h1M2216 5053h1M2005 4561h1M2115 5142h1M2026 5169h1M2033 4700h1M2220 4671h1M2238 4583h1M2139 4957h1M2174 4812h1M2178 5210h1M2241 4777h1M2035 4792h1M2240 4692h1M2320 4519h1M2203 4964h1M2251 4712h1M2002 5225h1M1945 5013h1M2296 4995h1M2025 5189h1M2038 4627h1M2178 5209h1M2131 5147h1M2259 4624h1M2024 4652h1M1999 4508h1M1961 4840h1M2239 4567h1M2185 5145h1M2194 4700h1M2034 4658h1M2007 5229h1M2214 4728h1M2242 4748h1M2042 4933h1M2053 4917h1M2239 4719h1M2243 4983h1M1997 4649h1M2032 5027h1M2226 4729h1M2206 4658h1M2079 4755h1M2242 4688h1M2199 5132h1M2100 5100h1M2124 4562h1M2012 5215h1M2088 5151h1M1974 4549h1M2131 4881h1M1958 4906h1M2305 4487h1M1983 5232h1M2055 4827h1M2274 5076h1M1962 4926h1M2155 5239h1M2125 4717h1M2159 5054h1M2185 4734h1M2124 5240h1M2282 4723h1M2180 4505h1M1991 4873h1M2156 5055h1M1950 4809h1M2032 5091h1M2282 5087h1M1952 4657h1M2064 4806h1M1957 5291h1M2279 4899h1M1952 5199h1M2150 4801h1M2110 4656h1M2274 5201h1M1949 4847h1M2252 5052h1M2002 4915h1M2101 5155h1M2285 5268h1M2054 5043h1M2013 4578h1M2252 4550h1M2243 5180h1M2318 5083h1M2239 5149h1M2164 4923h1M2011 4960h1M2224 4530h1M2146 4823h1M2095 4938h1M2158 4707h1M1990 4536h1M2294 5203h1M2075 4596h1M2293 4896h1M2234 5027h1M2183 4878h1M2040 5209h1M2203 4665h1M2073 5213h1M2288 5186h1M2071 4922h1M2265 4816h1M1948 5184h1M2245 4876h1M2125 5268h1M2164 4594h1M2172 4552h1M2313 4613h1M2172 5167h1M2300 4830h1M2206 4859h1M2105 5025h1M2289 4639h1M2225 4836h1M2203 4973h1M2176 4962h1M2262 4983h1M2074 5129h1M2190 5087h1M2240 4926h1M2208 5109h1M2007 5035h1M2175 5012h1M2116 5068h1M2259 5067h1M2139 5079h1M2325 5043h1M2040 5175h1M2195 5049h1M2072 5038h1M2308 5156h1M2290 5017h1M2068 5125h1M2217 5258h1M2146 5204h1M2005 5045h1M2057 5009h1M2159 5086h1M2196 5167h1M2117 5065h1M2176 4981h1M2178 5056h1M2176 5168h1M2044 5016h1M2162 5069h1M2198 5067h1M2017 5048h1M2288 5009h1M2280 5062h1M2165 5128h1M2337 5062h1M2078 5043h1M2066 4961h1M2095 5149h1M2086 5064h1M2315 5122h1M2155 5032h1M2145 5096h1M2183 5294h1M2292 4979h1M2165 5105h1M2117 5139h1M2175 5171h1M2263 5137h1M2132 5155h1M2276 5065h1M2178 5042h1M2135 5060h1M2194 5025h1M2327 5119h1M2129 5006h1M2273 5062h1M2201 5019h1M2164 5005h1M2155 5082h1M2224 4956h1M2205 4991h1M2184 5085h1M2209 4916h1M2074 4923h1M2092 5173h1M2061 5229h1M2120 5102h1M2132 5017h1M2118 4980h1M2198 5001h1M2066 5054h1M2129 4977h1M2228 4997h1M2300 5087h1M2155 5038h1M2257 4970h1M2272 5103h1M2060 5102h1M2172 5118h1M2057 4938h1M2116 5000h1M2187 4987h1M2038 5082h1M2198 5055h1M2138 4958h1M2129 5074h1M2198 4960h1M2077 5054h1M2000 5054h1M2153 5009h1M2086 4985h1M2133 4915h1M2053 5079h1M2067 4920h1M2059 5111h1M2037 5119h1M2078 5226h1M2080 4986h1M2152 4936h1M2430 5145h1M2095 5077h1M2009 5072h1M2201 5173h1M2040 5046h1M2071 5028h1M2119 5091h1M2153 5131h1M2156 5041h1M2171 5005h1M2139 5162h1M2247 5059h1M2223 5008h1M2101 5270h1M2130 5026h1M2029 4918h1M2207 5152h1M2131 4950h1M2317 5075h1M2089 5004h1M2283 5064h1M2068 5141h1M2000 5185h1M2073 4865h1M2179 5156h1M2239 5073h1M2072 4940h1M2234 5028h1M2103 5038h1M2103 5209h1M2122 5100h1M2294 5155h1M2165 5191h1M2176 5023h1M2015 4986h1M2163 5111h1M2173 5102h1M2292 5018h1M2072 4982h1M2086 5134h1M2068 4960h1M2091 4978h1M2208 5051h1M2078 5138h1M2261 5007h1M2151 4997h1M2068 4914h1M2091 5098h1M2027 4927h1M2020 5079h1" stroke="#000" stroke-width="8.5" stroke-linecap="square" stroke-opacity="0.72" fill="none" filter="url(#bd)"/>
<text x="185.9" y="543.1" font-size="10.2" letter-spacing="-0.35" fill="#111">10<tspan dy="-2.4" dx="-0.8">0</tspan></text>
<text x="212.05" y="543.1" font-size="10.2" letter-spacing="-0.35" fill="#111">10<tspan dy="-2.4" dx="-0.8">1</tspan></text>
<text x="238.2" y="543.1" font-size="10.2" letter-spacing="-0.35" fill="#111">10<tspan dy="-2.4" dx="-0.8">2</tspan></text>
<text x="264.35" y="543.1" font-size="10.2" letter-spacing="-0.35" fill="#111">10<tspan dy="-2.4" dx="-0.8">3</tspan></text>
<text x="290.5" y="543.1" font-size="10.2" letter-spacing="-0.35" fill="#111">10<tspan dy="-2.4" dx="-0.8">4</tspan></text>
<text transform="translate(187.9 538.1) rotate(-90)" font-size="10.2" letter-spacing="-0.35" fill="#111">10<tspan dy="-4.1" dx="-0.8">0</tspan></text>
<text transform="translate(187.9 516.65) rotate(-90)" font-size="10.2" letter-spacing="-0.35" fill="#111">10<tspan dy="-4.1" dx="-0.8">1</tspan></text>
<text transform="translate(187.9 495.2) rotate(-90)" font-size="10.2" letter-spacing="-0.35" fill="#111">10<tspan dy="-4.1" dx="-0.8">2</tspan></text>
<text transform="translate(187.9 473.75) rotate(-90)" font-size="10.2" letter-spacing="-0.35" fill="#111">10<tspan dy="-4.1" dx="-0.8">3</tspan></text>
<text transform="translate(187.9 452.3) rotate(-90)" font-size="10.2" letter-spacing="-0.35" fill="#111">10<tspan dy="-4.1" dx="-0.8">4</tspan></text>
<line x1="20.2" y1="608.5" x2="20.2" y2="692" stroke="#111" stroke-width="1.3"/>
<polygon points="20.2,601.5 15.399999999999999,610.0 25.0,610.0" fill="#111"/>
<text x="11.8" y="658.4" font-size="12.3" font-weight="bold" stroke="#111" stroke-width="0.4" text-anchor="start" fill="#111" transform="rotate(-90 11.8 658.4)">PI</text>
<line x1="49" y1="714.6" x2="285.5" y2="714.6" stroke="#111" stroke-width="1.3"/>
<polygon points="292.5,714.6 282.0,709.6 282.0,719.6" fill="#111"/>
<text x="178.5" y="730.3" font-size="12.5" font-weight="bold" text-anchor="middle" fill="#111" stroke="#111" stroke-width="0.4">DiOC<tspan dy="3" font-size="8.5">6</tspan></text>
<text x="99" y="599.8" font-size="13.4" font-weight="bold" stroke="#111" stroke-width="0.4" text-anchor="middle" fill="#111">w/o</text>
<text x="247" y="599.8" font-size="13.4" font-weight="bold" stroke="#111" stroke-width="0.4" text-anchor="middle" fill="#111">Taxol</text>
<text x="171.8" y="661.5" font-size="9.6" text-anchor="start" fill="#111" transform="rotate(-90 171.8 661.5)">FL2-H</text>
<rect x="46" y="603.5" width="104.6" height="86.8" fill="none" stroke="#333" stroke-width="1"/>
<line x1="115.8" y1="603.5" x2="115.8" y2="690.3" stroke="#444" stroke-width="0.9"/>
<line x1="46" y1="642.8" x2="150.6" y2="642.8" stroke="#444" stroke-width="0.9"/>
<path transform="scale(.1)" d="M1345 6622h1M1290 6693h1M1362 6519h1M1432 6415h1M1304 6614h1M1255 6624h1M1226 6677h1M1321 6561h1M1373 6507h1M1419 6457h1M1307 6580h1M1246 6672h1M1311 6695h1M1211 6706h1M1235 6697h1M1262 6623h1M1306 6692h1M1264 6692h1M1313 6700h1M1363 6538h1M1206 6690h1M1372 6508h1M1413 6474h1M1193 6703h1M1373 6525h1M1289 6634h1M1326 6693h1M1327 6536h1M1303 6679h1M1328 6582h1M1319 6632h1M1217 6717h1M1152 6741h1M1282 6591h1M1337 6621h1M1300 6620h1M1334 6567h1M1279 6642h1M1318 6647h1M1378 6541h1M1289 6615h1M1416 6442h1M1250 6640h1M1374 6502h1M1277 6666h1M1321 6577h1M1130 6799h1M1409 6449h1M1387 6468h1M1236 6664h1M1344 6547h1M1339 6586h1M1385 6495h1M1174 6680h1M1338 6693h1M1264 6739h1M1355 6561h1M1443 6388h1M1349 6510h1M1313 6562h1M1293 6623h1M1427 6442h1M1314 6548h1M1310 6618h1M1216 6686h1M1345 6542h1M1411 6453h1M1256 6671h1M1400 6473h1M1439 6439h1M1333 6567h1M1423 6441h1M1378 6580h1M1341 6674h1M1298 6583h1M1211 6672h1M1401 6448h1M1287 6571h1M1432 6463h1M1236 6704h1M1341 6616h1M1255 6662h1M1358 6559h1M1240 6666h1M1160 6746h1M1338 6647h1M1368 6509h1M1397 6534h1M1385 6483h1M1231 6625h1M1227 6665h1M1332 6589h1M1399 6468h1M1361 6505h1M1354 6534h1M1299 6649h1M1373 6523h1M1191 6699h1M1365 6503h1M1397 6513h1M1313 6558h1M1385 6529h1M1452 6402h1M1363 6566h1M1292 6599h1M1261 6661h1M1339 6591h1M1298 6640h1M1342 6559h1M1281 6606h1M1421 6452h1M1225 6685h1M1330 6639h1M1319 6657h1M1415 6439h1M1248 6658h1M1321 6575h1M1336 6514h1M1227 6655h1M1267 6644h1M1180 6706h1M1272 6676h1M1311 6628h1M1431 6426h1M1185 6697h1M1440 6416h1M1208 6697h1M1339 6590h1M1232 6727h1M1291 6603h1M1287 6611h1M1267 6614h1M1382 6494h1M1251 6711h1M1268 6713h1M1302 6604h1M1294 6632h1M1288 6642h1M1298 6696h1M1353 6497h1M1239 6673h1M1332 6574h1M1347 6529h1M1296 6668h1M1290 6600h1M1431 6426h1M1305 6593h1M1232 6680h1M1226 6770h1M1201 6675h1M1353 6562h1M1396 6572h1M1313 6633h1M1421 6460h1M1299 6642h1M1190 6770h1M1276 6684h1M1254 6673h1M1232 6695h1M1198 6694h1M1231 6642h1M1412 6473h1M1353 6549h1M1312 6580h1M1442 6430h1M1408 6496h1M1214 6702h1M1226 6711h1M1247 6753h1M1226 6723h1M1345 6551h1M1377 6558h1M1309 6550h1M1248 6674h1M1176 6704h1M1340 6550h1M1354 6539h1M1303 6613h1M1395 6463h1M1253 6678h1M1292 6648h1M1487 6370h1M1333 6530h1M1322 6535h1M1270 6634h1M1289 6651h1M1282 6628h1M1392 6508h1M1222 6656h1M1267 6669h1M1282 6628h1M1167 6759h1M1407 6523h1M1447 6428h1M1293 6672h1M1343 6548h1M1290 6589h1M1254 6675h1M1333 6553h1M1417 6405h1M1433 6437h1M1351 6545h1M1253 6636h1M1251 6648h1M1301 6695h1M1413 6450h1M1340 6582h1M1435 6425h1M1306 6602h1M1426 6434h1M1323 6590h1M1307 6598h1M1304 6573h1M1290 6682h1M1234 6645h1M1265 6719h1M1312 6578h1M1266 6601h1M1291 6622h1M1165 6723h1M1303 6612h1M1254 6691h1M1383 6518h1M1324 6590h1M1438 6486h1M1250 6670h1M1290 6617h1M1332 6586h1M1347 6555h1M1304 6668h1M1309 6590h1M1375 6528h1M1371 6534h1M1396 6479h1M1245 6681h1M1392 6510h1M1283 6655h1M1244 6697h1M1310 6596h1M1392 6490h1M1286 6712h1M1337 6577h1M1325 6588h1M1243 6650h1M1363 6588h1M1326 6548h1M1370 6511h1M1305 6631h1M1255 6686h1M1242 6667h1M1218 6694h1M1238 6687h1M1309 6631h1M1362 6615h1M1298 6571h1M1242 6720h1M1390 6479h1M1168 6713h1M1298 6687h1M1312 6610h1M1355 6508h1M1438 6411h1M1262 6692h1M1299 6569h1M1245 6672h1M1316 6711h1M1213 6708h1M1377 6504h1M1194 6734h1M1206 6700h1M1398 6456h1M1340 6591h1M1250 6731h1M1438 6429h1M1370 6520h1M1414 6457h1M1165 6728h1M1314 6595h1M1393 6490h1M1383 6519h1M1233 6655h1M1448 6433h1M1294 6665h1M1286 6621h1M1379 6636h1M1335 6599h1M1285 6672h1M1296 6605h1M1272 6611h1M1256 6675h1M1232 6669h1M1234 6699h1M1254 6658h1M1371 6534h1M1361 6506h1M1306 6563h1M1301 6612h1M1469 6388h1M1368 6522h1M1315 6599h1M1353 6630h1M1274 6721h1M1402 6460h1M1309 6609h1M1350 6579h1M1249 6664h1M1231 6680h1M1257 6638h1M1429 6463h1M1192 6733h1M1288 6606h1M1390 6549h1M1397 6492h1M1288 6595h1M1207 6718h1M1235 6676h1M1372 6514h1M1216 6696h1M1178 6737h1M1333 6547h1M1315 6710h1M1321 6598h1M1336 6633h1M1229 6694h1M1313 6601h1M1193 6787h1M1249 6631h1M1447 6435h1M1327 6753h1M1200 6732h1M1271 6673h1M1137 6773h1M1301 6583h1M1164 6723h1M1209 6723h1M1270 6687h1M1350 6532h1M1377 6526h1M1413 6527h1M1297 6611h1M1267 6683h1M1342 6539h1M1289 6589h1M1387 6482h1M1177 6718h1M1186 6773h1M1375 6600h1M1370 6526h1M1225 6697h1M1259 6638h1M1284 6613h1M1322 6572h1M1421 6461h1M1237 6686h1M1329 6588h1M1275 6608h1M1278 6653h1M1241 6699h1M1296 6676h1M1371 6499h1M1381 6524h1M1245 6679h1M1264 6746h1M1279 6597h1M1362 6533h1M1245 6646h1M1370 6528h1M1279 6618h1M1254 6714h1M1177 6731h1M1286 6603h1M1314 6615h1M1254 6662h1M1328 6550h1M1313 6621h1M1346 6562h1M1295 6592h1M1233 6740h1M1260 6644h1M1300 6597h1M1342 6528h1M1419 6402h1M1227 6650h1M1278 6663h1M1359 6539h1M1339 6633h1M1301 6630h1M1217 6732h1M1361 6535h1M1254 6679h1M1220 6679h1M1372 6533h1M1296 6593h1M1298 6586h1M1463 6408h1M1290 6586h1M1332 6566h1M1259 6665h1M1302 6596h1M1213 6673h1M1355 6503h1M1328 6647h1M1422 6422h1M1299 6645h1M1404 6446h1M1298 6631h1M1295 6604h1M1221 6670h1M1270 6664h1M1237 6639h1M1398 6552h1M1366 6603h1M1373 6522h1M1280 6711h1M1349 6532h1M1339 6616h1M1415 6447h1M1370 6543h1M1318 6598h1M1252 6653h1M1239 6716h1M1213 6695h1M1263 6738h1M1267 6680h1M1302 6588h1M1263 6611h1M1287 6631h1M1347 6521h1M1215 6699h1M1337 6599h1M1368 6522h1M1300 6578h1M1193 6704h1M1347 6563h1M1402 6505h1M1440 6400h1M1143 6758h1M1402 6596h1M1282 6606h1M1198 6687h1M1256 6639h1M1356 6541h1M1280 6624h1M1229 6690h1M1317 6622h1M1324 6566h1M1174 6760h1M1304 6627h1M1364 6492h1M1364 6525h1M1321 6598h1M1408 6493h1M1331 6591h1M1156 6760h1M1402 6501h1M1310 6595h1M1356 6545h1M1270 6632h1M1310 6681h1M1288 6654h1M1347 6621h1M1360 6532h1M1293 6596h1M1256 6682h1M1409 6527h1M1324 6664h1M1350 6623h1M1256 6645h1M1405 6492h1M1234 6642h1M1270 6641h1M1379 6511h1M1261 6625h1M1462 6387h1M1318 6654h1M1374 6500h1M1319 6547h1M1408 6495h1M1276 6699h1M1431 6444h1M1341 6520h1M1315 6589h1M1420 6459h1M1318 6586h1M1391 6482h1M1271 6692h1M1351 6511h1M1318 6589h1M1295 6641h1M1272 6651h1M1424 6554h1M1322 6615h1M1362 6525h1M1283 6713h1M1260 6685h1M1276 6623h1M1362 6536h1M1351 6563h1M1351 6631h1M1332 6566h1M1424 6426h1M1342 6533h1M1326 6624h1M1294 6658h1M1367 6513h1M1210 6655h1M1387 6530h1M1350 6511h1M1198 6709h1M1386 6524h1M1278 6728h1M1222 6716h1M1311 6608h1M1334 6698h1M1200 6706h1M1274 6636h1M1211 6685h1M1275 6638h1M1202 6724h1M1206 6712h1M1365 6552h1M1331 6577h1M1267 6673h1M1297 6654h1M1359 6519h1M1459 6408h1M1181 6705h1M1348 6553h1M1198 6710h1M1424 6471h1M1378 6543h1M1222 6731h1M1275 6678h1M1371 6488h1M1382 6546h1M1346 6523h1M1241 6648h1M1300 6601h1M1277 6613h1M1198 6706h1M1220 6704h1M1267 6640h1M1330 6669h1M1180 6741h1M1344 6717h1M1398 6497h1M1273 6646h1M1375 6504h1M1356 6544h1M1263 6684h1M1287 6706h1M1235 6679h1M1291 6647h1M1351 6552h1M1184 6714h1M1327 6630h1M1297 6703h1M1199 6746h1M1305 6620h1M1299 6648h1M1423 6440h1M1255 6659h1M1388 6462h1M1247 6667h1M1209 6724h1M1213 6738h1M1327 6592h1M1255 6741h1M1423 6450h1M1367 6504h1M1368 6475h1M1411 6487h1M1395 6544h1M1212 6730h1M1338 6557h1M1338 6593h1M1248 6686h1M1341 6582h1M1359 6532h1M1294 6600h1M1451 6399h1M1392 6477h1M1237 6655h1M1315 6640h1M1298 6643h1M1282 6636h1M1293 6608h1M1410 6449h1M1279 6674h1M1232 6731h1M1162 6769h1M1320 6622h1M1406 6463h1M1218 6711h1M1221 6663h1M1429 6454h1M1323 6543h1M1310 6596h1M1262 6661h1M1282 6614h1M1202 6678h1M1318 6674h1M1419 6454h1M1299 6606h1M1226 6715h1M1320 6573h1M1267 6657h1M1200 6694h1M1306 6694h1M1260 6740h1M1340 6572h1M1139 6753h1M1272 6638h1M1364 6484h1M1265 6697h1M1274 6643h1M1337 6583h1M1297 6668h1M1320 6585h1M1265 6615h1M1282 6663h1M1299 6646h1M1286 6611h1M1351 6650h1M1253 6663h1M1390 6498h1M1400 6478h1M1216 6700h1M1325 6618h1M1394 6484h1M1290 6641h1M1389 6515h1M1229 6698h1M1341 6586h1M1331 6596h1M1387 6520h1M1421 6427h1M1257 6707h1M1198 6711h1M1214 6651h1M1377 6471h1M1413 6481h1M1416 6490h1M1311 6600h1M1178 6708h1M1381 6522h1M1339 6549h1M1386 6505h1M1305 6578h1M1423 6495h1M1340 6622h1M1409 6469h1M1286 6625h1M1382 6475h1M1171 6720h1M1285 6660h1M1318 6702h1M1320 6613h1M1225 6678h1M1313 6604h1M1261 6706h1M1381 6501h1M1232 6671h1M1165 6759h1M1372 6501h1M1307 6601h1M1465 6404h1M1320 6657h1M1347 6542h1M1292 6616h1M1218 6691h1M1352 6582h1M1433 6420h1M1340 6597h1M1284 6683h1M1421 6454h1M1358 6552h1M1222 6681h1M1308 6624h1M1240 6664h1M1339 6631h1M1314 6558h1M1352 6545h1M1307 6608h1M1264 6647h1M1394 6526h1M1278 6608h1M1388 6520h1M1236 6662h1M1332 6614h1M1376 6579h1M1321 6653h1M1245 6665h1M1348 6522h1M1339 6580h1M1330 6560h1M1270 6655h1M1338 6567h1M1196 6745h1M1367 6518h1M1262 6660h1M1377 6504h1M1253 6659h1M1264 6600h1M1280 6632h1M1462 6406h1M1416 6432h1M1211 6701h1M1360 6638h1M1275 6673h1M1275 6630h1M1170 6727h1M1315 6612h1M1264 6655h1M1316 6564h1M1445 6427h1M1309 6649h1M1299 6595h1M1230 6684h1M1405 6494h1M1384 6505h1M1337 6567h1M1278 6633h1M1311 6616h1M1282 6595h1M1230 6724h1M1402 6477h1M1270 6695h1M1402 6522h1M1306 6564h1M1179 6748h1M1353 6553h1M1288 6634h1M1260 6608h1M1335 6578h1M1249 6686h1M1294 6594h1M1267 6630h1M1395 6463h1M1159 6770h1M1362 6531h1M1398 6465h1M1256 6641h1M1329 6622h1M1206 6679h1M1327 6567h1M1199 6693h1M1395 6556h1M1336 6590h1M1322 6646h1M1311 6615h1M1326 6652h1M1306 6576h1M1363 6478h1M1325 6579h1M1304 6596h1M1414 6544h1M1257 6702h1M1383 6508h1M1340 6646h1M1283 6621h1M1345 6585h1M1294 6660h1M1230 6673h1M1272 6719h1M1311 6559h1M1190 6691h1M1297 6620h1M1383 6555h1M1395 6454h1M1373 6530h1M1254 6672h1M1431 6433h1M1305 6576h1M1296 6714h1M1361 6570h1M1326 6581h1M1239 6708h1M1213 6701h1M1289 6603h1M1360 6513h1M1293 6616h1M1381 6496h1M1311 6568h1M1334 6554h1M1250 6699h1M1355 6570h1M1260 6705h1M1372 6517h1M1273 6661h1M1371 6523h1M1354 6559h1M1423 6434h1M1334 6635h1M1237 6713h1M1295 6578h1M1382 6536h1M1191 6709h1M1249 6695h1M1348 6579h1M1429 6473h1M1352 6530h1M1378 6539h1M1377 6513h1M1176 6706h1M1396 6527h1M1321 6592h1M1345 6553h1M1323 6547h1M1287 6685h1M1457 6387h1M1383 6470h1M1176 6723h1M1350 6503h1M1284 6602h1M1323 6539h1M1201 6716h1M1336 6547h1M1245 6693h1M1205 6719h1M1384 6480h1M1386 6514h1M1395 6465h1M1247 6712h1M1265 6678h1M1373 6526h1M1320 6646h1M1315 6591h1M1345 6541h1M1337 6608h1M1251 6699h1M1260 6692h1M1392 6545h1M1234 6706h1M1200 6701h1M1200 6712h1M1312 6622h1M1331 6582h1M1372 6514h1M1340 6603h1M1325 6574h1M1374 6535h1M1331 6545h1M1204 6700h1M1319 6567h1M1306 6675h1M1353 6597h1M1349 6565h1M1247 6732h1M1286 6702h1M1359 6510h1M1277 6637h1M1322 6543h1M1331 6571h1M1337 6580h1M1368 6511h1M1293 6634h1M1236 6651h1M1367 6502h1M1459 6402h1M1363 6538h1M1300 6668h1M1461 6383h1M1435 6434h1M1261 6626h1M1400 6476h1M1334 6636h1M1408 6470h1M1254 6714h1M1384 6508h1M1404 6468h1M1315 6625h1M1209 6686h1M1198 6736h1M1204 6692h1M1350 6574h1M1176 6763h1M1279 6653h1M1284 6709h1M1283 6685h1M1444 6409h1M1333 6589h1M1245 6716h1M1182 6724h1M1207 6681h1M1314 6630h1M1326 6568h1M1150 6729h1M1355 6554h1M1316 6650h1M1214 6684h1M1396 6650h1M1312 6599h1M1349 6625h1M1351 6546h1M1205 6746h1M1306 6644h1M1245 6654h1M1213 6681h1M1317 6613h1M1300 6601h1M1330 6763h1M1282 6651h1M1389 6448h1M1386 6474h1M1374 6528h1M1325 6588h1M1279 6657h1M1345 6572h1M1218 6689h1M1313 6679h1M1299 6630h1M1357 6585h1M1316 6668h1M1356 6552h1M1437 6485h1M1437 6409h1M1177 6783h1M1224 6711h1M1369 6520h1M1302 6604h1M1338 6640h1M1372 6588h1M1215 6703h1M1303 6729h1M1224 6693h1M1374 6525h1M1432 6464h1M1413 6471h1M1317 6578h1M1296 6610h1M1365 6483h1M1375 6515h1M1376 6542h1M1333 6632h1M1251 6683h1M1323 6551h1M1259 6661h1M1263 6630h1M1304 6594h1M1186 6727h1M1298 6647h1M1207 6681h1M1348 6570h1M1221 6717h1M1326 6567h1M1185 6756h1M1383 6590h1M1269 6716h1M1282 6656h1M1262 6608h1M1407 6454h1M1328 6603h1M1285 6640h1M1276 6662h1M1287 6596h1M1367 6517h1M1161 6740h1M1153 6729h1M1236 6679h1M1319 6560h1M1204 6731h1M1310 6637h1M1334 6569h1M1329 6593h1M1258 6695h1M1157 6734h1M1221 6688h1M1260 6690h1M1265 6648h1M1401 6455h1M1273 6709h1M1367 6520h1M1326 6637h1M1204 6697h1M1479 6386h1M1287 6586h1M1380 6493h1M1371 6608h1M1417 6459h1M1265 6625h1M1365 6597h1M1247 6656h1M1334 6575h1M1479 6379h1M1348 6516h1M1396 6463h1M1273 6647h1M1207 6701h1M1202 6695h1M1372 6494h1M1294 6610h1M1404 6471h1M1285 6639h1M1324 6543h1M1428 6459h1M1250 6645h1M1370 6556h1M1245 6670h1M1299 6593h1M1159 6745h1M1338 6553h1M1238 6711h1M1263 6669h1M1418 6475h1M1315 6652h1M1352 6585h1M1332 6609h1M1184 6710h1M1206 6704h1M1332 6537h1M1256 6682h1M1297 6635h1M1280 6666h1M1257 6654h1M1227 6664h1M1198 6785h1M1186 6726h1M1368 6567h1M1226 6723h1M1306 6646h1M1279 6672h1M1196 6769h1M1306 6583h1M1310 6633h1M1188 6704h1M1311 6558h1M1244 6646h1M1207 6727h1M1155 6776h1M1174 6757h1M1298 6629h1M1349 6564h1M1213 6684h1M1355 6517h1M1287 6684h1M1444 6410h1M1344 6489h1M1397 6475h1M1215 6662h1M1165 6716h1M1356 6606h1M1432 6443h1M1407 6587h1M1366 6555h1M1337 6605h1M1406 6470h1M1326 6587h1M1304 6627h1M1428 6447h1M1292 6619h1M1324 6565h1M1407 6467h1M1225 6695h1M1355 6570h1M1433 6391h1M1281 6624h1M1298 6618h1M1366 6554h1M1407 6469h1M1451 6438h1M1402 6495h1M1363 6527h1M1427 6387h1M1207 6713h1M1189 6726h1M1384 6546h1M1286 6565h1M1320 6670h1M1327 6521h1M1255 6742h1M1224 6692h1M1409 6459h1M1312 6678h1M1337 6624h1M1369 6516h1M1206 6723h1M1213 6683h1M1293 6655h1M1179 6711h1M1236 6686h1M1470 6376h1M1332 6579h1M1170 6727h1M1370 6569h1M1406 6478h1M1260 6639h1M1310 6602h1M1268 6684h1M1342 6565h1M1413 6460h1M1382 6517h1M1250 6651h1M1214 6703h1M1383 6540h1M1333 6606h1M1310 6564h1M1319 6578h1M1407 6449h1M1328 6645h1M1305 6586h1M1228 6732h1M1308 6619h1M1221 6648h1M1401 6439h1M1158 6762h1M1247 6610h1M1374 6534h1M1353 6551h1M1379 6507h1M1265 6644h1M1390 6524h1M1416 6464h1M1194 6726h1M1237 6713h1M1325 6710h1M1319 6679h1M1346 6553h1M1307 6710h1M1336 6541h1M1191 6695h1M1287 6628h1M1346 6634h1M1229 6722h1M1321 6611h1M1367 6598h1M1257 6699h1M1378 6529h1M1264 6655h1M1184 6714h1M1382 6539h1M1393 6480h1M1327 6553h1M1211 6719h1M1199 6706h1M1183 6745h1M1289 6582h1M1232 6734h1M1152 6742h1M1205 6679h1M1331 6594h1M1372 6542h1M1365 6527h1M1286 6672h1M1302 6618h1M1319 6622h1M1294 6636h1M1359 6539h1M1334 6560h1M1360 6555h1M1236 6691h1M1300 6673h1M1301 6572h1M1386 6451h1M1307 6662h1M1310 6592h1M1299 6678h1M1357 6501h1M1212 6686h1M1357 6651h1M1331 6587h1M1312 6558h1M1288 6675h1M1247 6674h1M1248 6659h1M1239 6681h1M1287 6702h1M1432 6422h1M1257 6690h1M1170 6750h1M1193 6713h1M1348 6620h1M1403 6529h1M1261 6640h1M1281 6728h1M1442 6443h1M1378 6517h1M1240 6698h1M1303 6589h1M1345 6550h1M1418 6463h1M1316 6627h1M1258 6603h1M1192 6731h1M1300 6623h1M1407 6471h1M1205 6724h1M1325 6570h1M1279 6666h1M1212 6684h1M1249 6655h1M1187 6741h1M1264 6657h1M1211 6724h1M1385 6570h1M1207 6667h1M1263 6617h1M1365 6518h1M1218 6730h1M1273 6732h1M1283 6652h1M1336 6530h1M1412 6461h1M1194 6737h1M1409 6469h1M1344 6524h1M1339 6545h1M1283 6650h1M1408 6467h1M1269 6658h1M1289 6658h1M1353 6540h1M1258 6680h1M1249 6633h1M1370 6517h1M1328 6574h1M1293 6599h1M1384 6476h1M1279 6592h1M1192 6722h1M1189 6724h1M1272 6646h1M1355 6541h1M1311 6615h1M1289 6701h1M1340 6514h1M1172 6710h1M1360 6521h1M1408 6513h1M1278 6654h1M1325 6572h1M1231 6716h1M1296 6617h1M1297 6619h1M1209 6681h1M1286 6666h1M1271 6633h1M1419 6447h1M1366 6492h1M1358 6550h1M1301 6638h1M1335 6534h1M1305 6603h1M1327 6609h1M1363 6539h1M1169 6693h1M1328 6552h1M1479 6374h1M1332 6595h1M1278 6623h1M1306 6607h1M1249 6627h1M1158 6756h1M1365 6587h1M1262 6638h1M1273 6635h1M1332 6547h1M1168 6755h1M1392 6518h1M1274 6638h1M1347 6564h1M1171 6735h1M1368 6514h1M1265 6663h1M1372 6522h1M1232 6713h1M1234 6717h1M1313 6553h1M1312 6612h1M1411 6447h1M1382 6589h1M1337 6583h1M1350 6532h1M1218 6692h1M1271 6725h1M1158 6745h1M1365 6542h1M1379 6594h1M1299 6584h1M1423 6427h1M1359 6538h1M1198 6735h1M1410 6503h1M1326 6609h1M1303 6596h1M1294 6674h1M1231 6652h1M1282 6703h1M1221 6687h1M1241 6754h1M1426 6414h1M1330 6540h1M1354 6558h1M1251 6704h1M1361 6533h1M1246 6672h1M1337 6684h1M1292 6612h1M1360 6511h1M1407 6497h1M1246 6717h1M1441 6423h1M1155 6729h1M1406 6483h1M1308 6629h1M1325 6564h1M1200 6695h1M1366 6564h1M1264 6625h1M1210 6726h1M1162 6750h1M1332 6541h1M1330 6520h1M1274 6621h1M1345 6537h1M1235 6671h1M1238 6675h1M1211 6679h1M1339 6534h1M1276 6656h1M1333 6615h1M1242 6749h1M1384 6473h1M1299 6686h1M1379 6480h1M1242 6703h1M1237 6673h1M1374 6617h1M1219 6716h1M1299 6683h1M1258 6631h1M1151 6745h1M1192 6705h1M1354 6514h1M1422 6437h1M1181 6739h1M1281 6669h1M1339 6570h1M1255 6617h1M1186 6732h1M1321 6594h1M1388 6456h1M1376 6567h1M1202 6738h1M1285 6648h1M1198 6726h1M1352 6593h1M1255 6725h1M1209 6734h1M1158 6709h1M1290 6609h1M1301 6697h1M1168 6762h1M1405 6448h1M1176 6719h1M1188 6743h1M1351 6561h1M1232 6666h1M1223 6729h1M1407 6502h1M1348 6575h1M1337 6614h1M1282 6584h1M1378 6541h1M1273 6645h1M1252 6609h1M1357 6584h1M1270 6622h1M1296 6629h1M1323 6583h1M1343 6555h1M1375 6509h1M1255 6676h1M1307 6560h1M1378 6572h1M1346 6523h1M1373 6512h1M1339 6550h1M1280 6612h1M1364 6513h1M1326 6522h1M1235 6693h1M1286 6646h1M1376 6489h1M1224 6656h1M1323 6636h1M1286 6647h1M1212 6728h1M1371 6545h1M1189 6684h1M1336 6577h1M1237 6649h1M1257 6739h1M1366 6687h1M1322 6516h1M1317 6628h1M1361 6535h1M1427 6609h1M1400 6495h1M1369 6578h1M1363 6507h1M1364 6520h1M1385 6543h1M1334 6572h1M1237 6691h1M1328 6557h1M1237 6707h1M1205 6701h1M1299 6625h1M1209 6680h1M1336 6551h1M1168 6740h1M1320 6627h1M1281 6718h1M1389 6513h1M1384 6486h1M1366 6580h1M1184 6731h1M1217 6708h1M1293 6631h1M1261 6679h1M1358 6513h1M1391 6486h1M1264 6645h1M1246 6611h1M1362 6529h1M1438 6411h1M1347 6694h1M1372 6534h1M1312 6618h1M1273 6610h1M1273 6710h1M1304 6658h1M1341 6592h1M1321 6579h1M1238 6701h1M1211 6730h1M1449 6394h1M1208 6690h1M1271 6621h1M1210 6694h1M1350 6560h1M1310 6579h1M1275 6626h1M1389 6464h1M1423 6425h1M1286 6635h1M1174 6757h1M1200 6708h1M1320 6607h1M1249 6701h1M1353 6485h1M1364 6509h1M1265 6631h1M1285 6590h1M1303 6656h1M1451 6407h1M1202 6689h1M1370 6501h1M1403 6438h1M1284 6694h1M1181 6764h1M1249 6677h1M1257 6674h1M1263 6669h1M1387 6504h1M1273 6723h1M1263 6669h1M1433 6453h1M1393 6471h1M1162 6717h1M1138 6783h1M1218 6704h1M1372 6522h1M1174 6760h1M1331 6597h1M1261 6703h1M1302 6662h1M1368 6567h1M1302 6556h1M1327 6533h1M1302 6667h1M1409 6531h1M1325 6546h1M1290 6666h1M1289 6714h1M1297 6671h1M1221 6658h1M1349 6529h1M1327 6599h1M1213 6701h1M1421 6480h1M1432 6505h1M1245 6684h1M1395 6479h1M1289 6659h1M1273 6689h1M1388 6534h1M1297 6619h1M1274 6607h1M1351 6536h1M1318 6580h1M1401 6479h1M1160 6742h1M1291 6633h1M1367 6538h1M1421 6449h1M1336 6552h1M1320 6538h1M1334 6542h1M1307 6617h1M1247 6669h1M1169 6763h1M1304 6579h1M1302 6586h1M1212 6687h1M1246 6640h1M1340 6660h1M1223 6716h1M1321 6592h1M1317 6573h1M1360 6555h1M1227 6722h1M1280 6632h1M1258 6741h1M1393 6502h1M1271 6607h1M1247 6675h1M1194 6732h1M1190 6714h1M1307 6618h1M1322 6732h1M1425 6455h1M1262 6654h1M1360 6522h1M1263 6740h1M1291 6676h1M1259 6738h1M1370 6514h1M1317 6589h1M1317 6574h1M1307 6608h1M1452 6390h1M1318 6576h1M1310 6636h1M1250 6646h1M1358 6566h1M1189 6717h1M1276 6751h1M1287 6580h1M1329 6625h1M1450 6407h1M1190 6735h1M1424 6414h1M1273 6659h1M1316 6566h1M1260 6665h1M1295 6611h1M1304 6628h1M1275 6629h1M1227 6712h1M1272 6664h1M1252 6706h1M1268 6696h1M1285 6561h1M1264 6669h1M1435 6429h1M1305 6573h1M1345 6566h1M1329 6567h1M1298 6580h1M1381 6507h1M1409 6464h1M1349 6699h1M1343 6557h1M1221 6661h1M1462 6380h1M1352 6503h1M1373 6583h1M1242 6669h1M1273 6636h1M1172 6712h1M1247 6722h1M1433 6437h1M1303 6615h1M1292 6653h1M1238 6675h1M1254 6686h1M1399 6563h1M1328 6562h1M1293 6594h1M1221 6719h1M1299 6585h1M1194 6761h1M1400 6455h1M1276 6591h1M1229 6738h1M1253 6631h1M1441 6433h1M1339 6566h1M1333 6619h1M1330 6541h1M1240 6709h1M1211 6709h1M1323 6655h1M1129 6780h1M1159 6749h1M1209 6738h1M1168 6756h1M1330 6635h1M1246 6706h1M1291 6611h1M1296 6599h1M1293 6681h1M1189 6734h1M1314 6561h1M1315 6608h1M1277 6659h1M1338 6555h1M1192 6716h1M1321 6696h1M1307 6684h1M1297 6567h1M1299 6598h1M1228 6698h1M1364 6498h1M1419 6461h1M1302 6631h1M1181 6717h1M1287 6701h1M1275 6629h1M1469 6401h1M1232 6705h1M1372 6524h1M1362 6517h1M1269 6659h1M1268 6678h1M1316 6591h1M1359 6542h1M1275 6648h1M1277 6651h1M1293 6589h1M1228 6692h1M1412 6491h1M1366 6566h1M1330 6556h1M1225 6719h1M1401 6518h1M1444 6427h1M1382 6503h1M1300 6590h1M1388 6533h1M1208 6687h1M1217 6706h1M1226 6739h1M1288 6636h1M1247 6673h1M1303 6706h1M1314 6621h1M1392 6525h1M1414 6460h1M1413 6431h1M1239 6675h1M1199 6774h1M1367 6548h1M1294 6700h1M1284 6589h1M1207 6726h1M1408 6488h1M1257 6707h1M1240 6652h1M1285 6613h1M1281 6655h1M1418 6523h1M1321 6586h1M1348 6537h1M1311 6553h1M1247 6639h1M1247 6695h1M1318 6533h1M1344 6584h1M1365 6562h1M1215 6714h1M1275 6687h1M1201 6726h1M1371 6553h1M1278 6666h1M1375 6540h1M1397 6496h1M1173 6727h1M1364 6551h1M1379 6509h1M1263 6641h1M1176 6729h1M1356 6565h1M1166 6751h1M1253 6642h1M1286 6621h1M1403 6470h1M1290 6680h1M1235 6655h1M1260 6652h1M1379 6593h1M1416 6463h1M1257 6684h1M1320 6614h1M1280 6660h1M1259 6692h1M1350 6594h1M1464 6378h1M1273 6652h1M1325 6623h1M1190 6714h1M1250 6720h1M1213 6725h1M1272 6650h1M1463 6379h1M1397 6495h1M1417 6453h1M1319 6543h1M1350 6599h1M1274 6637h1M1284 6610h1M1428 6479h1M1318 6603h1M1303 6615h1M1362 6514h1M1254 6662h1M1395 6507h1M1183 6706h1M1324 6551h1M1298 6651h1M1214 6722h1M1456 6374h1M1223 6682h1M1231 6687h1M1424 6441h1M1283 6712h1M1346 6530h1M1382 6517h1M1256 6654h1M1254 6615h1M1326 6649h1M1180 6739h1M1305 6610h1M1272 6702h1M1330 6563h1M1264 6683h1M1314 6704h1M1368 6519h1M1262 6646h1M1332 6555h1M1280 6632h1M1292 6593h1M1320 6546h1M1311 6642h1M1359 6556h1M1206 6718h1M1200 6734h1M1232 6697h1M1377 6520h1M1256 6641h1M1301 6601h1M1164 6732h1M1312 6590h1M1345 6532h1M1171 6766h1M1305 6596h1M1197 6708h1M1249 6679h1M1455 6428h1M1332 6538h1M1257 6673h1M1286 6645h1M1374 6517h1M1344 6675h1M1327 6567h1M1273 6681h1M1365 6606h1M1320 6587h1M1419 6474h1M1274 6627h1M1253 6697h1M1348 6531h1M1246 6647h1M1335 6624h1M1371 6545h1M1213 6693h1M1270 6649h1M1300 6614h1M1424 6461h1M1286 6631h1M1321 6607h1M1325 6621h1M1161 6753h1M1272 6616h1M1357 6591h1M1419 6449h1M1247 6682h1M1378 6482h1M1260 6691h1M1214 6720h1M1193 6723h1M1342 6562h1M1226 6745h1M1318 6616h1M1444 6428h1M1335 6594h1M1260 6658h1M1221 6710h1M1222 6684h1M1254 6677h1M1226 6702h1M1432 6426h1M1406 6461h1M1278 6616h1M1236 6671h1M1273 6654h1M1196 6726h1M1170 6717h1M1255 6673h1M1204 6720h1M1254 6636h1M1368 6513h1M1249 6677h1M1208 6680h1M1446 6412h1M1330 6574h1M1353 6526h1M1230 6705h1M1325 6651h1M1277 6672h1M1197 6737h1M1289 6732h1M1202 6738h1M1276 6667h1M1330 6533h1M1280 6674h1M1301 6699h1M1336 6575h1M1227 6718h1M1352 6565h1M1324 6575h1M1314 6572h1M1204 6694h1M1210 6729h1M1233 6684h1M1277 6668h1M1294 6618h1M1321 6559h1M1272 6681h1M1297 6693h1M1399 6438h1M1441 6427h1M1421 6421h1M1212 6679h1M1376 6570h1M1212 6745h1M1370 6596h1M1403 6498h1M1394 6549h1M1326 6616h1M1387 6485h1M1189 6732h1M1472 6402h1M1367 6566h1M1429 6493h1M1338 6541h1M1290 6618h1M1173 6713h1M1295 6619h1M1320 6572h1M1247 6685h1M1260 6665h1M1229 6657h1M1269 6604h1M1273 6619h1M1263 6720h1M1491 6375h1M1231 6714h1M1320 6583h1M1330 6634h1M1318 6696h1M1141 6745h1M1284 6663h1M1339 6601h1M1265 6654h1M1323 6591h1M1334 6590h1M1302 6630h1M1190 6724h1M1346 6564h1M1333 6602h1M1316 6570h1M1284 6661h1M1389 6492h1M1313 6599h1M1406 6524h1M1289 6616h1M1246 6687h1M1256 6645h1M1359 6548h1M1409 6463h1M1370 6592h1M1402 6435h1M1296 6666h1M1177 6748h1M1350 6595h1M1365 6610h1M1413 6461h1M1223 6725h1M1201 6734h1M1277 6616h1M1206 6748h1M1275 6669h1M1453 6425h1M1280 6634h1M1276 6602h1M1391 6473h1M1360 6531h1M1350 6539h1M1179 6744h1M1319 6610h1M1361 6628h1M1267 6721h1M1370 6532h1M1277 6631h1M1202 6726h1M1324 6578h1M1424 6426h1M1357 6590h1M1157 6734h1M1228 6706h1M1185 6716h1M1327 6607h1M1389 6469h1M1218 6716h1M1464 6413h1M1452 6415h1M1437 6450h1M1316 6561h1M1246 6706h1M1290 6655h1M1272 6696h1M1377 6573h1M1279 6636h1M1290 6692h1M1272 6621h1M1345 6524h1M1124 6784h1M1389 6521h1M1271 6726h1M1435 6435h1M1160 6722h1M1255 6698h1M1284 6638h1M1400 6430h1M1327 6586h1M1296 6621h1M1309 6700h1M1314 6607h1M1329 6542h1M1253 6621h1M1397 6499h1M1354 6546h1M1351 6513h1M1406 6490h1M1167 6776h1M1286 6590h1M1265 6618h1M1317 6595h1M1255 6706h1M1289 6605h1M1339 6583h1M1422 6485h1M1434 6438h1M1235 6731h1M1367 6564h1M1411 6480h1M1342 6654h1M1398 6501h1M1469 6359h1M1276 6626h1M1282 6630h1M1280 6724h1M1350 6568h1M1325 6534h1M1211 6722h1M1281 6619h1M1281 6688h1M1380 6506h1M1341 6548h1M1216 6716h1M1202 6705h1M1284 6712h1M1330 6607h1M1272 6657h1M1381 6533h1M1327 6537h1M1186 6720h1M1341 6523h1M1397 6495h1M1276 6668h1M1344 6530h1M1342 6572h1M1309 6643h1M1267 6695h1M1210 6719h1M1358 6518h1M1354 6541h1M1286 6599h1M1373 6500h1M1404 6454h1M1193 6741h1M1244 6713h1M1293 6566h1M1351 6524h1M1198 6692h1M1198 6727h1M1295 6661h1M1253 6721h1M1192 6702h1M1284 6727h1M1323 6550h1M1226 6651h1M1299 6574h1M1278 6612h1M1345 6638h1M1337 6563h1M1318 6579h1M1310 6574h1M1367 6518h1M1222 6674h1M1331 6578h1M1387 6527h1M1206 6714h1M1277 6618h1M1380 6535h1M1254 6622h1M1374 6483h1M1339 6682h1M1299 6610h1M1334 6560h1M1377 6493h1M1304 6591h1M1288 6672h1M1282 6616h1M1342 6577h1M1291 6714h1M1378 6471h1M1352 6504h1M1330 6527h1M1199 6735h1M1187 6695h1M1397 6471h1M1196 6693h1M1274 6621h1M1247 6726h1M1355 6514h1M1379 6507h1M1278 6661h1M1252 6697h1M1202 6715h1M1168 6714h1M1371 6549h1M1278 6721h1M1346 6539h1M1226 6698h1M1366 6537h1M1336 6599h1M1247 6748h1M1185 6683h1M1418 6473h1M1223 6696h1M1280 6626h1M1323 6667h1M1317 6595h1M1187 6765h1M1284 6707h1M1290 6717h1M1241 6656h1M1238 6704h1M1362 6578h1M1253 6659h1M1154 6757h1M1316 6577h1M1304 6616h1M1244 6682h1M1186 6709h1M1231 6649h1M1359 6516h1M1345 6663h1M1338 6524h1M1341 6682h1M1210 6719h1M1388 6472h1M1249 6680h1M1281 6649h1M1181 6734h1M1360 6494h1M1328 6597h1M1392 6547h1M1389 6579h1M1319 6574h1M1181 6680h1M1290 6616h1M1281 6674h1M1378 6476h1M1338 6525h1M1388 6479h1M1232 6699h1M1202 6756h1M1236 6631h1M1225 6675h1M1193 6718h1M1432 6436h1M1306 6658h1M1306 6675h1M1191 6727h1M1381 6536h1M1360 6492h1M1359 6521h1M1306 6585h1M1275 6609h1M1301 6610h1M1293 6625h1M1359 6539h1M1398 6503h1M1321 6620h1M1364 6553h1M1219 6743h1M1319 6616h1M1198 6753h1M1371 6498h1M1290 6577h1M1227 6733h1M1307 6696h1M1226 6676h1M1190 6732h1M1170 6746h1M1384 6480h1M1389 6562h1M1247 6697h1M1317 6603h1M1188 6745h1M1206 6720h1M1338 6505h1M1352 6560h1M1418 6426h1M1291 6597h1M1420 6438h1M1368 6550h1M1347 6541h1M1343 6582h1M1336 6552h1M1317 6578h1M1282 6641h1M1178 6753h1M1392 6514h1M1327 6674h1M1208 6701h1M1217 6646h1M1321 6557h1M1366 6615h1M1268 6617h1M1368 6515h1M1419 6502h1M1200 6726h1M1223 6728h1M1195 6696h1M1306 6643h1M1311 6597h1M1269 6647h1M1188 6722h1M1295 6652h1M1185 6749h1M1203 6708h1M1172 6739h1M1309 6625h1M1246 6638h1M1322 6549h1M1270 6645h1M1240 6714h1M1375 6509h1M1248 6628h1M1341 6558h1M1296 6638h1M1227 6697h1M1424 6463h1M1269 6675h1M1209 6704h1M1288 6594h1M1428 6423h1M1363 6548h1M1288 6704h1M1430 6432h1M1287 6619h1M1140 6756h1M1396 6486h1M1180 6730h1M1335 6647h1M1283 6659h1M1192 6703h1M1303 6651h1M1402 6471h1M1283 6564h1M1172 6785h1M1218 6722h1M1278 6717h1M1312 6542h1M1312 6544h1M1233 6672h1M1298 6570h1M1266 6649h1M1176 6711h1M1314 6579h1M1243 6635h1M1162 6747h1M1288 6595h1M1302 6611h1M1420 6446h1M1312 6558h1M1225 6670h1M1387 6523h1M1254 6621h1M1163 6736h1M1324 6630h1M1345 6568h1M1394 6493h1M1304 6717h1M1333 6593h1M1299 6621h1M1274 6651h1M1295 6641h1M1298 6579h1M1400 6520h1M1234 6728h1M1352 6570h1M1266 6616h1M1296 6591h1M1266 6674h1M1415 6452h1M1271 6620h1M1311 6596h1M1262 6652h1M1313 6625h1M1306 6585h1M1291 6655h1M1217 6669h1M1292 6640h1M1334 6614h1M1281 6703h1M1349 6528h1M1173 6746h1M1430 6434h1M1362 6531h1M1217 6705h1M1307 6581h1M1448 6425h1M1321 6577h1M1281 6629h1M1319 6559h1M1202 6674h1M1391 6508h1M1336 6525h1M1213 6740h1M1352 6536h1M1178 6724h1M1247 6654h1M1215 6744h1M1233 6694h1M1290 6677h1M1236 6744h1M1436 6406h1M1263 6637h1M1414 6474h1M1270 6623h1M1296 6609h1M1324 6637h1M1314 6583h1M1274 6652h1M1350 6547h1M1289 6608h1M1162 6729h1M1295 6575h1M1366 6518h1M1162 6710h1M1184 6717h1M1387 6483h1M1238 6716h1M1431 6433h1M1407 6508h1M1327 6526h1M1244 6699h1M1443 6419h1M1270 6616h1M1281 6706h1M1345 6539h1M1445 6402h1M1286 6657h1M1413 6437h1M1202 6677h1M1189 6740h1M1315 6638h1M1351 6584h1M1441 6425h1M1345 6574h1M1396 6484h1M1293 6593h1M1211 6739h1M1324 6587h1M1376 6536h1M1281 6642h1M1330 6565h1M1199 6717h1M1296 6587h1M1265 6627h1M1234 6681h1M1368 6545h1M1238 6638h1M1332 6534h1M1154 6741h1M1346 6546h1M1395 6483h1M1301 6607h1M1263 6642h1M1385 6466h1M1237 6665h1M1379 6508h1M1290 6579h1M1308 6630h1M1354 6535h1M1279 6668h1M1331 6634h1M1212 6695h1M1307 6633h1M1289 6635h1M1173 6737h1M1270 6639h1M1172 6735h1M1264 6616h1M1269 6635h1M1200 6704h1M1362 6538h1M1262 6690h1M1355 6602h1M1378 6524h1M1309 6634h1M1340 6652h1M1206 6731h1M1255 6712h1M1165 6770h1M1405 6522h1M1160 6729h1M1257 6710h1M1237 6686h1M1381 6500h1M1309 6616h1M1259 6730h1M1402 6499h1M1223 6748h1M1399 6508h1M1295 6589h1M1432 6430h1M1372 6518h1M1279 6658h1M1251 6664h1M1249 6659h1M1246 6680h1M1195 6731h1M1328 6661h1M1217 6692h1M1226 6654h1M1339 6648h1M1204 6683h1M1321 6573h1M1275 6673h1M1285 6703h1M1201 6717h1M1411 6487h1M1461 6433h1M1192 6707h1M1206 6706h1M1365 6539h1M1331 6612h1M1271 6627h1M1277 6702h1M1310 6655h1M1333 6584h1M1302 6603h1M1205 6721h1M1301 6577h1M1319 6560h1M1258 6678h1M1309 6603h1M1338 6557h1M1425 6463h1M1214 6674h1M1279 6661h1M1406 6448h1M1339 6659h1M1236 6667h1M1295 6722h1M1364 6504h1M1203 6737h1M1281 6615h1M1400 6498h1M1208 6731h1M1401 6533h1M1283 6633h1M1375 6567h1M1390 6489h1M1357 6606h1M1225 6706h1M1336 6571h1M1353 6523h1M1337 6535h1M1293 6681h1M1259 6616h1M1376 6509h1M1239 6704h1M1336 6603h1M1345 6684h1M1397 6460h1M1331 6681h1M1273 6613h1M1402 6486h1M1350 6535h1M1232 6700h1M1330 6557h1M1170 6719h1M1350 6592h1M1291 6633h1M1241 6741h1M1324 6598h1M1424 6486h1M1192 6729h1M1218 6733h1M1339 6573h1M1286 6663h1M1247 6675h1M1234 6648h1M1282 6643h1M1320 6559h1M1167 6724h1M1237 6725h1M1309 6646h1M1285 6600h1M1346 6550h1M1291 6631h1M1263 6654h1M1187 6673h1M1268 6609h1M1367 6543h1M1249 6641h1M1300 6670h1M1262 6690h1M1325 6570h1M1275 6644h1M1345 6566h1M1449 6426h1M1446 6435h1M1211 6717h1M1253 6723h1M1325 6562h1M1315 6681h1M1176 6740h1M1184 6723h1M1160 6756h1M1202 6714h1M1387 6527h1M1362 6542h1M1386 6534h1M1268 6729h1M1397 6524h1M1180 6737h1M1386 6508h1M1286 6619h1M1337 6620h1M1227 6706h1M1304 6572h1M1263 6632h1M1252 6642h1M1384 6482h1M1406 6468h1M1251 6637h1M1210 6722h1M1214 6702h1M1237 6654h1M1271 6687h1M1269 6609h1M1391 6480h1M1356 6500h1M1327 6615h1M1358 6511h1M1192 6740h1M1232 6707h1M1306 6610h1M1307 6628h1M1261 6656h1M1209 6718h1M1227 6540h1M1208 6722h1M1312 6658h1M1232 6767h1M1259 6687h1M1287 6686h1M1301 6747h1M1337 6702h1M1322 6653h1M1305 6679h1M1247 6614h1M1322 6576h1M1321 6633h1M1273 6622h1M1268 6708h1M1265 6763h1M1311 6759h1M1329 6625h1M1276 6651h1M1289 6605h1M1301 6823h1M1223 6794h1M1293 6667h1M1168 6806h1M1338 6757h1M1208 6757h1M1303 6683h1M1277 6623h1M1258 6774h1M1290 6570h1M1336 6693h1M1223 6629h1M1237 6725h1M1210 6691h1M1279 6699h1M1367 6669h1M1239 6639h1M1214 6771h1M1166 6726h1M1326 6691h1M1300 6718h1M1332 6637h1M1269 6607h1M1344 6647h1M1270 6542h1M1327 6628h1M1251 6606h1M1234 6816h1M1331 6648h1M1300 6599h1M1273 6605h1M1238 6743h1M1236 6576h1M1369 6651h1M1299 6639h1M1220 6640h1M1153 6741h1M1232 6701h1M1340 6544h1M1311 6688h1M1306 6591h1M1321 6724h1M1260 6757h1M1318 6570h1M1282 6615h1M1353 6616h1M1325 6699h1M1236 6734h1M1380 6617h1M1222 6635h1M1227 6576h1M1330 6681h1M1318 6613h1M1297 6631h1M1337 6582h1M1269 6663h1M1311 6588h1M1436 6661h1M1290 6698h1M1253 6744h1M1295 6687h1M1392 6647h1M1320 6671h1M1352 6633h1M1272 6654h1M1184 6752h1M1278 6748h1M1257 6778h1M1245 6817h1M1292 6703h1M1361 6636h1M1334 6660h1M1285 6626h1M1307 6641h1M1244 6660h1M1359 6581h1M1313 6618h1M1287 6608h1M1148 6745h1M1257 6539h1M1345 6614h1M1300 6690h1M1260 6810h1M1301 6591h1M1210 6637h1M1271 6683h1M1280 6698h1M1304 6713h1M1235 6722h1M1385 6732h1M1326 6583h1M1310 6699h1M1214 6712h1M1212 6633h1M1333 6736h1M1287 6695h1M1334 6686h1M1314 6709h1M1256 6642h1M1259 6641h1M1208 6713h1M1291 6636h1M1347 6636h1M1295 6649h1M1268 6638h1M1399 6504h1M1318 6664h1M1377 6551h1M1270 6729h1M1291 6760h1M1153 6683h1M1233 6722h1M1240 6718h1M1306 6699h1M1293 6657h1M1285 6705h1M1264 6647h1M1204 6660h1M1257 6734h1M1261 6749h1M1267 6694h1M1345 6604h1M1180 6804h1M1365 6684h1M1310 6627h1M1262 6689h1M1317 6645h1M1376 6620h1M1250 6707h1M1306 6665h1M1289 6723h1M1270 6682h1M1290 6681h1M1272 6663h1M1262 6711h1M1247 6682h1M1394 6663h1M1364 6596h1M1356 6705h1M1280 6577h1M1273 6690h1M1249 6678h1M1307 6670h1M1336 6606h1M1292 6652h1M1232 6747h1M1383 6673h1M1422 6591h1M1298 6643h1M1185 6733h1M1312 6673h1M1409 6597h1M1278 6687h1M1328 6671h1M1260 6670h1M1376 6713h1M1222 6816h1M1222 6681h1M1265 6685h1M1238 6573h1M1327 6698h1M1206 6673h1M1264 6680h1M1173 6677h1M1194 6667h1M1290 6729h1M1325 6679h1M1387 6603h1M1193 6609h1M1240 6677h1M1327 6705h1M1228 6841h1M1305 6622h1M1326 6614h1M1255 6731h1M1250 6690h1M1428 6638h1M1285 6663h1M1251 6683h1M1240 6692h1M1390 6610h1M1275 6670h1M1261 6723h1M1379 6726h1M1453 6658h1M1210 6695h1M1231 6795h1M1344 6570h1M1317 6697h1M1329 6597h1M1285 6584h1M1151 6659h1M1217 6756h1M1295 6554h1M1244 6686h1M1408 6755h1M1313 6804h1M1308 6613h1M1207 6670h1M1245 6730h1M1344 6619h1M1345 6660h1M1305 6703h1M1304 6580h1M1229 6742h1M1359 6639h1M1341 6580h1M1342 6658h1M1265 6674h1M1258 6729h1M1283 6653h1M1241 6733h1M1353 6717h1M1241 6654h1M1253 6654h1M1298 6656h1M1256 6734h1M1248 6630h1M1323 6695h1M1199 6737h1M1346 6579h1M1256 6663h1M1285 6686h1M1348 6635h1M1265 6572h1M1218 6794h1M1440 6635h1M1417 6639h1M1264 6695h1M1342 6670h1M1291 6620h1M1204 6685h1M1357 6720h1M1362 6713h1M1376 6604h1M1173 6776h1M1313 6730h1M1254 6740h1M1417 6664h1M1220 6701h1M1195 6679h1M1239 6708h1M1282 6653h1M1283 6639h1M1268 6613h1M1236 6656h1M1260 6654h1M1218 6683h1M1293 6749h1M1237 6687h1M1255 6748h1M1372 6553h1M1284 6668h1M1284 6666h1M1249 6669h1M1265 6675h1M1376 6598h1M1314 6519h1M1259 6688h1M1265 6658h1M1388 6583h1M1248 6743h1M1314 6689h1M1319 6630h1M1254 6699h1M1314 6600h1M1229 6753h1M1282 6593h1M1331 6563h1M1305 6802h1M1360 6690h1M1382 6605h1M1262 6688h1M1274 6651h1M1271 6663h1M1229 6748h1M1234 6619h1M1415 6625h1M1298 6690h1M1377 6626h1M1136 6815h1M1269 6668h1M1169 6789h1M1215 6715h1M1301 6659h1M1319 6561h1M1284 6711h1M1379 6613h1M1267 6658h1M1265 6672h1M1201 6732h1M1227 6732h1M1295 6750h1M1272 6668h1M1399 6607h1M1353 6561h1M1332 6606h1M1291 6663h1M1326 6661h1M1322 6576h1M1219 6743h1M1327 6723h1M1298 6599h1M1177 6663h1M1339 6560h1M1301 6636h1M1331 6678h1M1311 6667h1M1243 6668h1M1284 6620h1M1264 6687h1M1229 6665h1M1224 6616h1M1351 6602h1M1215 6700h1M1309 6613h1M1318 6597h1M1239 6636h1M1286 6708h1M1348 6676h1M1270 6715h1M1223 6771h1M1381 6619h1M1195 6716h1M1229 6673h1M1278 6736h1M1349 6749h1M1393 6690h1M1267 6698h1M1276 6691h1M1339 6693h1M1255 6701h1M1284 6618h1M1350 6609h1M1295 6630h1M1445 6642h1M1305 6623h1M1338 6659h1M1153 6801h1M1310 6748h1M1361 6647h1M1255 6761h1M1310 6716h1M1326 6627h1M1352 6624h1M1302 6667h1M1253 6636h1M1293 6637h1M1176 6761h1M1279 6641h1M1239 6709h1M1239 6652h1M1201 6726h1M1203 6780h1M1284 6692h1M1290 6629h1M1330 6677h1M1216 6743h1M1248 6713h1M1242 6732h1M1310 6658h1M1319 6612h1M1280 6614h1M1257 6589h1M1355 6576h1M1261 6655h1M1252 6648h1M1385 6673h1M1258 6779h1M1203 6708h1M1277 6656h1M1396 6594h1M1218 6695h1M1313 6689h1M1287 6744h1M1312 6626h1M1297 6639h1M1270 6646h1M1171 6615h1M1283 6704h1M1176 6730h1M1251 6743h1M1317 6649h1M1157 6802h1M1313 6549h1M1246 6727h1M1362 6702h1M1453 6683h1M1110 6769h1M1210 6742h1M1209 6679h1M1297 6682h1M1379 6653h1M1407 6603h1M1231 6657h1M1383 6629h1M1261 6665h1M1236 6654h1M1390 6678h1M1200 6671h1M1214 6727h1M1338 6605h1M1301 6655h1M1260 6639h1M1313 6672h1M1158 6743h1M1311 6635h1M1365 6561h1M1303 6686h1M1278 6600h1M1278 6637h1M1370 6628h1M1318 6636h1M1187 6788h1M1316 6616h1M1313 6594h1M1247 6823h1M1262 6666h1M1301 6591h1M1345 6583h1M1261 6703h1M1393 6517h1M1343 6672h1M1312 6680h1M1335 6665h1M1352 6674h1M1324 6615h1M1232 6709h1M1458 6318h1M1487 6309h1M1465 6354h1M1474 6339h1M1459 6385h1M1454 6375h1M1450 6391h1M1471 6300h1M1465 6324h1M1461 6379h1M1477 6360h1M1453 6380h1M1436 6411h1M1478 6302h1M1474 6326h1M1491 6283h1M1469 6343h1M1471 6344h1M1460 6362h1M1456 6365h1M1466 6359h1M1470 6373h1M1462 6352h1M1479 6333h1M1461 6360h1M1497 6275h1M1480 6357h1M1487 6299h1M1494 6276h1M1458 6354h1M1483 6291h1M1475 6318h1M1454 6376h1M1455 6349h1M1439 6449h1M1447 6361h1M1461 6323h1M1459 6364h1M1475 6344h1M1454 6347h1M1467 6356h1M1466 6344h1M1464 6355h1M1463 6352h1M1481 6318h1M1359 6762h1M1329 6880h1M1272 6705h1M1383 6817h1M1358 6876h1M1261 6771h1M1272 6721h1M1375 6754h1M1152 6862h1M1333 6699h1M1323 6762h1M1164 6789h1M1257 6797h1M1463 6724h1M1381 6761h1M1206 6787h1M1280 6777h1M1266 6776h1M1236 6784h1M1228 6792h1M1294 6778h1M1264 6704h1M1474 6853h1M1329 6838h1M1286 6766h1M1155 6815h1M1236 6789h1M1236 6749h1M1328 6769h1M1495 6762h1M1262 6742h1M1464 6759h1M1330 6817h1M1343 6816h1M1302 6798h1M1037 6854h1M1222 6815h1M1278 6854h1M1362 6831h1M1265 6875h1M1183 6715h1M1276 6881h1M1223 6769h1M1388 6759h1M1212 6732h1M1199 6815h1M1292 6776h1M1426 6802h1M1305 6778h1M1296 6772h1M1371 6739h1M1308 6794h1M1386 6824h1M1387 6836h1M1308 6856h1M1126 6791h1M1337 6755h1M1373 6814h1M1425 6762h1M1227 6719h1M1212 6834h1M1330 6725h1M1301 6777h1M1317 6847h1M1244 6842h1M1297 6775h1M1297 6797h1M1051 6752h1M1251 6724h1M1112 6723h1M1124 6859h1M1293 6832h1M1122 6675h1M1256 6743h1M1179 6802h1M1254 6811h1M1243 6790h1M1490 6745h1M1337 6809h1M1440 6763h1M1157 6826h1M1182 6784h1M1357 6824h1M1460 6719h1M1307 6773h1M1115 6750h1M1278 6868h1M1408 6744h1M1256 6734h1M1291 6778h1M1180 6733h1M1113 6697h1M1249 6721h1M1433 6847h1M1214 6855h1M1348 6773h1M1322 6775h1M1246 6770h1M1220 6849h1M1118 6859h1M1261 6788h1M1348 6698h1M1374 6849h1M1312 6768h1M1306 6764h1M1127 6810h1M1223 6757h1M1142 6800h1M1223 6883h1M1263 6839h1M1308 6734h1M1151 6873h1M1197 6836h1M1396 6847h1M1190 6791h1M1321 6803h1M1451 6783h1M1459 6791h1M1144 6790h1M1288 6692h1M1245 6853h1M1211 6777h1M1386 6799h1M1311 6747h1M1158 6843h1M1037 6769h1M1273 6797h1M1291 6718h1M1433 6891h1M1254 6652h1M1347 6765h1M1426 6814h1M1015 6840h1M1277 6852h1M1234 6833h1M1173 6790h1M1232 6846h1M1269 6769h1M1187 6756h1M1248 6844h1M1405 6784h1M1148 6725h1M1358 6795h1M1218 6775h1M1463 6688h1M1375 6779h1M1334 6836h1M1418 6802h1M1317 6820h1M1290 6751h1M1345 6680h1M1124 6684h1M1292 6798h1M1411 6788h1M1002 6723h1M1103 6747h1M1361 6842h1M1300 6819h1M1363 6832h1M1274 6787h1M1441 6760h1M1176 6862h1M1466 6739h1M1283 6790h1M1211 6749h1M1373 6679h1M1252 6820h1M1249 6819h1M1160 6794h1M1074 6818h1M1319 6804h1M1382 6759h1M1293 6704h1M1037 6744h1M1146 6847h1M1345 6787h1M1238 6764h1M1293 6850h1M1294 6796h1M1361 6840h1M1228 6691h1M1366 6737h1M1419 6778h1M1360 6750h1M1277 6859h1M1236 6734h1M1319 6716h1M1264 6717h1M1212 6787h1M1276 6845h1M1267 6771h1M1396 6767h1M1110 6834h1M1091 6749h1M1211 6812h1M1416 6711h1M1160 6784h1M1166 6759h1M1080 6760h1M1202 6760h1M1262 6709h1M1403 6807h1M1300 6875h1M1343 6781h1M1358 6864h1M1312 6854h1M1345 6775h1M1112 6811h1M1361 6801h1M1384 6685h1M1123 6767h1M1188 6822h1M1324 6791h1M1341 6855h1M1361 6782h1M1464 6758h1M1377 6704h1M1257 6782h1M1195 6770h1M1144 6775h1M1383 6813h1M1212 6820h1M1297 6764h1M1152 6753h1M1473 6779h1M1322 6801h1M1404 6823h1M1199 6810h1M1327 6868h1M1433 6668h1M1328 6809h1M1125 6782h1M1209 6763h1M1262 6847h1M1359 6855h1M1336 6831h1M1405 6791h1M1288 6747h1M1159 6831h1M1414 6824h1M1344 6843h1M1124 6777h1M1286 6780h1M1165 6743h1M1275 6761h1M1304 6805h1M1409 6822h1M1159 6774h1M1376 6801h1M1286 6767h1M1347 6740h1M1142 6828h1M1355 6755h1M1135 6784h1M1309 6879h1M1344 6738h1M1363 6795h1M1400 6830h1M1118 6753h1M1494 6732h1M1282 6851h1M1313 6802h1M1412 6870h1M1212 6778h1M1304 6781h1M1324 6793h1M1453 6702h1M1344 6742h1M1388 6773h1M1239 6790h1M1235 6825h1M1287 6842h1M1301 6800h1M1230 6755h1M1331 6826h1M1268 6752h1M1418 6805h1M1380 6747h1M1348 6776h1M1466 6855h1M1463 6853h1M1176 6819h1M1366 6669h1M1182 6821h1M1135 6814h1M1290 6870h1M1197 6784h1M1280 6744h1M1166 6695h1M1378 6819h1M1176 6698h1M1147 6768h1M1268 6873h1M1309 6718h1M1185 6823h1M1342 6754h1M1172 6761h1M1495 6804h1M1348 6811h1M1355 6745h1M1313 6830h1M1313 6845h1M1130 6716h1M1337 6797h1M1377 6693h1M1206 6874h1M1323 6793h1M1178 6786h1M1400 6844h1M1309 6706h1M1476 6792h1M1245 6755h1M1328 6877h1M1451 6761h1M1250 6648h1M1193 6818h1M1237 6784h1M1207 6821h1M1247 6827h1M1354 6721h1M1468 6741h1M1354 6740h1M1402 6798h1M1110 6859h1M1224 6840h1M1145 6758h1M1207 6799h1M1383 6781h1M1408 6837h1M1245 6846h1M1189 6754h1M1470 6743h1M1299 6794h1M1274 6798h1M1276 6678h1M1159 6771h1M1416 6793h1M1244 6806h1M1134 6758h1M1410 6802h1M1201 6774h1M1235 6754h1M1370 6826h1M1432 6715h1M1076 6662h1M1341 6829h1M1407 6736h1M1449 6889h1M1294 6740h1M1161 6695h1M1114 6717h1M944 6822h1M1230 6665h1M1200 6702h1M1041 6780h1M1055 6805h1M1073 6832h1M1115 6677h1M1215 6599h1M1129 6712h1M1159 6751h1M1030 6808h1M969 6771h1M1109 6712h1M1003 6771h1M932 6769h1M867 6835h1M878 6863h1M944 6847h1M986 6798h1M881 6859h1M1026 6787h1M1029 6797h1M1033 6770h1M842 6852h1M1078 6739h1M960 6847h1M1049 6773h1M907 6840h1M1280 6661h1M1071 6795h1M1063 6822h1M1121 6668h1M1127 6695h1M901 6854h1M935 6874h1M1090 6679h1M1049 6863h1M996 6803h1M1150 6722h1M922 6865h1M1040 6785h1M908 6877h1M989 6811h1M1261 6708h1M1055 6853h1M930 6826h1M1174 6749h1M993 6761h1M1099 6737h1M1084 6757h1M1259 6637h1M1189 6691h1M907 6868h1M1096 6780h1M957 6839h1M946 6806h1M1205 6689h1M1030 6778h1M990 6766h1M1012 6790h1M1017 6868h1M1039 6776h1M1019 6816h1M1187 6684h1M1024 6657h1M959 6824h1M1011 6835h1M1195 6614h1M1166 6637h1M1098 6747h1M891 6878h1M932 6856h1M985 6838h1M1085 6800h1M1028 6747h1M1067 6730h1M1026 6786h1M1143 6746h1M1099 6797h1M1011 6789h1M983 6836h1M987 6833h1M907 6880h1M1001 6797h1M1134 6696h1M1034 6830h1M1175 6690h1M972 6812h1M994 6881h1M1138 6711h1M977 6840h1M860 6891h1M1013 6800h1M921 6880h1M937 6865h1M961 6893h1M933 6821h1M1117 6784h1M1189 6765h1M1397 6552h1M1071 6808h1M1134 6706h1M934 6886h1M1068 6819h1M1019 6857h1M1062 6829h1M1091 6827h1M990 6834h1M941 6797h1M966 6888h1M988 6871h1M1074 6783h1M1200 6683h1M1102 6694h1M936 6876h1M1135 6728h1M1076 6770h1M1109 6843h1M955 6887h1M1058 6816h1M978 6845h1M1156 6668h1M1159 6678h1M917 6811h1M1046 6795h1M1233 6652h1M875 6844h1M876 6883h1M894 6883h1M964 6875h1M1263 6600h1M930 6833h1M986 6828h1M1079 6708h1M1051 6718h1M1078 6779h1M1212 6691h1M1177 6679h1M790 6866h1M1068 6810h1M1167 6735h1M1096 6721h1M974 6883h1M1064 6792h1M1041 6745h1M943 6802h1M1004 6748h1M1014 6763h1M956 6866h1M988 6834h1M928 6820h1M1193 6701h1M1037 6764h1M1136 6748h1M1040 6750h1M1113 6708h1M998 6880h1M1058 6799h1M1037 6760h1M1055 6795h1M903 6885h1M1100 6804h1M910 6832h1M948 6810h1M1358 6559h1M1142 6729h1M1001 6816h1M1042 6785h1M1062 6802h1M1013 6838h1M1075 6749h1M1269 6652h1M935 6806h1M1026 6810h1M1094 6763h1M1048 6761h1M1171 6714h1M1035 6755h1M960 6815h1M1099 6739h1M1032 6805h1M1061 6790h1M1215 6655h1M948 6851h1M1006 6829h1M1020 6813h1M1020 6846h1M990 6841h1M986 6863h1M1045 6791h1M1235 6709h1M936 6790h1M1073 6724h1M1036 6783h1M996 6849h1M1083 6741h1M1170 6715h1M1079 6721h1M1312 6356h1M1297 6442h1M1099 6307h1M1221 6311h1M1327 6307h1M1181 6264h1M1280 6371h1M1388 6352h1M1447 6400h1M1249 6384h1M994 6405h1M1303 6410h1M1360 6393h1M1142 6353h1M1426 6408h1M1290 6397h1M1460 6408h1M1294 6447h1M1318 6409h1M1195 6373h1M1373 6338h1M1328 6300h1M1232 6312h1M1362 6371h1M1255 6386h1M1463 6378h1M1356 6366h1M1301 6433h1M1282 6328h1M1484 6362h1M1311 6375h1M1349 6418h1M1198 6284h1M1378 6265h1M1312 6426h1M1226 6255h1M1204 6379h1M1406 6317h1M1302 6463h1M1364 6355h1M1375 6299h1M1455 6365h1M1437 6297h1M1257 6348h1M1277 6296h1M1097 6238h1M1302 6415h1M1329 6352h1M1140 6418h1M1300 6479h1M1302 6421h1M1290 6336h1M1314 6309h1M1183 6323h1M1300 6346h1M1290 6409h1M1246 6361h1M1271 6379h1M1448 6494h1M1160 6299h1M1488 6392h1M1242 6448h1M1351 6328h1M1375 6340h1M1213 6252h1M1266 6395h1M1377 6416h1M1286 6298h1M1140 6385h1M1345 6294h1M1181 6331h1M1348 6460h1M1294 6432h1M1145 6438h1M1385 6284h1M1314 6318h1M1412 6328h1M1308 6441h1M1229 6344h1M1103 6582h1M1292 6358h1M1182 6367h1M1245 6295h1M1072 6332h1M1105 6425h1M1299 6368h1M1323 6435h1M1426 6404h1M1190 6186h1M1385 6409h1M1272 6396h1M1113 6358h1M1351 6246h1M1215 6427h1M1184 6286h1M1193 6306h1M1288 6417h1M1258 6388h1M1256 6245h1M1293 6488h1M1359 6453h1M1229 6494h1M1241 6419h1M1307 6363h1M1330 6431h1M1359 6342h1M1441 6351h1M1043 6325h1M1407 6376h1M1333 6374h1M1405 6405h1M1203 6293h1M1314 6356h1M1443 6297h1M1452 6417h1M1421 6358h1M1326 6368h1M1206 6431h1M1287 6394h1M1094 6470h1M1259 6419h1M1168 6231h1M1264 6359h1M1264 6450h1M1347 6320h1M1363 6293h1M1339 6242h1M1340 6326h1M1326 6305h1M1460 6352h1M1277 6415h1M1249 6348h1M1201 6379h1M1308 6441h1M1378 6253h1M1477 6376h1M1272 6422h1M1384 6387h1M1276 6302h1M1384 6376h1M1178 6407h1M1344 6281h1M1363 6411h1M1113 6314h1M1275 6359h1M1198 6398h1M1310 6297h1M1338 6316h1M1308 6313h1M1364 6360h1M1327 6372h1M1361 6565h1M1275 6382h1M1370 6380h1M1175 6303h1M1371 6212h1M1235 6358h1M1271 6207h1M1320 6367h1M1328 6292h1M1403 6287h1M1255 6472h1M1330 6252h1M1186 6430h1M1159 6370h1M1461 6417h1M1284 6404h1M1371 6436h1M1007 6558h1M1201 6576h1M925 6544h1M1157 6694h1M1095 6711h1M1127 6747h1M1098 6533h1M1138 6591h1M1126 6697h1M940 6545h1M893 6648h1M1154 6658h1M1101 6696h1M1219 6593h1M1055 6578h1M1028 6588h1M952 6631h1M848 6627h1M1080 6619h1M1205 6642h1M1032 6853h1M1132 6654h1M1134 6654h1M881 6585h1M1078 6647h1M932 6633h1M1068 6650h1M1109 6691h1M1020 6762h1M1042 6669h1M1162 6603h1M1262 6591h1M945 6504h1M1008 6470h1M970 6607h1M937 6591h1M1100 6650h1M984 6604h1M1166 6698h1M1169 6652h1M1036 6602h1M938 6550h1M1055 6668h1M1044 6655h1M979 6524h1M1178 6630h1M1031 6582h1M935 6524h1M1110 6598h1M893 6641h1M1161 6490h1M1024 6640h1M1196 6578h1M1056 6690h1M891 6451h1M978 6652h1M1077 6459h1M992 6639h1M1023 6631h1M1100 6731h1M891 6712h1M993 6601h1M930 6527h1M1046 6669h1M1113 6613h1M1029 6528h1M938 6614h1M989 6665h1M989 6596h1M1082 6618h1" stroke="#000" stroke-width="8.5" stroke-linecap="square" stroke-opacity="0.72" fill="none" filter="url(#bd)"/>
<text x="39.0" y="703.0" font-size="10.2" letter-spacing="-0.35" fill="#111">10<tspan dy="-2.4" dx="-0.8">0</tspan></text>
<text x="65.15" y="703.0" font-size="10.2" letter-spacing="-0.35" fill="#111">10<tspan dy="-2.4" dx="-0.8">1</tspan></text>
<text x="91.3" y="703.0" font-size="10.2" letter-spacing="-0.35" fill="#111">10<tspan dy="-2.4" dx="-0.8">2</tspan></text>
<text x="117.45" y="703.0" font-size="10.2" letter-spacing="-0.35" fill="#111">10<tspan dy="-2.4" dx="-0.8">3</tspan></text>
<text x="143.6" y="703.0" font-size="10.2" letter-spacing="-0.35" fill="#111">10<tspan dy="-2.4" dx="-0.8">4</tspan></text>
<text transform="translate(41.4 698.0) rotate(-90)" font-size="10.2" letter-spacing="-0.35" fill="#111">10<tspan dy="-4.1" dx="-0.8">0</tspan></text>
<text transform="translate(41.4 676.3) rotate(-90)" font-size="10.2" letter-spacing="-0.35" fill="#111">10<tspan dy="-4.1" dx="-0.8">1</tspan></text>
<text transform="translate(41.4 654.6) rotate(-90)" font-size="10.2" letter-spacing="-0.35" fill="#111">10<tspan dy="-4.1" dx="-0.8">2</tspan></text>
<text transform="translate(41.4 632.9) rotate(-90)" font-size="10.2" letter-spacing="-0.35" fill="#111">10<tspan dy="-4.1" dx="-0.8">3</tspan></text>
<text transform="translate(41.4 611.2) rotate(-90)" font-size="10.2" letter-spacing="-0.35" fill="#111">10<tspan dy="-4.1" dx="-0.8">4</tspan></text>
<rect x="194" y="604" width="104" height="86.3" fill="none" stroke="#333" stroke-width="1"/>
<line x1="263.1" y1="604" x2="263.1" y2="690.3" stroke="#444" stroke-width="0.9"/>
<line x1="194" y1="642.8" x2="298" y2="642.8" stroke="#444" stroke-width="0.9"/>
<path transform="scale(.1)" d="M2636 6358h1M2722 6365h1M2519 6259h1M2784 6346h1M2682 6180h1M2578 6346h1M2699 6345h1M2671 6385h1M2748 6214h1M2730 6314h1M2656 6241h1M2710 6388h1M2777 6329h1M2778 6272h1M2703 6463h1M2671 6298h1M2611 6284h1M2699 6423h1M2718 6286h1M2682 6395h1M2517 6370h1M2638 6369h1M2623 6257h1M2675 6387h1M2652 6360h1M2660 6307h1M2651 6378h1M2725 6264h1M2602 6384h1M2681 6352h1M2607 6327h1M2716 6313h1M2692 6313h1M2681 6199h1M2734 6397h1M2711 6255h1M2756 6134h1M2566 6289h1M2671 6313h1M2615 6340h1M2770 6314h1M2705 6272h1M2647 6275h1M2736 6383h1M2658 6255h1M2679 6326h1M2648 6439h1M2751 6473h1M2673 6274h1M2766 6337h1M2610 6283h1M2677 6437h1M2601 6236h1M2734 6363h1M2659 6453h1M2593 6401h1M2727 6244h1M2735 6197h1M2668 6315h1M2619 6372h1M2691 6213h1M2789 6229h1M2601 6524h1M2544 6322h1M2666 6285h1M2569 6340h1M2547 6174h1M2688 6375h1M2701 6258h1M2730 6348h1M2697 6315h1M2717 6293h1M2676 6260h1M2781 6393h1M2645 6231h1M2621 6286h1M2783 6193h1M2719 6437h1M2664 6382h1M2681 6290h1M2630 6340h1M2609 6490h1M2538 6445h1M2540 6492h1M2705 6343h1M2637 6302h1M2615 6597h1M2629 6326h1M2714 6261h1M2774 6381h1M2666 6380h1M2600 6241h1M2627 6518h1M2650 6304h1M2719 6261h1M2678 6328h1M2725 6272h1M2572 6215h1M2694 6352h1M2798 6277h1M2700 6313h1M2647 6318h1M2694 6255h1M2742 6172h1M2694 6379h1M2748 6234h1M2555 6428h1M2692 6267h1M2689 6232h1M2700 6380h1M2668 6483h1M2661 6316h1M2697 6394h1M2580 6233h1M2629 6193h1M2652 6258h1M2696 6275h1M2667 6402h1M2618 6367h1M2736 6293h1M2690 6406h1M2678 6244h1M2704 6415h1M2682 6307h1M2761 6347h1M2659 6300h1M2597 6500h1M2700 6311h1M2709 6387h1M2730 6434h1M2714 6366h1M2663 6421h1M2784 6279h1M2627 6509h1M2622 6279h1M2721 6208h1M2620 6354h1M2758 6342h1M2606 6352h1M2685 6299h1M2684 6319h1M2636 6402h1M2540 6291h1M2691 6329h1M2690 6402h1M2670 6309h1M2635 6297h1M2576 6369h1M2622 6228h1M2539 6410h1M2796 6438h1M2645 6164h1M2760 6500h1M2661 6517h1M2781 6297h1M2627 6357h1M2619 6338h1M2613 6465h1M2677 6441h1M2606 6455h1M2567 6383h1M2780 6390h1M2768 6272h1M2622 6341h1M2737 6272h1M2501 6336h1M2687 6481h1M2816 6302h1M2816 6487h1M2728 6284h1M2755 6257h1M2690 6398h1M2783 6219h1M2645 6277h1M2500 6339h1M2753 6327h1M2682 6352h1M2675 6229h1M2719 6329h1M2722 6238h1M2575 6256h1M2682 6379h1M2622 6301h1M2652 6337h1M2756 6190h1M2667 6370h1M2629 6342h1M2681 6331h1M2663 6445h1M2677 6366h1M2735 6322h1M2674 6478h1M2643 6255h1M2658 6419h1M2598 6193h1M2777 6267h1M2720 6331h1M2537 6313h1M2664 6464h1M2764 6468h1M2554 6217h1M2645 6296h1M2804 6373h1M2702 6357h1M2730 6231h1M2602 6265h1M2788 6368h1M2714 6399h1M2774 6279h1M2603 6329h1M2633 6308h1M2605 6336h1M2701 6357h1M2603 6194h1M2679 6270h1M2784 6367h1M2735 6269h1M2628 6288h1M2711 6486h1M2603 6348h1M2732 6296h1M2588 6263h1M2727 6341h1M2747 6276h1M2578 6433h1M2744 6242h1M2773 6193h1M2789 6380h1M2780 6338h1M2726 6145h1M2728 6374h1M2631 6357h1M2816 6244h1M2686 6500h1M2752 6525h1M2726 6435h1M2681 6132h1M2598 6467h1M2727 6382h1M2691 6302h1M2610 6466h1M2794 6404h1M2707 6350h1M2647 6216h1M2642 6383h1M2777 6233h1M2651 6372h1M2653 6304h1M2538 6270h1M2663 6420h1M2635 6294h1M2749 6266h1M2779 6200h1M2760 6316h1M2568 6223h1M2704 6252h1M2787 6357h1M2663 6271h1M2667 6334h1M2677 6204h1M2575 6432h1M2652 6226h1M2668 6350h1M2697 6277h1M2688 6284h1M2683 6469h1M2652 6395h1M2824 6381h1M2775 6195h1M2738 6392h1M2699 6274h1M2790 6229h1M2623 6291h1M2741 6461h1M2738 6409h1M2674 6313h1M2555 6338h1M2570 6391h1M2776 6288h1M2600 6332h1M2734 6300h1M2669 6211h1M2651 6372h1M2706 6317h1M2779 6448h1M2739 6368h1M2777 6303h1M2606 6134h1M2639 6328h1M2770 6293h1M2682 6383h1M2659 6364h1M2573 6340h1M2649 6326h1M2643 6356h1M2720 6243h1M2673 6334h1M2552 6388h1M2537 6180h1M2760 6446h1M2578 6255h1M2569 6293h1M2583 6336h1M2636 6362h1M2703 6385h1M2675 6441h1M2629 6265h1M2643 6185h1M2617 6437h1M2657 6404h1M2626 6340h1M2684 6326h1M2600 6265h1M2646 6386h1M2694 6470h1M2608 6327h1M2640 6375h1M2714 6334h1M2658 6424h1M2652 6329h1M2659 6236h1M2682 6332h1M2481 6251h1M2695 6441h1M2658 6251h1M2807 6376h1M2562 6315h1M2764 6455h1M2662 6265h1M2647 6353h1M2681 6264h1M2670 6315h1M2577 6411h1M2698 6244h1M2711 6229h1M2592 6321h1M2723 6361h1M2681 6282h1M2715 6308h1M2709 6397h1M2678 6432h1M2801 6270h1M2670 6392h1M2563 6405h1M2729 6323h1M2550 6328h1M2674 6408h1M2648 6383h1M2506 6329h1M2546 6571h1M2826 6386h1M2612 6438h1M2499 6276h1M2592 6355h1M2633 6292h1M2729 6290h1M2545 6411h1M2662 6248h1M2659 6342h1M2644 6322h1M2740 6469h1M2647 6357h1M2508 6293h1M2654 6372h1M2608 6247h1M2643 6408h1M2695 6399h1M2489 6425h1M2660 6429h1M2676 6538h1M2578 6424h1M2517 6204h1M2757 6295h1M2727 6369h1M2548 6222h1M2610 6380h1M2602 6394h1M2642 6399h1M2573 6257h1M2709 6295h1M2674 6358h1M2731 6357h1M2660 6373h1M2783 6294h1M2587 6280h1M2719 6279h1M2714 6282h1M2661 6297h1M2697 6384h1M2643 6418h1M2565 6403h1M2651 6388h1M2732 6170h1M2501 6304h1M2787 6248h1M2562 6374h1M2718 6260h1M2578 6327h1M2716 6244h1M2609 6446h1M2683 6214h1M2675 6301h1M2671 6390h1M2699 6298h1M2660 6407h1M2643 6263h1M2761 6246h1M2637 6366h1M2663 6366h1M2710 6322h1M2609 6340h1M2639 6238h1M2674 6388h1M2671 6369h1M2657 6355h1M2634 6238h1M2686 6224h1M2713 6218h1M2564 6447h1M2608 6163h1M2660 6554h1M2681 6319h1M2725 6327h1M2700 6324h1M2631 6143h1M2594 6234h1M2693 6236h1M2615 6386h1M2593 6147h1M2727 6409h1M2618 6274h1M2636 6206h1M2681 6269h1M2496 6297h1M2857 6268h1M2771 6405h1M2809 6267h1M2659 6326h1M2675 6246h1M2738 6344h1M2675 6250h1M2690 6407h1M2635 6249h1M2602 6232h1M2760 6413h1M2709 6389h1M2677 6430h1M2624 6343h1M2833 6493h1M2640 6343h1M2520 6388h1M2703 6307h1M2497 6338h1M2762 6158h1M2623 6278h1M2666 6310h1M2669 6290h1M2646 6249h1M2566 6303h1M2704 6371h1M2687 6244h1M2606 6273h1M2721 6500h1M2714 6391h1M2596 6305h1M2668 6205h1M2546 6243h1M2470 6315h1M2731 6307h1M2667 6267h1M2757 6330h1M2682 6247h1M2691 6403h1M2697 6275h1M2711 6413h1M2715 6373h1M2586 6327h1M2700 6235h1M2512 6522h1M2689 6241h1M2828 6401h1M2821 6325h1M2782 6190h1M2620 6379h1M2717 6519h1M2603 6200h1M2743 6341h1M2655 6345h1M2624 6280h1M2697 6414h1M2748 6412h1M2560 6446h1M2650 6333h1M2686 6390h1M2689 6340h1M2610 6292h1M2664 6395h1M2618 6366h1M2737 6308h1M2696 6467h1M2787 6198h1M2619 6188h1M2613 6337h1M2688 6273h1M2757 6283h1M2689 6447h1M2649 6381h1M2544 6319h1M2643 6374h1M2689 6204h1M2753 6305h1M2565 6307h1M2710 6437h1M2697 6443h1M2832 6378h1M2757 6231h1M2556 6438h1M2629 6349h1M2654 6298h1M2620 6386h1M2632 6400h1M2566 6373h1M2636 6425h1M2605 6536h1M2649 6459h1M2632 6246h1M2683 6457h1M2673 6259h1M2670 6501h1M2654 6361h1M2570 6440h1M2654 6417h1M2762 6288h1M2667 6391h1M2672 6330h1M2705 6551h1M2673 6462h1M2624 6239h1M2647 6284h1M2598 6376h1M2592 6343h1M2668 6321h1M2632 6333h1M2588 6338h1M2682 6328h1M2713 6312h1M2657 6215h1M2627 6368h1M2806 6518h1M2679 6291h1M2630 6192h1M2739 6179h1M2781 6317h1M2574 6293h1M2586 6121h1M2647 6458h1M2716 6297h1M2582 6303h1M2764 6405h1M2687 6294h1M2797 6326h1M2678 6408h1M2706 6345h1M2733 6152h1M2638 6329h1M2583 6359h1M2647 6224h1M2552 6309h1M2572 6278h1M2662 6281h1M2698 6344h1M2735 6271h1M2770 6400h1M2617 6292h1M2564 6378h1M2776 6179h1M2679 6243h1M2677 6202h1M2562 6271h1M2587 6228h1M2722 6379h1M2617 6470h1M2761 6203h1M2594 6309h1M2768 6319h1M2572 6529h1M2554 6125h1M2647 6319h1M2618 6308h1M2612 6368h1M2709 6260h1M2726 6314h1M2578 6587h1M2731 6404h1M2772 6285h1M2763 6295h1M2659 6452h1M2636 6298h1M2667 6353h1M2693 6558h1M2605 6274h1M2557 6408h1M2684 6410h1M2691 6314h1M2675 6504h1M2574 6284h1M2543 6249h1M2640 6375h1M2697 6235h1M2740 6229h1M2630 6465h1M2557 6400h1M2584 6333h1M2627 6312h1M2716 6431h1M2537 6404h1M2623 6340h1M2612 6286h1M2662 6320h1M2644 6241h1M2595 6272h1M2731 6289h1M2758 6349h1M2736 6423h1M2707 6162h1M2728 6409h1M2705 6373h1M2679 6303h1M2545 6406h1M2683 6296h1M2707 6377h1M2630 6322h1M2737 6179h1M2672 6321h1M2586 6322h1M2748 6236h1M2606 6294h1M2699 6276h1M2588 6434h1M2577 6383h1M2706 6244h1M2622 6362h1M2637 6358h1M2643 6171h1M2689 6355h1M2787 6235h1M2646 6308h1M2686 6329h1M2646 6304h1M2795 6343h1M2685 6415h1M2610 6249h1M2630 6333h1M2793 6210h1M2679 6308h1M2816 6359h1M2604 6514h1M2728 6340h1M2655 6267h1M2674 6354h1M2687 6316h1M2737 6491h1M2660 6290h1M2704 6347h1M2626 6441h1M2636 6217h1M2715 6287h1M2734 6330h1M2679 6345h1M2802 6359h1M2615 6346h1M2577 6289h1M2754 6345h1M2706 6302h1M2626 6209h1M2788 6305h1M2664 6276h1M2859 6241h1M2552 6330h1M2624 6285h1M2729 6304h1M2773 6368h1M2794 6379h1M2640 6093h1M2678 6339h1M2713 6270h1M2743 6363h1M2645 6392h1M2669 6489h1M2556 6333h1M2758 6180h1M2609 6311h1M2719 6405h1M2697 6270h1M2703 6291h1M2655 6316h1M2728 6437h1M2725 6340h1M2605 6232h1M2672 6334h1M2693 6189h1M2606 6297h1M2701 6349h1M2761 6323h1M2770 6212h1M2656 6463h1M2449 6381h1M2734 6424h1M2734 6314h1M2672 6275h1M2686 6321h1M2637 6396h1M2613 6299h1M2733 6471h1M2774 6248h1M2692 6370h1M2604 6200h1M2560 6374h1M2727 6202h1M2727 6235h1M2774 6302h1M2656 6510h1M2636 6344h1M2632 6280h1M2755 6391h1M2816 6239h1M2615 6391h1M2645 6376h1M2655 6134h1M2731 6331h1M2622 6392h1M2746 6346h1M2718 6245h1M2696 6424h1M2750 6340h1M2611 6301h1M2622 6338h1M2789 6289h1M2672 6422h1M2627 6220h1M2657 6267h1M2603 6208h1M2742 6239h1M2621 6237h1M2744 6354h1M2738 6277h1M2672 6393h1M2824 6286h1M2685 6411h1M2711 6242h1M2746 6231h1M2627 6391h1M2590 6357h1M2707 6371h1M2621 6469h1M2589 6339h1M2606 6465h1M2744 6414h1M2821 6413h1M2682 6311h1M2675 6269h1M2706 6283h1M2738 6386h1M2683 6276h1M2641 6206h1M2738 6446h1M2645 6178h1M2624 6267h1M2622 6340h1M2632 6334h1M2662 6376h1M2672 6309h1M2721 6103h1M2642 6474h1M2675 6327h1M2647 6345h1M2682 6450h1M2766 6329h1M2647 6350h1M2556 6192h1M2746 6341h1M2712 6252h1M2714 6353h1M2507 6377h1M2596 6274h1M2704 6394h1M2665 6331h1M2656 6321h1M2756 6366h1M2596 6323h1M2639 6152h1M2695 6388h1M2613 6414h1M2622 6216h1M2660 6416h1M2626 6448h1M2658 6399h1M2756 6297h1M2582 6266h1M2629 6368h1M2628 6300h1M2652 6435h1M2709 6258h1M2798 6297h1M2777 6347h1M2871 6342h1M2560 6227h1M2624 6327h1M2863 6375h1M2692 6245h1M2700 6431h1M2667 6407h1M2648 6260h1M2788 6393h1M2690 6449h1M2637 6451h1M2688 6331h1M2681 6344h1M2727 6415h1M2723 6309h1M2707 6441h1M2671 6486h1M2705 6330h1M2675 6512h1M2600 6367h1M2689 6289h1M2572 6458h1M2685 6513h1M2625 6310h1M2802 6294h1M2725 6175h1M2658 6360h1M2655 6346h1M2752 6423h1M2614 6255h1M2794 6227h1M2788 6363h1M2734 6310h1M2654 6224h1M2735 6331h1M2664 6203h1M2550 6224h1M2615 6342h1M2769 6372h1M2671 6383h1M2646 6414h1M2784 6181h1M2725 6361h1M2739 6394h1M2711 6428h1M2588 6382h1M2678 6272h1M2569 6302h1M2763 6528h1M2620 6311h1M2845 6288h1M2584 6276h1M2596 6228h1M2755 6293h1M2539 6135h1M2665 6388h1M2692 6237h1M2876 6394h1M2702 6373h1M2708 6189h1M2671 6254h1M2663 6385h1M2621 6289h1M2710 6470h1M2648 6392h1M2656 6393h1M2544 6465h1M2722 6285h1M2679 6438h1M2656 6343h1M2684 6222h1M2778 6284h1M2479 6391h1M2743 6368h1M2643 6300h1M2645 6442h1M2714 6290h1M2734 6292h1M2575 6218h1M2769 6321h1M2624 6320h1M2785 6472h1M2665 6310h1M2901 6252h1M2584 6320h1M2693 6342h1M2791 6370h1M2623 6385h1M2705 6323h1M2504 6445h1M2543 6276h1M2567 6355h1M2647 6292h1M2556 6353h1M2697 6335h1M2644 6430h1M2453 6169h1M2714 6245h1M2757 6316h1M2726 6414h1M2728 6174h1M2635 6291h1M2640 6346h1M2675 6385h1M2684 6339h1M2731 6224h1M2815 6399h1M2761 6340h1M2649 6335h1M2480 6283h1M2541 6241h1M2688 6324h1M2578 6300h1M2812 6302h1M2635 6391h1M2646 6335h1M2697 6429h1M2619 6314h1M2652 6331h1M2767 6317h1M2758 6383h1M2808 6140h1M2785 6242h1M2772 6352h1M2538 6401h1M2662 6333h1M2612 6351h1M2661 6331h1M2696 6302h1M2714 6422h1M2716 6393h1M2757 6326h1M2729 6487h1M2775 6143h1M2573 6260h1M2595 6307h1M2686 6254h1M2721 6315h1M2551 6334h1M2520 6295h1M2737 6321h1M2647 6243h1M2718 6330h1M2735 6237h1M2703 6189h1M2609 6276h1M2737 6319h1M2641 6428h1M2732 6376h1M2559 6418h1M2705 6339h1M2666 6252h1M2643 6464h1M2719 6300h1M2696 6471h1M2678 6367h1M2696 6274h1M2605 6375h1M2694 6225h1M2590 6316h1M2584 6349h1M2675 6331h1M2690 6340h1M2608 6304h1M2590 6435h1M2582 6341h1M2630 6391h1M2618 6322h1M2793 6393h1M2572 6324h1M2651 6179h1M2747 6168h1M2686 6358h1M2669 6322h1M2778 6271h1M2758 6369h1M2760 6325h1M2636 6379h1M2725 6270h1M2720 6405h1M2622 6160h1M2737 6409h1M2690 6330h1M2631 6209h1M2683 6294h1M2693 6517h1M2677 6268h1M2660 6324h1M2533 6285h1M2651 6469h1M2664 6138h1M2521 6460h1M2715 6223h1M2660 6425h1M2719 6427h1M2693 6259h1M2647 6383h1M2528 6159h1M2641 6209h1M2573 6290h1M2609 6368h1M2624 6363h1M2629 6292h1M2702 6299h1M2710 6365h1M2676 6324h1M2588 6310h1M2624 6245h1M2701 6385h1M2799 6332h1M2617 6257h1M2615 6283h1M2617 6548h1M2657 6272h1M2717 6370h1M2614 6241h1M2626 6361h1M2628 6414h1M2784 6084h1M2667 6409h1M2752 6444h1M2751 6323h1M2664 6260h1M2692 6286h1M2650 6314h1M2646 6416h1M2567 6158h1M2609 6467h1M2624 6306h1M2720 6453h1M2635 6309h1M2595 6328h1M2694 6290h1M2621 6414h1M2638 6399h1M2597 6505h1M2728 6398h1M2636 6421h1M2689 6362h1M2587 6416h1M2626 6307h1M2435 6327h1M2712 6265h1M2828 6253h1M2523 6366h1M2793 6253h1M2763 6277h1M2738 6456h1M2646 6215h1M2636 6406h1M2764 6336h1M2634 6216h1M2573 6368h1M2618 6247h1M2687 6380h1M2658 6374h1M2653 6234h1M2673 6352h1M2817 6241h1M2698 6205h1M2703 6273h1M2593 6280h1M2633 6378h1M2748 6380h1M2706 6315h1M2713 6286h1M2652 6443h1M2561 6365h1M2649 6325h1M2641 6256h1M2800 6339h1M2590 6411h1M2622 6320h1M2809 6396h1M2649 6381h1M2628 6297h1M2734 6135h1M2620 6154h1M2665 6436h1M2646 6132h1M2716 6455h1M2645 6366h1M2688 6380h1M2588 6221h1M2636 6367h1M2674 6249h1M2616 6367h1M2714 6343h1M2664 6382h1M2509 6344h1M2801 6382h1M2638 6150h1M2733 6199h1M2715 6237h1M2674 6126h1M2704 6340h1M2705 6391h1M2604 6396h1M2730 6454h1M2591 6354h1M2757 6306h1M2622 6414h1M2696 6311h1M2658 6318h1M2717 6383h1M2643 6427h1M2641 6315h1M2647 6341h1M2690 6399h1M2759 6460h1M2590 6195h1M2455 6260h1M2655 6365h1M2631 6391h1M2686 6271h1M2672 6375h1M2634 6307h1M2651 6515h1M2658 6310h1M2603 6258h1M2586 6236h1M2588 6289h1M2559 6262h1M2658 6301h1M2734 6321h1M2759 6353h1M2620 6482h1M2696 6412h1M2590 6302h1M2662 6492h1M2644 6232h1M2792 6260h1M2632 6432h1M2621 6259h1M2591 6357h1M2586 6199h1M2725 6383h1M2776 6234h1M2614 6437h1M2573 6424h1M2613 6511h1M2553 6314h1M2648 6429h1M2772 6213h1M2592 6459h1M2662 6273h1M2691 6276h1M2554 6391h1M2649 6336h1M2565 6146h1M2698 6368h1M2678 6246h1M2653 6257h1M2485 6302h1M2610 6487h1M2673 6374h1M2614 6305h1M2710 6244h1M2685 6393h1M2702 6489h1M2666 6470h1M2718 6331h1M2628 6403h1M2634 6277h1M2714 6292h1M2579 6361h1M2539 6456h1M2712 6331h1M2741 6302h1M2711 6331h1M2828 6275h1M2672 6386h1M2534 6275h1M2626 6275h1M2508 6339h1M2645 6339h1M2678 6387h1M2778 6367h1M2799 6399h1M2679 6234h1M2769 6320h1M2725 6434h1M2626 6348h1M2621 6222h1M2541 6202h1M2644 6229h1M2645 6437h1M2603 6271h1M2662 6440h1M2619 6179h1M2808 6167h1M2554 6435h1M2742 6309h1M2619 6441h1M2638 6315h1M2692 6386h1M2509 6419h1M2623 6251h1M2713 6318h1M2556 6250h1M2555 6290h1M2471 6421h1M2622 6388h1M2547 6244h1M2634 6239h1M2613 6366h1M2687 6154h1M2760 6280h1M2540 6190h1M2605 6282h1M2601 6216h1M2781 6374h1M2634 6334h1M2589 6464h1M2534 6312h1M2685 6435h1M2563 6304h1M2599 6371h1M2714 6415h1M2669 6364h1M2674 6377h1M2695 6427h1M2601 6200h1M2574 6413h1M2627 6234h1M2589 6218h1M2729 6256h1M2701 6370h1M2662 6397h1M2685 6441h1M2633 6437h1M2645 6439h1M2730 6380h1M2547 6319h1M2683 6259h1M2749 6438h1M2598 6259h1M2656 6412h1M2666 6127h1M2645 6224h1M2724 6164h1M2689 6301h1M2669 6405h1M2641 6459h1M2580 6319h1M2712 6461h1M2647 6277h1M2614 6276h1M2643 6403h1M2799 6239h1M2611 6322h1M2733 6305h1M2584 6279h1M2588 6401h1M2783 6338h1M2581 6417h1M2670 6290h1M2782 6399h1M2528 6222h1M2649 6246h1M2678 6388h1M2619 6340h1M2713 6341h1M2686 6219h1M2648 6291h1M2699 6312h1M2644 6143h1M2530 6320h1M2694 6312h1M2793 6331h1M2726 6297h1M2683 6423h1M2561 6212h1M2611 6415h1M2718 6455h1M2682 6252h1M2754 6226h1M2637 6323h1M2538 6390h1M2553 6513h1M2690 6261h1M2718 6407h1M2655 6301h1M2692 6375h1M2683 6259h1M2724 6389h1M2601 6301h1M2596 6369h1M2603 6357h1M2670 6407h1M2674 6233h1M2558 6488h1M2674 6272h1M2705 6414h1M2609 6366h1M2686 6248h1M2586 6445h1M2680 6249h1M2579 6372h1M2675 6261h1M2555 6262h1M2544 6245h1M2727 6362h1M2665 6305h1M2610 6386h1M2738 6321h1M2506 6363h1M2721 6264h1M2691 6095h1M2630 6252h1M2676 6417h1M2751 6334h1M2710 6344h1M2670 6451h1M2692 6421h1M2759 6290h1M2607 6447h1M2716 6151h1M2564 6475h1M2779 6345h1M2711 6192h1M2621 6294h1M2707 6256h1M2633 6498h1M2687 6367h1M2587 6455h1M2718 6392h1M2689 6318h1M2676 6410h1M2699 6258h1M2635 6419h1M2683 6325h1M2704 6376h1M2613 6418h1M2624 6434h1M2800 6384h1M2624 6220h1M2676 6441h1M2595 6300h1M2565 6523h1M2756 6283h1M2747 6404h1M2583 6370h1M2504 6303h1M2603 6344h1M2835 6304h1M2706 6349h1M2672 6321h1M2646 6454h1M2670 6375h1M2658 6367h1M2744 6463h1M2689 6309h1M2756 6318h1M2643 6431h1M2786 6348h1M2684 6306h1M2637 6383h1M2592 6297h1M2614 6287h1M2701 6436h1M2733 6269h1M2620 6223h1M2620 6403h1M2810 6286h1M2675 6494h1M2727 6534h1M2663 6342h1M2589 6431h1M2633 6271h1M2550 6195h1M2622 6366h1M2605 6395h1M2619 6290h1M2595 6286h1M2548 6291h1M2671 6416h1M2695 6297h1M2676 6327h1M2766 6461h1M2752 6386h1M2654 6265h1M2695 6387h1M2697 6485h1M2738 6292h1M2631 6274h1M2807 6385h1M2675 6356h1M2764 6320h1M2607 6425h1M2646 6327h1M2581 6231h1M2668 6281h1M2635 6336h1M2624 6379h1M2728 6154h1M2635 6491h1M2690 6355h1M2589 6405h1M2559 6420h1M2823 6363h1M2716 6369h1M2702 6226h1M2599 6206h1M2702 6241h1M2673 6292h1M2671 6379h1M2755 6384h1M2786 6209h1M2723 6293h1M2609 6498h1M2615 6385h1M2681 6462h1M2579 6333h1M2626 6259h1M2601 6234h1M2708 6350h1M2752 6341h1M2684 6360h1M2742 6477h1M2654 6388h1M2678 6356h1M2700 6320h1M2634 6302h1M2713 6355h1M2626 6303h1M2585 6476h1M2697 6332h1M2732 6349h1M2783 6192h1M2542 6394h1M2711 6245h1M2782 6353h1M2721 6329h1M2644 6316h1M2528 6271h1M2722 6470h1M2543 6507h1M2740 6237h1M2582 6275h1M2659 6241h1M2547 6369h1M2672 6232h1M2776 6502h1M2685 6525h1M2667 6544h1M2655 6244h1M2613 6329h1M2737 6301h1M2549 6384h1M2598 6424h1M2657 6303h1M2558 6432h1M2536 6359h1M2652 6344h1M2539 6209h1M2789 6249h1M2733 6314h1M2778 6318h1M2775 6494h1M2742 6272h1M2604 6305h1M2721 6292h1M2718 6354h1M2690 6354h1M2620 6282h1M2479 6360h1M2712 6402h1M2657 6332h1M2731 6339h1M2558 6392h1M2592 6466h1M2566 6250h1M2663 6489h1M2712 6228h1M2662 6335h1M2784 6343h1M2756 6363h1M2717 6370h1M2754 6413h1M2625 6366h1M2688 6399h1M2776 6279h1M2618 6484h1M2741 6404h1M2800 6397h1M2740 6199h1M2856 6296h1M2641 6316h1M2672 6234h1M2609 6393h1M2764 6422h1M2692 6279h1M2677 6363h1M2779 6260h1M2618 6154h1M2700 6316h1M2756 6254h1M2537 6346h1M2712 6354h1M2733 6315h1M2565 6205h1M2788 6315h1M2703 6217h1M2637 6347h1M2676 6388h1M2643 6380h1M2733 6309h1M2771 6356h1M2692 6396h1M2632 6317h1M2638 6353h1M2675 6241h1M2678 6394h1M2628 6207h1M2783 6252h1M2517 6237h1M2710 6272h1M2792 6193h1M2625 6317h1M2816 6380h1M2644 6470h1M2728 6255h1M2705 6250h1M2600 6297h1M2700 6338h1M2686 6280h1M2756 6300h1M2711 6413h1M2654 6222h1M2734 6337h1M2839 6348h1M2729 6300h1M2666 6190h1M2689 6377h1M2684 6345h1M2638 6368h1M2559 6409h1M2621 6482h1M2798 6277h1M2768 6385h1M2713 6297h1M2710 6195h1M2808 6318h1M2779 6329h1M2663 6391h1M2683 6323h1M2729 6431h1M2631 6463h1M2708 6405h1M2709 6332h1M2699 6369h1M2701 6353h1M2706 6396h1M2693 6408h1M2688 6287h1M2685 6261h1M2661 6248h1M2698 6272h1M2645 6341h1M2674 6556h1M2663 6350h1M2696 6259h1M2685 6463h1M2614 6488h1M2768 6326h1M2572 6384h1M2659 6388h1M2690 6257h1M2667 6323h1M2737 6371h1M2704 6392h1M2782 6392h1M2552 6268h1M2701 6337h1M2731 6237h1M2691 6492h1M2546 6282h1M2744 6337h1M2727 6337h1M2580 6275h1M2718 6422h1M2545 6355h1M2720 6343h1M2677 6285h1M2666 6331h1M2669 6336h1M2626 6475h1M2629 6359h1M2720 6347h1M2538 6300h1M2718 6481h1M2683 6301h1M2772 6256h1M2713 6287h1M2832 6310h1M2811 6314h1M2655 6360h1M2729 6469h1M2621 6381h1M2714 6325h1M2703 6391h1M2654 6284h1M2759 6284h1M2640 6466h1M2702 6291h1M2743 6192h1M2653 6405h1M2623 6294h1M2669 6258h1M2619 6434h1M2780 6310h1M2708 6263h1M2737 6382h1M2652 6296h1M2603 6309h1M2711 6261h1M2622 6403h1M2689 6288h1M2608 6180h1M2590 6461h1M2730 6281h1M2658 6182h1M2646 6284h1M2749 6275h1M2510 6281h1M2751 6395h1M2670 6456h1M2571 6410h1M2570 6337h1M2621 6301h1M2694 6381h1M2555 6255h1M2728 6243h1M2662 6374h1M2685 6352h1M2628 6529h1M2647 6346h1M2715 6324h1M2715 6160h1M2598 6381h1M2603 6222h1M2632 6264h1M2795 6286h1M2632 6264h1M2765 6252h1M2667 6323h1M2801 6248h1M2737 6497h1M2698 6319h1M2669 6313h1M2737 6200h1M2768 6276h1M2635 6353h1M2703 6374h1M2573 6385h1M2587 6245h1M2633 6381h1M2779 6331h1M2701 6480h1M2647 6402h1M2809 6389h1M2602 6197h1M2631 6325h1M2648 6390h1M2655 6345h1M2676 6126h1M2642 6343h1M2717 6244h1M2663 6402h1M2668 6358h1M2622 6381h1M2624 6378h1M2714 6184h1M2657 6373h1M2674 6276h1M2634 6408h1M2546 6376h1M2638 6354h1M2471 6286h1M2678 6334h1M2744 6431h1M2594 6388h1M2568 6326h1M2599 6408h1M2686 6270h1M2658 6434h1M2659 6443h1M2533 6309h1M2678 6179h1M2647 6160h1M2673 6217h1M2710 6384h1M2724 6278h1M2672 6499h1M2586 6389h1M2716 6122h1M2702 6272h1M2676 6307h1M2750 6327h1M2581 6298h1M2671 6317h1M2728 6464h1M2624 6135h1M2676 6325h1M2660 6355h1M2698 6388h1M2608 6402h1M2806 6325h1M2566 6300h1M2675 6428h1M2620 6335h1M2742 6426h1M2559 6170h1M2585 6225h1M2697 6375h1M2575 6320h1M2611 6303h1M2627 6419h1M2692 6217h1M2709 6290h1M2531 6422h1M2676 6370h1M2790 6343h1M2766 6393h1M2708 6417h1M2570 6405h1M2738 6451h1M2615 6234h1M2683 6322h1M2703 6482h1M2659 6402h1M2731 6333h1M2678 6305h1M2650 6248h1M2623 6310h1M2645 6219h1M2615 6263h1M2584 6301h1M2744 6353h1M2776 6147h1M2676 6284h1M2578 6328h1M2627 6310h1M2664 6290h1M2591 6265h1M2661 6314h1M2692 6474h1M2573 6292h1M2548 6440h1M2724 6274h1M2693 6248h1M2725 6298h1M2630 6318h1M2635 6375h1M2804 6403h1M2727 6466h1M2750 6278h1M2740 6255h1M2619 6374h1M2684 6269h1M2508 6280h1M2763 6326h1M2511 6464h1M2703 6288h1M2639 6333h1M2745 6175h1M2718 6301h1M2676 6372h1M2665 6197h1M2685 6327h1M2697 6360h1M2688 6362h1M2732 6332h1M2764 6301h1M2611 6365h1M2777 6347h1M2585 6400h1M2727 6402h1M2608 6325h1M2815 6366h1M2697 6307h1M2735 6359h1M2825 6420h1M2760 6372h1M2795 6319h1M2577 6220h1M2628 6325h1M2691 6420h1M2648 6324h1M2640 6476h1M2640 6290h1M2598 6494h1M2787 6208h1M2762 6292h1M2681 6283h1M2768 6287h1M2600 6380h1M2917 6295h1M2647 6237h1M2773 6305h1M2634 6381h1M2710 6231h1M2753 6256h1M2772 6351h1M2629 6203h1M2665 6248h1M2658 6313h1M2804 6441h1M2660 6245h1M2614 6422h1M2546 6310h1M2495 6453h1M2549 6436h1M2716 6297h1M2585 6536h1M2635 6282h1M2618 6170h1M2586 6296h1M2608 6357h1M2706 6411h1M2642 6390h1M2725 6252h1M2680 6316h1M2560 6347h1M2643 6219h1M2739 6331h1M2795 6356h1M2571 6431h1M2708 6262h1M2759 6432h1M2847 6320h1M2655 6347h1M2746 6249h1M2600 6202h1M2757 6182h1M2731 6329h1M2559 6405h1M2626 6486h1M2653 6153h1M2698 6259h1M2682 6351h1M2699 6237h1M2707 6389h1M2592 6275h1M2576 6385h1M2699 6426h1M2588 6348h1M2634 6331h1M2663 6243h1M2798 6350h1M2685 6177h1M2784 6327h1M2734 6329h1M2603 6433h1M2802 6327h1M2642 6258h1M2764 6385h1M2701 6352h1M2636 6359h1M2546 6259h1M2712 6196h1M2665 6373h1M2850 6302h1M2633 6313h1M2676 6456h1M2634 6255h1M2623 6356h1M2771 6309h1M2768 6411h1M2587 6271h1M2633 6458h1M2647 6253h1M2609 6211h1M2742 6333h1M2676 6426h1M2643 6219h1M2688 6359h1M2702 6379h1M2655 6145h1M2661 6405h1M2717 6372h1M2720 6339h1M2622 6325h1M2721 6424h1M2540 6178h1M2657 6462h1M2754 6385h1M2835 6313h1M2726 6308h1M2707 6396h1M2859 6415h1M2791 6349h1M2692 6406h1M2670 6320h1M2517 6429h1M2737 6368h1M2618 6246h1M2701 6306h1M2573 6240h1M2617 6236h1M2748 6264h1M2724 6331h1M2895 6330h1M2743 6408h1M2814 6154h1M2710 6190h1M2667 6494h1M2658 6211h1M2681 6396h1M2728 6421h1M2848 6361h1M2685 6386h1M2602 6384h1M2684 6433h1M2547 6167h1M2709 6269h1M2484 6203h1M2508 6317h1M2708 6363h1M2721 6318h1M2618 6577h1M2668 6459h1M2707 6474h1M2714 6377h1M2594 6166h1M2668 6300h1M2532 6265h1M2586 6244h1M2618 6323h1M2670 6361h1M2731 6500h1M2657 6382h1M2646 6386h1M2681 6359h1M2656 6276h1M2640 6396h1M2759 6274h1M2691 6294h1M2736 6269h1M2560 6383h1M2603 6147h1M2638 6321h1M2615 6363h1M2671 6195h1M2659 6222h1M2714 6285h1M2794 6324h1M2631 6345h1M2685 6318h1M2713 6256h1M2776 6362h1M2590 6228h1M2685 6371h1M2658 6286h1M2720 6265h1M2773 6341h1M2619 6269h1M2647 6284h1M2704 6388h1M2716 6389h1M2538 6322h1M2893 6209h1M2646 6179h1M2641 6399h1M2679 6307h1M2717 6227h1M2673 6314h1M2759 6220h1M2678 6356h1M2669 6385h1M2637 6357h1M2700 6350h1M2790 6320h1M2686 6553h1M2758 6422h1M2675 6340h1M2789 6364h1M2656 6191h1M2509 6327h1M2623 6366h1M2657 6288h1M2665 6192h1M2716 6464h1M2645 6352h1M2591 6357h1M2712 6336h1M2650 6239h1M2783 6304h1M2689 6276h1M2711 6258h1M2660 6370h1M2632 6433h1M2743 6350h1M2662 6340h1M2590 6369h1M2713 6367h1M2663 6349h1M2651 6315h1M2730 6296h1M2573 6243h1M2712 6309h1M2684 6351h1M2675 6344h1M2674 6330h1M2623 6330h1M2621 6304h1M2687 6252h1M2678 6381h1M2747 6267h1M2619 6451h1M2741 6282h1M2807 6249h1M2568 6403h1M2775 6246h1M2704 6312h1M2665 6319h1M2673 6318h1M2747 6284h1M2551 6419h1M2746 6320h1M2703 6428h1M2747 6379h1M2515 6290h1M2482 6462h1M2711 6268h1M2569 6285h1M2704 6401h1M2655 6384h1M2578 6381h1M2547 6341h1M2744 6217h1M2670 6173h1M2573 6358h1M2709 6386h1M2577 6382h1M2707 6327h1M2580 6337h1M2670 6283h1M2730 6192h1M2601 6419h1M2702 6317h1M2588 6511h1M2734 6377h1M2611 6378h1M2671 6446h1M2593 6265h1M2743 6397h1M2912 6330h1M2636 6332h1M2647 6297h1M2642 6386h1M2598 6472h1M2570 6221h1M2739 6339h1M2549 6374h1M2781 6212h1M2608 6472h1M2613 6309h1M2626 6481h1M2597 6299h1M2663 6297h1M2639 6418h1M2561 6414h1M2672 6335h1M2635 6318h1M2765 6309h1M2758 6347h1M2559 6344h1M2677 6318h1M2696 6275h1M2629 6158h1M2623 6342h1M2679 6274h1M2666 6357h1M2574 6366h1M2667 6177h1M2660 6348h1M2710 6188h1M2642 6265h1M2558 6228h1M2656 6418h1M2696 6445h1M2579 6177h1M2670 6355h1M2698 6366h1M2621 6337h1M2567 6327h1M2709 6463h1M2823 6211h1M2808 6339h1M2629 6257h1M2615 6180h1M2577 6287h1M2681 6406h1M2580 6441h1M2572 6537h1M2563 6481h1M2596 6505h1M2626 6532h1M2494 6555h1M2469 6607h1M2646 6503h1M2534 6554h1M2636 6503h1M2532 6538h1M2561 6533h1M2715 6493h1M2511 6613h1M2629 6598h1M2626 6520h1M2598 6499h1M2579 6578h1M2638 6576h1M2547 6649h1M2647 6394h1M2504 6547h1M2652 6509h1M2511 6586h1M2553 6551h1M2593 6596h1M2577 6597h1M2590 6611h1M2572 6447h1M2675 6622h1M2528 6618h1M2645 6456h1M2656 6487h1M2608 6515h1M2611 6498h1M2553 6476h1M2509 6557h1M2627 6465h1M2561 6469h1M2639 6545h1M2546 6436h1M2569 6489h1M2574 6590h1M2686 6510h1M2512 6547h1M2532 6623h1M2533 6377h1M2499 6528h1M2632 6552h1M2638 6432h1M2608 6527h1M2577 6472h1M2549 6580h1M2544 6586h1M2519 6587h1M2520 6438h1M2551 6541h1M2494 6517h1M2610 6501h1M2510 6592h1M2627 6501h1M2629 6449h1M2639 6471h1M2636 6421h1M2653 6566h1M2535 6562h1M2535 6484h1M2599 6580h1M2531 6606h1M2596 6447h1M2566 6534h1M2580 6451h1M2614 6436h1M2463 6702h1M2510 6573h1M2458 6494h1M2576 6495h1M2506 6550h1M2578 6476h1M2588 6507h1M2572 6549h1M2668 6572h1M2460 6568h1M2545 6601h1M2574 6468h1M2563 6630h1M2605 6518h1M2581 6486h1M2523 6567h1M2464 6573h1M2677 6495h1M2670 6453h1M2640 6356h1M2673 6533h1M2578 6431h1M2500 6580h1M2570 6571h1M2631 6503h1M2541 6559h1M2616 6525h1M2620 6411h1M2597 6561h1M2572 6528h1M2545 6526h1M2593 6480h1M2577 6449h1M2600 6490h1M2490 6537h1M2563 6605h1M2596 6423h1M2686 6371h1M2718 6505h1M2604 6293h1M2597 6586h1M2592 6479h1M2518 6649h1M2652 6454h1M2635 6511h1M2509 6543h1M2597 6633h1M2590 6586h1M2605 6496h1M2582 6546h1M2671 6616h1M2557 6584h1M2596 6509h1M2579 6509h1M2639 6568h1M2502 6606h1M2686 6471h1M2526 6591h1M2584 6507h1M2673 6559h1M2614 6566h1M2602 6572h1M2712 6508h1M2483 6562h1M2676 6467h1M2496 6622h1M2572 6583h1M2655 6532h1M2623 6397h1M2711 6320h1M2551 6670h1M2556 6587h1M2584 6467h1M2681 6478h1M2566 6485h1M2681 6388h1M2559 6451h1M2488 6514h1M2565 6641h1M2513 6544h1M2595 6472h1M2641 6521h1M2401 6680h1M2621 6555h1M2572 6515h1M2572 6547h1M2672 6590h1M2500 6634h1M2592 6486h1M2466 6649h1M2582 6601h1M2691 6397h1M2512 6559h1M2499 6575h1M2578 6471h1M2561 6449h1M2722 6394h1M2567 6573h1M2611 6490h1M2501 6595h1M2581 6470h1M2559 6465h1M2544 6543h1M2636 6427h1M2641 6516h1M2620 6454h1M2632 6533h1M2631 6530h1M2600 6535h1M2583 6479h1M2574 6404h1M2572 6618h1M2631 6531h1M2521 6453h1M2437 6498h1M2548 6557h1M2656 6328h1M2544 6481h1M2539 6511h1M2613 6516h1M2611 6422h1M2486 6670h1M2543 6612h1M2516 6493h1M2625 6471h1M2599 6502h1M2586 6547h1M2523 6536h1M2561 6576h1M2612 6478h1M2512 6608h1M2475 6655h1M2515 6602h1M2575 6506h1M2643 6422h1M2582 6607h1M2523 6513h1M2537 6611h1M2591 6517h1M2613 6558h1M2637 6479h1M2564 6589h1M2550 6559h1M2630 6508h1M2551 6567h1M2629 6622h1M2590 6419h1M2506 6508h1M2660 6481h1M2571 6641h1M2555 6460h1M2620 6476h1M2627 6676h1M2520 6494h1M2550 6686h1M2622 6386h1M2488 6480h1M2533 6560h1M2550 6589h1M2683 6435h1M2658 6535h1M2621 6443h1M2617 6503h1M2621 6554h1M2576 6480h1M2575 6529h1M2622 6512h1M2480 6611h1M2648 6556h1M2603 6475h1M2598 6552h1M2614 6504h1M2630 6507h1M2496 6566h1M2509 6507h1M2678 6486h1M2419 6695h1M2592 6464h1M2640 6436h1M2549 6462h1M2590 6350h1M2676 6534h1M2616 6456h1M2614 6421h1M2587 6524h1M2549 6671h1M2585 6530h1M2693 6485h1M2550 6559h1M2504 6562h1M2464 6537h1M2685 6419h1M2547 6531h1M2532 6570h1M2557 6562h1M2546 6462h1M2590 6560h1M2588 6468h1M2506 6499h1M2547 6514h1M2653 6539h1M2664 6416h1M2515 6548h1M2506 6622h1M2678 6425h1M2665 6438h1M2598 6560h1M2578 6436h1M2611 6521h1M2588 6450h1M2491 6594h1M2544 6464h1M2592 6337h1M2581 6550h1M2587 6610h1M2594 6494h1M2478 6521h1M2612 6417h1M2535 6592h1M2401 6620h1M2612 6453h1M2606 6478h1M2552 6366h1M2574 6583h1M2554 6558h1M2521 6505h1M2655 6415h1M2547 6557h1M2576 6503h1M2625 6494h1M2583 6554h1M2557 6416h1M2620 6437h1M2564 6692h1M2655 6391h1M2621 6533h1M2628 6516h1M2580 6373h1M2537 6503h1M2622 6423h1M2639 6428h1M2604 6581h1M2656 6434h1M2624 6410h1M2543 6517h1M2691 6525h1M2631 6485h1M2504 6661h1M2519 6560h1M2621 6536h1M2550 6569h1M2690 6510h1M2578 6617h1M2569 6521h1M2530 6557h1M2610 6463h1M2626 6473h1M2636 6563h1M2628 6503h1M2656 6431h1M2593 6528h1M2641 6471h1M2610 6416h1M2563 6588h1M2540 6590h1M2505 6601h1M2571 6465h1M2542 6484h1M2719 6435h1M2525 6506h1M2602 6454h1M2565 6490h1M2510 6556h1M2601 6552h1M2650 6413h1M2412 6586h1M2554 6363h1M2671 6604h1M2687 6585h1M2485 6500h1M2632 6502h1M2609 6508h1M2555 6489h1M2549 6515h1M2487 6748h1M2561 6485h1M2569 6502h1M2686 6537h1M2664 6452h1M2560 6500h1M2570 6446h1M2639 6500h1M2611 6444h1M2652 6418h1M2687 6459h1M2581 6467h1M2561 6565h1M2663 6401h1M2684 6491h1M2706 6447h1M2531 6562h1M2558 6583h1M2461 6564h1M2572 6453h1M2543 6515h1M2652 6397h1M2538 6532h1M2612 6476h1M2614 6447h1M2520 6463h1M2532 6413h1M2524 6433h1M2608 6528h1M2656 6500h1M2552 6574h1M2601 6413h1M2592 6462h1M2628 6419h1M2442 6571h1M2631 6523h1M2534 6505h1M2583 6518h1M2525 6618h1M2521 6535h1M2607 6547h1M2602 6471h1M2591 6566h1M2565 6625h1M2527 6487h1M2573 6555h1M2500 6492h1M2628 6527h1M2629 6480h1M2557 6575h1M2590 6462h1M2705 6486h1M2599 6534h1M2684 6508h1M2610 6581h1M2558 6541h1M2574 6518h1M2472 6540h1M2484 6499h1M2525 6562h1M2574 6529h1M2534 6471h1M2625 6441h1M2534 6502h1M2585 6544h1M2713 6513h1M2603 6448h1M2592 6583h1M2531 6550h1M2547 6533h1M2569 6483h1M2580 6484h1M2481 6616h1M2595 6521h1M2525 6506h1M2617 6449h1M2602 6577h1M2520 6608h1M2560 6423h1M2625 6405h1M2630 6369h1M2545 6518h1M2615 6522h1M2483 6465h1M2497 6573h1M2548 6398h1M2752 6390h1M2687 6498h1M2559 6566h1M2558 6424h1M2529 6458h1M2584 6419h1M2509 6529h1M2519 6569h1M2560 6582h1M2586 6467h1M2489 6642h1M2456 6631h1M2522 6525h1M2616 6515h1M2624 6493h1M2491 6485h1M2585 6600h1M2601 6450h1M2618 6538h1M2498 6610h1M2555 6491h1M2580 6591h1M2511 6589h1M2571 6497h1M2654 6485h1M2430 6574h1M2565 6535h1M2517 6442h1M2713 6445h1M2597 6618h1M2608 6506h1M2527 6503h1M2639 6396h1M2617 6434h1M2654 6475h1M2559 6544h1M2633 6376h1M2554 6466h1M2545 6573h1M2526 6628h1M2582 6499h1M2484 6493h1M2569 6434h1M2607 6461h1M2660 6483h1M2650 6399h1M2560 6567h1M2581 6558h1M2679 6711h1M2467 6531h1M2593 6586h1M2505 6609h1M2660 6408h1M2527 6565h1M2648 6520h1M2581 6557h1M2565 6600h1M2580 6395h1M2600 6552h1M2654 6532h1M2664 6512h1M2530 6514h1M2604 6436h1M2639 6622h1M2634 6510h1M2567 6552h1M2657 6509h1M2542 6528h1M2580 6491h1M2501 6474h1M2654 6473h1M2527 6549h1M2499 6403h1M2522 6537h1M2559 6521h1M2524 6472h1M2472 6519h1M2611 6474h1M2465 6590h1M2529 6410h1M2616 6472h1M2717 6345h1M2518 6518h1M2520 6546h1M2567 6463h1M2576 6500h1M2599 6504h1M2556 6556h1M2605 6460h1M2704 6488h1M2588 6443h1M2497 6445h1M2602 6523h1M2685 6459h1M2616 6323h1M2607 6401h1M2563 6484h1M2655 6480h1M2621 6553h1M2614 6383h1M2494 6535h1M2534 6610h1M2626 6366h1M2540 6489h1M2660 6373h1M2616 6518h1M2535 6607h1M2649 6503h1M2663 6572h1M2701 6522h1M2552 6522h1M2552 6490h1M2596 6537h1M2535 6584h1M2552 6390h1M2578 6487h1M2593 6393h1M2511 6473h1M2668 6477h1M2588 6413h1M2612 6587h1M2547 6503h1M2683 6445h1M2453 6603h1M2638 6518h1M2585 6559h1M2515 6516h1M2641 6457h1M2639 6448h1M2570 6422h1M2592 6424h1M2533 6610h1M2570 6465h1M2489 6565h1M2624 6452h1M2592 6444h1M2575 6472h1M2602 6440h1M2451 6613h1M2544 6421h1M2632 6433h1M2334 6702h1M2563 6465h1M2632 6468h1M2613 6464h1M2509 6516h1M2506 6522h1M2512 6428h1M2570 6534h1M2502 6643h1M2626 6552h1M2650 6494h1M2648 6472h1M2552 6488h1M2615 6514h1M2517 6538h1M2630 6483h1M2404 6745h1M2501 6602h1M2485 6661h1M2394 6707h1M2531 6624h1M2336 6761h1M2388 6637h1M2323 6774h1M2466 6606h1M2424 6623h1M2360 6685h1M2372 6704h1M2559 6659h1M2460 6724h1M2306 6695h1M2330 6829h1M2509 6606h1M2482 6547h1M2522 6646h1M2538 6715h1M2457 6711h1M2370 6678h1M2319 6717h1M2438 6623h1M2324 6619h1M2412 6605h1M2485 6757h1M2486 6751h1M2485 6634h1M2492 6747h1M2573 6466h1M2583 6670h1M2395 6711h1M2461 6721h1M2489 6577h1M2505 6458h1M2315 6788h1M2500 6788h1M2319 6839h1M2468 6699h1M2399 6706h1M2378 6623h1M2503 6638h1M2358 6802h1M2425 6787h1M2492 6733h1M2426 6777h1M2386 6736h1M2302 6764h1M2272 6824h1M2428 6722h1M2520 6565h1M2560 6600h1M2560 6476h1M2534 6669h1M2462 6767h1M2299 6803h1M2465 6691h1M2326 6686h1M2408 6746h1M2308 6776h1M2319 6766h1M2429 6592h1M2329 6686h1M2447 6757h1M2518 6734h1M2527 6636h1M2314 6751h1M2518 6530h1M2432 6720h1M2320 6652h1M2447 6669h1M2238 6771h1M2382 6731h1M2469 6738h1M2404 6741h1M2331 6712h1M2408 6623h1M2412 6684h1M2301 6653h1M2360 6725h1M2374 6682h1M2343 6719h1M2507 6615h1M2498 6687h1M2329 6763h1M2385 6724h1M2342 6789h1M2436 6642h1M2456 6664h1M2361 6662h1M2381 6655h1M2456 6676h1M2367 6625h1M2505 6595h1M2461 6748h1M2525 6664h1M2559 6571h1M2302 6754h1M2373 6767h1M2273 6743h1M2293 6648h1M2436 6727h1M2430 6657h1M2321 6838h1M2358 6647h1M2447 6777h1M2454 6582h1M2351 6776h1M2427 6661h1M2499 6579h1M2466 6676h1M2465 6694h1M2254 6712h1M2317 6739h1M2276 6793h1M2461 6529h1M2442 6705h1M2405 6627h1M2445 6665h1M2577 6635h1M2412 6736h1M2440 6647h1M2370 6791h1M2544 6624h1M2358 6692h1M2317 6772h1M2389 6745h1M2312 6743h1M2352 6666h1M2368 6721h1M2375 6678h1M2386 6724h1M2295 6719h1M2438 6585h1M2296 6780h1M2310 6718h1M2362 6740h1M2389 6600h1M2377 6641h1M2367 6740h1M2324 6684h1M2470 6606h1M2511 6598h1M2393 6688h1M2367 6765h1M2406 6648h1M2528 6574h1M2362 6730h1M2361 6592h1M2420 6850h1M2415 6710h1M2415 6587h1M2457 6696h1M2393 6795h1M2335 6667h1M2318 6658h1M2457 6668h1M2317 6761h1M2410 6714h1M2516 6646h1M2470 6587h1M2408 6642h1M2494 6600h1M2479 6693h1M2448 6637h1M2558 6581h1M2370 6768h1M2457 6626h1M2277 6819h1M2405 6792h1M2384 6661h1M2428 6702h1M2519 6604h1M2462 6719h1M2555 6598h1M2412 6794h1M2416 6695h1M2400 6759h1M2273 6860h1M2339 6682h1M2443 6709h1M2334 6705h1M2389 6775h1M2362 6744h1M2399 6821h1M2369 6728h1M2281 6782h1M2532 6794h1M2262 6816h1M2380 6713h1M2460 6692h1M2392 6728h1M2285 6782h1M2378 6705h1M2364 6859h1M2408 6647h1M2549 6611h1M2427 6671h1M2332 6765h1M2458 6670h1M2456 6565h1M2310 6748h1M2446 6627h1M2318 6665h1M2452 6685h1M2460 6654h1M2309 6730h1M2315 6795h1M2608 6561h1M2507 6564h1M2488 6570h1M2487 6711h1M2409 6654h1M2474 6675h1M2388 6718h1M2399 6694h1M2396 6610h1M2438 6646h1M2358 6670h1M2387 6736h1M2508 6574h1M2411 6736h1M2312 6699h1M2416 6686h1M2395 6748h1M2249 6783h1M2289 6759h1M2204 6866h1M2274 6804h1M2471 6609h1M2376 6704h1M2369 6761h1M2483 6594h1M2311 6820h1M2420 6580h1M2320 6778h1M2368 6739h1M2433 6794h1M2469 6661h1M2354 6758h1M2443 6786h1M2358 6792h1M2493 6665h1M2421 6692h1M2277 6772h1M2401 6829h1M2353 6721h1M2342 6686h1M2350 6681h1M2425 6687h1M2453 6762h1M2457 6605h1M2336 6761h1M2403 6657h1M2471 6583h1M2459 6659h1M2500 6703h1M2411 6744h1M2383 6825h1M2275 6808h1M2368 6765h1M2422 6829h1M2572 6680h1M2308 6765h1M2492 6718h1M2482 6752h1M2505 6533h1M2346 6781h1M2531 6631h1M2310 6803h1M2403 6610h1M2513 6604h1M2322 6696h1M2409 6655h1M2483 6634h1M2323 6730h1M2373 6812h1M2349 6855h1M2429 6729h1M2296 6738h1M2555 6605h1M2420 6712h1M2520 6654h1M2411 6697h1M2582 6569h1M2482 6584h1M2419 6747h1M2414 6700h1M2231 6819h1M2463 6713h1M2377 6813h1M2505 6681h1M2528 6709h1M2319 6723h1M2476 6630h1M2296 6754h1M2362 6783h1M2270 6837h1M2328 6714h1M2345 6742h1M2400 6615h1M2474 6648h1M2455 6796h1M2524 6674h1M2532 6647h1M2259 6867h1M2411 6760h1M2432 6761h1M2553 6599h1M2512 6701h1M2430 6682h1M2368 6753h1M2425 6648h1M2453 6561h1M2406 6717h1M2276 6716h1M2497 6652h1M2320 6833h1M2405 6745h1M2509 6670h1M2301 6727h1M2468 6786h1M2301 6786h1M2514 6572h1M2399 6700h1M2453 6668h1M2347 6721h1M2501 6521h1M2521 6614h1M2412 6690h1M2406 6625h1M2361 6892h1M2396 6652h1M2531 6642h1M2387 6750h1M2355 6688h1M2358 6704h1M2440 6667h1M2438 6701h1M2312 6843h1M2458 6648h1M2354 6707h1M2369 6669h1M2369 6722h1M2360 6739h1M2384 6651h1M2337 6805h1M2313 6803h1M2385 6709h1M2499 6630h1M2353 6701h1M2398 6729h1M2404 6727h1M2326 6612h1M2402 6759h1M2485 6568h1M2419 6669h1M2440 6724h1M2422 6661h1M2502 6690h1M2531 6661h1M2388 6699h1M2495 6767h1M2497 6747h1M2394 6768h1M2391 6770h1M2392 6705h1M2506 6743h1M2395 6694h1M2261 6894h1M2333 6793h1M2459 6731h1M2415 6770h1M2314 6610h1M2364 6729h1M2488 6633h1M2378 6608h1M2420 6606h1M2490 6628h1M2336 6724h1M2568 6593h1M2400 6751h1M2375 6691h1M2293 6847h1M2438 6699h1M2389 6809h1M2374 6759h1M2479 6658h1M2566 6546h1M2339 6711h1M2335 6805h1M2414 6798h1M2408 6652h1M2343 6830h1M2355 6790h1M2479 6576h1M2408 6543h1M2561 6687h1M2285 6725h1M2341 6745h1M2338 6785h1M2451 6793h1M2437 6771h1M2406 6636h1M2529 6726h1M2375 6589h1M2457 6633h1M2484 6639h1M2468 6805h1M2391 6725h1M2327 6717h1M2544 6539h1M2387 6696h1M2341 6755h1M2337 6745h1M2354 6698h1M2340 6633h1M2430 6738h1M2422 6705h1M2497 6553h1M2382 6769h1M2480 6757h1M2504 6603h1M2340 6819h1M2296 6733h1M2441 6575h1M2292 6737h1M2389 6619h1M2305 6721h1M2471 6654h1M2579 6612h1M2341 6728h1M2267 6691h1M2395 6679h1M2283 6723h1M2290 6755h1M2337 6742h1M2433 6762h1M2518 6582h1M2425 6600h1M2493 6627h1M2480 6636h1M2427 6756h1M2382 6830h1M2487 6678h1M2400 6814h1M2470 6569h1M2335 6670h1M2409 6803h1M2419 6640h1M2423 6665h1M2468 6681h1M2374 6734h1M2373 6614h1M2317 6805h1M2424 6648h1M2326 6828h1M2436 6685h1M2521 6759h1M2493 6630h1M2427 6648h1M2408 6833h1M2400 6729h1M2546 6719h1M2448 6620h1M2385 6750h1M2433 6653h1M2579 6662h1M2357 6746h1M2443 6658h1M2496 6710h1M2374 6677h1M2377 6617h1M2531 6608h1M2474 6696h1M2411 6668h1M2331 6631h1M2401 6735h1M2367 6821h1M2341 6774h1M2347 6843h1M2400 6722h1M2390 6813h1M2339 6860h1M2430 6558h1M2382 6700h1M2504 6656h1M2529 6625h1M2464 6536h1M2428 6723h1M2212 6835h1M2431 6652h1M2374 6670h1M2287 6788h1M2526 6661h1M2488 6623h1M2515 6618h1M2483 6563h1M2514 6629h1M2509 6721h1M2452 6682h1M2418 6559h1M2507 6714h1M2433 6695h1M2432 6625h1M2322 6675h1M2348 6744h1M2499 6501h1M2588 6552h1M2491 6595h1M2372 6763h1M2450 6785h1M2477 6617h1M2528 6738h1M2342 6642h1M2462 6492h1M2379 6648h1M2448 6725h1M2429 6706h1M2354 6724h1M2442 6585h1M2307 6825h1M2435 6708h1M2459 6636h1M2480 6532h1M2480 6667h1M2278 6723h1M2470 6633h1M2491 6659h1M2431 6696h1M2398 6758h1M2319 6774h1M2403 6730h1M2461 6710h1M2604 6489h1M2476 6681h1M2431 6687h1M2261 6782h1M2299 6748h1M2372 6737h1M2403 6702h1M2408 6707h1M2604 6733h1M2544 6606h1M2518 6618h1M2340 6715h1M2339 6683h1M2373 6771h1M2340 6831h1M2370 6838h1M2429 6653h1M2336 6733h1M2483 6674h1M2358 6678h1M2344 6696h1M2425 6698h1M2434 6702h1M2635 6508h1M2363 6741h1M2516 6753h1M2382 6857h1M2396 6733h1M2510 6583h1M2421 6617h1M2633 6646h1M2245 6767h1M2421 6825h1M2410 6671h1M2333 6765h1M2417 6795h1M2309 6784h1M2473 6658h1M2395 6734h1M2403 6697h1M2368 6835h1M2427 6767h1M2599 6640h1M2449 6625h1M2399 6680h1M2390 6795h1M2435 6758h1M2421 6693h1M2586 6593h1M2418 6671h1M2375 6690h1M2447 6756h1M2336 6771h1M2452 6701h1M2311 6742h1M2430 6818h1M2345 6689h1M2578 6552h1M2536 6572h1M2419 6731h1M2548 6711h1M2421 6676h1M2426 6617h1M2381 6672h1M2473 6646h1M2586 6623h1M2467 6754h1M2481 6577h1M2422 6700h1M2470 6626h1M2357 6788h1M2488 6681h1M2345 6740h1M2412 6794h1M2393 6656h1M2568 6522h1M2416 6644h1M2483 6591h1M2415 6607h1M2401 6719h1M2306 6756h1M2329 6750h1M2274 6809h1M2447 6666h1M2459 6747h1M2390 6649h1M2391 6601h1M2544 6539h1M2355 6680h1M2449 6685h1M2505 6707h1M2402 6572h1M2400 6710h1M2544 6633h1M2357 6720h1M2455 6724h1M2261 6793h1M2404 6656h1M2412 6713h1M2370 6703h1M2411 6792h1M2424 6629h1M2477 6640h1M2630 6544h1M2367 6729h1M2470 6658h1M2451 6643h1M2484 6568h1M2365 6717h1M2432 6704h1M2433 6716h1M2483 6746h1M2518 6584h1M2252 6812h1M2435 6572h1M2449 6638h1M2245 6858h1M2377 6736h1M2364 6616h1M2618 6594h1M2520 6730h1M2436 6805h1M2500 6678h1M2411 6564h1M2446 6611h1M2633 6378h1M2415 6610h1M2303 6815h1M2454 6484h1M2404 6819h1M2615 6489h1M2505 6636h1M2464 6743h1M2453 6695h1M2434 6637h1M2520 6527h1M2433 6522h1M2513 6719h1M2355 6804h1M2410 6618h1M2514 6594h1M2402 6609h1M2495 6792h1M2289 6756h1M2631 6486h1M2433 6667h1M2394 6626h1M2449 6688h1M2464 6799h1M2391 6774h1M2731 6504h1M2223 6659h1M2491 6827h1M2270 6790h1M2479 6778h1M2435 6613h1M2434 6759h1M2683 6611h1M2557 6610h1M2330 6689h1M2250 6679h1M2515 6389h1M2272 6589h1M2401 6680h1M2525 6516h1M2516 6555h1M2434 6671h1M2492 6686h1M2448 6680h1M2431 6656h1M2441 6778h1M2558 6620h1M2502 6707h1M2449 6623h1M2402 6700h1M2310 6761h1M2520 6558h1M2424 6608h1M2444 6809h1M2473 6686h1M2255 6849h1M2317 6577h1M2619 6662h1M2480 6638h1M2496 6806h1M2347 6621h1M2419 6734h1M2407 6693h1M2408 6681h1M2286 6810h1M2298 6727h1M2373 6619h1M2377 6609h1M2587 6674h1M2540 6710h1M2440 6657h1M2303 6787h1M2465 6567h1M2333 6889h1M2387 6737h1M2476 6697h1M2322 6738h1M2559 6602h1M2437 6459h1M2318 6769h1M2347 6791h1M2445 6637h1M2349 6601h1M2664 6494h1M2569 6668h1M2636 6429h1M2279 6795h1M2337 6805h1M2312 6727h1M2247 6749h1M2302 6788h1M2458 6369h1M2496 6660h1M2536 6594h1M2584 6697h1M2340 6582h1M2317 6680h1M2476 6534h1M2645 6559h1M2149 6723h1M2425 6411h1M2491 6617h1M2451 6855h1M2282 6767h1M2487 6732h1M2415 6722h1M2412 6544h1M2441 6707h1M2267 6754h1M2412 6638h1M2337 6680h1M2496 6526h1M2535 6561h1M2482 6647h1M2541 6577h1M2529 6772h1M2364 6640h1M2681 6509h1M2289 6880h1M2606 6653h1M2640 6486h1M2612 6593h1M2345 6716h1M2579 6607h1M2417 6632h1M2496 6633h1M2372 6707h1M2468 6778h1M2543 6546h1M2439 6823h1M2320 6784h1M2443 6868h1M2306 6806h1M2484 6626h1M2544 6481h1M2604 6489h1M2198 6838h1M2333 6707h1M2548 6657h1M2513 6646h1M2571 6828h1M2509 6515h1M2441 6499h1M2483 6780h1M2258 6864h1M2417 6697h1M2556 6652h1M2532 6656h1M2469 6533h1M2514 6642h1M2211 6860h1M2353 6831h1M2637 6559h1M2460 6510h1M2602 6629h1M2545 6561h1M2402 6675h1M2542 6575h1M2215 6600h1M2543 6650h1M2427 6665h1M2365 6867h1M2252 6842h1M2544 6687h1M2525 6727h1M2387 6657h1M2456 6716h1M2379 6602h1M2770 6671h1M2399 6707h1M2397 6829h1M2437 6714h1M2300 6729h1M2504 6584h1M2444 6625h1M2508 6695h1M2561 6623h1M2296 6771h1M2410 6811h1M2414 6716h1M2304 6759h1M2428 6648h1M2369 6835h1M2326 6792h1M2364 6807h1M2584 6616h1M2503 6542h1M2545 6563h1M2452 6578h1M2379 6524h1M2405 6705h1M2329 6616h1M2435 6659h1M2550 6598h1M2195 6822h1M2535 6568h1M2553 6596h1M2384 6625h1M2636 6522h1M2495 6591h1M2416 6607h1M2492 6694h1M2528 6602h1M2377 6787h1M2670 6611h1M2260 6883h1M2437 6809h1M2534 6765h1M2372 6742h1M2295 6882h1M2543 6580h1M2470 6546h1M2343 6620h1M2424 6606h1M2479 6611h1M2271 6778h1M2460 6837h1M2157 6894h1M2202 6866h1M2442 6642h1M2674 6505h1M2429 6617h1M2303 6674h1M2586 6663h1M2474 6613h1M2609 6624h1M2683 6644h1M2519 6608h1M2443 6645h1M2272 6829h1M2396 6731h1M2376 6697h1M2349 6680h1M2547 6696h1M2527 6739h1M2373 6744h1M2459 6548h1M2384 6596h1M2407 6788h1M2511 6675h1M2316 6630h1M2442 6563h1M2562 6525h1M2290 6833h1M2449 6652h1M2450 6744h1M2318 6480h1M2593 6570h1M2688 6529h1M2446 6681h1M2310 6691h1M2644 6493h1M2621 6673h1M2421 6585h1M2569 6569h1M2287 6724h1M2558 6626h1M2474 6603h1M2378 6580h1M2298 6734h1M2423 6556h1M2698 6434h1M2263 6788h1M2583 6508h1M2509 6666h1M2447 6541h1M2383 6692h1M2753 6519h1M2521 6722h1M2331 6663h1M2367 6701h1M2579 6598h1M2518 6506h1M2282 6875h1M2318 6821h1M2357 6697h1M2143 6880h1M2246 6643h1M2279 6658h1M2494 6579h1M2593 6584h1M2390 6668h1M2523 6570h1M2061 6841h1M2320 6682h1M2392 6779h1M2532 6678h1M2362 6631h1M2495 6459h1M2394 6701h1M2487 6749h1M2312 6844h1M2566 6537h1M2346 6832h1M2680 6575h1M2509 6729h1M2572 6415h1M2603 6651h1M2269 6779h1M2474 6775h1M2468 6845h1M2421 6814h1M2409 6633h1M2369 6576h1M2414 6777h1M2475 6863h1M2396 6493h1M2377 6651h1M2332 6626h1M2714 6534h1M2409 6614h1M2453 6772h1M2399 6558h1M2537 6606h1M2561 6631h1M2512 6722h1M2253 6751h1M2506 6704h1M2690 6539h1M2455 6689h1M2455 6687h1M2379 6835h1M2285 6649h1M2345 6641h1M2280 6715h1M2607 6729h1M2478 6832h1M2320 6804h1M2419 6698h1M2102 6891h1M2609 6522h1M2402 6463h1M2462 6663h1M2256 6683h1M2378 6808h1M2458 6797h1M2590 6499h1M2458 6602h1M2517 6577h1M2518 6528h1M2287 6743h1M2254 6834h1M2425 6720h1M2238 6735h1M2500 6662h1M2430 6691h1M2454 6675h1M2487 6807h1M2333 6770h1M2535 6674h1M2359 6784h1M2474 6673h1M2271 6809h1M2258 6692h1M2317 6685h1M2522 6555h1M2531 6439h1M2534 6729h1M2493 6522h1M2368 6562h1M2656 6567h1M2241 6784h1M2467 6743h1M2509 6645h1M2550 6550h1M2373 6729h1M2352 6776h1M2505 6771h1M2383 6785h1M2263 6765h1M2288 6824h1M2347 6731h1M2614 6716h1M2520 6676h1M2370 6562h1M2392 6546h1M2381 6728h1M2635 6629h1M2329 6805h1M2299 6677h1M2428 6681h1M2192 6826h1M2512 6748h1M2584 6491h1M2401 6644h1M2544 6623h1M2401 6785h1M2344 6617h1M2351 6777h1M2383 6757h1M2544 6561h1M2615 6635h1M2485 6674h1M2379 6552h1M2472 6674h1M2436 6570h1M2502 6571h1M2558 6557h1M2368 6656h1M2381 6637h1M2491 6528h1M2488 6678h1M2508 6595h1M2434 6587h1M2535 6624h1M2261 6609h1M2498 6789h1M2467 6758h1M2482 6744h1M2521 6528h1M2468 6690h1M2450 6556h1M2509 6638h1M2553 6622h1M2698 6477h1M2417 6669h1M2264 6680h1M2376 6766h1M2408 6664h1M2572 6607h1M2388 6758h1M2427 6617h1M2368 6653h1M2354 6845h1M2326 6851h1M2231 6714h1M2475 6788h1M2450 6604h1M2432 6768h1M2564 6470h1M2936 6439h1M2900 6437h1M2917 6462h1M2782 6614h1M2936 6340h1M2851 6519h1M2893 6437h1M2880 6456h1M2868 6476h1M2857 6544h1M2875 6470h1M2873 6481h1M2918 6366h1M2902 6415h1M2876 6488h1M2827 6498h1M2959 6406h1M2882 6412h1M2883 6493h1M2926 6453h1M2844 6473h1M2854 6603h1M2877 6479h1M2814 6566h1M2921 6395h1M2911 6469h1M2845 6505h1M2915 6365h1M2859 6442h1M2788 6576h1M2920 6348h1M2968 6290h1M2872 6513h1M2831 6525h1M2793 6605h1M2908 6406h1M2957 6322h1M2874 6501h1M2781 6571h1M2946 6320h1M2843 6477h1M2905 6362h1M2878 6428h1M2883 6571h1M2788 6593h1M2870 6447h1M2832 6520h1M2865 6463h1M2874 6402h1M2873 6449h1M2909 6408h1M2885 6435h1M2783 6633h1M2843 6470h1M2939 6361h1M2781 6625h1M2920 6347h1M2924 6443h1M2918 6339h1M2941 6383h1M2891 6471h1M2882 6499h1M2888 6465h1M2858 6584h1M2789 6591h1M2947 6431h1M2775 6621h1M2838 6480h1M2887 6433h1M2890 6356h1M2880 6461h1M2878 6437h1M2839 6526h1M2927 6346h1M2953 6408h1M2920 6366h1M2878 6505h1M2871 6440h1M2775 6604h1M2868 6481h1M2950 6338h1M2918 6378h1M2872 6452h1M2902 6488h1M2770 6615h1M2835 6540h1M2963 6317h1M2787 6602h1M2807 6534h1M2842 6572h1M2827 6528h1M2927 6594h1M2865 6486h1M2817 6595h1M2920 6431h1M2818 6518h1M2884 6551h1M2827 6588h1M2891 6384h1M2901 6370h1M2941 6368h1M2860 6505h1M2919 6486h1M2910 6435h1M2852 6514h1M2849 6467h1M2932 6328h1M2945 6440h1M2785 6622h1M2892 6540h1M2812 6569h1M2887 6496h1M2860 6549h1M2926 6384h1M2945 6350h1M2819 6549h1M2929 6341h1M2785 6630h1M2898 6463h1M2904 6407h1M2895 6591h1M2942 6341h1M2889 6486h1M2798 6625h1M2850 6474h1M2767 6595h1M2926 6370h1M2870 6483h1M2859 6415h1M2871 6528h1M2924 6375h1M2923 6445h1M2819 6569h1M2866 6477h1M2946 6378h1M2801 6591h1M2861 6477h1M2866 6485h1M2845 6492h1M2885 6460h1M2811 6583h1M2891 6391h1M2836 6547h1M2807 6563h1M2956 6312h1M2851 6481h1M2868 6505h1M2868 6542h1M2834 6495h1M2857 6540h1M2897 6547h1M2918 6389h1M2898 6438h1M2905 6376h1M2819 6612h1M2810 6597h1M2866 6480h1M2909 6441h1M2889 6412h1M2945 6360h1M2916 6415h1M2786 6594h1M2935 6442h1M2801 6579h1M2867 6505h1M2900 6461h1M2856 6478h1M2886 6586h1M2882 6518h1M2856 6596h1M2814 6587h1M2883 6578h1M2794 6611h1M2904 6375h1M2831 6535h1M2948 6323h1M2852 6503h1M2941 6560h1M2902 6437h1M2820 6549h1M2896 6594h1M2856 6511h1M2898 6387h1M2837 6486h1M2922 6437h1M2834 6530h1M2821 6566h1M2952 6289h1M2903 6478h1M2896 6410h1M2868 6414h1M2890 6376h1M2872 6468h1M2931 6353h1M2805 6607h1M2920 6391h1M2901 6395h1M2867 6434h1M2930 6419h1M2785 6609h1M2764 6628h1M2888 6464h1M2820 6508h1M2836 6528h1M2890 6421h1M2926 6402h1M2966 6306h1M2878 6456h1M2788 6604h1M2844 6560h1M2800 6637h1M2835 6543h1M2854 6480h1M2903 6586h1M2872 6392h1M2838 6577h1M2911 6575h1M2862 6492h1M2811 6552h1M2927 6522h1M2913 6527h1M2948 6320h1M2915 6434h1M2844 6537h1M2867 6458h1M2898 6474h1M2806 6546h1M2927 6349h1M2908 6449h1M2902 6445h1M2875 6402h1M2867 6408h1M2933 6341h1M2851 6456h1M2934 6354h1M2794 6562h1M2794 6614h1M2836 6515h1M2887 6551h1M2906 6404h1M2870 6597h1M2903 6633h1M2909 6371h1M2865 6501h1M2825 6580h1M2928 6509h1M2903 6405h1M2940 6387h1M2800 6551h1M2810 6584h1M2919 6427h1M2866 6488h1M2825 6527h1M2937 6369h1M2843 6524h1M2851 6503h1M2825 6523h1M2891 6529h1M2843 6594h1M2793 6561h1M2864 6528h1M2849 6591h1M2962 6275h1M2872 6537h1M2866 6495h1M2901 6462h1M2914 6399h1M2873 6500h1M2758 6648h1M2884 6509h1M2815 6589h1M2817 6553h1M2904 6455h1M2965 6315h1M2840 6563h1M2939 6335h1M2830 6516h1M2874 6566h1M2850 6537h1M2863 6456h1M2915 6360h1M2861 6603h1M2924 6347h1M2823 6602h1M2866 6564h1M2855 6550h1M2895 6488h1M2889 6501h1M2961 6260h1M2871 6512h1M2894 6498h1M2945 6414h1M2911 6393h1M2960 6311h1M2836 6511h1M2817 6553h1M2837 6572h1M2931 6351h1M2889 6428h1M2852 6440h1M2960 6511h1M2898 6496h1M2866 6467h1M2971 6306h1M2929 6338h1M2828 6560h1M2831 6595h1M2869 6524h1M2817 6520h1M2939 6430h1M2956 6305h1M2902 6538h1M2854 6560h1M2898 6388h1M2879 6446h1M2968 6360h1M2805 6549h1M2890 6528h1M2818 6518h1M2835 6485h1M2875 6530h1M2846 6482h1M2940 6503h1M2904 6475h1M2958 6315h1M2810 6576h1M2832 6505h1M2896 6408h1M2844 6473h1M2832 6563h1M2857 6571h1M2788 6542h1M2869 6605h1M2842 6541h1M2891 6400h1M2909 6357h1M2859 6430h1M2849 6582h1M2896 6406h1M2824 6558h1M2840 6540h1M2870 6477h1M2937 6521h1M2887 6552h1M2840 6576h1M2791 6617h1M2837 6487h1M2890 6553h1M2875 6428h1M2780 6589h1M2806 6542h1M2927 6353h1M2944 6328h1M2959 6296h1M2882 6482h1M2871 6490h1M2921 6370h1M2899 6451h1M2958 6465h1M2859 6498h1M2823 6548h1M2794 6597h1M2937 6323h1M2869 6540h1M2836 6504h1M2918 6494h1M2897 6408h1M2860 6569h1M2902 6405h1M2916 6360h1M2853 6493h1M2957 6344h1M2905 6460h1M2953 6380h1M2909 6419h1M2822 6542h1M2853 6528h1M2822 6517h1M2940 6392h1M2799 6584h1M2944 6378h1M2841 6592h1M2822 6615h1M2896 6468h1M2862 6471h1M2769 6605h1M2788 6584h1M2887 6434h1M2964 6302h1M2834 6532h1M2934 6359h1M2864 6473h1M2856 6590h1M2883 6382h1M2915 6497h1M2903 6501h1M2814 6630h1M2810 6549h1M2813 6587h1M2769 6609h1M2842 6627h1M2834 6509h1M2786 6592h1M2894 6370h1M2871 6469h1M2899 6422h1M2749 6635h1M2894 6404h1M2959 6338h1M2847 6511h1M2796 6612h1M2948 6347h1M2817 6620h1M2845 6549h1M2902 6429h1M2923 6529h1M2940 6374h1M2819 6605h1M2890 6603h1M2887 6443h1M2868 6511h1M2816 6536h1M2781 6630h1M2895 6458h1M2857 6538h1M2766 6628h1M2864 6510h1M2810 6561h1M2863 6470h1M2819 6520h1M2851 6515h1M2869 6450h1M2778 6627h1M2850 6514h1M2877 6532h1M2922 6455h1M2919 6391h1M2869 6513h1M2933 6357h1M2903 6467h1M2805 6580h1M2927 6452h1M2792 6638h1M2911 6378h1M2894 6523h1M2848 6555h1M2830 6541h1M2747 6625h1M2826 6580h1M2838 6603h1M2903 6430h1M2904 6460h1M2793 6626h1M2887 6418h1M2902 6436h1M2939 6337h1M2804 6519h1M2946 6407h1M2860 6545h1M2900 6462h1M2835 6531h1M2881 6458h1M2800 6564h1M2857 6497h1M2786 6556h1M2897 6423h1M2791 6556h1M2921 6371h1M2819 6571h1M2956 6290h1M2936 6356h1M2811 6512h1M2956 6311h1M2895 6373h1M2916 6480h1M2859 6557h1M2920 6446h1M2934 6341h1M2913 6346h1M2892 6409h1M2871 6468h1M2917 6487h1M2872 6496h1M2925 6389h1M2901 6466h1M2890 6408h1M2799 6566h1M2856 6583h1M2840 6543h1M2797 6571h1M2770 6652h1M2887 6486h1M2947 6310h1M2930 6412h1M2891 6406h1M2815 6551h1M2891 6420h1M2862 6439h1M2907 6390h1M2833 6520h1M2852 6606h1M2833 6584h1M2924 6413h1M2885 6469h1M2860 6516h1M2933 6366h1M2874 6561h1M2907 6341h1M2891 6435h1M2945 6282h1M2881 6438h1M2812 6572h1M2894 6541h1M2884 6425h1M2885 6419h1M2906 6376h1M2914 6325h1M2936 6450h1M2859 6599h1M2896 6429h1M2852 6589h1M2832 6489h1M2954 6339h1M2930 6373h1M2901 6606h1M2752 6631h1M2767 6613h1M2938 6344h1M2900 6364h1M2888 6466h1M2859 6505h1M2803 6554h1M2854 6538h1M2854 6492h1M2922 6391h1M2884 6435h1M2784 6628h1M2838 6546h1M2894 6500h1M2814 6600h1M2796 6550h1M2924 6405h1M2780 6614h1M2941 6403h1M2891 6461h1M2880 6445h1M2960 6301h1M2919 6415h1M2809 6644h1M2946 6332h1M2793 6608h1M2888 6472h1M2849 6541h1M2818 6506h1M2892 6355h1M2902 6388h1M2778 6599h1M2916 6419h1M2777 6613h1M2749 6614h1M2836 6537h1M2784 6663h1M2835 6528h1M2801 6600h1M2929 6325h1M2826 6504h1M2796 6614h1M2910 6565h1M2881 6591h1M2803 6566h1M2897 6508h1M2861 6510h1M2936 6387h1M2784 6637h1M2812 6544h1M2907 6383h1M2862 6487h1M2777 6603h1M2858 6547h1M2791 6594h1M2836 6571h1M2898 6448h1M2967 6331h1M2941 6362h1M2879 6437h1M2923 6358h1M2881 6513h1M2803 6572h1M2861 6488h1M2874 6561h1M2945 6285h1M2850 6618h1M2835 6557h1M2892 6448h1M2867 6484h1M2855 6473h1M2959 6331h1M2914 6513h1M2925 6432h1M2909 6388h1M2846 6555h1M2908 6328h1M2929 6326h1M2879 6491h1M2789 6594h1M2818 6523h1M2929 6351h1M2825 6512h1M2890 6502h1M2951 6306h1M2874 6474h1M2820 6553h1M2921 6346h1M2799 6606h1M2899 6450h1M2970 6283h1M2794 6583h1M2933 6428h1M2914 6393h1M2846 6480h1M2763 6603h1M2939 6363h1M2846 6527h1M2890 6418h1M2945 6375h1M2836 6508h1M2944 6350h1M2896 6440h1M2880 6420h1M2782 6598h1M2861 6455h1M2880 6539h1M2866 6508h1M2881 6450h1M2797 6582h1M2888 6446h1M2786 6572h1M2846 6540h1M2803 6550h1M2884 6423h1M2797 6580h1M2832 6510h1M2879 6460h1M2794 6570h1M2858 6528h1M2836 6490h1M2883 6585h1M2896 6571h1M2951 6325h1M2796 6619h1M2793 6582h1M2875 6454h1M2848 6532h1M2888 6417h1M2841 6480h1M2845 6532h1M2832 6513h1M2889 6465h1M2828 6566h1M2764 6619h1M2840 6507h1M2879 6473h1M2783 6653h1M2893 6450h1M2808 6546h1M2874 6491h1M2937 6338h1M2799 6566h1M2890 6467h1M2805 6566h1M2821 6625h1M2881 6534h1M2881 6483h1M2781 6627h1M2933 6402h1M2884 6473h1M2764 6622h1M2873 6578h1M2889 6524h1M2823 6605h1M2847 6455h1M2899 6530h1M2866 6512h1M2886 6533h1M2793 6603h1M2883 6530h1M2922 6326h1M2898 6336h1M2906 6421h1M2781 6585h1M2836 6481h1M2893 6421h1M2881 6534h1M2900 6408h1M2902 6370h1M2830 6565h1M2864 6544h1M2929 6371h1M2855 6478h1M2896 6411h1M2911 6386h1M2960 6287h1M2889 6408h1M2878 6482h1M2922 6379h1M2866 6455h1M2871 6400h1M2941 6410h1M2927 6362h1M2936 6407h1M2904 6564h1M2918 6418h1M2884 6409h1M2829 6521h1M2877 6450h1M2788 6588h1M2882 6524h1M2804 6601h1M2884 6408h1M2821 6542h1M2931 6397h1M2783 6598h1M2874 6522h1M2821 6548h1M2811 6642h1M2925 6391h1M2809 6575h1M2888 6404h1M2945 6339h1M2898 6419h1M2886 6449h1M2894 6375h1M2896 6495h1M2931 6353h1M2849 6449h1M2937 6311h1M2792 6651h1M2853 6460h1M2807 6596h1M2889 6526h1M2968 6283h1M2809 6606h1M2898 6408h1M2889 6515h1M2858 6449h1M2933 6383h1M2841 6566h1M2915 6492h1M2850 6544h1M2901 6419h1M2919 6485h1M2933 6318h1M2910 6404h1M2940 6532h1M2911 6385h1M2790 6628h1M2830 6583h1M2947 6297h1M2938 6331h1M2872 6429h1M2877 6453h1M2825 6583h1M2867 6479h1M2928 6406h1M2880 6398h1M2917 6367h1M2888 6580h1M2799 6621h1M2751 6630h1M2944 6290h1M2807 6543h1M2956 6271h1M2883 6431h1M2956 6366h1M2757 6602h1M2807 6556h1M2892 6543h1M2901 6386h1M2868 6624h1M2868 6524h1M2870 6468h1M2923 6367h1M2840 6551h1M2797 6602h1M2857 6512h1M2829 6558h1M2838 6475h1M2856 6610h1M2817 6514h1M2948 6337h1M2902 6485h1M2866 6461h1M2875 6439h1M2874 6572h1M2853 6460h1M2805 6605h1M2846 6494h1M2876 6532h1M2854 6482h1M2811 6544h1M2882 6463h1M2923 6384h1M2866 6449h1M2850 6503h1M2813 6578h1M2866 6531h1M2825 6526h1M2876 6476h1M2848 6510h1M2769 6611h1M2890 6594h1M2940 6423h1M2855 6554h1M2894 6406h1M2778 6565h1M2802 6611h1M2801 6585h1M2846 6478h1M2867 6485h1M2855 6511h1M2938 6393h1M2907 6443h1M2943 6317h1M2935 6385h1M2861 6631h1M2884 6492h1M2852 6440h1M2910 6527h1M2845 6538h1M2878 6518h1M2840 6528h1M2854 6486h1M2870 6571h1M2772 6605h1M2940 6383h1M2816 6572h1M2881 6451h1M2922 6401h1M2769 6640h1M2969 6241h1M2930 6431h1M2924 6331h1M2878 6510h1M2938 6330h1M2959 6373h1M2861 6614h1M2863 6526h1M2842 6485h1M2881 6435h1M2914 6366h1M2940 6313h1M2854 6451h1M2801 6636h1M2910 6393h1M2905 6420h1M2906 6409h1M2900 6528h1M2858 6450h1M2857 6487h1M2867 6537h1M2797 6606h1M2850 6589h1M2814 6560h1M2860 6482h1M2890 6540h1M2819 6613h1M2829 6537h1M2814 6566h1M2840 6570h1M2913 6394h1M2898 6532h1M2765 6622h1M2886 6389h1M2849 6526h1M2894 6561h1M2826 6519h1M2841 6541h1M2890 6396h1M2953 6315h1M2947 6469h1M2930 6395h1M2775 6556h1M2906 6620h1M2897 6507h1M2860 6477h1M2784 6585h1M2881 6439h1M2910 6483h1M2850 6481h1M2904 6419h1M2939 6353h1M2781 6609h1M2804 6561h1M2858 6461h1M2866 6541h1M2847 6564h1M2806 6557h1M2874 6505h1M2826 6590h1M2886 6526h1M2779 6563h1M2885 6431h1M2958 6316h1M2824 6578h1M2887 6535h1M2755 6632h1M2880 6480h1M2897 6395h1M2897 6416h1M2779 6598h1M2937 6381h1M2952 6308h1M2859 6459h1M2895 6418h1M2955 6337h1M2763 6602h1M2831 6565h1M2924 6456h1M2920 6437h1M2857 6421h1M2894 6474h1M2940 6335h1M2920 6355h1M2804 6579h1M2897 6540h1M2961 6309h1M2823 6545h1M2780 6562h1M2867 6505h1M2905 6432h1M2970 6297h1M2924 6418h1M2911 6341h1M2938 6366h1M2805 6574h1M2825 6555h1M2869 6623h1M2918 6368h1M2839 6488h1M2889 6510h1M2872 6426h1M2873 6506h1M2925 6425h1M2857 6549h1M2849 6531h1M2758 6625h1M2899 6495h1M2888 6631h1M2768 6623h1M2873 6425h1M2961 6307h1M2800 6568h1M2828 6571h1M2928 6360h1M2854 6456h1M2908 6376h1M2900 6405h1M2899 6427h1M2942 6372h1M2899 6435h1M2893 6559h1M2795 6619h1M2935 6398h1M2882 6407h1M2891 6439h1M2834 6591h1M2921 6379h1M2900 6403h1M2820 6483h1M2954 6479h1M2917 6395h1M2893 6431h1M2893 6565h1M2773 6616h1M2917 6483h1M2798 6541h1M2899 6363h1M2927 6344h1M2846 6609h1M2970 6321h1M2904 6419h1M2929 6367h1M2771 6608h1M2835 6538h1M2919 6372h1M2803 6590h1M2776 6600h1M2958 6304h1M2911 6450h1M2830 6504h1M2751 6665h1M2897 6612h1M2855 6579h1M2882 6590h1M2855 6515h1M2832 6521h1M2822 6544h1M2831 6540h1M2847 6499h1M2800 6557h1M2803 6561h1M2961 6319h1M2878 6429h1M2767 6627h1M2893 6389h1M2882 6452h1M2869 6422h1M2813 6551h1M2887 6574h1M2965 6283h1M2826 6541h1M2778 6588h1M2770 6605h1M2915 6464h1M2926 6362h1M2852 6514h1M2756 6627h1M2872 6448h1M2780 6608h1M2932 6350h1M2815 6515h1M2903 6529h1M2860 6453h1M2820 6549h1M2773 6601h1M2925 6459h1M2886 6374h1M2951 6341h1M2845 6521h1M2758 6607h1M2804 6522h1M2884 6457h1M2889 6474h1M2799 6550h1M2835 6559h1M2946 6561h1M2882 6488h1M2901 6407h1M2857 6466h1M2965 6271h1M2861 6462h1M2920 6354h1M2886 6438h1M2943 6340h1M2756 6678h1M2889 6425h1M2879 6525h1M2782 6593h1M2954 6329h1M2893 6392h1M2813 6547h1M2912 6382h1M2882 6394h1M2880 6404h1M2881 6612h1M2875 6533h1M2856 6572h1M2823 6544h1M2930 6417h1M2843 6451h1M2903 6396h1M2778 6611h1M2828 6528h1M2765 6627h1M2899 6438h1M2886 6469h1M2843 6514h1M2851 6437h1M2859 6494h1M2892 6454h1M2800 6657h1M2887 6398h1M2910 6447h1M2921 6468h1M2776 6619h1M2941 6490h1M2940 6329h1M2856 6606h1M2817 6557h1M2919 6438h1M2856 6612h1M2816 6524h1M2853 6455h1M2926 6448h1M2909 6379h1M2893 6494h1M2791 6559h1M2798 6541h1M2840 6498h1M2899 6483h1M2789 6593h1M2852 6605h1M2863 6561h1M2895 6495h1M2912 6400h1M2876 6456h1M2772 6637h1M2892 6496h1M2784 6592h1M2966 6276h1M2821 6624h1M2884 6524h1M2905 6405h1M2768 6563h1M2944 6320h1M2878 6564h1M2941 6338h1M2854 6599h1M2818 6566h1M2954 6374h1M2859 6462h1M2841 6470h1M2854 6512h1M2759 6637h1M2772 6618h1M2813 6608h1M2875 6434h1M2824 6534h1M2948 6320h1M2915 6438h1M2865 6481h1M2855 6498h1M2951 6295h1M2885 6448h1M2902 6479h1M2802 6602h1M2817 6609h1M2945 6315h1M2916 6465h1M2832 6620h1M2780 6570h1M2947 6407h1M2767 6600h1M2783 6671h1M2931 6364h1M2877 6429h1M2941 6341h1M2888 6423h1M2928 6312h1M2784 6607h1M2799 6606h1M2873 6557h1M2867 6421h1M2871 6459h1M2844 6536h1M2889 6448h1M2828 6544h1M2883 6523h1M2815 6612h1M2908 6388h1M2881 6406h1M2964 6267h1M2890 6473h1M2942 6378h1M2850 6513h1M2835 6534h1M2847 6561h1M2909 6409h1M2894 6441h1M2855 6462h1M2896 6495h1M2830 6562h1M2914 6560h1M2892 6418h1M2903 6456h1M2833 6505h1M2796 6615h1M2797 6553h1M2870 6599h1M2907 6409h1M2925 6462h1M2945 6351h1M2911 6519h1M2855 6516h1M2909 6377h1M2939 6333h1M2899 6399h1M2950 6447h1M2886 6529h1M2873 6422h1M2941 6334h1M2923 6491h1M2893 6554h1M2825 6584h1M2798 6569h1M2860 6461h1M2883 6446h1M2893 6427h1M2914 6373h1M2946 6452h1M2807 6572h1M2827 6512h1M2945 6365h1M2791 6605h1M2875 6511h1M2866 6567h1M2879 6473h1M2889 6416h1M2801 6597h1M2920 6425h1M2933 6376h1M2833 6510h1M2884 6412h1M2916 6512h1M2870 6512h1M2827 6564h1M2923 6335h1M2792 6570h1M2922 6436h1M2840 6516h1M2866 6517h1M2845 6566h1M2918 6472h1M2891 6441h1M2910 6414h1M2910 6415h1M2922 6361h1M2933 6293h1M2883 6497h1M2799 6546h1M2843 6517h1M2910 6446h1M2789 6598h1M2924 6366h1M2828 6515h1M2918 6329h1M2787 6593h1M2913 6475h1M2941 6351h1M2916 6446h1M2825 6526h1M2824 6504h1M2860 6444h1M2828 6561h1M2832 6502h1M2955 6325h1M2822 6556h1M2924 6370h1M2927 6406h1M2824 6596h1M2850 6509h1M2846 6553h1M2847 6579h1M2890 6579h1M2958 6286h1M2854 6493h1M2903 6415h1M2953 6318h1M2827 6519h1M2895 6507h1M2960 6355h1M2795 6570h1M2892 6522h1M2916 6394h1M2863 6429h1M2924 6340h1M2918 6401h1M2811 6544h1M2951 6343h1M2927 6450h1M2869 6508h1M2887 6593h1M2820 6543h1M2890 6485h1M2875 6454h1M2940 6374h1M2951 6325h1M2782 6599h1M2827 6595h1M2793 6590h1M2928 6355h1M2830 6516h1M2935 6336h1M2935 6331h1M2789 6637h1M2834 6606h1M2837 6616h1M2885 6472h1M2965 6435h1M2935 6338h1M2956 6353h1M2967 6325h1M2865 6621h1M2939 6490h1M2947 6311h1M2916 6506h1M2901 6405h1M2876 6441h1M2797 6584h1M2848 6582h1M2932 6376h1M2847 6523h1M2927 6351h1M2839 6471h1M2836 6536h1M2860 6444h1M2814 6590h1M2888 6408h1M2880 6582h1M2944 6446h1M2958 6266h1M2920 6512h1M2824 6533h1M2835 6605h1M2921 6504h1M2886 6534h1M2826 6608h1M2829 6569h1M2911 6468h1M2901 6489h1M2885 6382h1M2920 6437h1M2789 6602h1M2788 6639h1M2755 6608h1M2768 6618h1M2913 6456h1M2783 6597h1M2949 6327h1M2882 6448h1M2832 6513h1M2888 6459h1M2874 6577h1M2955 6308h1M2856 6554h1M2864 6502h1M2968 6361h1M2839 6589h1M2909 6416h1M2856 6460h1M2863 6472h1M2925 6340h1M2850 6557h1M2889 6451h1M2952 6274h1M2891 6431h1M2912 6372h1M2860 6481h1M2805 6610h1M2867 6496h1M2769 6627h1M2869 6482h1M2915 6378h1M2832 6575h1M2827 6594h1M2894 6483h1M2821 6570h1M2781 6563h1M2764 6611h1M2876 6461h1M2895 6417h1M2847 6533h1M2923 6449h1M2853 6507h1M2969 6286h1M2967 6264h1M2911 6409h1M2885 6434h1M2889 6452h1M2860 6495h1M2757 6607h1M2814 6574h1M2870 6441h1M2891 6435h1M2916 6358h1M2812 6594h1M2927 6478h1M2865 6465h1M2930 6325h1M2845 6495h1M2863 6473h1M2822 6551h1M2881 6473h1M2961 6372h1M2918 6369h1M2905 6406h1M2935 6349h1M2727 6614h1M2842 6489h1M2941 6339h1M2836 6510h1M2875 6592h1M2880 6451h1M2918 6372h1M2964 6346h1M2883 6552h1M2912 6416h1M2826 6583h1M2910 6354h1M2950 6307h1M2891 6353h1M2870 6420h1M2805 6571h1M2809 6563h1M2903 6345h1M2885 6615h1M2810 6601h1M2858 6474h1M2847 6570h1M2903 6435h1M2962 6369h1M2869 6451h1M2877 6443h1M2875 6431h1M2877 6533h1M2824 6548h1M2944 6346h1M2942 6407h1M2936 6363h1M2837 6501h1M2921 6360h1M2751 6600h1M2905 6394h1M2853 6569h1M2904 6451h1M2867 6448h1M2827 6546h1M2891 6467h1M2945 6333h1M2923 6397h1M2876 6506h1M2941 6425h1M2866 6567h1M2840 6567h1M2855 6511h1M2880 6460h1M2858 6502h1M2854 6473h1M2807 6550h1M2939 6382h1M2941 6362h1M2936 6346h1M2835 6497h1M2925 6480h1M2938 6363h1M2860 6638h1M2830 6570h1M2934 6329h1M2810 6606h1M2916 6341h1M2874 6438h1M2773 6630h1M2804 6566h1M2946 6343h1M2811 6591h1M2805 6588h1M2792 6596h1M2856 6495h1M2970 6275h1M2912 6429h1M2785 6609h1M2933 6344h1M2847 6595h1M2866 6512h1M2875 6539h1M2868 6499h1M2896 6444h1M2839 6497h1M2887 6459h1M2793 6603h1M2782 6636h1M2948 6312h1M2886 6438h1M2923 6382h1M2957 6382h1M2907 6433h1M2854 6491h1M2877 6439h1M2930 6437h1M2886 6419h1M2907 6370h1M2930 6379h1M2946 6311h1M2926 6424h1M2834 6604h1M2849 6441h1M2833 6575h1M2857 6576h1M2902 6561h1M2881 6514h1M2737 6648h1M2871 6484h1M2914 6445h1M2886 6439h1M2914 6345h1M2950 6335h1M2904 6443h1M2856 6490h1M2802 6551h1M2909 6455h1M2838 6477h1M2791 6612h1M2791 6589h1M2866 6428h1M2805 6558h1M2844 6553h1M2838 6504h1M2919 6608h1M2860 6470h1M2839 6594h1M2846 6545h1M2899 6410h1M2790 6622h1M2868 6437h1M2923 6380h1M2886 6515h1M2948 6331h1M2876 6426h1M2912 6365h1M2817 6588h1M2809 6602h1M2827 6514h1M2808 6571h1M2923 6373h1M2817 6534h1M2925 6374h1M2825 6536h1M2836 6595h1M2890 6439h1M2935 6429h1M2878 6493h1M2833 6559h1M2768 6627h1M2921 6366h1M2903 6468h1M2830 6519h1M2873 6502h1M2820 6533h1M2895 6456h1M2900 6474h1M2956 6351h1M2916 6332h1M2888 6386h1M2889 6549h1M2910 6432h1M2949 6343h1M2910 6482h1M2957 6297h1M2923 6389h1M2795 6592h1M2815 6514h1M2792 6618h1M2858 6414h1M2813 6541h1M2894 6512h1M2876 6437h1M2856 6461h1M2922 6339h1M2855 6593h1M2961 6304h1M2796 6595h1M2823 6534h1M2946 6346h1M2827 6516h1M2930 6371h1M2801 6668h1M2927 6400h1M2947 6346h1M2950 6332h1M2896 6522h1M2906 6482h1M2805 6622h1M2853 6512h1M2924 6432h1M2922 6339h1M2887 6573h1M2862 6472h1M2816 6556h1M2844 6514h1M2946 6350h1M2850 6450h1M2884 6419h1M2898 6418h1M2902 6438h1M2855 6448h1M2944 6377h1M2888 6393h1M2945 6323h1M2827 6548h1M2880 6501h1M2832 6524h1M2847 6480h1M2936 6427h1M2812 6611h1M2931 6376h1M2901 6403h1M2831 6513h1M2960 6328h1M2889 6379h1M2876 6506h1M2875 6518h1M2936 6404h1M2828 6529h1M2852 6527h1M2778 6623h1M2949 6476h1M2804 6519h1M2828 6529h1M2873 6427h1M2897 6491h1M2923 6444h1M2925 6317h1M2898 6448h1M2904 6604h1M2915 6349h1M2843 6503h1M2754 6606h1M2806 6598h1M2826 6594h1M2829 6571h1M2821 6506h1M2903 6386h1M2870 6544h1M2918 6349h1M2906 6430h1M2922 6364h1M2819 6548h1M2889 6360h1M2906 6391h1M2903 6510h1M2862 6465h1M2938 6470h1M2854 6519h1M2845 6475h1M2961 6313h1M2902 6388h1M2768 6632h1M2775 6636h1M2809 6591h1M2940 6384h1M2905 6375h1M2923 6470h1M2862 6511h1M2807 6569h1M2837 6593h1M2893 6410h1M2967 6238h1M2924 6439h1M2951 6329h1M2861 6434h1M2838 6612h1M2894 6580h1M2930 6377h1M2879 6510h1M2888 6563h1M2893 6477h1M2956 6320h1M2829 6582h1M2859 6554h1M2878 6490h1M2849 6534h1M2894 6411h1M2798 6594h1M2856 6483h1M2829 6556h1M2874 6436h1M2879 6460h1M2967 6336h1M2792 6601h1M2912 6389h1M2901 6434h1M2909 6432h1M2779 6602h1M2859 6431h1M2944 6514h1M2856 6521h1M2945 6331h1M2899 6466h1M2938 6318h1M2880 6435h1M2898 6537h1M2780 6575h1M2820 6552h1M2925 6558h1M2898 6431h1M2799 6617h1M2941 6355h1M2907 6474h1M2868 6552h1M2781 6588h1M2832 6526h1M2874 6446h1M2800 6567h1M2868 6499h1M2968 6301h1M2920 6378h1M2858 6494h1M2881 6483h1M2804 6588h1M2873 6453h1M2915 6630h1M2807 6582h1M2759 6643h1M2827 6490h1M2947 6303h1M2875 6523h1M2874 6481h1M2862 6450h1M2897 6465h1M2824 6536h1M2880 6408h1M2927 6334h1M2930 6370h1M2807 6570h1M2847 6513h1M2770 6618h1M2805 6551h1M2881 6379h1M2928 6334h1M2964 6293h1M2883 6427h1M2844 6479h1M2845 6535h1M2913 6576h1M2895 6412h1M2949 6306h1M2913 6431h1M2823 6535h1M2926 6565h1M2879 6406h1M2873 6520h1M2808 6537h1M2775 6584h1M2941 6309h1M2914 6421h1M2834 6510h1M2915 6566h1M2875 6434h1M2866 6536h1M2758 6583h1M2935 6392h1M2857 6494h1M2896 6411h1M2936 6426h1M2902 6430h1M2900 6440h1M2798 6519h1M2947 6326h1M2932 6418h1M2833 6556h1M2857 6438h1M2896 6416h1M2811 6569h1M2907 6360h1M2836 6615h1M2894 6454h1M2796 6591h1M2822 6535h1M2856 6464h1M2821 6582h1M2830 6516h1M2958 6395h1M2891 6412h1M2738 6635h1M2940 6293h1M2925 6332h1M2943 6292h1M2913 6476h1M2908 6463h1M2939 6382h1M2924 6424h1M2913 6379h1M2963 6346h1M2904 6369h1M2806 6545h1M2812 6571h1M2764 6649h1M2951 6295h1M2902 6407h1M2803 6607h1M2865 6457h1M2867 6426h1M2827 6521h1M2850 6476h1M2863 6463h1M2857 6523h1M2882 6449h1M2897 6439h1M2794 6575h1M2830 6505h1M2860 6486h1M2851 6515h1M2766 6670h1M2848 6491h1M2920 6362h1M2895 6467h1M2825 6583h1M2802 6598h1M2863 6478h1M2812 6560h1M2861 6481h1M2858 6551h1M2779 6606h1M2798 6621h1M2815 6568h1M2851 6462h1M2911 6395h1M2894 6604h1M2798 6577h1M2941 6308h1M2907 6427h1M2880 6554h1M2946 6334h1M2855 6592h1M2890 6422h1M2890 6392h1M2929 6393h1M2890 6403h1M2872 6506h1M2965 6391h1M2809 6629h1M2887 6409h1M2911 6446h1M2845 6554h1M2846 6514h1M2880 6404h1M2923 6329h1M2904 6451h1M2787 6579h1M2812 6613h1M2792 6606h1M2814 6583h1M2880 6430h1M2773 6628h1M2873 6491h1M2858 6457h1M2944 6406h1M2887 6487h1M2912 6342h1M2887 6578h1M2803 6572h1M2875 6558h1M2938 6314h1M2865 6515h1M2883 6405h1M2923 6373h1M2912 6395h1M2954 6374h1M2854 6556h1M2926 6423h1M2921 6314h1M2910 6356h1M2907 6412h1M2788 6596h1M2777 6625h1M2777 6586h1M2869 6569h1M2947 6314h1M2918 6400h1M2896 6417h1M2894 6568h1M2938 6376h1M2888 6427h1M2921 6442h1M2849 6535h1M2844 6498h1M2920 6352h1M2901 6467h1M2893 6404h1M2833 6513h1M2919 6449h1M2924 6370h1M2856 6452h1M2938 6489h1M2764 6594h1M2802 6575h1M2918 6379h1M2936 6335h1M2969 6359h1M2885 6456h1M2940 6439h1M2950 6348h1M2832 6598h1M2802 6578h1M2876 6601h1M2879 6428h1M2885 6577h1M2839 6541h1M2850 6406h1M2935 6450h1M2815 6527h1M2865 6534h1M2810 6614h1M2865 6542h1M2846 6565h1M2854 6449h1M2827 6536h1M2855 6571h1M2888 6456h1M2867 6504h1M2835 6592h1M2849 6554h1M2899 6415h1M2845 6489h1M2846 6489h1M2832 6497h1M2815 6568h1M2837 6503h1M2828 6497h1M2816 6438h1M2863 6482h1M2866 6507h1M2893 6508h1M2850 6586h1M2778 6596h1M2918 6516h1M2822 6581h1M2931 6475h1M2836 6476h1M2772 6634h1M2841 6505h1M2833 6535h1M2844 6500h1M2878 6500h1M2849 6445h1M2860 6612h1M2897 6467h1M2861 6559h1M2799 6540h1M2770 6498h1M2884 6488h1M2909 6535h1M2882 6473h1M2874 6462h1M2772 6561h1M2895 6406h1M2803 6560h1M2782 6597h1M2814 6639h1M2835 6539h1M2826 6492h1M2780 6528h1M2808 6445h1M2849 6526h1M2828 6530h1M2865 6452h1M2825 6470h1M2878 6584h1M2877 6490h1M2844 6502h1M2866 6484h1M2932 6445h1M2824 6563h1M2834 6577h1M2775 6574h1M2856 6548h1M2879 6478h1M2885 6511h1M2957 6397h1M2826 6558h1M2881 6546h1M2839 6529h1M2829 6549h1M2816 6500h1M2900 6425h1M2830 6566h1M2834 6510h1M2870 6529h1M2865 6463h1M2909 6510h1M2890 6451h1M2943 6380h1M2818 6551h1M2814 6555h1M2877 6520h1M2837 6489h1M2808 6448h1M2864 6449h1M2836 6560h1M2845 6520h1M2897 6515h1M2866 6479h1M2793 6624h1M2844 6479h1M2881 6559h1M2783 6539h1M2830 6583h1M2917 6451h1M2846 6556h1M2804 6619h1M2815 6565h1M2944 6561h1M2875 6498h1M2823 6530h1M2877 6456h1M2872 6445h1M2796 6655h1M2824 6483h1M2934 6454h1M2859 6534h1M2846 6540h1M2882 6567h1M2851 6612h1M2823 6562h1M2845 6614h1M2890 6475h1M2898 6461h1M2945 6396h1M2856 6629h1M2824 6591h1M2824 6477h1M2871 6448h1M2828 6492h1M2779 6564h1M2880 6527h1M2859 6532h1M2820 6514h1M2906 6390h1M2843 6477h1M2799 6576h1M2903 6589h1M2830 6511h1M2795 6578h1M2855 6622h1M2849 6571h1M2770 6537h1M2828 6515h1M2813 6559h1M2855 6526h1M2911 6502h1M2948 6405h1M2879 6471h1M2919 6428h1M2917 6531h1M2894 6529h1M2869 6498h1M2855 6496h1M2864 6511h1M2896 6528h1M2858 6439h1M2858 6533h1M2837 6608h1M2909 6537h1M2828 6545h1M2911 6433h1M2923 6550h1M2949 6499h1M2892 6538h1M2846 6449h1M2765 6538h1M2845 6516h1M2906 6517h1M2847 6507h1M2815 6480h1M2888 6489h1M2891 6460h1M2825 6497h1M2800 6590h1M2881 6498h1M2868 6582h1M2840 6511h1M2831 6510h1M2790 6560h1M2927 6382h1M2922 6525h1M2785 6461h1M2898 6526h1M2846 6579h1M2802 6559h1M2848 6559h1M2849 6571h1M2901 6461h1M2796 6594h1M2896 6497h1M2863 6497h1M2891 6567h1M2850 6403h1M2850 6517h1M2874 6516h1M2821 6565h1M2823 6450h1M2827 6681h1M2901 6414h1M2857 6559h1M2867 6507h1M2786 6522h1M2860 6465h1M2874 6548h1M2794 6592h1M2776 6627h1M2884 6489h1M2752 6515h1M2824 6594h1M2890 6528h1M2859 6496h1M2904 6512h1M2883 6475h1M2822 6632h1M2869 6555h1M2835 6529h1M2734 6497h1M2837 6489h1M2891 6505h1M2791 6555h1M2870 6501h1M2838 6484h1M2900 6484h1M2861 6496h1M2774 6604h1M2855 6554h1M2828 6590h1M2878 6530h1M2859 6508h1M2848 6612h1M2792 6543h1M2794 6534h1M2871 6522h1M2921 6476h1M2785 6630h1M2885 6549h1M2824 6577h1M2851 6525h1M2873 6531h1M2905 6468h1M2791 6547h1M2878 6501h1M2810 6464h1M2863 6474h1M2845 6590h1M2814 6568h1M2765 6497h1M2836 6541h1M2830 6515h1M2809 6496h1M2925 6451h1M2827 6547h1M2856 6564h1M2841 6572h1M2799 6617h1M2873 6554h1M2908 6450h1M2791 6574h1M2831 6533h1M2902 6525h1M2835 6556h1M2773 6567h1M2858 6489h1M2895 6473h1M2893 6472h1M2915 6444h1M2874 6562h1M2919 6398h1M2854 6566h1M2873 6508h1M2877 6526h1M2797 6573h1M2913 6496h1M2793 6579h1M2791 6640h1M2904 6502h1M2933 6501h1M2901 6386h1M2855 6566h1M2899 6513h1M2868 6490h1M2812 6578h1M2865 6480h1M2860 6603h1M2843 6504h1M2830 6530h1M2870 6437h1M2925 6492h1M2852 6476h1M2795 6567h1M2852 6511h1M2838 6505h1M2949 6429h1M2867 6494h1M2880 6517h1M2933 6360h1M2864 6473h1M2826 6608h1M2934 6438h1M2769 6654h1M2881 6477h1M2815 6494h1M2789 6512h1M2821 6493h1M2882 6519h1M2882 6529h1M2764 6601h1M2799 6589h1M2826 6599h1M2840 6506h1M2890 6510h1M2894 6503h1M2830 6371h1M2921 6482h1M2807 6571h1M2840 6622h1M2837 6519h1M2833 6547h1M2833 6570h1M2923 6423h1M2915 6514h1M2852 6585h1M2812 6492h1M2857 6564h1M2810 6571h1M2834 6581h1M2892 6395h1M2868 6517h1M2856 6538h1M2814 6464h1M2897 6597h1M2902 6456h1M2870 6441h1M2879 6424h1M2716 6596h1M2926 6475h1M2801 6591h1M2841 6550h1M2875 6512h1M2812 6515h1M2809 6509h1M2822 6525h1M2852 6561h1M2844 6486h1M2903 6435h1M2844 6497h1M2790 6585h1M2857 6435h1M2912 6446h1M2863 6579h1M2859 6483h1M2823 6503h1M2868 6414h1M2847 6526h1M2830 6627h1M2889 6561h1M2813 6570h1M2849 6497h1M2840 6567h1M2872 6530h1M2781 6577h1M2919 6490h1M2804 6526h1M2769 6517h1M2803 6553h1M2905 6501h1M2856 6439h1M2919 6443h1M2870 6510h1M2803 6578h1M2875 6500h1M2822 6583h1M2934 6584h1M2789 6622h1M2846 6453h1M2889 6486h1M2846 6580h1M2907 6540h1M2877 6476h1M2867 6517h1M2828 6570h1M2849 6525h1M2903 6435h1M2868 6528h1M2850 6532h1M2821 6555h1M2863 6592h1M2849 6430h1M2885 6531h1M2828 6537h1M2866 6487h1M2834 6595h1M2836 6546h1M2826 6487h1M2861 6413h1M2821 6557h1M2840 6516h1M2906 6524h1M2809 6563h1M2925 6512h1M2790 6547h1M2858 6533h1M2841 6562h1M2894 6379h1M2780 6601h1M2903 6507h1M2845 6516h1M2864 6424h1M2888 6433h1M2776 6621h1M2797 6527h1M2921 6538h1M2826 6516h1M2827 6563h1M2926 6479h1M2883 6502h1M2904 6553h1M2845 6497h1M2853 6499h1M2871 6583h1M2881 6411h1M2898 6493h1M2890 6454h1M2884 6528h1M2857 6464h1M2826 6552h1M2838 6552h1M2857 6510h1M2891 6608h1M2889 6456h1M2853 6422h1M2824 6575h1M2804 6486h1M2863 6531h1M2893 6503h1M2893 6518h1M2851 6595h1M2859 6550h1M2938 6440h1M2889 6493h1M2888 6541h1M2819 6583h1M2930 6391h1M2834 6529h1M2886 6503h1M2882 6476h1M2872 6527h1M2874 6498h1M2783 6631h1M2839 6494h1M2800 6788h1M2890 6713h1M2816 6742h1M2870 6676h1M2847 6776h1M2907 6770h1M2968 6728h1M2863 6826h1M2779 6744h1M2866 6715h1M2853 6715h1M2810 6660h1M2900 6581h1M2759 6576h1M2916 6880h1M2961 6836h1M2698 6713h1M2838 6712h1M2958 6829h1M2863 6750h1M2776 6871h1M2734 6667h1M2849 6824h1M2885 6788h1M2748 6746h1M2913 6739h1M2704 6792h1M2901 6614h1M2824 6695h1M2954 6725h1M2832 6709h1M2907 6718h1M2785 6865h1M2823 6830h1M2836 6620h1M2823 6824h1M2911 6780h1M2715 6712h1M2717 6774h1M2863 6750h1M2903 6638h1M2836 6749h1M2766 6853h1M2858 6765h1M2884 6612h1M2874 6582h1M2845 6639h1M2940 6653h1M2927 6693h1M2846 6733h1M2840 6867h1M2816 6730h1M2925 6754h1M2817 6727h1M2885 6758h1M2965 6737h1M2812 6716h1M2832 6573h1M2713 6808h1M2815 6621h1M2829 6860h1M2851 6720h1M2842 6749h1M2771 6721h1M2949 6719h1M2862 6692h1M2836 6748h1M2898 6862h1M2874 6725h1M2803 6743h1M2872 6629h1M2793 6693h1M2947 6702h1M2829 6867h1M2818 6630h1M2791 6731h1M2835 6778h1M2737 6742h1M2843 6817h1M2923 6709h1M2705 6782h1M2897 6710h1M2825 6675h1M2719 6640h1M2844 6599h1M2788 6822h1M2838 6734h1M2879 6787h1M2863 6780h1M2777 6761h1M2887 6820h1M2802 6675h1M2784 6838h1M2879 6789h1M2889 6708h1M2747 6742h1M2880 6862h1M2828 6861h1M2909 6751h1M2749 6642h1M2841 6765h1M2894 6763h1M2856 6718h1M2903 6827h1M2902 6654h1M2913 6830h1M2832 6704h1M2840 6672h1M2853 6755h1M2801 6783h1M2835 6738h1M2793 6804h1M2837 6714h1M2927 6704h1M2867 6802h1M2825 6680h1M2866 6707h1M2790 6843h1M2822 6664h1M2753 6697h1M2803 6642h1M2901 6783h1M2955 6893h1M2836 6730h1M2873 6708h1M2868 6793h1M2788 6801h1M2893 6753h1M2884 6811h1M2810 6879h1M2836 6798h1M2781 6718h1M2901 6700h1M2827 6779h1M2901 6841h1M2796 6741h1M2911 6728h1M2830 6682h1M2944 6658h1M2821 6857h1M2875 6705h1M2935 6705h1M2873 6701h1M2761 6800h1M2784 6742h1M2912 6641h1M2728 6738h1M2781 6776h1M2939 6747h1M2722 6792h1M2940 6593h1M2836 6766h1M2962 6718h1M2797 6766h1M2864 6632h1M2920 6837h1M2748 6701h1M2898 6679h1M2861 6748h1M2890 6800h1M2881 6770h1M2812 6718h1M2715 6715h1M2838 6795h1M2824 6721h1M2878 6828h1M2654 6811h1M2835 6795h1M2809 6794h1M2860 6821h1M2858 6688h1M2840 6731h1M2825 6720h1M2836 6836h1M2819 6769h1M2759 6805h1M2868 6678h1M2835 6712h1M2928 6671h1M2916 6715h1M2776 6717h1M2846 6853h1M2801 6787h1M2893 6846h1M2858 6776h1M2880 6727h1M2960 6871h1M2778 6777h1M2905 6800h1M2830 6753h1M2807 6758h1M2719 6756h1M2859 6639h1M2961 6732h1M2904 6682h1M2869 6774h1M2864 6758h1M2848 6757h1M2857 6694h1M2947 6644h1M2827 6710h1M2962 6734h1M2763 6652h1M2926 6654h1M2788 6708h1M2921 6685h1M2868 6779h1M2821 6759h1M2788 6782h1M2724 6743h1M2925 6769h1M2758 6836h1M2873 6630h1M2772 6818h1M2870 6722h1M2762 6696h1M2917 6709h1M2790 6764h1M2881 6625h1M2793 6797h1M2814 6737h1M2847 6772h1M2932 6670h1M2843 6880h1M2912 6729h1M2868 6760h1M2891 6716h1M2789 6689h1M2889 6850h1M2832 6734h1M2840 6723h1M2862 6673h1M2835 6685h1M2788 6815h1M2860 6635h1M2871 6638h1M2792 6708h1M2807 6783h1M2909 6739h1M2740 6733h1M2804 6800h1M2854 6730h1M2860 6679h1M2905 6809h1M2886 6739h1M2898 6762h1M2890 6805h1M2684 6674h1M2906 6845h1M2863 6689h1M2892 6814h1M2961 6736h1M2888 6688h1M2945 6741h1M2837 6728h1M2948 6720h1M2872 6724h1M2831 6871h1M2847 6842h1M2913 6847h1M2800 6779h1M2874 6679h1M2746 6734h1M2795 6707h1M2888 6777h1M2897 6611h1M2807 6793h1M2821 6695h1M2820 6775h1M2970 6861h1M2939 6717h1M2923 6801h1M2865 6731h1M2869 6731h1M2781 6849h1M2922 6860h1M2879 6803h1M2845 6650h1M2770 6810h1M2699 6833h1M2841 6785h1M2774 6848h1M2901 6633h1M2860 6854h1M2759 6720h1M2765 6774h1M2848 6853h1M2852 6664h1M2905 6757h1M2889 6618h1M2785 6770h1M2767 6690h1M2788 6770h1M2875 6681h1M2775 6663h1M2866 6852h1M2794 6815h1M2855 6674h1M2752 6725h1M2857 6696h1M2804 6728h1M2899 6778h1M2862 6835h1M2920 6819h1M2737 6704h1M2876 6794h1M2792 6778h1M2906 6787h1M2820 6865h1M2778 6732h1M2853 6702h1M2906 6813h1M2833 6723h1M2827 6740h1M2850 6700h1M2908 6679h1M2828 6795h1M2833 6785h1M2916 6728h1M2852 6663h1M2807 6686h1M2778 6732h1M2734 6724h1M2920 6728h1M2791 6722h1M2826 6781h1M2853 6694h1M2891 6283h1M2924 6257h1M2890 6417h1M2729 6144h1M2894 6232h1M2929 6178h1M2818 6280h1M2894 6270h1M2879 6055h1M2838 6284h1M2900 6228h1M2815 6210h1M2792 6292h1M2873 6263h1M2773 6109h1M2838 6174h1M2846 6317h1M2872 6189h1M2743 6199h1M2810 6491h1M2834 6252h1M2761 6213h1M2867 6213h1M2887 6228h1M2860 6135h1M2858 6263h1M2848 6115h1M2856 6108h1M2819 6233h1M2835 6092h1M2802 6159h1M2952 6136h1M2946 6235h1M2905 6230h1M2835 6305h1M2789 6271h1M2748 6175h1M2847 6232h1M2893 6293h1M2835 6263h1M2950 6326h1M2942 6242h1M2904 6199h1M2879 6330h1M2745 6328h1M2780 6316h1M2868 6284h1M2826 6365h1M2895 6337h1M2854 6258h1M2841 6181h1M2884 6196h1M2928 6225h1M2843 6181h1M2926 6233h1M2729 6251h1M2935 6121h1M2897 6265h1M2856 6233h1M2836 6294h1M2906 6306h1M2863 6235h1M2871 6308h1M2888 6178h1M2830 6336h1M2871 6184h1M2798 6281h1M2831 6298h1M2771 6264h1M2969 6293h1M2794 6351h1M2845 6090h1M2853 6228h1M2840 6463h1M2876 6188h1M2905 6154h1M2903 6281h1M2837 6331h1M2866 6089h1M2817 6370h1M2877 6184h1M2888 6357h1M2812 6267h1M2893 6334h1M2916 6308h1M2853 6338h1M2846 6183h1M2884 6250h1M2802 6185h1M2740 6287h1M2737 6203h1M2891 6211h1M2843 6324h1M2900 6114h1M2876 6452h1M2879 6208h1M2869 6152h1M2914 6279h1M2906 6249h1M2880 6235h1M2958 6427h1M2807 6264h1M2876 6256h1M2862 6221h1M2937 6225h1M2829 6417h1M2870 6260h1M2919 6254h1M2837 6246h1M2823 6147h1M2880 6429h1M2829 6326h1M2823 6241h1M2829 6235h1M2815 6174h1M2821 6197h1M2961 6232h1M2834 6273h1M2934 6224h1M2816 6271h1M2863 6193h1M2891 6264h1M2785 6281h1M2912 6242h1M2714 6166h1M2945 6244h1M2843 6291h1M2894 6302h1M2888 6253h1M2825 6202h1M2919 6226h1M2866 6118h1M2928 6098h1M2930 6068h1M2908 6157h1M2791 6251h1M2967 6287h1M2770 6260h1M2847 6313h1M2956 6422h1M2774 6071h1M2763 6130h1M2838 6163h1M2896 6313h1M2788 6321h1M2792 6092h1M2848 6308h1M2911 6283h1M2920 6190h1M2911 6316h1M2797 6305h1M2941 6363h1M2768 6206h1M2881 6099h1M2808 6204h1M2874 6151h1M2809 6209h1M2879 6326h1M2802 6228h1M2893 6170h1M2929 6216h1M2885 6149h1M2836 6234h1M2850 6394h1M2820 6201h1M2860 6237h1M2911 6183h1M2797 6304h1M2762 6096h1M2874 6165h1M2817 6312h1M2837 6321h1M2868 6196h1M2852 6157h1M2791 6173h1M2844 6162h1M2844 6268h1M2915 6217h1M2787 6358h1M2922 6318h1M2833 6279h1M2808 6282h1M2847 6153h1M2719 6209h1M2911 6204h1M2947 6327h1M2810 6392h1M2786 6202h1M2815 6309h1M2899 6119h1M2847 6251h1M2850 6217h1M2852 6245h1M2783 6263h1M2860 6217h1M2644 6859h1M2561 6794h1M2484 6814h1M2724 6823h1M2740 6875h1M2542 6791h1M2645 6842h1M2708 6793h1M2645 6839h1M2663 6814h1M2624 6735h1M2548 6766h1M2518 6758h1M2673 6777h1M2660 6712h1M2807 6793h1M2698 6707h1M2568 6820h1M2747 6812h1M2466 6786h1M2621 6817h1M2685 6809h1M2579 6744h1M2623 6812h1M2592 6734h1M2795 6868h1M2695 6760h1M2671 6761h1M2573 6722h1M2751 6833h1M2715 6747h1M2395 6824h1M2751 6714h1M2739 6808h1M2521 6731h1M2441 6748h1M2587 6813h1M2648 6750h1M2450 6892h1M2544 6864h1M2634 6892h1M2529 6781h1M2654 6732h1M2814 6713h1M2507 6769h1M2572 6793h1M2395 6801h1M2594 6813h1M2699 6869h1M2626 6857h1M2714 6818h1M2639 6795h1M2670 6810h1M2633 6864h1M2536 6855h1M2692 6708h1M2700 6817h1M2562 6848h1M2663 6669h1M2542 6834h1M2565 6730h1M2498 6796h1M2773 6835h1M2474 6825h1M2620 6834h1M2706 6829h1M2763 6788h1M2741 6787h1M2488 6745h1M2770 6727h1M2680 6756h1M2473 6831h1M2569 6810h1M2534 6845h1M2480 6885h1M2803 6743h1M2648 6867h1M2706 6851h1M2346 6851h1M2672 6867h1M2800 6814h1M2608 6731h1M2623 6882h1M2367 6781h1M2695 6823h1M2921 6753h1M2800 6821h1M2452 6775h1M2715 6809h1M2579 6726h1M2771 6830h1M2551 6755h1M2509 6687h1M2716 6753h1M2623 6781h1M2414 6800h1M2592 6796h1M2456 6846h1M2575 6820h1M2876 6769h1M2647 6759h1M2783 6807h1M2498 6811h1M2843 6706h1M2601 6738h1M2555 6869h1M2748 6888h1M2656 6841h1M2720 6849h1M2597 6818h1M2755 6817h1M2632 6774h1M2552 6882h1M2700 6817h1M2653 6800h1M2719 6815h1M2641 6822h1M2698 6789h1M2620 6777h1M2763 6789h1M2697 6746h1M2741 6829h1M2823 6786h1M2750 6782h1M2705 6769h1M2505 6710h1M2772 6784h1M2570 6772h1M2558 6820h1M2537 6809h1M2721 6872h1M2624 6847h1M2673 6781h1" stroke="#000" stroke-width="8.5" stroke-linecap="square" stroke-opacity="0.72" fill="none" filter="url(#bd)"/>
<text x="187.0" y="703.0" font-size="10.2" letter-spacing="-0.35" fill="#111">10<tspan dy="-2.4" dx="-0.8">0</tspan></text>
<text x="213.0" y="703.0" font-size="10.2" letter-spacing="-0.35" fill="#111">10<tspan dy="-2.4" dx="-0.8">1</tspan></text>
<text x="239.0" y="703.0" font-size="10.2" letter-spacing="-0.35" fill="#111">10<tspan dy="-2.4" dx="-0.8">2</tspan></text>
<text x="265.0" y="703.0" font-size="10.2" letter-spacing="-0.35" fill="#111">10<tspan dy="-2.4" dx="-0.8">3</tspan></text>
<text x="291.0" y="703.0" font-size="10.2" letter-spacing="-0.35" fill="#111">10<tspan dy="-2.4" dx="-0.8">4</tspan></text>
<text transform="translate(187.9 698.0) rotate(-90)" font-size="10.2" letter-spacing="-0.35" fill="#111">10<tspan dy="-4.1" dx="-0.8">0</tspan></text>
<text transform="translate(187.9 676.42) rotate(-90)" font-size="10.2" letter-spacing="-0.35" fill="#111">10<tspan dy="-4.1" dx="-0.8">1</tspan></text>
<text transform="translate(187.9 654.85) rotate(-90)" font-size="10.2" letter-spacing="-0.35" fill="#111">10<tspan dy="-4.1" dx="-0.8">2</tspan></text>
<text transform="translate(187.9 633.28) rotate(-90)" font-size="10.2" letter-spacing="-0.35" fill="#111">10<tspan dy="-4.1" dx="-0.8">3</tspan></text>
<text transform="translate(187.9 611.7) rotate(-90)" font-size="10.2" letter-spacing="-0.35" fill="#111">10<tspan dy="-4.1" dx="-0.8">4</tspan></text>
<rect x="363.7" y="274.3" width="150.9" height="108.2" fill="none" stroke="#2a2a2a" stroke-width="1.1"/>
<rect x="374.46" y="373.66" width="16.2" height="8.84" fill="#050505"/>
<line x1="382.56" y1="372.94" x2="382.56" y2="373.66" stroke="#111" stroke-width="0.9"/>
<line x1="380.36" y1="372.94" x2="384.76" y2="372.94" stroke="#111" stroke-width="0.9"/>
<rect x="412.19" y="348.96" width="16.2" height="33.54" fill="#050505"/>
<line x1="420.29" y1="346.79" x2="420.29" y2="348.96" stroke="#111" stroke-width="0.9"/>
<line x1="418.09" y1="346.79" x2="422.49" y2="346.79" stroke="#111" stroke-width="0.9"/>
<rect x="449.91" y="324.07" width="16.2" height="58.43" fill="#050505"/>
<line x1="458.01" y1="323.44" x2="458.01" y2="324.07" stroke="#111" stroke-width="0.9"/>
<line x1="455.81" y1="323.44" x2="460.21" y2="323.44" stroke="#111" stroke-width="0.9"/>
<rect x="487.64" y="318.84" width="16.2" height="63.66" fill="#050505"/>
<line x1="495.74" y1="318.28" x2="495.74" y2="318.84" stroke="#111" stroke-width="0.9"/>
<line x1="493.54" y1="318.28" x2="497.94" y2="318.28" stroke="#111" stroke-width="0.9"/>
<text x="382.6" y="396.3" font-size="12" font-weight="bold" stroke="#111" stroke-width="0.4" text-anchor="middle" fill="#111">0</text>
<text x="420.3" y="396.3" font-size="12" font-weight="bold" stroke="#111" stroke-width="0.4" text-anchor="middle" fill="#111">0.1</text>
<text x="458.0" y="396.3" font-size="12" font-weight="bold" stroke="#111" stroke-width="0.4" text-anchor="middle" fill="#111">0.5</text>
<text x="495.7" y="396.3" font-size="12" font-weight="bold" stroke="#111" stroke-width="0.4" text-anchor="middle" fill="#111">1</text>
<text x="361.09999999999997" y="387.4" font-size="12" font-weight="bold" stroke="#111" stroke-width="0.4" text-anchor="end" fill="#111">0</text>
<text x="361.09999999999997" y="351.3" font-size="12" font-weight="bold" stroke="#111" stroke-width="0.4" text-anchor="end" fill="#111">20</text>
<text x="361.09999999999997" y="315.3" font-size="12" font-weight="bold" stroke="#111" stroke-width="0.4" text-anchor="end" fill="#111">40</text>
<text x="361.09999999999997" y="279.2" font-size="12" font-weight="bold" stroke="#111" stroke-width="0.4" text-anchor="end" fill="#111">60</text>
<text x="444.5" y="411.8" font-size="13" font-weight="bold" text-anchor="middle" fill="#111" stroke="#111" stroke-width="0.4">Taxol [<tspan font-style="italic">µ</tspan>M]</text>
<text x="343.3" y="389" font-size="12.3" font-weight="bold" fill="#111" stroke="#111" stroke-width="0.4" transform="rotate(-90 343.3 389)">hypodiploid cells [%]</text>
<rect x="364.2" y="433" width="151.7" height="108.2" fill="none" stroke="#2a2a2a" stroke-width="1.1"/>
<rect x="375.06" y="532.72" width="16.2" height="8.48" fill="#050505"/>
<line x1="383.16" y1="532.09" x2="383.16" y2="532.72" stroke="#111" stroke-width="0.9"/>
<line x1="380.96" y1="532.09" x2="385.36" y2="532.09" stroke="#111" stroke-width="0.9"/>
<rect x="412.99" y="489.62" width="16.2" height="51.58" fill="#050505"/>
<line x1="421.09" y1="485.12" x2="421.09" y2="489.62" stroke="#111" stroke-width="0.9"/>
<line x1="418.89" y1="485.12" x2="423.29" y2="485.12" stroke="#111" stroke-width="0.9"/>
<rect x="450.91" y="480.61" width="16.2" height="60.59" fill="#050505"/>
<line x1="459.01" y1="478.99" x2="459.01" y2="480.61" stroke="#111" stroke-width="0.9"/>
<line x1="456.81" y1="478.99" x2="461.21" y2="478.99" stroke="#111" stroke-width="0.9"/>
<rect x="488.84" y="466.54" width="16.2" height="74.66" fill="#050505"/>
<line x1="496.94" y1="464.38" x2="496.94" y2="466.54" stroke="#111" stroke-width="0.9"/>
<line x1="494.74" y1="464.38" x2="499.14" y2="464.38" stroke="#111" stroke-width="0.9"/>
<text x="383.2" y="554.2" font-size="12" font-weight="bold" stroke="#111" stroke-width="0.4" text-anchor="middle" fill="#111">0</text>
<text x="421.1" y="554.2" font-size="12" font-weight="bold" stroke="#111" stroke-width="0.4" text-anchor="middle" fill="#111">0.1</text>
<text x="459.0" y="554.2" font-size="12" font-weight="bold" stroke="#111" stroke-width="0.4" text-anchor="middle" fill="#111">0.5</text>
<text x="496.9" y="554.2" font-size="12" font-weight="bold" stroke="#111" stroke-width="0.4" text-anchor="middle" fill="#111">1</text>
<text x="361.59999999999997" y="546.1" font-size="12" font-weight="bold" stroke="#111" stroke-width="0.4" text-anchor="end" fill="#111">0</text>
<text x="361.59999999999997" y="510.0" font-size="12" font-weight="bold" stroke="#111" stroke-width="0.4" text-anchor="end" fill="#111">20</text>
<text x="361.59999999999997" y="474.0" font-size="12" font-weight="bold" stroke="#111" stroke-width="0.4" text-anchor="end" fill="#111">40</text>
<text x="361.59999999999997" y="437.9" font-size="12" font-weight="bold" stroke="#111" stroke-width="0.4" text-anchor="end" fill="#111">60</text>
<text x="444.5" y="571" font-size="13" font-weight="bold" text-anchor="middle" fill="#111" stroke="#111" stroke-width="0.4">Taxol [<tspan font-style="italic">µ</tspan>M]</text>
<text x="343.3" y="550.6" font-size="11.9" font-weight="bold" fill="#111" stroke="#111" stroke-width="0.4" transform="rotate(-90 343.3 550.6)">Annexin V<tspan dy="-3.5" font-size="8.5">+</tspan><tspan dy="3.5">/PI</tspan><tspan dy="-3.5" font-size="8.5">-</tspan><tspan dy="3.5"> cells [%]</tspan></text>
<rect x="364.2" y="592" width="154.8" height="108.5" fill="none" stroke="#2a2a2a" stroke-width="1.1"/>
<rect x="375.45" y="693.09" width="16.2" height="7.41" fill="#050505"/>
<line x1="383.55" y1="691.28" x2="383.55" y2="693.09" stroke="#111" stroke-width="0.9"/>
<line x1="381.35" y1="691.28" x2="385.75" y2="691.28" stroke="#111" stroke-width="0.9"/>
<rect x="414.15" y="646.25" width="16.2" height="54.25" fill="#050505"/>
<line x1="422.25" y1="640.83" x2="422.25" y2="646.25" stroke="#111" stroke-width="0.9"/>
<line x1="420.05" y1="640.83" x2="424.45" y2="640.83" stroke="#111" stroke-width="0.9"/>
<rect x="452.85" y="652.4" width="16.2" height="48.1" fill="#050505"/>
<line x1="460.95" y1="651.67" x2="460.95" y2="652.4" stroke="#111" stroke-width="0.9"/>
<line x1="458.75" y1="651.67" x2="463.15" y2="651.67" stroke="#111" stroke-width="0.9"/>
<rect x="491.55" y="668.31" width="16.2" height="32.19" fill="#050505"/>
<line x1="499.65" y1="666.5" x2="499.65" y2="668.31" stroke="#111" stroke-width="0.9"/>
<line x1="497.45" y1="666.5" x2="501.85" y2="666.5" stroke="#111" stroke-width="0.9"/>
<text x="383.6" y="714.7" font-size="12" font-weight="bold" stroke="#111" stroke-width="0.4" text-anchor="middle" fill="#111">0</text>
<text x="422.2" y="714.7" font-size="12" font-weight="bold" stroke="#111" stroke-width="0.4" text-anchor="middle" fill="#111">0.1</text>
<text x="460.9" y="714.7" font-size="12" font-weight="bold" stroke="#111" stroke-width="0.4" text-anchor="middle" fill="#111">0.5</text>
<text x="499.6" y="714.7" font-size="12" font-weight="bold" stroke="#111" stroke-width="0.4" text-anchor="middle" fill="#111">1</text>
<text x="361.59999999999997" y="705.4" font-size="12" font-weight="bold" stroke="#111" stroke-width="0.4" text-anchor="end" fill="#111">0</text>
<text x="361.59999999999997" y="669.2" font-size="12" font-weight="bold" stroke="#111" stroke-width="0.4" text-anchor="end" fill="#111">20</text>
<text x="361.59999999999997" y="633.1" font-size="12" font-weight="bold" stroke="#111" stroke-width="0.4" text-anchor="end" fill="#111">40</text>
<text x="361.59999999999997" y="596.9" font-size="12" font-weight="bold" stroke="#111" stroke-width="0.4" text-anchor="end" fill="#111">60</text>
<text x="444.5" y="730.2" font-size="13" font-weight="bold" text-anchor="middle" fill="#111" stroke="#111" stroke-width="0.4">Taxol [<tspan font-style="italic">µ</tspan>M]</text>
<text x="343.3" y="703" font-size="12.3" font-weight="bold" fill="#111" stroke="#111" stroke-width="0.4" transform="rotate(-90 343.3 703)"><tspan font-family="'Liberation Serif', serif" font-size="12" stroke-width="0.2">ΔΨ</tspan><tspan dy="3.5" font-size="8.2">m</tspan><tspan dy="-10.5" font-size="8.6" dx="0.8">low</tspan><tspan dy="7">/PI</tspan><tspan dy="-3.5" font-size="8.5">-</tspan><tspan dy="3.5"> cells [%]</tspan></text>
</svg></body></html>
